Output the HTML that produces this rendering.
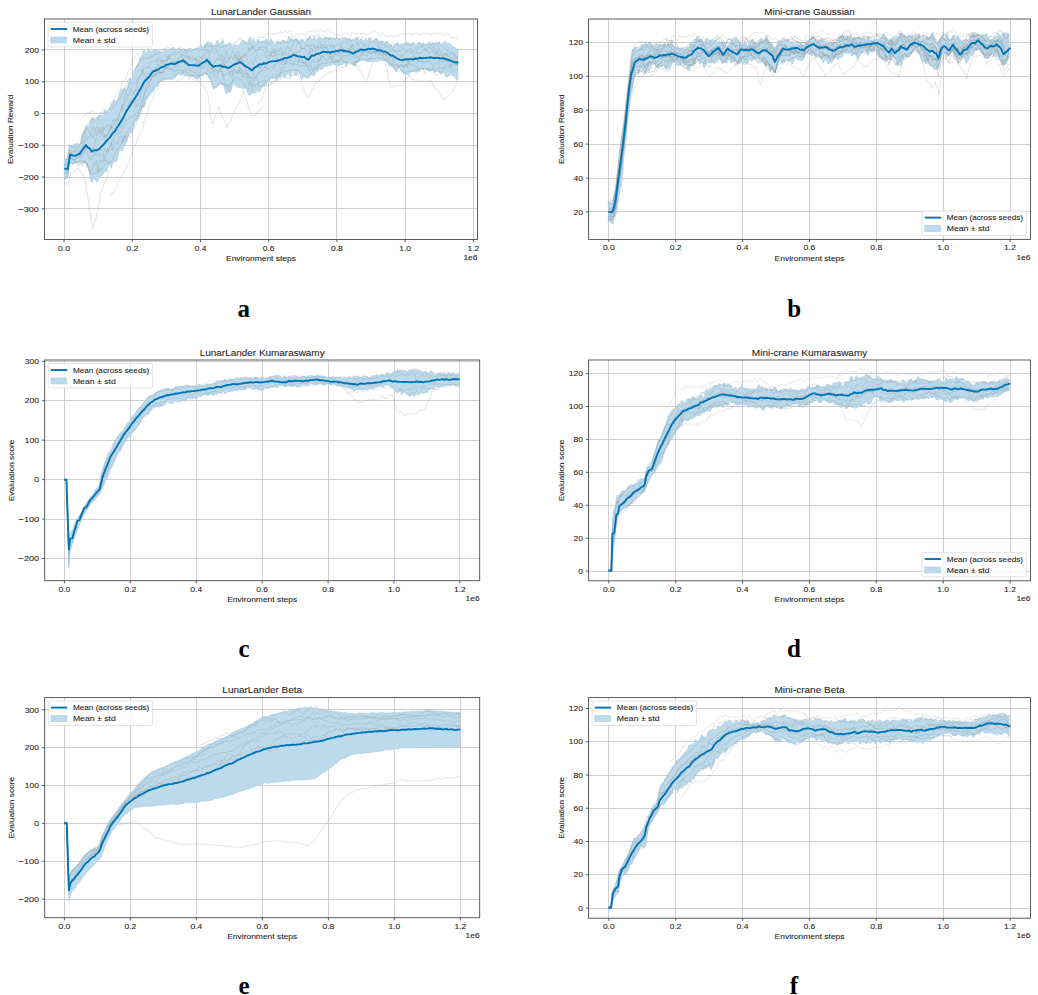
<!DOCTYPE html>
<html><head><meta charset="utf-8"><style>
html,body{margin:0;padding:0;background:#fff;width:1038px;height:995px;overflow:hidden}
svg{display:block}
</style></head><body>
<svg width="1038" height="995" viewBox="0 0 1038 995"><rect width="1038" height="995" fill="#fff"/><clipPath id="clipa"><rect x="44.5" y="19" width="433.0" height="220.5"/></clipPath><path d="M64.50 19V239.5M132.50 19V239.5M200.50 19V239.5M268.50 19V239.5M336.50 19V239.5M405.50 19V239.5M473.50 19V239.5M44.5 49.50H477.5M44.5 81.50H477.5M44.5 113.50H477.5M44.5 145.50H477.5M44.5 177.50H477.5M44.5 208.50H477.5" stroke="#c9c9c9" stroke-width="0.9" fill="none"/><g clip-path="url(#clipa)"><polyline points="64.3,183.6 65.5,183.3 66.7,184.0 67.9,185.0 69.1,179.9 70.3,173.4 70.5,172.5 71.5,171.9 72.7,172.1 73.9,171.8 75.1,170.3 76.3,169.5 77.2,167.9 77.5,167.9 78.7,170.2 79.9,171.1 81.1,172.8 82.3,175.0 83.5,175.5 83.8,175.2 84.7,179.2 85.9,185.5 87.1,193.2 88.3,200.0 89.3,206.6 90.7,216.9 91.9,224.2 92.6,228.6 93.1,227.1 94.3,223.7 95.5,219.7 96.0,218.0 96.7,215.1 97.9,209.1 99.1,202.9 100.3,196.6 101.5,189.8 102.7,187.2 103.9,184.8 105.1,181.8 106.3,179.1 107.5,175.9 108.1,174.4 108.7,172.7 109.9,169.7 111.1,167.0 112.3,164.8 113.5,163.4 114.7,160.0 115.9,157.7 117.0,156.7 118.3,152.6 119.5,150.0 120.7,149.2 121.9,149.2 123.1,147.8 124.3,144.9 125.5,142.5 125.8,143.2 126.7,139.1 127.9,133.0 129.1,129.0 130.3,124.8 131.5,118.8 132.4,115.2 133.9,113.4 135.1,111.2 136.3,109.2 137.5,105.8 138.7,103.6 139.1,103.9 139.9,101.3 141.1,96.4 142.3,92.9 143.5,90.3 144.7,86.6 145.7,84.7 147.1,85.0 148.3,82.6 149.5,80.9 150.7,79.1 151.9,77.2 153.1,77.6 154.3,74.7 154.6,73.8 155.5,74.8 156.7,74.4 157.9,73.2 159.1,73.8 160.3,75.1 161.5,76.5 162.7,75.6 163.4,74.1" fill="none" stroke="#9a9a9a" stroke-opacity="0.4" stroke-width="0.7"/><polyline points="83.8,114.0 85.0,115.0 86.2,115.1 87.4,112.6 88.6,112.8 89.8,112.3 91.0,111.8 92.2,112.0 92.6,110.9 93.4,112.6 94.6,114.1 95.8,112.8 97.0,113.0 98.2,114.2 99.4,113.7 100.6,112.9 101.5,112.1 101.8,112.9 103.0,112.2 104.2,110.6 105.4,109.8 106.6,110.4 107.8,109.8 109.0,108.7 110.2,108.1 110.3,107.2 111.4,104.8 112.6,101.8 113.8,99.9 115.0,98.2 116.2,94.8 117.4,92.5 118.6,91.1 119.8,89.3 121.0,87.7 121.4,85.7 122.2,82.3 123.4,80.4 124.6,79.9 125.8,78.9 127.0,74.9 128.2,71.5 129.4,69.5 130.2,70.1 130.6,70.1 131.8,62.7 132.4,57.7 133.0,58.8 134.2,59.2 135.4,55.6 136.6,53.9 137.8,55.0 139.0,54.0 139.1,53.1" fill="none" stroke="#9a9a9a" stroke-opacity="0.4" stroke-width="0.7"/><polyline points="110.3,196.1 111.5,193.6 112.7,192.9 113.9,192.1 115.1,188.2 116.3,186.6 117.5,185.1 118.7,181.6 119.9,179.7 121.1,178.1 121.4,177.7 122.3,175.9 123.5,172.6 124.7,170.4 125.9,168.6 127.1,165.3 128.3,162.5 129.5,159.9 130.7,156.0 131.9,152.0 132.4,151.7 133.1,149.1 134.3,146.6 135.5,144.8 136.7,141.2 137.9,138.4 139.1,134.2 140.3,131.3 141.5,130.4 142.7,128.6 143.5,125.6 143.9,121.3 145.1,118.7 146.3,116.9 147.5,112.1 148.7,108.6 149.9,104.4 151.1,100.7 152.3,99.9 153.5,96.6 154.6,92.3 155.9,90.9 157.1,89.4 158.3,87.4 159.5,86.3 160.7,85.2 161.9,84.8 163.1,84.5 164.3,82.6 165.5,81.6 165.6,81.6" fill="none" stroke="#9a9a9a" stroke-opacity="0.4" stroke-width="0.7"/><polyline points="176.7,81.3 177.9,80.6 179.1,79.5 180.3,80.0 181.5,79.3 182.7,76.8 183.9,75.6 185.1,74.1 185.5,73.7 186.3,74.7 187.5,74.4 188.7,73.7 189.9,75.1 191.1,77.3 192.3,78.0 193.5,79.4 194.7,80.4 195.9,80.9 197.1,80.4 198.3,79.3 198.8,80.7 199.5,82.7 200.7,83.7 201.9,85.8 203.1,86.3 204.3,87.0 205.5,90.6 206.7,92.3 207.6,92.8 209.1,103.9 210.3,113.4 211.5,121.0 212.0,123.5 212.7,123.8 213.9,121.9 215.1,116.5 216.3,113.2 217.5,110.9 218.7,107.3 218.7,106.8 219.9,109.5 221.1,113.0 222.3,116.2 223.5,119.4 224.7,121.1 225.9,124.3 227.1,127.5 227.5,124.8 228.3,123.5 229.5,123.5 230.7,121.1 231.9,116.6 233.1,113.9 234.3,111.7 235.5,108.8 236.4,106.9 236.7,106.5 237.9,105.4 239.1,103.4 240.3,98.7 241.5,96.8 242.7,94.1 243.0,90.0 243.9,92.5 245.1,96.7 246.3,100.7 247.5,103.3 248.7,107.3 249.9,111.6 251.1,114.9 251.8,116.4 252.3,116.0 253.5,115.6 254.7,115.5 255.9,114.7 257.1,111.9 258.3,110.7 259.5,110.6 260.7,108.7 261.9,107.0 263.1,107.0 264.0,105.9" fill="none" stroke="#9a9a9a" stroke-opacity="0.4" stroke-width="0.7"/><polyline points="258.0,36.9 259.2,37.8 260.4,37.7 261.6,37.4 262.8,37.2 264.0,37.6 265.2,36.4 266.4,33.9 267.6,35.0 268.8,34.9 269.1,34.5 270.0,34.1 271.2,33.5 272.4,34.1 273.6,33.6 274.8,34.1 276.0,34.2 277.2,33.2 278.4,33.5 279.6,32.6 280.1,31.6 280.8,32.2 282.0,33.5 283.2,32.9 284.4,31.3 285.6,31.7 286.8,32.6 288.0,32.5 289.2,31.6 290.4,31.7 291.6,34.8 292.8,37.0 294.0,36.1 295.2,35.0 296.4,34.6 297.6,35.1 298.8,34.3 300.0,33.2 301.2,34.2 302.2,34.6 303.6,34.4 304.8,34.4 306.0,33.9 307.2,33.0 308.4,32.1 309.6,31.5 310.8,31.6 312.0,31.3 313.2,30.4 314.4,30.0 315.6,31.0 316.8,31.8 317.7,31.1 318.0,30.7 319.2,31.0 320.4,30.7 321.6,29.7 322.8,30.8 324.0,31.7 325.2,31.4 326.4,30.9 327.6,28.7 328.8,29.2 330.0,31.8 331.2,31.9 332.4,32.2 333.6,33.5 334.8,34.3 336.0,34.0 337.2,35.3 337.6,35.9 338.4,34.5 339.6,35.2 340.8,35.3 342.0,35.1 343.2,35.0 344.4,33.0 345.6,32.4 346.8,33.5 348.0,34.5 349.2,35.7 350.4,35.8 351.6,33.6 352.8,32.9 354.0,33.9 355.2,33.6 356.4,33.3 357.5,33.8 358.8,33.6 360.0,33.7 361.2,33.8 362.4,33.6 363.6,34.1 364.8,34.2 366.0,34.2 367.2,34.8 368.4,34.5 369.6,33.6 370.8,32.7 372.0,31.8 373.0,31.4 374.4,31.9 375.6,31.8 376.8,31.9 378.0,33.5 379.2,34.6 380.4,35.3 381.6,33.8 382.8,32.7 384.0,34.5 385.2,34.6 386.4,35.8 387.6,37.4 388.8,35.9 390.0,35.2 390.7,35.9 391.2,35.5 392.4,35.4 393.6,37.1 394.8,36.8 396.0,35.5 397.2,35.9 398.4,36.3 399.6,34.2 400.8,33.1 402.0,34.7 403.2,33.5 404.4,33.3 405.6,33.7 406.8,34.2 408.0,34.4 408.4,34.0 409.2,33.3 410.4,33.5 411.6,35.7 412.8,34.1 414.0,32.9 415.2,33.5 416.4,32.8 417.6,32.7 418.8,34.6 420.0,34.8 421.2,33.8 422.4,33.4 423.6,33.3 424.8,34.2 426.0,33.4 426.0,33.5 427.2,33.6 428.4,33.0 429.6,35.3 430.8,35.2 432.0,33.4 433.2,33.6 434.4,32.4 435.6,32.4 436.8,33.7 438.0,33.4 439.2,33.8 440.4,33.0 441.6,33.8 442.8,34.7 443.7,34.5 445.2,35.4 446.4,34.1 447.6,33.2 448.8,34.8 450.0,35.7 451.2,36.8 452.4,37.3 453.6,37.7 454.8,37.9 456.0,37.7 457.2,38.7 458.1,38.2" fill="none" stroke="#9a9a9a" stroke-opacity="0.4" stroke-width="0.7"/><polyline points="258.0,104.7 259.2,101.3 260.4,101.0 261.6,99.7 262.8,95.3 264.0,92.1 265.2,88.7 266.4,86.0 266.8,86.3 267.6,86.1 268.8,85.3 270.0,84.5 271.2,83.4 272.4,81.9 273.6,81.1 274.8,79.9 276.0,80.3 277.2,79.9 278.4,79.8 279.6,80.2 280.1,78.9 280.8,79.3 282.0,78.9 283.2,77.3 284.4,77.0 285.6,77.2 286.8,77.9 288.0,78.6 289.2,78.7 290.4,77.8 291.6,76.3 292.8,75.5 294.0,75.1 295.2,74.2 296.4,74.3 297.6,73.6 297.8,73.6 298.8,77.6 300.0,79.3 301.2,81.5 302.4,85.1 303.6,88.3 304.8,91.6 306.0,94.8 307.2,96.6 307.7,97.7 308.4,97.7 309.6,95.7 310.8,92.4 312.0,89.3 313.2,87.9 314.4,85.1 315.5,83.0 316.8,82.9 318.0,81.5 319.2,81.1 320.4,78.2 321.6,77.1 322.8,77.5 324.0,76.3 325.2,75.6 326.4,73.6 327.6,71.9 328.8,72.2 330.0,72.6 331.2,71.7 332.4,71.2 333.6,70.2 334.8,69.2 336.0,69.9 337.2,70.8 338.4,69.7 339.6,67.7 340.8,67.4 342.0,67.6 342.0,67.1 343.2,68.3 344.4,67.7 345.6,65.3 346.8,65.6 348.0,65.4 349.2,64.4 350.4,63.5 351.6,63.2 352.8,63.5 354.0,64.3 355.2,65.1 355.3,63.4 356.4,64.3 357.6,66.7 358.8,69.4 360.0,71.4 361.2,72.1 362.4,74.7 363.6,78.1 364.8,79.8 366.0,81.9 366.3,83.6 367.2,80.1 368.4,76.0 369.6,71.9 370.8,67.0 372.0,64.5 373.0,60.3 374.4,59.0 375.6,61.9 376.8,61.5 378.0,58.9 379.2,58.9 380.4,58.5 381.6,58.9 382.8,60.3 384.0,59.5 384.0,59.2 385.2,63.8 386.4,67.1 387.6,71.6 388.8,78.1 390.0,83.6 391.2,87.0 391.8,87.6 392.4,87.1 393.6,87.0 394.8,86.8 396.0,85.9 397.2,85.7 398.4,85.4 399.6,84.9 400.8,84.7 401.7,85.6 403.2,85.1 404.4,82.1 405.6,79.2 406.8,77.5 408.0,77.8 408.4,76.9 409.2,74.3 410.4,76.5 411.6,79.6 412.8,79.7 414.0,79.4 415.2,80.2 416.4,81.2 417.2,80.6 417.6,80.0 418.8,80.5 420.0,80.3 421.2,80.8 422.4,81.0 423.6,81.6 424.8,81.5 426.0,80.6 427.2,81.6 428.4,82.3 429.6,80.0 430.5,80.2 430.8,81.3 432.0,81.5 433.2,85.5 434.4,88.0 435.6,88.9 436.8,89.3 438.0,90.1 439.2,92.3 440.4,94.2 441.6,96.6 442.8,99.2 443.7,99.4 445.2,97.5 446.4,97.3 447.6,96.4 448.8,95.7 450.0,94.5 451.2,92.7 452.4,91.4 452.6,92.3 453.6,89.4 454.8,86.7 456.0,84.6 457.2,81.6 458.1,81.7" fill="none" stroke="#9a9a9a" stroke-opacity="0.4" stroke-width="0.7"/><polygon points="64.3,159.3 65.5,159.3 66.7,158.9 67.9,156.3 69.1,144.6 70.3,146.3 71.5,145.3 72.7,145.3 73.9,143.8 75.1,144.1 76.3,144.0 77.5,142.7 78.7,144.4 79.9,145.1 81.1,140.4 82.3,133.6 83.5,131.4 84.7,129.1 85.9,126.2 87.1,125.5 88.3,126.6 89.5,124.9 90.7,119.9 91.9,117.6 93.1,118.5 94.3,119.0 95.5,120.2 96.7,117.5 97.9,116.0 99.1,115.2 100.3,114.4 101.5,115.7 102.7,116.9 103.9,113.0 105.1,109.6 106.3,112.0 107.5,111.8 108.7,111.3 109.9,107.4 111.1,104.0 112.3,102.8 113.5,99.6 114.7,99.7 115.9,101.9 117.1,100.4 118.3,97.5 119.5,93.0 120.7,89.4 121.9,89.4 123.1,89.0 124.3,87.7 125.5,89.3 126.7,89.9 127.9,85.0 129.1,80.3 130.3,78.0 131.5,79.0 132.7,77.8 133.9,72.7 135.1,69.0 136.3,66.8 137.5,65.4 138.7,62.4 139.9,58.0 141.1,55.9 142.3,55.6 143.5,50.5 144.7,50.4 145.9,54.8 147.1,50.2 148.3,48.2 149.5,50.6 150.7,50.9 151.9,51.9 153.1,50.3 154.3,50.4 155.5,49.3 156.7,49.4 157.9,50.9 159.1,50.5 160.3,51.5 161.5,52.5 162.7,52.0 163.9,50.3 165.1,50.5 166.3,49.4 167.5,49.6 168.7,50.8 169.9,50.1 171.1,49.2 172.3,47.5 173.5,47.2 174.7,48.8 175.9,51.1 177.1,50.0 178.3,48.4 179.5,48.6 180.7,49.8 181.9,50.5 183.1,49.3 184.3,49.1 185.5,49.1 186.7,49.9 187.9,48.7 189.1,47.9 190.3,48.4 191.5,48.5 192.7,50.5 193.9,49.4 195.1,48.8 196.3,48.5 197.5,47.9 198.7,48.0 199.9,45.0 201.1,45.1 202.3,47.4 203.5,47.2 204.7,44.6 205.9,43.1 207.1,42.2 208.3,41.0 209.5,42.9 210.7,42.5 211.9,43.2 213.1,45.5 214.3,45.4 215.5,45.5 216.7,40.8 217.9,40.0 219.1,43.5 220.3,44.0 221.5,41.5 222.7,39.3 223.9,42.4 225.1,45.3 226.3,44.1 227.5,45.0 228.7,44.0 229.9,41.9 231.1,45.4 232.3,46.2 233.5,44.8 234.7,44.7 235.9,44.5 237.1,45.1 238.3,45.9 239.5,44.1 240.7,42.5 241.9,41.5 243.1,40.0 244.3,41.3 245.5,42.5 246.7,42.2 247.9,41.8 249.1,37.8 250.3,36.9 251.5,40.2 252.7,39.2 253.9,38.9 255.1,41.9 256.3,42.2 257.5,39.4 258.7,39.3 259.9,42.1 261.1,42.4 262.3,40.3 263.5,41.4 264.7,41.0 265.9,38.7 267.1,39.7 268.3,42.4 269.5,41.6 270.7,38.5 271.9,40.3 273.1,42.2 274.3,43.8 275.5,44.9 276.7,42.0 277.9,40.4 279.1,41.7 280.3,42.0 281.5,41.0 282.7,40.1 283.9,40.6 285.1,40.8 286.3,41.8 287.5,40.6 288.7,36.0 289.9,37.0 291.1,38.3 292.3,38.8 293.5,39.6 294.7,39.4 295.9,39.4 297.1,38.6 298.3,39.6 299.5,41.7 300.7,40.8 301.9,38.4 303.1,39.8 304.3,42.4 305.5,42.2 306.7,38.9 307.9,38.2 309.1,37.9 310.3,36.3 311.5,39.0 312.7,39.6 313.9,36.2 315.1,37.5 316.3,40.2 317.5,39.8 318.7,36.5 319.9,37.2 321.1,38.0 322.3,38.1 323.5,39.8 324.7,37.2 325.9,36.6 327.1,38.6 328.3,38.3 329.5,36.5 330.7,38.2 331.9,38.9 333.1,37.7 334.3,38.4 335.5,39.4 336.7,37.6 337.9,38.4 339.1,39.6 340.3,38.6 341.5,39.2 342.7,38.6 343.9,38.1 345.1,38.5 346.3,38.0 347.5,38.5 348.7,38.6 349.9,38.1 351.1,39.7 352.3,39.5 353.5,39.9 354.7,39.2 355.9,37.5 357.1,38.1 358.3,39.1 359.5,40.3 360.7,39.4 361.9,39.2 363.1,40.8 364.3,40.8 365.5,39.2 366.7,40.2 367.9,40.9 369.1,38.1 370.3,38.0 371.5,40.4 372.7,41.4 373.9,40.6 375.1,39.2 376.3,38.0 377.5,39.2 378.7,41.4 379.9,41.3 381.1,40.7 382.3,41.2 383.5,42.1 384.7,43.8 385.9,41.5 387.1,40.9 388.3,44.7 389.5,44.9 390.7,44.5 391.9,45.9 393.1,46.3 394.3,44.9 395.5,44.6 396.7,43.0 397.9,42.3 399.1,45.3 400.3,45.4 401.5,43.5 402.7,44.2 403.9,44.7 405.1,43.0 406.3,42.3 407.5,41.9 408.7,43.2 409.9,44.1 411.1,44.3 412.3,43.8 413.5,42.4 414.7,44.9 415.9,45.8 417.1,43.9 418.3,43.1 419.5,42.1 420.7,43.0 421.9,44.7 423.1,42.5 424.3,43.8 425.5,46.0 426.7,43.8 427.9,42.9 429.1,42.2 430.3,42.1 431.5,42.9 432.7,42.6 433.9,42.9 435.1,43.1 436.3,42.3 437.5,43.1 438.7,42.0 439.9,42.6 441.1,44.7 442.3,43.2 443.5,42.2 444.7,42.3 445.9,41.7 447.1,43.6 448.3,43.7 449.5,42.6 450.7,44.4 451.9,45.4 453.1,46.7 454.3,47.4 455.5,48.1 456.7,48.9 457.9,49.6 457.9,79.4 456.7,80.3 455.5,77.8 454.3,75.7 453.1,76.2 451.9,74.7 450.7,74.6 449.5,75.9 448.3,76.2 447.1,76.9 445.9,76.9 444.7,75.0 443.5,72.2 442.3,73.3 441.1,74.3 439.9,72.3 438.7,71.9 437.5,71.0 436.3,71.7 435.1,72.8 433.9,71.5 432.7,69.9 431.5,70.1 430.3,70.9 429.1,72.0 427.9,70.6 426.7,69.6 425.5,69.3 424.3,68.8 423.1,69.9 421.9,68.4 420.7,68.9 419.5,70.9 418.3,71.6 417.1,72.1 415.9,72.2 414.7,71.7 413.5,71.6 412.3,71.5 411.1,71.9 409.9,73.1 408.7,74.2 407.5,75.0 406.3,74.0 405.1,74.1 403.9,73.5 402.7,71.4 401.5,71.1 400.3,70.2 399.1,67.8 397.9,68.7 396.7,71.9 395.5,70.9 394.3,69.6 393.1,67.7 391.9,66.7 390.7,66.6 389.5,65.8 388.3,65.0 387.1,62.9 385.9,61.6 384.7,60.7 383.5,60.7 382.3,60.9 381.1,59.7 379.9,59.9 378.7,61.1 377.5,61.2 376.3,59.7 375.1,60.2 373.9,61.9 372.7,61.8 371.5,61.7 370.3,62.0 369.1,60.9 367.9,62.0 366.7,62.0 365.5,59.9 364.3,60.5 363.1,60.3 361.9,59.7 360.7,61.0 359.5,61.7 358.3,61.3 357.1,62.8 355.9,65.1 354.7,67.0 353.5,65.4 352.3,62.9 351.1,61.8 349.9,61.4 348.7,61.0 347.5,63.6 346.3,66.8 345.1,63.3 343.9,62.2 342.7,64.7 341.5,64.7 340.3,65.1 339.1,65.9 337.9,65.7 336.7,66.0 335.5,65.2 334.3,65.1 333.1,63.8 331.9,64.3 330.7,66.4 329.5,65.1 328.3,65.4 327.1,66.8 325.9,66.3 324.7,66.2 323.5,66.9 322.3,69.3 321.1,70.0 319.9,67.5 318.7,69.7 317.5,71.4 316.3,71.0 315.1,73.9 313.9,76.4 312.7,75.1 311.5,75.2 310.3,75.1 309.1,76.2 307.9,78.1 306.7,77.1 305.5,77.6 304.3,75.6 303.1,78.1 301.9,79.8 300.7,77.3 299.5,73.6 298.3,71.2 297.1,74.4 295.9,76.1 294.7,74.7 293.5,70.1 292.3,70.6 291.1,76.7 289.9,76.7 288.7,73.1 287.5,73.5 286.3,75.5 285.1,77.4 283.9,77.1 282.7,75.1 281.5,75.8 280.3,78.2 279.1,77.3 277.9,76.2 276.7,78.8 275.5,79.3 274.3,78.1 273.1,79.0 271.9,77.9 270.7,77.3 269.5,82.2 268.3,82.3 267.1,81.6 265.9,84.1 264.7,86.5 263.5,86.8 262.3,87.2 261.1,89.0 259.9,91.6 258.7,92.1 257.5,89.7 256.3,91.4 255.1,93.5 253.9,93.4 252.7,93.0 251.5,94.0 250.3,95.1 249.1,95.4 247.9,93.6 246.7,89.8 245.5,87.7 244.3,88.6 243.1,88.9 241.9,88.0 240.7,87.4 239.5,87.4 238.3,87.2 237.1,87.7 235.9,85.4 234.7,84.9 233.5,83.9 232.3,85.9 231.1,91.3 229.9,92.4 228.7,92.3 227.5,93.3 226.3,93.8 225.1,90.6 223.9,85.6 222.7,85.5 221.5,84.4 220.3,83.9 219.1,84.9 217.9,85.7 216.7,87.7 215.5,87.1 214.3,89.3 213.1,88.4 211.9,82.9 210.7,79.5 209.5,78.6 208.3,77.3 207.1,75.1 205.9,74.3 204.7,73.3 203.5,74.4 202.3,75.1 201.1,74.9 199.9,78.2 198.7,78.8 197.5,77.3 196.3,78.9 195.1,77.9 193.9,76.8 192.7,76.7 191.5,75.5 190.3,76.2 189.1,76.4 187.9,76.3 186.7,75.1 185.5,76.1 184.3,76.1 183.1,73.3 181.9,75.2 180.7,75.7 179.5,74.1 178.3,73.4 177.1,74.9 175.9,77.0 174.7,77.8 173.5,79.1 172.3,79.4 171.1,79.8 169.9,79.6 168.7,78.6 167.5,79.7 166.3,79.5 165.1,79.2 163.9,79.7 162.7,81.3 161.5,81.8 160.3,80.6 159.1,83.5 157.9,86.4 156.7,86.2 155.5,87.5 154.3,89.4 153.1,92.1 151.9,91.9 150.7,93.5 149.5,96.1 148.3,97.2 147.1,99.3 145.9,100.5 144.7,105.6 143.5,107.9 142.3,105.7 141.1,109.7 139.9,115.0 138.7,117.4 137.5,120.4 136.3,120.2 135.1,121.9 133.9,127.1 132.7,130.1 131.5,132.4 130.3,132.7 129.1,133.1 127.9,137.6 126.7,141.5 125.5,143.8 124.3,145.1 123.1,148.6 121.9,151.3 120.7,149.4 119.5,149.1 118.3,154.7 117.1,160.4 115.9,161.1 114.7,162.2 113.5,160.8 112.3,163.3 111.1,167.8 109.9,164.6 108.7,164.2 107.5,169.8 106.3,172.2 105.1,171.1 103.9,171.9 102.7,174.9 101.5,175.8 100.3,176.4 99.1,177.9 97.9,181.2 96.7,181.8 95.5,179.4 94.3,178.8 93.1,180.1 91.9,182.6 90.7,180.9 89.5,172.9 88.3,168.1 87.1,167.1 85.9,162.6 84.7,163.2 83.5,162.4 82.3,162.1 81.1,162.5 79.9,162.7 78.7,163.7 77.5,162.7 76.3,162.2 75.1,162.9 73.9,163.8 72.7,163.9 71.5,162.5 70.3,163.5 69.1,164.0 67.9,177.7 66.7,179.2 65.5,178.9 64.3,178.4" fill="#bcdaeb" stroke="#9fc6de" stroke-width="0.5"/><polyline points="64.3,158.6 65.5,158.3 66.7,159.0 67.9,157.6 69.1,151.4 70.3,144.9 71.5,146.4 72.7,147.3 73.9,148.2 75.1,145.8 76.3,145.7 77.5,147.1 78.7,145.3 79.9,143.9 81.1,142.1 82.3,136.9 83.5,134.2 84.7,130.0 85.9,126.7 87.1,125.5 88.3,124.3 89.5,122.9 90.7,122.0 91.9,119.2 93.1,117.6 94.3,120.3 95.5,119.5 96.7,118.6 97.9,119.8 99.1,117.0 100.3,115.4 101.5,115.3 102.7,113.3 103.9,114.1 105.1,113.1 106.3,112.4 107.5,111.4 108.7,109.8 109.9,109.7 111.1,107.7 112.3,108.3 113.5,106.4 114.7,105.2 115.9,103.9 117.1,102.8 118.3,99.2 119.5,97.9 120.7,97.9 121.9,94.6 123.1,91.6 124.3,91.8 125.5,87.8 126.7,83.5 127.9,80.4 129.1,79.0 130.3,76.9 131.5,73.6 132.7,71.6 133.9,70.0 135.1,69.0 136.3,66.1 137.5,66.3 138.7,62.5 139.9,61.8 141.1,59.8 142.3,58.9 143.5,58.8 144.7,58.5 145.9,57.7 147.1,58.0 148.3,57.6 149.5,58.4 150.7,56.0 151.9,56.2 153.1,56.6 154.3,54.1 155.5,54.8 156.7,53.9 157.9,52.3 159.1,52.6 160.3,53.1 161.5,51.1 162.7,49.4 163.9,49.1 165.1,48.9 166.3,48.8 167.5,47.1 168.7,47.5 169.9,48.6 171.1,49.0 172.3,48.1 173.5,49.3 174.7,49.0 175.9,49.0 177.1,49.6 178.3,47.8 179.5,47.3 180.7,51.2 181.9,47.8 183.1,48.6 184.3,50.0 185.5,51.0 186.7,49.9 187.9,52.2 189.1,50.4 190.3,50.4 191.5,50.9 192.7,49.9 193.9,49.9 195.1,49.4 196.3,47.8 197.5,47.8 198.7,49.0 199.9,49.1 201.1,50.0 202.3,49.9 203.5,49.8 204.7,46.0 205.9,46.8 207.1,45.5 208.3,46.3 209.5,46.2 210.7,47.1 211.9,45.9 213.1,46.8 214.3,44.6 215.5,45.4 216.7,45.7 217.9,45.3 219.1,45.7 220.3,47.7 221.5,47.4 222.7,46.8 223.9,46.7 225.1,45.2 226.3,46.2 227.5,44.2 228.7,43.7 229.9,43.1 231.1,44.6 232.3,44.9 233.5,43.0 234.7,42.7 235.9,42.8 237.1,41.3 238.3,39.3 239.5,38.6 240.7,38.3 241.9,40.2 243.1,40.2 244.3,41.9 245.5,42.4 246.7,44.5 247.9,43.3 249.1,42.7 250.3,42.6 251.5,43.6 252.7,47.8 253.9,46.0 255.1,46.1 256.3,45.4 257.5,44.2 258.7,42.6 259.9,41.9 261.1,43.1 262.3,42.1 263.5,42.0 264.7,42.7 265.9,42.1 267.1,43.9 268.3,44.0 269.5,44.4 270.7,42.3 271.9,41.5 273.1,41.4 274.3,41.0 275.5,41.4 276.7,43.9 277.9,42.1 279.1,43.4 280.3,43.0 281.5,43.6 282.7,44.0 283.9,41.8 285.1,41.3 286.3,42.5 287.5,42.3 288.7,42.7 289.9,41.9 291.1,40.1 292.3,40.1 293.5,41.0 294.7,40.1 295.9,40.0 297.1,41.0 298.3,42.3 299.5,42.2 300.7,41.5 301.9,41.4 303.1,40.0 304.3,39.9 305.5,38.2 306.7,39.4 307.9,40.2 309.1,38.9 310.3,36.4 311.5,35.2 312.7,35.6 313.9,35.2 315.1,36.1 316.3,35.5 317.5,36.1 318.7,34.0 319.9,35.2 321.1,34.5 322.3,35.4 323.5,36.4 324.7,37.1 325.9,38.9 327.1,37.3 328.3,39.5 329.5,39.1 330.7,39.1 331.9,38.4 333.1,38.0 334.3,38.2 335.5,38.7 336.7,38.1 337.9,38.3 339.1,39.6 340.3,36.9 341.5,37.8 342.7,37.4 343.9,38.0 345.1,36.4 346.3,38.3 347.5,40.2 348.7,39.6 349.9,41.4 351.1,41.2 352.3,39.8 353.5,38.9 354.7,39.2 355.9,38.4 357.1,39.4 358.3,37.1 359.5,37.5 360.7,39.2 361.9,38.8 363.1,36.7 364.3,37.6 365.5,38.2 366.7,38.7 367.9,38.0 369.1,38.8 370.3,39.0 371.5,38.5 372.7,39.4 373.9,40.3 375.1,39.5 376.3,39.3 377.5,40.6 378.7,41.8 379.9,41.6 381.1,42.5 382.3,41.1 383.5,41.8 384.7,42.1 385.9,41.7 387.1,42.8 388.3,43.3 389.5,43.2 390.7,44.5 391.9,44.7 393.1,42.7 394.3,43.6 395.5,44.3 396.7,43.9 397.9,44.9 399.1,45.4 400.3,45.2 401.5,44.7 402.7,44.0 403.9,42.4 405.1,44.3 406.3,43.9 407.5,44.7 408.7,45.1 409.9,44.2 411.1,44.0 412.3,43.7 413.5,43.1 414.7,44.0 415.9,44.1 417.1,43.9 418.3,43.3 419.5,43.4 420.7,44.0 421.9,46.6 423.1,43.8 424.3,45.0 425.5,45.1 426.7,44.6 427.9,44.6 429.1,45.8 430.3,45.0 431.5,45.1 432.7,43.4 433.9,44.0 435.1,43.2 436.3,44.1 437.5,44.2 438.7,42.5 439.9,44.6 441.1,45.7 442.3,45.9 443.5,47.7 444.7,48.5 445.9,49.5 447.1,50.0 448.3,50.8 449.5,51.6 450.7,53.0 451.9,52.8 453.1,53.8 454.3,55.9 455.5,56.7 456.7,57.6 457.9,59.3" fill="none" stroke="#7a7a7a" stroke-opacity="0.3" stroke-width="0.7"/><polyline points="64.3,165.3 65.5,165.2 66.7,165.0 67.9,163.3 69.1,156.6 70.3,150.8 71.5,152.1 72.7,151.7 73.9,151.5 75.1,150.4 76.3,148.4 77.5,148.3 78.7,147.4 79.9,146.3 81.1,143.2 82.3,142.9 83.5,141.1 84.7,136.6 85.9,128.7 87.1,127.9 88.3,130.0 89.5,133.0 90.7,134.1 91.9,135.7 93.1,138.5 94.3,133.8 95.5,128.0 96.7,126.9 97.9,130.2 99.1,130.6 100.3,130.6 101.5,134.8 102.7,136.5 103.9,137.3 105.1,134.5 106.3,136.9 107.5,135.9 108.7,131.7 109.9,127.8 111.1,128.2 112.3,127.5 113.5,124.0 114.7,124.4 115.9,118.4 117.1,120.1 118.3,120.5 119.5,112.8 120.7,111.1 121.9,107.8 123.1,103.6 124.3,99.2 125.5,94.1 126.7,90.9 127.9,87.3 129.1,85.1 130.3,81.9 131.5,83.8 132.7,83.8 133.9,82.1 135.1,82.9 136.3,82.2 137.5,78.0 138.7,78.2 139.9,77.0 141.1,73.9 142.3,74.0 143.5,68.8 144.7,68.4 145.9,67.5 147.1,66.5 148.3,68.5 149.5,63.7 150.7,62.5 151.9,61.4 153.1,60.7 154.3,61.0 155.5,61.3 156.7,62.3 157.9,57.7 159.1,58.7 160.3,60.6 161.5,61.8 162.7,62.2 163.9,60.2 165.1,60.7 166.3,59.9 167.5,59.9 168.7,55.2 169.9,58.8 171.1,60.4 172.3,61.6 173.5,61.7 174.7,62.2 175.9,61.6 177.1,60.7 178.3,58.5 179.5,57.6 180.7,56.5 181.9,57.2 183.1,53.8 184.3,52.4 185.5,50.3 186.7,54.4 187.9,55.9 189.1,60.0 190.3,57.8 191.5,58.1 192.7,57.1 193.9,60.0 195.1,58.0 196.3,60.4 197.5,61.5 198.7,61.5 199.9,59.1 201.1,57.1 202.3,57.3 203.5,53.0 204.7,51.3 205.9,49.0 207.1,50.7 208.3,49.8 209.5,51.9 210.7,53.5 211.9,48.8 213.1,48.1 214.3,48.9 215.5,48.8 216.7,49.6 217.9,52.7 219.1,56.3 220.3,55.9 221.5,54.6 222.7,56.8 223.9,56.7 225.1,58.8 226.3,50.9 227.5,54.8 228.7,59.3 229.9,56.9 231.1,56.4 232.3,50.8 233.5,52.3 234.7,56.2 235.9,59.2 237.1,58.5 238.3,59.2 239.5,60.9 240.7,57.3 241.9,58.8 243.1,54.9 244.3,54.4 245.5,54.9 246.7,53.3 247.9,51.5 249.1,47.9 250.3,51.2 251.5,46.4 252.7,49.1 253.9,46.3 255.1,51.8 256.3,49.5 257.5,49.4 258.7,49.7 259.9,49.0 261.1,49.8 262.3,49.4 263.5,50.3 264.7,52.2 265.9,57.6 267.1,56.2 268.3,54.3 269.5,55.7 270.7,54.0 271.9,55.9 273.1,57.1 274.3,54.7 275.5,55.9 276.7,54.1 277.9,55.3 279.1,54.4 280.3,54.5 281.5,54.7 282.7,53.5 283.9,51.7 285.1,50.2 286.3,48.9 287.5,46.0 288.7,48.8 289.9,48.4 291.1,48.3 292.3,45.6 293.5,42.7 294.7,39.9 295.9,39.1 297.1,41.2 298.3,44.4 299.5,42.6 300.7,45.4 301.9,48.5 303.1,49.3 304.3,47.2 305.5,44.9 306.7,46.4 307.9,45.4 309.1,46.6 310.3,46.2 311.5,44.7 312.7,44.4 313.9,45.2 315.1,46.3 316.3,46.1 317.5,47.8 318.7,43.3 319.9,42.2 321.1,44.5 322.3,47.2 323.5,46.9 324.7,48.2 325.9,46.9 327.1,50.0 328.3,50.4 329.5,48.9 330.7,45.4 331.9,45.6 333.1,45.2 334.3,46.7 335.5,45.9 336.7,44.6 337.9,44.2 339.1,44.7 340.3,46.3 341.5,44.1 342.7,42.2 343.9,41.4 345.1,42.2 346.3,42.9 347.5,42.9 348.7,44.8 349.9,46.4 351.1,47.7 352.3,48.7 353.5,48.9 354.7,50.1 355.9,50.8 357.1,48.3 358.3,48.6 359.5,48.3 360.7,49.2 361.9,47.3 363.1,46.7 364.3,45.8 365.5,44.3 366.7,46.6 367.9,47.2 369.1,44.2 370.3,41.7 371.5,42.0 372.7,40.8 373.9,42.3 375.1,41.9 376.3,43.0 377.5,42.7 378.7,46.5 379.9,43.3 381.1,43.6 382.3,43.8 383.5,44.7 384.7,44.2 385.9,45.4 387.1,48.3 388.3,47.7 389.5,48.1 390.7,50.8 391.9,50.0 393.1,49.4 394.3,51.6 395.5,50.1 396.7,51.2 397.9,50.9 399.1,50.4 400.3,50.9 401.5,49.8 402.7,47.6 403.9,49.2 405.1,50.2 406.3,50.1 407.5,50.7 408.7,50.8 409.9,49.3 411.1,49.0 412.3,51.9 413.5,53.4 414.7,53.8 415.9,53.0 417.1,52.2 418.3,54.6 419.5,53.9 420.7,52.1 421.9,53.0 423.1,49.5 424.3,49.6 425.5,49.8 426.7,48.7 427.9,47.6 429.1,48.0 430.3,47.1 431.5,48.6 432.7,50.3 433.9,46.3 435.1,50.0 436.3,50.4 437.5,53.0 438.7,54.0 439.9,55.4 441.1,55.1 442.3,54.0 443.5,59.6 444.7,57.0 445.9,58.6 447.1,62.8 448.3,59.4 449.5,61.7 450.7,65.4 451.9,64.3 453.1,61.6 454.3,59.5 455.5,60.7 456.7,65.0 457.9,64.4" fill="none" stroke="#7a7a7a" stroke-opacity="0.3" stroke-width="0.7"/><polyline points="64.3,166.5 65.5,163.5 66.7,163.9 67.9,166.2 69.1,158.3 70.3,152.8 71.5,153.4 72.7,152.5 73.9,151.7 75.1,151.8 76.3,152.0 77.5,150.8 78.7,150.9 79.9,150.3 81.1,151.6 82.3,147.3 83.5,145.2 84.7,141.3 85.9,140.3 87.1,139.9 88.3,137.2 89.5,138.3 90.7,133.0 91.9,130.7 93.1,127.2 94.3,129.8 95.5,131.5 96.7,132.2 97.9,130.7 99.1,127.8 100.3,127.7 101.5,128.9 102.7,126.4 103.9,129.8 105.1,127.2 106.3,127.0 107.5,124.2 108.7,125.4 109.9,124.9 111.1,128.1 112.3,121.8 113.5,119.8 114.7,120.2 115.9,121.6 117.1,119.6 118.3,116.4 119.5,113.7 120.7,112.0 121.9,105.5 123.1,109.7 124.3,104.3 125.5,100.0 126.7,99.6 127.9,94.6 129.1,95.1 130.3,87.9 131.5,89.7 132.7,90.6 133.9,94.8 135.1,90.8 136.3,90.3 137.5,81.7 138.7,80.6 139.9,76.6 141.1,74.3 142.3,69.3 143.5,72.1 144.7,75.4 145.9,76.4 147.1,80.6 148.3,76.2 149.5,73.6 150.7,70.0 151.9,68.9 153.1,72.0 154.3,71.9 155.5,68.1 156.7,68.4 157.9,64.3 159.1,65.1 160.3,62.6 161.5,59.9 162.7,61.2 163.9,64.4 165.1,65.9 166.3,61.8 167.5,56.6 168.7,58.9 169.9,54.1 171.1,55.0 172.3,54.7 173.5,55.0 174.7,51.6 175.9,54.8 177.1,52.8 178.3,52.3 179.5,51.8 180.7,53.3 181.9,55.5 183.1,54.8 184.3,54.8 185.5,57.8 186.7,56.9 187.9,57.4 189.1,56.1 190.3,60.7 191.5,60.9 192.7,60.1 193.9,60.3 195.1,59.8 196.3,58.5 197.5,64.3 198.7,64.3 199.9,61.2 201.1,60.1 202.3,57.2 203.5,56.3 204.7,54.8 205.9,54.6 207.1,52.9 208.3,51.1 209.5,56.3 210.7,61.8 211.9,63.8 213.1,65.2 214.3,63.2 215.5,61.2 216.7,59.4 217.9,58.3 219.1,58.6 220.3,60.5 221.5,57.8 222.7,66.1 223.9,58.9 225.1,63.4 226.3,62.7 227.5,59.6 228.7,59.7 229.9,58.6 231.1,57.2 232.3,57.9 233.5,60.2 234.7,55.0 235.9,55.8 237.1,54.7 238.3,51.5 239.5,55.0 240.7,60.3 241.9,61.0 243.1,57.9 244.3,52.8 245.5,56.1 246.7,55.3 247.9,62.8 249.1,63.3 250.3,62.1 251.5,59.6 252.7,64.6 253.9,64.1 255.1,59.1 256.3,57.1 257.5,50.9 258.7,48.8 259.9,46.5 261.1,48.0 262.3,46.7 263.5,47.4 264.7,48.5 265.9,46.3 267.1,52.3 268.3,51.8 269.5,53.1 270.7,53.2 271.9,53.4 273.1,52.6 274.3,50.0 275.5,53.0 276.7,49.7 277.9,51.0 279.1,51.4 280.3,47.4 281.5,49.7 282.7,55.8 283.9,53.4 285.1,52.2 286.3,55.5 287.5,54.6 288.7,53.6 289.9,50.0 291.1,50.6 292.3,50.7 293.5,54.7 294.7,52.9 295.9,55.6 297.1,51.8 298.3,52.1 299.5,51.9 300.7,46.7 301.9,49.7 303.1,48.6 304.3,48.2 305.5,50.8 306.7,52.1 307.9,54.6 309.1,54.9 310.3,48.4 311.5,48.2 312.7,52.1 313.9,50.5 315.1,51.5 316.3,49.0 317.5,49.1 318.7,48.3 319.9,47.7 321.1,45.7 322.3,44.6 323.5,45.9 324.7,44.0 325.9,45.7 327.1,45.5 328.3,44.4 329.5,45.2 330.7,46.2 331.9,46.3 333.1,47.2 334.3,46.5 335.5,50.9 336.7,50.2 337.9,49.6 339.1,47.7 340.3,48.7 341.5,46.1 342.7,47.3 343.9,50.0 345.1,50.5 346.3,50.2 347.5,51.2 348.7,53.0 349.9,48.8 351.1,47.0 352.3,43.7 353.5,46.3 354.7,45.1 355.9,44.8 357.1,42.2 358.3,46.3 359.5,42.3 360.7,43.1 361.9,42.7 363.1,44.1 364.3,45.5 365.5,50.2 366.7,49.4 367.9,48.7 369.1,47.9 370.3,49.5 371.5,50.7 372.7,51.2 373.9,50.9 375.1,53.6 376.3,53.5 377.5,51.1 378.7,47.5 379.9,47.8 381.1,47.8 382.3,47.8 383.5,48.9 384.7,46.5 385.9,46.7 387.1,45.6 388.3,46.4 389.5,45.3 390.7,46.1 391.9,46.6 393.1,48.9 394.3,51.5 395.5,52.0 396.7,53.2 397.9,54.1 399.1,55.2 400.3,57.3 401.5,54.3 402.7,56.3 403.9,53.3 405.1,52.2 406.3,52.8 407.5,51.2 408.7,51.7 409.9,53.1 411.1,53.2 412.3,50.9 413.5,51.8 414.7,50.5 415.9,49.4 417.1,50.8 418.3,46.7 419.5,47.4 420.7,46.9 421.9,45.9 423.1,46.8 424.3,47.6 425.5,51.4 426.7,49.5 427.9,52.0 429.1,53.7 430.3,51.9 431.5,51.3 432.7,49.8 433.9,53.1 435.1,51.8 436.3,54.8 437.5,51.8 438.7,47.7 439.9,51.4 441.1,52.5 442.3,54.7 443.5,54.9 444.7,54.5 445.9,53.4 447.1,55.9 448.3,56.5 449.5,53.9 450.7,53.8 451.9,53.1 453.1,53.4 454.3,53.9 455.5,56.7 456.7,56.9 457.9,55.1" fill="none" stroke="#7a7a7a" stroke-opacity="0.3" stroke-width="0.7"/><polyline points="64.3,170.3 65.5,169.5 66.7,171.5 67.9,171.7 69.1,162.6 70.3,156.3 71.5,158.4 72.7,159.4 73.9,160.3 75.1,160.1 76.3,157.7 77.5,156.1 78.7,155.1 79.9,157.2 81.1,156.8 82.3,153.6 83.5,150.8 84.7,150.2 85.9,146.6 87.1,150.5 88.3,150.0 89.5,149.6 90.7,149.7 91.9,151.4 93.1,147.6 94.3,146.0 95.5,140.2 96.7,137.0 97.9,132.4 99.1,133.7 100.3,129.8 101.5,132.4 102.7,128.5 103.9,134.8 105.1,137.9 106.3,135.9 107.5,133.7 108.7,133.9 109.9,130.7 111.1,125.3 112.3,128.7 113.5,130.2 114.7,129.7 115.9,131.1 117.1,130.0 118.3,131.2 119.5,129.4 120.7,125.8 121.9,121.6 123.1,122.4 124.3,114.3 125.5,110.6 126.7,111.9 127.9,106.2 129.1,101.4 130.3,101.8 131.5,99.1 132.7,101.8 133.9,102.2 135.1,101.8 136.3,107.2 137.5,103.0 138.7,98.8 139.9,99.3 141.1,89.5 142.3,90.8 143.5,85.7 144.7,80.6 145.9,78.7 147.1,80.1 148.3,78.0 149.5,79.0 150.7,76.5 151.9,76.7 153.1,76.6 154.3,74.9 155.5,70.0 156.7,69.0 157.9,71.3 159.1,70.5 160.3,73.9 161.5,73.2 162.7,71.3 163.9,69.9 165.1,68.4 166.3,67.5 167.5,66.6 168.7,64.8 169.9,64.1 171.1,62.9 172.3,62.3 173.5,61.8 174.7,61.0 175.9,62.5 177.1,61.3 178.3,63.4 179.5,63.0 180.7,60.6 181.9,61.1 183.1,58.3 184.3,62.4 185.5,63.9 186.7,64.1 187.9,63.7 189.1,66.9 190.3,67.4 191.5,67.2 192.7,68.1 193.9,66.5 195.1,63.0 196.3,62.9 197.5,66.8 198.7,67.9 199.9,67.1 201.1,66.5 202.3,67.3 203.5,63.7 204.7,63.8 205.9,63.3 207.1,61.8 208.3,62.3 209.5,61.6 210.7,63.0 211.9,68.0 213.1,68.4 214.3,69.3 215.5,69.4 216.7,70.5 217.9,69.8 219.1,68.7 220.3,67.2 221.5,65.1 222.7,66.2 223.9,65.6 225.1,64.0 226.3,67.7 227.5,70.1 228.7,72.7 229.9,71.3 231.1,76.3 232.3,75.3 233.5,69.7 234.7,67.9 235.9,60.9 237.1,55.2 238.3,61.4 239.5,58.1 240.7,56.7 241.9,63.3 243.1,60.1 244.3,63.6 245.5,69.0 246.7,73.1 247.9,76.5 249.1,76.5 250.3,77.2 251.5,78.6 252.7,77.7 253.9,70.3 255.1,67.5 256.3,65.7 257.5,66.9 258.7,66.4 259.9,69.4 261.1,66.3 262.3,65.8 263.5,61.5 264.7,67.8 265.9,66.8 267.1,64.3 268.3,60.8 269.5,57.0 270.7,55.2 271.9,50.8 273.1,48.7 274.3,51.9 275.5,54.3 276.7,58.0 277.9,60.7 279.1,60.4 280.3,60.1 281.5,59.1 282.7,62.1 283.9,58.3 285.1,60.4 286.3,61.9 287.5,60.8 288.7,62.2 289.9,60.2 291.1,59.4 292.3,62.9 293.5,64.3 294.7,58.7 295.9,59.9 297.1,60.8 298.3,62.3 299.5,58.9 300.7,56.4 301.9,59.9 303.1,63.2 304.3,63.1 305.5,63.5 306.7,60.0 307.9,58.9 309.1,58.0 310.3,51.3 311.5,50.6 312.7,48.3 313.9,45.5 315.1,48.8 316.3,47.6 317.5,46.6 318.7,47.2 319.9,46.7 321.1,47.6 322.3,49.0 323.5,49.3 324.7,47.0 325.9,46.8 327.1,47.2 328.3,51.1 329.5,54.8 330.7,57.6 331.9,59.7 333.1,55.9 334.3,53.3 335.5,53.9 336.7,53.4 337.9,51.7 339.1,52.8 340.3,54.3 341.5,50.8 342.7,52.8 343.9,52.8 345.1,52.7 346.3,51.9 347.5,48.8 348.7,48.2 349.9,49.2 351.1,47.7 352.3,44.5 353.5,49.2 354.7,50.5 355.9,51.7 357.1,49.9 358.3,50.9 359.5,51.4 360.7,52.8 361.9,50.0 363.1,49.3 364.3,50.6 365.5,49.5 366.7,49.0 367.9,51.9 369.1,52.1 370.3,49.9 371.5,47.7 372.7,51.2 373.9,49.4 375.1,51.7 376.3,50.2 377.5,48.3 378.7,49.5 379.9,52.0 381.1,53.7 382.3,54.9 383.5,54.5 384.7,55.5 385.9,53.7 387.1,56.3 388.3,54.0 389.5,55.3 390.7,55.3 391.9,57.3 393.1,57.1 394.3,55.7 395.5,56.2 396.7,59.6 397.9,60.0 399.1,59.1 400.3,59.0 401.5,60.5 402.7,62.0 403.9,60.5 405.1,60.4 406.3,61.6 407.5,62.8 408.7,60.3 409.9,61.7 411.1,59.9 412.3,59.3 413.5,55.6 414.7,57.0 415.9,57.5 417.1,58.2 418.3,61.7 419.5,59.9 420.7,59.9 421.9,60.5 423.1,61.8 424.3,61.5 425.5,61.9 426.7,60.5 427.9,61.9 429.1,60.8 430.3,58.6 431.5,58.4 432.7,56.5 433.9,55.8 435.1,56.4 436.3,52.7 437.5,54.2 438.7,55.0 439.9,58.6 441.1,58.2 442.3,59.7 443.5,57.4 444.7,55.7 445.9,52.9 447.1,54.3 448.3,57.6 449.5,58.4 450.7,58.8 451.9,57.9 453.1,59.8 454.3,61.3 455.5,63.5 456.7,62.4 457.9,64.9" fill="none" stroke="#7a7a7a" stroke-opacity="0.3" stroke-width="0.7"/><polyline points="64.3,174.0 65.5,173.1 66.7,172.4 67.9,173.1 69.1,162.0 70.3,156.7 71.5,157.7 72.7,159.5 73.9,160.0 75.1,159.3 76.3,158.8 77.5,156.3 78.7,158.1 79.9,155.7 81.1,154.1 82.3,153.7 83.5,153.1 84.7,150.0 85.9,152.1 87.1,153.8 88.3,154.5 89.5,158.6 90.7,158.9 91.9,159.8 93.1,156.5 94.3,152.2 95.5,154.5 96.7,154.8 97.9,154.8 99.1,154.5 100.3,156.7 101.5,155.3 102.7,155.1 103.9,151.1 105.1,148.1 106.3,150.3 107.5,149.4 108.7,149.2 109.9,146.5 111.1,142.9 112.3,141.1 113.5,138.7 114.7,135.0 115.9,134.5 117.1,134.3 118.3,133.0 119.5,133.0 120.7,133.0 121.9,129.0 123.1,126.5 124.3,125.5 125.5,122.3 126.7,119.3 127.9,120.0 129.1,118.9 130.3,116.4 131.5,117.3 132.7,115.5 133.9,116.4 135.1,113.0 136.3,114.4 137.5,112.5 138.7,110.2 139.9,107.0 141.1,103.4 142.3,99.9 143.5,96.6 144.7,93.8 145.9,89.5 147.1,89.0 148.3,87.0 149.5,82.4 150.7,79.6 151.9,79.3 153.1,77.6 154.3,74.5 155.5,75.7 156.7,73.9 157.9,73.7 159.1,72.1 160.3,73.6 161.5,71.4 162.7,72.6 163.9,70.1 165.1,68.1 166.3,68.2 167.5,68.5 168.7,67.7 169.9,69.1 171.1,69.6 172.3,69.1 173.5,68.4 174.7,66.6 175.9,66.9 177.1,65.2 178.3,65.2 179.5,61.9 180.7,62.9 181.9,63.7 183.1,61.9 184.3,62.8 185.5,65.1 186.7,65.6 187.9,66.2 189.1,70.7 190.3,70.4 191.5,71.2 192.7,70.8 193.9,72.7 195.1,72.5 196.3,73.3 197.5,75.2 198.7,74.6 199.9,72.2 201.1,67.9 202.3,68.1 203.5,69.2 204.7,66.9 205.9,64.7 207.1,65.8 208.3,66.4 209.5,68.0 210.7,69.4 211.9,67.8 213.1,72.0 214.3,70.3 215.5,71.3 216.7,72.1 217.9,72.7 219.1,71.1 220.3,70.8 221.5,70.9 222.7,76.0 223.9,74.0 225.1,75.8 226.3,73.5 227.5,74.3 228.7,75.1 229.9,73.7 231.1,70.9 232.3,70.9 233.5,69.5 234.7,69.5 235.9,71.9 237.1,71.7 238.3,73.4 239.5,69.9 240.7,73.3 241.9,73.5 243.1,70.8 244.3,71.1 245.5,71.7 246.7,74.1 247.9,73.6 249.1,78.6 250.3,77.5 251.5,77.9 252.7,79.0 253.9,77.9 255.1,78.2 256.3,75.7 257.5,72.6 258.7,74.3 259.9,70.9 261.1,71.5 262.3,70.5 263.5,67.9 264.7,66.8 265.9,67.0 267.1,69.3 268.3,69.1 269.5,68.6 270.7,67.6 271.9,67.7 273.1,68.9 274.3,65.7 275.5,63.7 276.7,63.0 277.9,63.2 279.1,62.6 280.3,62.4 281.5,63.4 282.7,64.9 283.9,64.0 285.1,63.5 286.3,61.7 287.5,63.6 288.7,64.0 289.9,63.3 291.1,63.5 292.3,65.0 293.5,65.2 294.7,64.3 295.9,63.6 297.1,65.4 298.3,63.4 299.5,65.2 300.7,65.9 301.9,65.7 303.1,65.3 304.3,66.0 305.5,65.5 306.7,64.3 307.9,66.9 309.1,66.3 310.3,66.3 311.5,62.4 312.7,60.3 313.9,61.5 315.1,61.9 316.3,61.7 317.5,60.4 318.7,60.5 319.9,59.1 321.1,56.8 322.3,55.3 323.5,56.8 324.7,55.8 325.9,54.6 327.1,53.6 328.3,54.0 329.5,54.6 330.7,53.5 331.9,55.1 333.1,57.0 334.3,55.3 335.5,53.8 336.7,54.9 337.9,54.9 339.1,55.1 340.3,56.6 341.5,55.8 342.7,57.0 343.9,55.3 345.1,56.0 346.3,55.3 347.5,56.2 348.7,55.5 349.9,53.9 351.1,55.4 352.3,56.5 353.5,57.3 354.7,58.0 355.9,54.7 357.1,57.3 358.3,57.0 359.5,56.9 360.7,55.0 361.9,53.2 363.1,52.4 364.3,52.0 365.5,52.5 366.7,50.7 367.9,50.2 369.1,51.3 370.3,52.0 371.5,53.4 372.7,52.4 373.9,52.5 375.1,52.7 376.3,51.8 377.5,51.1 378.7,51.6 379.9,53.5 381.1,51.8 382.3,53.5 383.5,53.8 384.7,54.6 385.9,54.4 387.1,56.4 388.3,58.2 389.5,57.6 390.7,56.6 391.9,57.6 393.1,61.4 394.3,62.2 395.5,63.1 396.7,63.7 397.9,67.0 399.1,67.0 400.3,66.0 401.5,66.9 402.7,65.2 403.9,68.2 405.1,65.3 406.3,64.8 407.5,65.2 408.7,61.9 409.9,61.5 411.1,62.0 412.3,60.6 413.5,61.3 414.7,62.0 415.9,63.3 417.1,62.3 418.3,60.5 419.5,61.0 420.7,61.5 421.9,62.1 423.1,62.2 424.3,63.4 425.5,62.3 426.7,62.3 427.9,62.0 429.1,61.3 430.3,62.9 431.5,63.8 432.7,64.2 433.9,64.0 435.1,63.1 436.3,63.3 437.5,62.8 438.7,63.8 439.9,61.1 441.1,62.1 442.3,61.9 443.5,62.9 444.7,60.7 445.9,60.0 447.1,59.2 448.3,59.8 449.5,58.3 450.7,57.6 451.9,57.5 453.1,56.9 454.3,58.5 455.5,58.5 456.7,56.9 457.9,58.2" fill="none" stroke="#7a7a7a" stroke-opacity="0.3" stroke-width="0.7"/><polyline points="64.3,173.5 65.5,172.9 66.7,170.4 67.9,170.0 69.1,161.4 70.3,156.6 71.5,157.5 72.7,159.7 73.9,159.5 75.1,161.3 76.3,164.4 77.5,163.8 78.7,166.4 79.9,164.2 81.1,162.2 82.3,166.4 83.5,161.4 84.7,160.8 85.9,162.9 87.1,163.6 88.3,168.9 89.5,171.5 90.7,173.3 91.9,170.5 93.1,166.0 94.3,163.2 95.5,163.8 96.7,160.4 97.9,171.8 99.1,166.5 100.3,160.7 101.5,159.8 102.7,163.1 103.9,154.9 105.1,161.4 106.3,155.1 107.5,148.2 108.7,152.9 109.9,146.8 111.1,142.5 112.3,151.0 113.5,144.1 114.7,140.7 115.9,141.6 117.1,145.1 118.3,141.2 119.5,136.1 120.7,136.3 121.9,136.6 123.1,142.9 124.3,135.3 125.5,139.1 126.7,140.7 127.9,136.2 129.1,133.8 130.3,137.8 131.5,134.2 132.7,130.6 133.9,128.0 135.1,126.6 136.3,124.3 137.5,115.9 138.7,115.9 139.9,115.0 141.1,113.8 142.3,102.6 143.5,99.0 144.7,92.1 145.9,86.9 147.1,81.3 148.3,82.4 149.5,80.5 150.7,81.2 151.9,75.5 153.1,75.8 154.3,75.4 155.5,73.6 156.7,74.3 157.9,71.2 159.1,73.1 160.3,72.8 161.5,72.5 162.7,72.4 163.9,73.7 165.1,70.4 166.3,67.5 167.5,67.1 168.7,67.9 169.9,68.5 171.1,68.7 172.3,69.2 173.5,71.2 174.7,71.9 175.9,70.6 177.1,70.6 178.3,70.1 179.5,70.6 180.7,69.9 181.9,71.4 183.1,73.0 184.3,68.6 185.5,68.8 186.7,72.1 187.9,76.4 189.1,79.5 190.3,78.0 191.5,74.5 192.7,76.2 193.9,77.6 195.1,78.0 196.3,79.2 197.5,77.2 198.7,76.9 199.9,75.0 201.1,73.9 202.3,76.5 203.5,76.1 204.7,72.3 205.9,74.0 207.1,69.1 208.3,70.9 209.5,72.0 210.7,72.5 211.9,72.0 213.1,70.2 214.3,72.8 215.5,76.4 216.7,77.4 217.9,73.8 219.1,71.3 220.3,68.1 221.5,71.4 222.7,73.5 223.9,79.0 225.1,85.1 226.3,85.8 227.5,86.3 228.7,91.2 229.9,86.2 231.1,83.8 232.3,82.2 233.5,73.2 234.7,71.9 235.9,72.4 237.1,72.4 238.3,73.8 239.5,66.7 240.7,68.6 241.9,74.7 243.1,77.3 244.3,72.8 245.5,77.6 246.7,77.1 247.9,81.4 249.1,86.0 250.3,80.0 251.5,87.3 252.7,83.2 253.9,79.5 255.1,78.7 256.3,76.0 257.5,79.7 258.7,86.7 259.9,86.1 261.1,85.6 262.3,85.7 263.5,83.4 264.7,83.3 265.9,81.7 267.1,86.5 268.3,86.3 269.5,84.7 270.7,85.0 271.9,81.7 273.1,83.2 274.3,83.8 275.5,81.5 276.7,76.3 277.9,79.3 279.1,74.9 280.3,74.2 281.5,69.4 282.7,67.4 283.9,68.1 285.1,66.3 286.3,58.3 287.5,59.0 288.7,54.7 289.9,56.9 291.1,55.2 292.3,54.8 293.5,55.0 294.7,54.9 295.9,57.5 297.1,55.9 298.3,58.3 299.5,61.7 300.7,62.7 301.9,61.8 303.1,63.9 304.3,62.2 305.5,65.3 306.7,63.3 307.9,65.2 309.1,70.9 310.3,69.9 311.5,66.6 312.7,71.2 313.9,69.9 315.1,68.0 316.3,68.7 317.5,65.4 318.7,59.3 319.9,60.8 321.1,56.0 322.3,56.0 323.5,57.5 324.7,58.4 325.9,60.8 327.1,60.9 328.3,57.8 329.5,57.0 330.7,56.7 331.9,59.8 333.1,62.0 334.3,60.8 335.5,62.4 336.7,60.2 337.9,63.0 339.1,59.9 340.3,59.4 341.5,57.3 342.7,59.5 343.9,61.1 345.1,63.7 346.3,62.5 347.5,62.6 348.7,62.7 349.9,63.4 351.1,62.4 352.3,64.7 353.5,62.9 354.7,61.5 355.9,61.3 357.1,62.7 358.3,59.8 359.5,58.8 360.7,57.4 361.9,55.2 363.1,51.9 364.3,53.3 365.5,55.5 366.7,56.0 367.9,53.7 369.1,52.6 370.3,54.0 371.5,53.7 372.7,53.4 373.9,52.3 375.1,52.9 376.3,51.2 377.5,52.6 378.7,55.6 379.9,54.4 381.1,55.3 382.3,54.6 383.5,56.7 384.7,57.3 385.9,57.9 387.1,60.9 388.3,61.7 389.5,60.1 390.7,64.2 391.9,65.1 393.1,63.0 394.3,65.5 395.5,65.2 396.7,64.0 397.9,66.1 399.1,67.0 400.3,64.8 401.5,64.2 402.7,64.2 403.9,66.3 405.1,65.6 406.3,64.7 407.5,67.8 408.7,63.7 409.9,63.1 411.1,66.0 412.3,64.1 413.5,64.9 414.7,65.4 415.9,66.5 417.1,65.7 418.3,68.2 419.5,71.6 420.7,69.9 421.9,68.5 423.1,68.2 424.3,73.0 425.5,68.8 426.7,68.9 427.9,69.2 429.1,68.6 430.3,71.0 431.5,70.3 432.7,67.8 433.9,74.4 435.1,74.3 436.3,74.4 437.5,75.4 438.7,74.4 439.9,71.0 441.1,73.6 442.3,71.9 443.5,68.5 444.7,66.3 445.9,65.3 447.1,65.4 448.3,64.2 449.5,64.1 450.7,68.7 451.9,70.5 453.1,71.0 454.3,71.2 455.5,70.0 456.7,70.3 457.9,70.9" fill="none" stroke="#7a7a7a" stroke-opacity="0.3" stroke-width="0.7"/><polyline points="64.3,177.2 65.5,178.0 66.7,177.2 67.9,176.5 69.1,168.7 70.3,162.4 71.5,162.5 72.7,164.7 73.9,162.6 75.1,163.0 76.3,161.8 77.5,161.1 78.7,162.6 79.9,159.7 81.1,161.1 82.3,161.4 83.5,163.2 84.7,162.5 85.9,161.6 87.1,163.2 88.3,167.1 89.5,171.6 90.7,173.9 91.9,174.8 93.1,173.7 94.3,174.5 95.5,172.8 96.7,172.5 97.9,172.5 99.1,168.3 100.3,170.3 101.5,168.3 102.7,167.4 103.9,165.7 105.1,165.0 106.3,162.8 107.5,160.7 108.7,162.3 109.9,162.7 111.1,162.1 112.3,160.0 113.5,157.1 114.7,155.5 115.9,151.2 117.1,149.5 118.3,149.2 119.5,146.9 120.7,146.0 121.9,142.4 123.1,139.6 124.3,135.9 125.5,137.3 126.7,133.2 127.9,130.0 129.1,129.2 130.3,128.6 131.5,126.6 132.7,123.9 133.9,120.9 135.1,118.9 136.3,118.0 137.5,116.9 138.7,114.4 139.9,111.9 141.1,109.8 142.3,107.4 143.5,105.0 144.7,102.0 145.9,97.9 147.1,96.2 148.3,94.4 149.5,92.3 150.7,92.3 151.9,89.9 153.1,86.3 154.3,84.4 155.5,84.0 156.7,83.2 157.9,82.2 159.1,81.5 160.3,82.0 161.5,78.4 162.7,78.4 163.9,78.3 165.1,79.0 166.3,78.4 167.5,78.4 168.7,79.5 169.9,77.2 171.1,77.0 172.3,77.2 173.5,76.3 174.7,75.2 175.9,75.1 177.1,74.9 178.3,72.9 179.5,73.5 180.7,73.5 181.9,71.0 183.1,70.5 184.3,71.4 185.5,72.0 186.7,73.1 187.9,74.0 189.1,73.6 190.3,75.2 191.5,75.4 192.7,76.0 193.9,75.4 195.1,75.4 196.3,75.6 197.5,76.0 198.7,76.1 199.9,75.4 201.1,75.8 202.3,75.5 203.5,73.8 204.7,74.0 205.9,73.6 207.1,73.7 208.3,75.1 209.5,76.5 210.7,80.7 211.9,84.3 213.1,86.5 214.3,86.9 215.5,86.7 216.7,85.7 217.9,83.9 219.1,83.0 220.3,82.8 221.5,82.5 222.7,83.7 223.9,85.4 225.1,84.3 226.3,84.3 227.5,85.3 228.7,85.1 229.9,84.1 231.1,82.5 232.3,82.3 233.5,81.2 234.7,78.9 235.9,77.3 237.1,78.8 238.3,78.9 239.5,80.4 240.7,79.3 241.9,80.2 243.1,83.2 244.3,84.1 245.5,86.1 246.7,87.7 247.9,89.0 249.1,87.5 250.3,89.4 251.5,91.3 252.7,89.8 253.9,85.7 255.1,85.9 256.3,84.4 257.5,84.2 258.7,83.7 259.9,81.6 261.1,82.0 262.3,81.6 263.5,81.2 264.7,81.2 265.9,79.9 267.1,80.6 268.3,79.6 269.5,77.7 270.7,78.1 271.9,76.9 273.1,76.8 274.3,75.8 275.5,75.9 276.7,74.8 277.9,75.3 279.1,73.9 280.3,72.8 281.5,72.9 282.7,70.8 283.9,70.3 285.1,71.0 286.3,71.2 287.5,71.1 288.7,70.3 289.9,70.1 291.1,70.3 292.3,69.2 293.5,69.9 294.7,70.4 295.9,69.1 297.1,71.3 298.3,69.8 299.5,72.0 300.7,72.0 301.9,73.3 303.1,74.6 304.3,75.4 305.5,77.5 306.7,77.7 307.9,77.9 309.1,77.8 310.3,73.8 311.5,73.5 312.7,70.7 313.9,69.4 315.1,69.2 316.3,68.3 317.5,68.8 318.7,64.4 319.9,65.7 321.1,63.5 322.3,63.2 323.5,63.4 324.7,63.4 325.9,63.6 327.1,63.4 328.3,62.0 329.5,62.8 330.7,62.5 331.9,62.0 333.1,61.3 334.3,62.7 335.5,61.5 336.7,60.1 337.9,62.1 339.1,59.8 340.3,60.7 341.5,60.5 342.7,61.0 343.9,61.2 345.1,61.0 346.3,61.4 347.5,62.1 348.7,62.8 349.9,62.4 351.1,64.5 352.3,64.8 353.5,64.1 354.7,63.9 355.9,61.6 357.1,61.6 358.3,61.1 359.5,60.7 360.7,60.6 361.9,59.4 363.1,59.2 364.3,59.9 365.5,61.0 366.7,59.1 367.9,60.4 369.1,57.8 370.3,59.8 371.5,57.3 372.7,59.1 373.9,59.0 375.1,59.3 376.3,57.6 377.5,57.1 378.7,58.3 379.9,58.5 381.1,57.9 382.3,58.6 383.5,58.0 384.7,59.5 385.9,59.8 387.1,59.6 388.3,61.6 389.5,63.0 390.7,64.5 391.9,64.8 393.1,65.9 394.3,67.2 395.5,68.2 396.7,70.8 397.9,71.1 399.1,71.4 400.3,71.9 401.5,71.9 402.7,72.1 403.9,72.6 405.1,73.5 406.3,72.5 407.5,71.5 408.7,70.8 409.9,71.0 411.1,71.0 412.3,72.0 413.5,70.1 414.7,69.9 415.9,70.4 417.1,69.8 418.3,69.8 419.5,68.9 420.7,68.4 421.9,68.7 423.1,68.9 424.3,68.6 425.5,69.0 426.7,69.4 427.9,69.1 429.1,68.5 430.3,69.9 431.5,70.6 432.7,69.4 433.9,69.2 435.1,69.6 436.3,68.9 437.5,69.0 438.7,67.8 439.9,67.5 441.1,68.9 442.3,67.2 443.5,68.8 444.7,68.0 445.9,68.1 447.1,67.6 448.3,66.8 449.5,66.5 450.7,65.6 451.9,67.2 453.1,64.6 454.3,63.6 455.5,65.2 456.7,64.5 457.9,63.8" fill="none" stroke="#7a7a7a" stroke-opacity="0.3" stroke-width="0.7"/><polyline points="64.3,168.6 65.8,168.7 67.3,168.8 67.9,168.5 68.8,162.6 70.1,154.6 71.8,155.2 73.3,155.4 73.8,155.6 74.8,155.8 76.3,155.3 77.8,154.4 79.3,153.7 79.4,154.1 80.8,152.1 82.3,150.0 83.8,148.1 85.3,145.9 86.0,145.0 86.8,146.4 88.3,147.6 89.8,148.5 91.3,150.9 91.5,151.7 92.8,151.0 94.3,150.3 95.8,150.2 97.3,150.2 98.2,149.7 98.8,149.2 100.3,147.8 101.8,146.1 103.3,144.9 104.8,143.1 105.9,141.7 106.3,141.2 107.8,139.4 109.3,138.1 110.8,136.3 112.3,133.7 113.8,132.1 114.8,131.6 115.3,130.4 116.8,127.8 118.3,125.7 119.8,123.2 121.3,120.6 121.4,121.0 122.8,118.3 124.3,115.6 125.8,112.5 127.3,109.5 128.0,109.0 128.8,107.8 130.3,105.2 131.8,102.8 133.3,100.5 134.8,98.4 136.3,95.9 136.9,95.2 137.8,93.4 139.3,90.6 140.8,88.3 142.3,85.3 143.8,82.5 145.3,80.6 145.7,80.2 146.8,79.1 148.3,77.5 149.8,75.8 151.3,73.7 152.8,71.9 154.3,70.9 154.6,71.0 155.8,70.5 157.3,69.9 158.8,69.1 160.3,68.0 161.8,67.1 163.3,66.8 164.8,66.1 165.6,65.4 166.3,64.8 167.8,64.8 169.3,64.1 170.8,63.4 172.3,63.7 173.8,64.1 175.3,63.8 176.7,63.1 178.3,62.0 179.8,61.6 181.3,61.3 182.8,60.7 183.3,60.3 184.3,61.2 185.8,62.4 187.3,63.7 188.8,64.9 189.9,65.1 190.3,65.1 191.8,65.1 193.3,65.2 194.8,65.4 196.3,65.7 197.8,65.6 198.8,65.5 199.3,65.3 200.8,64.0 202.3,62.9 203.8,62.2 205.3,61.5 206.5,60.3 206.8,59.7 208.3,61.4 209.8,63.5 211.3,65.0 212.8,66.2 213.1,66.7 214.3,66.5 215.8,65.9 217.3,65.9 218.8,65.7 220.3,65.3 220.9,65.7 221.8,66.7 223.3,66.7 224.8,66.6 226.3,67.3 227.8,67.8 228.6,67.7 229.3,67.6 230.8,66.8 232.3,65.7 233.8,64.7 235.3,64.0 236.8,63.7 238.3,62.9 239.7,61.9 241.3,63.1 242.8,64.0 244.3,65.2 245.8,66.4 247.3,67.2 248.8,68.0 250.3,69.2 251.8,70.4 253.3,69.1 254.8,67.3 256.3,66.6 257.8,66.2 258.0,65.3 259.3,64.3 260.8,64.5 262.3,64.1 263.8,63.3 265.3,63.5 266.8,63.1 268.3,62.3 269.1,62.1 269.8,61.8 271.3,61.4 272.8,61.2 274.3,61.4 275.8,61.0 277.3,60.7 278.8,60.5 280.3,59.8 281.8,59.4 283.3,58.9 284.5,58.1 284.8,58.0 286.3,58.1 287.8,57.6 289.3,57.3 290.8,56.8 292.3,55.6 293.8,54.7 294.5,55.1 295.3,55.5 296.8,55.9 298.3,56.4 299.8,56.4 301.3,57.0 302.8,57.1 304.3,56.8 304.4,57.2 305.8,58.3 307.3,59.2 308.4,59.7 308.8,59.4 310.3,57.6 311.1,55.9 311.8,55.4 313.3,55.8 314.8,55.2 316.3,54.1 317.8,53.8 319.3,53.6 320.8,53.1 322.1,52.0 323.8,51.8 325.3,51.9 326.8,52.3 328.3,52.1 329.8,52.4 331.0,52.8 331.3,52.0 332.8,51.7 334.3,51.7 335.8,51.1 337.3,51.0 338.8,50.7 340.3,50.3 341.8,50.3 342.0,50.2 343.3,50.8 344.8,51.0 346.3,51.2 347.8,51.4 349.3,51.7 350.8,52.5 352.3,53.1 353.1,53.8 353.8,53.3 355.3,52.2 356.8,51.6 358.3,50.9 359.8,50.1 361.3,49.4 361.9,49.5 362.8,50.2 364.3,50.0 365.8,49.6 367.3,49.1 368.8,48.7 370.3,49.0 371.8,48.7 373.0,48.4 373.3,48.6 374.8,49.0 376.3,49.7 377.8,50.3 379.3,50.3 380.8,50.4 382.3,51.2 383.8,51.8 384.0,51.5 385.3,51.6 386.8,52.5 388.3,53.4 389.8,54.9 391.3,55.6 392.8,55.5 394.3,56.8 395.8,57.8 397.3,58.7 398.8,59.3 399.5,59.6 400.3,59.9 401.8,60.1 403.3,59.8 404.8,59.3 406.3,59.2 407.8,59.5 409.3,59.1 410.8,59.1 412.3,59.2 412.8,59.4 413.8,59.1 415.3,58.5 416.8,58.8 418.3,58.4 419.8,57.7 421.3,58.0 422.8,58.3 424.3,58.1 425.8,58.0 426.0,57.8 427.3,57.9 428.8,57.6 430.3,57.3 431.8,57.6 433.3,58.1 434.8,58.0 436.3,58.0 437.1,57.9 437.8,57.7 439.3,58.3 440.8,58.4 442.3,58.1 443.8,58.6 445.3,58.8 446.8,59.3 448.2,60.0 449.8,60.3 451.3,60.9 452.8,61.8 454.3,62.2 455.8,62.1 457.3,62.4 458.1,63.4" fill="none" stroke="#0074b6" stroke-width="1.9" stroke-linejoin="round"/></g><rect x="44.5" y="19" width="433.0" height="220.5" fill="none" stroke="#4a4a4a" stroke-width="0.9"/><text x="64.00" y="250.50" font-size="7.89" text-anchor="middle" fill="#262626" font-family="Liberation Sans" font-weight="normal" textLength="11.85" lengthAdjust="spacingAndGlyphs" stroke="#262626" stroke-width="0.1">0.0</text><text x="132.23" y="250.50" font-size="7.89" text-anchor="middle" fill="#262626" font-family="Liberation Sans" font-weight="normal" textLength="11.85" lengthAdjust="spacingAndGlyphs" stroke="#262626" stroke-width="0.1">0.2</text><text x="200.46" y="250.50" font-size="7.89" text-anchor="middle" fill="#262626" font-family="Liberation Sans" font-weight="normal" textLength="11.85" lengthAdjust="spacingAndGlyphs" stroke="#262626" stroke-width="0.1">0.4</text><text x="268.69" y="250.50" font-size="7.89" text-anchor="middle" fill="#262626" font-family="Liberation Sans" font-weight="normal" textLength="11.85" lengthAdjust="spacingAndGlyphs" stroke="#262626" stroke-width="0.1">0.6</text><text x="336.92" y="250.50" font-size="7.89" text-anchor="middle" fill="#262626" font-family="Liberation Sans" font-weight="normal" textLength="11.85" lengthAdjust="spacingAndGlyphs" stroke="#262626" stroke-width="0.1">0.8</text><text x="405.15" y="250.50" font-size="7.89" text-anchor="middle" fill="#262626" font-family="Liberation Sans" font-weight="normal" textLength="11.85" lengthAdjust="spacingAndGlyphs" stroke="#262626" stroke-width="0.1">1.0</text><text x="473.38" y="250.50" font-size="7.89" text-anchor="middle" fill="#262626" font-family="Liberation Sans" font-weight="normal" textLength="11.85" lengthAdjust="spacingAndGlyphs" stroke="#262626" stroke-width="0.1">1.2</text><text x="38.90" y="52.66" font-size="7.89" text-anchor="end" fill="#262626" font-family="Liberation Sans" font-weight="normal" textLength="14.22" lengthAdjust="spacingAndGlyphs" stroke="#262626" stroke-width="0.1">200</text><text x="38.90" y="84.43" font-size="7.89" text-anchor="end" fill="#262626" font-family="Liberation Sans" font-weight="normal" textLength="14.22" lengthAdjust="spacingAndGlyphs" stroke="#262626" stroke-width="0.1">100</text><text x="38.90" y="116.20" font-size="7.89" text-anchor="end" fill="#262626" font-family="Liberation Sans" font-weight="normal" textLength="4.74" lengthAdjust="spacingAndGlyphs" stroke="#262626" stroke-width="0.1">0</text><text x="38.90" y="147.97" font-size="7.89" text-anchor="end" fill="#262626" font-family="Liberation Sans" font-weight="normal" textLength="20.46" lengthAdjust="spacingAndGlyphs" stroke="#262626" stroke-width="0.1">−100</text><text x="38.90" y="179.74" font-size="7.89" text-anchor="end" fill="#262626" font-family="Liberation Sans" font-weight="normal" textLength="20.46" lengthAdjust="spacingAndGlyphs" stroke="#262626" stroke-width="0.1">−200</text><text x="38.90" y="211.51" font-size="7.89" text-anchor="end" fill="#262626" font-family="Liberation Sans" font-weight="normal" textLength="20.46" lengthAdjust="spacingAndGlyphs" stroke="#262626" stroke-width="0.1">−300</text><path d="M64.00 239.5v2.7M132.23 239.5v2.7M200.46 239.5v2.7M268.69 239.5v2.7M336.92 239.5v2.7M405.15 239.5v2.7M473.38 239.5v2.7M44.5 49.96h-2.7M44.5 81.73h-2.7M44.5 113.50h-2.7M44.5 145.27h-2.7M44.5 177.04h-2.7M44.5 208.81h-2.7" stroke="#4a4a4a" stroke-width="0.9"/><text x="261.00" y="14.50" font-size="9.46" text-anchor="middle" fill="#262626" font-family="Liberation Sans" font-weight="normal" textLength="100.03" lengthAdjust="spacingAndGlyphs" stroke="#262626" stroke-width="0.1">LunarLander Gaussian</text><text x="261.00" y="260.70" font-size="7.89" text-anchor="middle" fill="#262626" font-family="Liberation Sans" font-weight="normal" textLength="69.93" lengthAdjust="spacingAndGlyphs" stroke="#262626" stroke-width="0.1">Environment steps</text><text x="477.50" y="259.70" font-size="7.89" text-anchor="end" fill="#262626" font-family="Liberation Sans" font-weight="normal" textLength="14.06" lengthAdjust="spacingAndGlyphs" stroke="#262626" stroke-width="0.1">1e6</text><text x="0.00" y="0.00" font-size="7.89" text-anchor="middle" fill="#262626" font-family="Liberation Sans" font-weight="normal" textLength="69.42" lengthAdjust="spacingAndGlyphs" stroke="#262626" stroke-width="0.1" transform="translate(13.44,129.25) rotate(-90)">Evaluation Reward</text><rect x="48.00" y="22.40" width="104.4" height="24.5" rx="1.5" fill="#fff" fill-opacity="0.8" stroke="#dcdcdc" stroke-width="0.8"/><path d="M50.70 29.00h16.4" stroke="#0074b6" stroke-width="1.9"/><rect x="50.70" y="37.00" width="15.8" height="5.9" fill="#bcdaeb" stroke="#a8cde3" stroke-width="0.6"/><text x="72.70" y="31.60" font-size="7.89" text-anchor="start" fill="#262626" font-family="Liberation Sans" font-weight="normal" textLength="76.39" lengthAdjust="spacingAndGlyphs" stroke="#262626" stroke-width="0.1">Mean (across seeds)</text><text x="72.70" y="42.50" font-size="7.89" text-anchor="start" fill="#262626" font-family="Liberation Sans" font-weight="normal" textLength="42.81" lengthAdjust="spacingAndGlyphs" stroke="#262626" stroke-width="0.1">Mean ± std</text><text x="243.70" y="316.50" font-size="25.00" text-anchor="middle" fill="#000" font-family="Liberation Serif" font-weight="bold">a</text><clipPath id="clipb"><rect x="588.6" y="19" width="441.9" height="220.4"/></clipPath><path d="M608.50 19V239.4M675.50 19V239.4M742.50 19V239.4M809.50 19V239.4M876.50 19V239.4M943.50 19V239.4M1010.50 19V239.4M588.6 211.50H1030.5M588.6 178.50H1030.5M588.6 144.50H1030.5M588.6 110.50H1030.5M588.6 76.50H1030.5M588.6 42.50H1030.5" stroke="#c9c9c9" stroke-width="0.9" fill="none"/><g clip-path="url(#clipb)"><polyline points="627.8,92.3 629.0,94.7 630.2,96.2 631.4,95.8 632.2,95.1 632.6,94.8 633.8,91.6 635.0,87.7 636.2,85.6 637.4,83.7 638.6,80.5 638.9,78.8 639.8,76.0 640.0,76.7 641.0,77.9 642.2,77.0 643.4,75.6 644.6,76.4 645.8,75.5 647.0,75.7 648.2,76.7 649.4,75.6 649.6,75.4 650.6,75.6 651.8,74.6 653.0,73.9 654.2,74.6 655.4,73.2 656.6,70.4 657.8,68.3 659.0,68.5 659.3,69.2 660.2,68.1 661.4,68.4 662.6,68.5 663.8,68.8 665.0,70.4 666.2,71.8 667.4,70.5 668.6,70.1 668.9,71.1 669.8,70.0 671.0,69.3 672.2,68.2 673.4,66.9 674.6,65.6 675.8,63.3 677.0,62.9 678.2,63.1 678.5,64.3 679.4,64.3 680.6,63.5 681.8,65.0 683.0,65.4 684.2,66.2 685.4,67.6 686.6,69.9 687.8,70.8 688.2,70.4 689.0,71.3 690.2,70.9 691.4,70.4 692.6,71.0 693.8,70.8 695.0,68.0 696.2,67.6 697.4,68.1 698.6,66.6 699.8,65.9 701.0,65.1 702.2,65.8 702.6,66.5 703.4,67.0 704.6,68.5 705.8,69.3 707.0,71.9 708.2,73.7 709.4,74.7 709.8,75.7 710.6,74.8 711.8,73.1 713.0,72.7 714.2,72.9 715.4,71.8 716.6,70.5 717.8,67.5 719.0,67.3 719.5,68.2 720.2,69.3 721.4,69.0 722.6,70.3 723.8,72.5 725.0,71.4 726.2,72.7 726.7,73.7 727.4,72.5 728.6,71.2 729.8,70.1 731.0,68.0 732.2,67.3 733.4,66.5 734.6,65.9 735.8,66.1 736.3,63.6 737.0,63.1 738.2,64.8 739.4,63.3 740.6,61.2 741.8,62.5 743.0,64.2 744.2,64.7 745.4,64.0 746.0,64.3 746.6,63.7 747.8,62.3 749.0,63.8 750.2,65.0 751.4,64.4 752.6,65.8 753.8,68.5 755.0,66.9 755.6,66.5 756.2,69.7 757.4,73.5 758.6,79.3 759.8,84.4 760.4,85.1 761.0,82.6 762.2,78.0 763.4,73.1 764.6,70.0 765.2,67.2 765.8,67.2 767.0,68.5 768.2,69.5 769.4,70.2 770.6,71.2 771.8,72.5 773.0,74.3 774.2,76.2 774.9,75.1 775.4,73.7 776.6,73.0 777.8,71.4 779.0,72.0 780.2,69.9 781.4,66.8 782.6,65.4 783.8,63.2 784.5,62.3 785.0,63.7 786.2,65.0 787.4,64.4 788.6,63.2 789.8,64.0 791.0,65.5 792.2,66.1 793.4,66.3 794.1,66.1 794.6,66.6 795.8,67.6 797.0,68.0 798.2,68.9 799.4,70.2 800.6,73.0 801.8,75.2 803.0,74.5 803.8,76.2 804.2,75.9 805.4,71.1 806.6,67.8 807.8,66.8 809.0,65.2 810.2,62.3 811.4,61.6 812.6,59.7 813.4,57.3 813.8,57.6 815.0,58.7 816.2,61.4 817.4,63.4 818.6,64.1 819.8,66.2 821.0,69.6 822.2,71.1 823.4,71.6 824.6,74.6 825.5,76.3 825.8,74.2 827.0,73.0 828.2,72.2 829.4,71.3 830.6,71.0 831.8,69.0 833.0,67.6 834.2,65.9 835.4,64.1 836.6,64.1 837.5,63.3 837.8,62.9 839.0,66.3 840.2,69.1 841.4,70.6 842.6,72.5 843.8,73.8 844.7,74.8 846.2,72.1 847.4,71.4 848.6,70.8 849.8,69.7 851.0,67.7 852.2,66.4 853.4,67.3 854.6,66.6 855.8,63.2 856.8,60.4 858.2,61.8 859.4,63.0 860.6,62.5 861.8,62.6 863.0,65.7 864.2,67.3 865.4,66.1 866.4,66.1 867.8,65.6 869.0,64.7 870.2,62.7 871.4,60.7 872.6,60.9 873.8,59.7 875.0,59.3 876.2,59.8 877.4,58.8 878.6,58.9 879.8,57.5 880.8,56.2 882.2,58.3 883.4,59.7 884.6,61.6 885.8,63.2 887.0,65.7 888.2,68.2 889.4,70.0 890.1,71.8 890.6,71.8 891.8,72.5 893.0,73.5 894.2,73.4 895.4,73.7 896.6,73.8 897.8,76.0 898.8,77.7 900.2,72.3 901.4,67.2 902.6,62.0 903.1,59.2 903.8,59.0 905.0,59.0 906.2,58.0 907.4,56.4 908.6,56.4 908.9,57.1 909.8,55.0 911.0,53.9 912.2,53.5 913.4,51.6 914.6,50.2 914.7,49.4 915.8,51.2 917.0,53.4 918.2,53.4 919.4,53.9 920.5,53.3 921.8,59.9 923.0,65.9 923.4,65.9 924.2,69.0 925.4,73.8 926.6,77.1 927.7,81.5 929.0,82.3 930.2,82.4 931.4,86.6 932.0,88.6 932.6,86.5 933.8,86.0 935.0,84.2 935.6,82.0 936.2,84.2 937.4,87.3 938.6,90.6 939.2,94.5 939.8,88.4 941.0,77.7 942.2,67.7 943.4,57.2 943.6,56.5 944.6,55.9 945.8,57.9 947.0,60.3 948.2,61.8 949.4,64.2 950.6,62.1 951.8,61.7 953.0,61.7 954.2,58.5 955.1,57.1 956.6,59.2 957.8,61.6 959.0,64.4 960.2,65.3 960.9,66.9 961.4,67.7 962.6,69.3 963.8,71.5 965.0,74.0 966.2,77.8 966.7,79.1 967.4,75.1 968.6,69.8 969.8,66.6 971.0,62.8 972.2,57.1 972.5,55.4 973.4,56.0 974.6,56.9 975.8,57.2 977.0,56.4 978.2,55.4 979.4,55.2 980.6,55.5 981.2,56.0 981.8,56.0 983.0,55.8 984.2,56.4 985.4,58.7 986.6,63.1 986.9,64.7 987.8,62.5 989.0,61.3 990.2,61.2 991.4,58.7 992.6,56.4 993.8,55.9 994.2,56.0 995.0,58.4 996.2,59.9 997.4,61.8 998.6,64.6 999.8,65.7 999.9,65.7 1001.0,69.3 1002.2,72.2 1003.4,74.7 1004.3,75.6 1004.6,74.2 1005.8,73.0 1007.0,72.6 1008.2,70.9 1009.4,68.5 1010.1,67.7 1010.3,69.7" fill="none" stroke="#9a9a9a" stroke-opacity="0.35" stroke-width="0.7"/><polyline points="632.2,46.6 633.4,45.5 634.6,43.7 635.8,44.5 637.0,43.2 638.2,41.3 639.4,40.9 640.0,41.4 640.6,42.7 641.8,41.9 643.0,41.3 644.2,43.2 645.4,44.1 646.6,42.1 647.8,41.0 649.0,42.8 650.2,43.8 651.4,42.5 652.6,42.8 653.8,45.0 654.5,43.6 655.0,44.0 656.2,44.2 657.4,40.9 658.6,41.7 659.8,42.3 661.0,42.1 662.2,42.7 663.4,40.0 664.1,38.7 664.6,39.8 665.8,38.9 667.0,38.3 668.2,39.7 669.4,40.9 670.6,40.5 671.8,37.3 673.0,35.7 674.2,36.9 675.4,37.9 676.6,39.2 677.8,40.7 678.5,38.7 679.0,35.9 680.2,36.3 681.4,35.9 682.6,36.7 683.8,37.2 685.0,37.0 686.2,37.5 687.4,36.3 688.6,35.3 689.8,35.7 691.0,35.3 692.2,35.9 693.0,35.5 693.4,33.1 694.6,34.1 695.8,36.7 697.0,36.2 698.2,37.5 699.4,38.0 700.6,35.4 701.8,36.3 702.6,37.5 703.0,36.9 704.2,37.3 705.4,38.6 706.6,38.4 707.8,39.8 709.0,40.8 710.2,40.0 711.4,40.0 712.3,41.3 712.6,40.9 713.8,41.2 715.0,39.7 716.2,37.5 717.4,39.2 718.6,38.6 719.8,37.2 721.0,37.1 721.9,36.5 722.2,35.7 723.4,35.7 724.6,36.8 725.8,38.5 727.0,37.7 728.2,37.4 729.4,38.4 730.6,38.9 731.5,40.4 733.0,41.3 734.2,40.7 735.4,40.8 736.6,40.9 737.8,40.4 739.0,41.4 740.2,41.9 741.2,43.3 742.6,41.4 743.8,37.9 745.0,36.6 746.2,37.8 747.4,39.1 748.6,38.5 749.8,36.5 751.0,34.7 752.2,33.6 753.4,32.9 754.6,32.9 755.6,32.4 757.0,32.3 758.2,32.6 759.4,33.9 760.6,33.1 761.8,32.5 763.0,32.9 764.2,33.5 765.4,34.2 766.6,35.2 767.6,35.7 769.0,35.8 770.2,37.4 771.4,38.8 772.6,39.1 773.8,39.2 775.0,38.4 776.2,39.0 777.3,39.9 778.6,40.3 779.8,40.9 781.0,39.7 782.2,38.6 783.4,38.3 784.6,40.0 785.8,41.8 787.0,40.8 788.2,39.7 789.3,37.8 790.6,36.4 791.8,38.4 793.0,39.5 794.2,39.5 795.4,41.4 796.6,41.4 797.8,40.9 799.0,42.5 800.2,42.8 801.4,41.8 802.6,40.1 803.8,40.1 805.0,38.7 806.2,36.8 807.4,37.0 808.6,36.0 809.8,36.1 811.0,36.5 812.2,36.8 813.4,34.8 814.6,31.3 815.8,32.4 817.0,33.3 818.2,32.1 819.4,31.3 820.6,30.3 821.8,30.5 823.0,30.9 823.0,30.5 824.2,31.8 825.4,32.9 826.6,33.9 827.8,34.6 829.0,34.4 830.2,36.0 831.4,38.0 832.6,38.5 832.7,39.7 833.8,40.3 835.0,39.4 836.2,38.7 837.4,37.1 838.6,34.8 839.8,34.9 841.0,35.2 842.2,34.0 843.4,33.8 844.6,32.4 845.8,31.3 847.0,30.5 847.1,29.8 848.2,30.1 849.4,32.2 850.6,33.9 851.8,33.1 853.0,34.1 854.2,34.2 855.4,33.1 856.6,33.9 856.8,33.9 857.8,35.6 859.0,35.1 860.2,33.7 861.4,34.0 862.6,32.8 863.8,33.8 865.0,33.9 866.2,32.3 867.4,31.8 868.6,32.7 869.8,32.6 871.0,32.4 871.2,34.0 872.2,34.7 873.4,34.2 874.6,33.9 875.8,33.4 877.0,34.7 878.2,35.4 879.4,36.0 880.6,36.5 880.8,36.9 881.8,37.2 883.0,35.5 884.2,34.4 885.4,33.0 885.8,32.0 886.6,32.4 887.8,33.6 889.0,34.3 890.2,34.6 891.4,35.7 892.6,37.5 893.8,36.2 894.5,35.5 895.0,36.5 896.2,35.3 897.4,33.6 898.6,33.4 899.8,33.7 901.0,33.9 901.7,33.2 902.2,33.1 903.4,34.3 904.6,34.4 905.8,34.3 907.0,33.8 908.2,33.4 908.9,33.3 909.4,34.5 910.6,35.5 911.8,33.5 913.0,31.7 913.2,31.5 914.2,32.0 915.4,33.4 916.6,35.2 917.8,35.7 919.0,34.7 920.2,35.0 921.4,35.0 922.6,35.4 923.4,36.7 923.8,36.2 925.0,35.9 926.2,35.0 927.4,33.2 928.6,33.8 929.8,34.8 931.0,33.9 932.0,33.0 933.4,32.5 934.6,32.8 935.8,34.4 937.0,33.4 938.2,33.0 939.4,34.1 940.6,33.6 941.8,32.7 943.0,32.3 943.6,33.5 944.2,35.0 945.4,35.3 946.6,34.2 947.8,32.4 949.0,31.7 950.2,32.1 951.4,31.6 952.6,29.7 953.8,30.4 955.0,32.2 955.1,31.6 956.2,32.1 957.4,33.2 958.6,35.0 959.8,36.3 960.9,35.9 962.2,35.8 963.4,36.5 964.6,35.0 965.8,33.8 967.0,33.5 968.2,34.1 969.4,35.1 969.6,35.1 970.6,35.9 971.8,34.4 973.0,32.9 974.2,34.3 975.4,33.8 976.6,33.2 977.8,34.2 979.0,34.9 980.2,36.3 981.2,35.7 982.6,34.1 983.8,35.2 985.0,34.7 986.2,36.1 987.4,37.7 988.6,37.3 989.8,36.5 989.8,36.4 991.0,36.1 992.2,33.4 993.4,32.7 994.6,32.5 995.6,32.2 997.0,33.5 998.2,33.2 999.4,34.8 1000.6,36.2 1001.8,34.8 1002.8,33.1 1004.2,33.9 1005.4,35.5 1006.6,35.3 1007.8,35.2 1009.0,35.1 1010.1,35.6 1010.3,37.3" fill="none" stroke="#9a9a9a" stroke-opacity="0.35" stroke-width="0.7"/><polygon points="608.3,200.8 609.5,201.5 610.7,202.6 611.9,203.8 613.1,200.4 614.3,193.6 615.5,190.2 616.7,184.1 617.9,175.1 619.1,166.4 620.3,158.4 621.5,150.8 622.7,140.0 623.9,129.7 625.1,117.3 626.3,105.0 627.5,95.1 628.7,85.4 629.9,77.9 631.1,62.4 632.3,49.6 633.5,50.2 634.7,46.4 635.9,47.6 637.1,48.7 638.3,49.2 639.5,48.4 640.7,45.5 641.9,44.2 643.1,45.1 644.3,45.9 645.5,40.9 646.7,42.7 647.9,46.4 649.1,42.9 650.3,43.6 651.5,46.0 652.7,44.3 653.9,45.8 655.1,46.0 656.3,43.4 657.5,44.7 658.7,44.0 659.9,43.9 661.1,45.9 662.3,45.6 663.5,43.6 664.7,44.0 665.9,47.0 667.1,45.1 668.3,42.1 669.5,44.0 670.7,44.0 671.9,40.0 673.1,44.8 674.3,47.6 675.5,45.4 676.7,47.1 677.9,47.2 679.1,48.4 680.3,48.8 681.5,48.3 682.7,48.2 683.9,48.0 685.1,49.8 686.3,47.9 687.5,47.1 688.7,48.2 689.9,44.8 691.1,42.0 692.3,44.6 693.5,43.3 694.7,39.8 695.9,38.8 697.1,37.5 698.3,39.5 699.5,39.4 700.7,39.3 701.9,40.0 703.1,41.2 704.3,42.8 705.5,40.7 706.7,37.5 707.9,39.0 709.1,39.9 710.3,40.4 711.5,40.8 712.7,40.0 713.9,42.1 715.1,40.1 716.3,40.0 717.5,43.4 718.7,42.6 719.9,42.0 721.1,42.5 722.3,43.2 723.5,40.4 724.7,42.9 725.9,47.1 727.1,46.5 728.3,44.4 729.5,43.5 730.7,44.3 731.9,39.8 733.1,37.9 734.3,39.6 735.5,36.9 736.7,37.1 737.9,40.1 739.1,41.4 740.3,42.3 741.5,44.1 742.7,45.8 743.9,43.4 745.1,41.3 746.3,42.7 747.5,46.3 748.7,44.0 749.9,42.0 751.1,41.2 752.3,38.9 753.5,42.0 754.7,42.8 755.9,42.5 757.1,41.9 758.3,40.7 759.5,40.4 760.7,38.1 761.9,38.3 763.1,40.7 764.3,40.5 765.5,36.6 766.7,35.7 767.9,38.4 769.1,44.5 770.3,43.2 771.5,43.2 772.7,46.7 773.9,47.7 775.1,48.1 776.3,45.4 777.5,42.9 778.7,41.6 779.9,42.5 781.1,40.3 782.3,41.2 783.5,41.3 784.7,39.2 785.9,40.8 787.1,40.0 788.3,39.7 789.5,41.3 790.7,43.5 791.9,41.7 793.1,42.5 794.3,44.0 795.5,44.5 796.7,43.1 797.9,41.2 799.1,43.7 800.3,44.1 801.5,43.1 802.7,45.4 803.9,47.2 805.1,44.9 806.3,42.8 807.5,42.4 808.7,41.9 809.9,41.7 811.1,38.5 812.3,36.6 813.5,37.3 814.7,37.7 815.9,40.1 817.1,41.1 818.3,41.1 819.5,40.0 820.7,38.8 821.9,38.3 823.1,39.4 824.3,41.1 825.5,41.2 826.7,41.2 827.9,41.9 829.1,44.8 830.3,42.7 831.5,41.6 832.7,44.4 833.9,42.7 835.1,42.6 836.3,43.7 837.5,43.8 838.7,37.7 839.9,35.9 841.1,36.8 842.3,34.4 843.5,35.3 844.7,38.3 845.9,37.7 847.1,35.4 848.3,37.0 849.5,37.5 850.7,38.5 851.9,39.8 853.1,38.2 854.3,37.1 855.5,37.9 856.7,38.1 857.9,37.4 859.1,36.6 860.3,37.6 861.5,38.4 862.7,37.8 863.9,38.5 865.1,38.7 866.3,39.1 867.5,36.6 868.7,36.7 869.9,40.1 871.1,40.2 872.3,40.3 873.5,38.7 874.7,38.3 875.9,39.8 877.1,39.4 878.3,38.4 879.5,38.5 880.7,38.3 881.9,37.2 883.1,34.0 884.3,34.3 885.5,37.5 886.7,37.4 887.9,38.7 889.1,40.4 890.3,38.9 891.5,39.7 892.7,38.5 893.9,37.4 895.1,37.7 896.3,35.9 897.5,38.4 898.7,37.8 899.9,34.0 901.1,33.8 902.3,35.6 903.5,35.8 904.7,35.5 905.9,35.7 907.1,36.5 908.3,35.7 909.5,35.2 910.7,37.0 911.9,36.1 913.1,36.4 914.3,37.7 915.5,35.5 916.7,36.9 917.9,36.3 919.1,33.5 920.3,38.7 921.5,40.5 922.7,37.3 923.9,37.8 925.1,39.0 926.3,37.0 927.5,36.2 928.7,37.2 929.9,37.0 931.1,34.6 932.3,32.5 933.5,34.2 934.7,38.3 935.9,41.9 937.1,43.7 938.3,41.9 939.5,38.5 940.7,38.2 941.9,35.0 943.1,34.1 944.3,39.2 945.5,37.9 946.7,32.4 947.9,35.2 949.1,39.6 950.3,39.2 951.5,39.0 952.7,36.9 953.9,34.6 955.1,37.8 956.3,38.7 957.5,35.7 958.7,37.5 959.9,39.4 961.1,40.2 962.3,41.3 963.5,40.8 964.7,39.9 965.9,39.5 967.1,39.2 968.3,41.2 969.5,41.0 970.7,35.5 971.9,33.1 973.1,33.6 974.3,31.8 975.5,33.1 976.7,33.8 977.9,34.1 979.1,34.7 980.3,36.2 981.5,36.0 982.7,34.4 983.9,35.8 985.1,34.5 986.3,33.4 987.5,36.6 988.7,38.7 989.9,40.7 991.1,39.9 992.3,39.7 993.5,38.7 994.7,36.5 995.9,36.9 997.1,35.6 998.3,33.4 999.5,34.4 1000.7,36.7 1001.9,35.7 1003.1,34.0 1004.3,32.6 1005.5,34.9 1006.7,35.1 1007.9,33.6 1009.1,35.3 1009.1,57.9 1007.9,59.0 1006.7,63.0 1005.5,64.7 1004.3,63.0 1003.1,64.5 1001.9,64.5 1000.7,60.1 999.5,57.8 998.3,57.8 997.1,56.7 995.9,55.1 994.7,55.9 993.5,55.3 992.3,54.2 991.1,54.1 989.9,56.4 988.7,59.0 987.5,58.5 986.3,58.1 985.1,57.0 983.9,54.1 982.7,54.0 981.5,53.0 980.3,51.3 979.1,49.4 977.9,48.9 976.7,50.9 975.5,49.7 974.3,50.7 973.1,55.3 971.9,56.0 970.7,54.7 969.5,58.0 968.3,60.6 967.1,62.4 965.9,63.0 964.7,59.2 963.5,57.0 962.3,57.8 961.1,57.4 959.9,60.0 958.7,60.1 957.5,57.4 956.3,58.2 955.1,57.7 953.9,55.9 952.7,51.7 951.5,50.1 950.3,53.5 949.1,54.9 947.9,56.3 946.7,57.5 945.5,54.6 944.3,53.2 943.1,52.4 941.9,54.3 940.7,60.3 939.5,64.0 938.3,68.7 937.1,69.5 935.9,68.9 934.7,69.9 933.5,68.4 932.3,65.1 931.1,65.9 929.9,65.9 928.7,64.6 927.5,63.0 926.3,63.8 925.1,62.4 923.9,61.8 922.7,62.2 921.5,60.2 920.3,57.2 919.1,53.4 917.9,51.8 916.7,49.0 915.5,48.3 914.3,50.7 913.1,51.7 911.9,52.7 910.7,54.9 909.5,55.5 908.3,56.7 907.1,57.6 905.9,56.3 904.7,55.7 903.5,58.1 902.3,61.9 901.1,65.9 899.9,65.4 898.7,64.0 897.5,66.5 896.3,61.4 895.1,58.7 893.9,57.7 892.7,56.0 891.5,60.1 890.3,60.7 889.1,59.1 887.9,58.8 886.7,60.1 885.5,62.3 884.3,59.1 883.1,59.7 881.9,59.6 880.7,56.4 879.5,56.9 878.3,56.7 877.1,53.2 875.9,49.5 874.7,48.7 873.5,51.3 872.3,52.8 871.1,51.4 869.9,51.9 868.7,53.6 867.5,55.7 866.3,52.8 865.1,49.1 863.9,50.5 862.7,52.4 861.5,53.1 860.3,54.8 859.1,57.8 857.9,60.2 856.7,57.6 855.5,54.4 854.3,54.1 853.1,55.1 851.9,56.0 850.7,54.0 849.5,53.2 848.3,53.4 847.1,53.0 845.9,53.8 844.7,52.2 843.5,53.4 842.3,57.3 841.1,57.1 839.9,58.1 838.7,59.1 837.5,59.9 836.3,58.7 835.1,56.6 833.9,58.9 832.7,61.6 831.5,62.5 830.3,61.9 829.1,63.1 827.9,63.8 826.7,60.9 825.5,57.8 824.3,60.9 823.1,63.1 821.9,60.1 820.7,58.5 819.5,57.2 818.3,54.0 817.1,56.3 815.9,58.4 814.7,53.9 813.5,54.0 812.3,56.5 811.1,55.0 809.9,53.3 808.7,53.5 807.5,53.5 806.3,52.4 805.1,54.9 803.9,58.9 802.7,59.8 801.5,60.7 800.3,61.1 799.1,60.3 797.9,59.7 796.7,59.3 795.5,57.6 794.3,57.4 793.1,63.5 791.9,64.3 790.7,61.5 789.5,62.1 788.3,60.9 787.1,59.9 785.9,60.0 784.7,61.5 783.5,62.0 782.3,63.4 781.1,61.8 779.9,59.0 778.7,63.4 777.5,66.6 776.3,69.6 775.1,73.0 773.9,71.6 772.7,69.8 771.5,70.1 770.3,71.8 769.1,68.3 767.9,64.0 766.7,65.9 765.5,66.8 764.3,64.4 763.1,63.1 761.9,61.8 760.7,59.6 759.5,61.2 758.3,60.0 757.1,57.0 755.9,58.4 754.7,59.3 753.5,59.4 752.3,60.8 751.1,61.1 749.9,59.2 748.7,60.7 747.5,64.0 746.3,64.4 745.1,62.5 743.9,63.5 742.7,63.9 741.5,62.5 740.3,63.2 739.1,62.3 737.9,62.8 736.7,61.2 735.5,60.5 734.3,62.1 733.1,60.8 731.9,62.5 730.7,63.1 729.5,59.6 728.3,59.2 727.1,62.7 725.9,63.7 724.7,61.6 723.5,63.1 722.3,63.6 721.1,61.0 719.9,58.6 718.7,58.9 717.5,61.5 716.3,61.9 715.1,63.4 713.9,63.1 712.7,62.6 711.5,61.3 710.3,62.5 709.1,63.2 707.9,60.5 706.7,60.8 705.5,65.5 704.3,67.8 703.1,65.1 701.9,61.4 700.7,63.4 699.5,64.5 698.3,61.4 697.1,59.2 695.9,60.1 694.7,64.7 693.5,66.2 692.3,65.3 691.1,65.4 689.9,68.4 688.7,70.6 687.5,68.9 686.3,65.5 685.1,65.6 683.9,63.8 682.7,62.6 681.5,64.4 680.3,65.2 679.1,65.8 677.9,64.9 676.7,65.3 675.5,64.4 674.3,62.6 673.1,61.7 671.9,64.0 670.7,67.2 669.5,68.9 668.3,69.4 667.1,67.6 665.9,69.6 664.7,67.2 663.5,64.3 662.3,66.2 661.1,66.4 659.9,66.3 658.7,68.4 657.5,68.2 656.3,66.4 655.1,64.5 653.9,62.6 652.7,64.1 651.5,64.8 650.3,69.2 649.1,70.7 647.9,70.0 646.7,71.9 645.5,73.0 644.3,73.1 643.1,71.0 641.9,68.7 640.7,67.7 639.5,72.2 638.3,74.5 637.1,69.6 635.9,71.1 634.7,75.5 633.5,80.9 632.3,90.3 631.1,94.2 629.9,103.8 628.7,113.6 627.5,123.1 626.3,139.0 625.1,148.6 623.9,157.5 622.7,174.3 621.5,185.7 620.3,189.3 619.1,195.8 617.9,204.5 616.7,212.7 615.5,215.4 614.3,218.7 613.1,223.7 611.9,224.0 610.7,222.3 609.5,221.1 608.3,221.1" fill="#bcdaeb" stroke="#9fc6de" stroke-width="0.5"/><polyline points="608.3,201.2 609.5,201.5 610.7,200.3 611.9,201.4 613.1,199.3 614.3,193.6 615.5,188.9 616.7,177.2 617.9,166.1 619.1,154.4 620.3,145.8 621.5,136.1 622.7,129.0 623.9,121.2 625.1,111.1 626.3,99.7 627.5,89.3 628.7,79.1 629.9,67.4 631.1,58.6 632.3,50.4 633.5,49.6 634.7,48.9 635.9,47.8 637.1,47.3 638.3,47.7 639.5,48.0 640.7,48.5 641.9,49.5 643.1,45.9 644.3,45.8 645.5,45.4 646.7,45.0 647.9,44.9 649.1,41.7 650.3,42.2 651.5,45.4 652.7,47.7 653.9,49.0 655.1,49.0 656.3,49.3 657.5,49.6 658.7,45.9 659.9,44.6 661.1,45.7 662.3,45.7 663.5,45.4 664.7,44.6 665.9,42.2 667.1,39.3 668.3,40.8 669.5,40.9 670.7,43.5 671.9,40.2 673.1,42.2 674.3,43.0 675.5,42.9 676.7,43.1 677.9,46.1 679.1,48.5 680.3,47.6 681.5,48.2 682.7,47.9 683.9,47.7 685.1,47.6 686.3,47.6 687.5,45.2 688.7,44.2 689.9,43.9 691.1,44.3 692.3,40.9 693.5,40.8 694.7,38.9 695.9,40.1 697.1,36.7 698.3,36.0 699.5,41.2 700.7,38.7 701.9,40.0 703.1,38.4 704.3,39.3 705.5,40.8 706.7,43.6 707.9,44.1 709.1,44.3 710.3,42.7 711.5,39.3 712.7,39.4 713.9,39.8 715.1,37.9 716.3,36.3 717.5,35.2 718.7,37.8 719.9,37.4 721.1,40.2 722.3,42.8 723.5,45.0 724.7,43.0 725.9,42.1 727.1,41.4 728.3,39.1 729.5,39.3 730.7,40.7 731.9,42.4 733.1,43.8 734.3,42.5 735.5,42.8 736.7,41.4 737.9,42.9 739.1,39.5 740.3,38.2 741.5,37.0 742.7,36.0 743.9,37.3 745.1,38.5 746.3,39.2 747.5,40.8 748.7,41.9 749.9,40.9 751.1,41.5 752.3,40.4 753.5,39.8 754.7,43.4 755.9,43.9 757.1,44.7 758.3,43.2 759.5,43.4 760.7,41.3 761.9,42.9 763.1,42.4 764.3,43.0 765.5,42.0 766.7,38.8 767.9,40.8 769.1,43.8 770.3,41.6 771.5,43.5 772.7,45.2 773.9,46.7 775.1,50.5 776.3,48.3 777.5,47.0 778.7,40.6 779.9,42.2 781.1,40.6 782.3,38.0 783.5,38.1 784.7,37.5 785.9,38.0 787.1,39.3 788.3,39.6 789.5,40.2 790.7,38.7 791.9,39.2 793.1,38.3 794.3,36.1 795.5,36.2 796.7,38.4 797.9,37.9 799.1,39.6 800.3,39.8 801.5,40.1 802.7,43.0 803.9,41.8 805.1,43.0 806.3,41.7 807.5,41.3 808.7,39.8 809.9,39.6 811.1,40.0 812.3,38.0 813.5,35.4 814.7,36.8 815.9,36.7 817.1,37.5 818.3,35.4 819.5,36.8 820.7,37.3 821.9,38.7 823.1,39.0 824.3,39.2 825.5,38.3 826.7,37.9 827.9,37.0 829.1,38.9 830.3,40.8 831.5,39.6 832.7,40.7 833.9,40.1 835.1,39.5 836.3,41.0 837.5,38.6 838.7,37.8 839.9,38.2 841.1,36.8 842.3,36.0 843.5,37.2 844.7,34.5 845.9,37.2 847.1,38.0 848.3,36.1 849.5,35.3 850.7,35.3 851.9,36.0 853.1,39.2 854.3,37.7 855.5,38.0 856.7,38.0 857.9,38.1 859.1,37.1 860.3,37.6 861.5,36.3 862.7,35.2 863.9,37.1 865.1,36.1 866.3,35.2 867.5,36.8 868.7,36.4 869.9,36.1 871.1,37.5 872.3,35.9 873.5,36.5 874.7,35.2 875.9,35.1 877.1,35.3 878.3,33.8 879.5,34.3 880.7,34.9 881.9,34.8 883.1,34.7 884.3,35.0 885.5,38.0 886.7,40.0 887.9,40.1 889.1,43.9 890.3,40.4 891.5,40.7 892.7,42.9 893.9,41.0 895.1,42.9 896.3,40.4 897.5,38.4 898.7,34.7 899.9,31.4 901.1,32.4 902.3,35.0 903.5,34.6 904.7,36.9 905.9,37.4 907.1,38.7 908.3,36.0 909.5,36.9 910.7,35.9 911.9,34.8 913.1,35.1 914.3,34.2 915.5,34.2 916.7,35.6 917.9,34.2 919.1,37.0 920.3,37.7 921.5,36.1 922.7,35.2 923.9,36.3 925.1,36.3 926.3,37.6 927.5,39.9 928.7,39.7 929.9,36.9 931.1,36.5 932.3,35.6 933.5,36.5 934.7,39.0 935.9,39.3 937.1,40.7 938.3,42.0 939.5,42.9 940.7,38.2 941.9,36.7 943.1,34.3 944.3,33.7 945.5,35.0 946.7,37.9 947.9,38.6 949.1,40.7 950.3,39.9 951.5,39.4 952.7,36.3 953.9,36.8 955.1,35.4 956.3,35.6 957.5,36.7 958.7,39.7 959.9,42.7 961.1,43.2 962.3,42.2 963.5,39.6 964.7,41.0 965.9,39.3 967.1,35.2 968.3,35.1 969.5,33.1 970.7,33.0 971.9,32.5 973.1,34.8 974.3,35.4 975.5,37.1 976.7,36.2 977.9,34.9 979.1,36.2 980.3,34.3 981.5,35.7 982.7,38.4 983.9,39.8 985.1,40.3 986.3,41.5 987.5,39.3 988.7,38.1 989.9,37.8 991.1,36.4 992.3,37.6 993.5,37.7 994.7,36.5 995.9,33.7 997.1,33.4 998.3,32.2 999.5,30.4 1000.7,31.1 1001.9,32.6 1003.1,35.9 1004.3,36.0 1005.5,32.1 1006.7,32.1 1007.9,35.5 1009.1,33.9" fill="none" stroke="#7a7a7a" stroke-opacity="0.4" stroke-width="0.7"/><polyline points="608.3,203.7 609.5,203.1 610.7,203.6 611.9,203.9 613.1,202.7 614.3,196.6 615.5,189.9 616.7,178.4 617.9,169.1 619.1,157.5 620.3,149.0 621.5,139.1 622.7,131.9 623.9,123.1 625.1,114.7 626.3,103.9 627.5,93.6 628.7,81.8 629.9,74.1 631.1,61.8 632.3,56.7 633.5,53.6 634.7,50.9 635.9,50.9 637.1,51.7 638.3,49.4 639.5,50.2 640.7,49.8 641.9,48.7 643.1,50.3 644.3,50.5 645.5,47.5 646.7,47.2 647.9,47.0 649.1,48.6 650.3,45.9 651.5,46.4 652.7,47.9 653.9,49.6 655.1,49.9 656.3,50.8 657.5,50.3 658.7,50.5 659.9,48.6 661.1,48.7 662.3,48.8 663.5,47.8 664.7,44.5 665.9,44.2 667.1,45.7 668.3,43.9 669.5,46.1 670.7,44.9 671.9,44.5 673.1,46.6 674.3,47.1 675.5,49.6 676.7,48.4 677.9,49.4 679.1,49.2 680.3,50.1 681.5,48.9 682.7,50.4 683.9,51.1 685.1,51.3 686.3,49.1 687.5,49.4 688.7,47.4 689.9,47.1 691.1,46.7 692.3,45.8 693.5,43.9 694.7,42.0 695.9,41.6 697.1,39.5 698.3,41.8 699.5,40.4 700.7,41.4 701.9,40.7 703.1,43.3 704.3,43.7 705.5,45.2 706.7,47.4 707.9,48.1 709.1,47.8 710.3,46.6 711.5,44.5 712.7,43.7 713.9,43.6 715.1,41.2 716.3,40.4 717.5,38.7 718.7,39.2 719.9,42.6 721.1,42.8 722.3,46.3 723.5,46.8 724.7,45.0 725.9,45.2 727.1,43.2 728.3,42.8 729.5,43.8 730.7,43.8 731.9,44.9 733.1,43.9 734.3,45.0 735.5,46.3 736.7,45.4 737.9,45.6 739.1,45.3 740.3,42.5 741.5,39.8 742.7,40.1 743.9,41.6 745.1,40.8 746.3,37.9 747.5,40.3 748.7,41.5 749.9,39.2 751.1,40.8 752.3,41.8 753.5,44.8 754.7,42.4 755.9,46.6 757.1,46.0 758.3,46.6 759.5,45.9 760.7,43.7 761.9,42.4 763.1,39.8 764.3,40.8 765.5,39.9 766.7,42.7 767.9,41.0 769.1,41.9 770.3,45.4 771.5,46.0 772.7,46.5 773.9,50.2 775.1,53.5 776.3,51.2 777.5,48.0 778.7,46.0 779.9,44.3 781.1,44.2 782.3,41.6 783.5,39.6 784.7,40.5 785.9,39.7 787.1,40.0 788.3,40.7 789.5,41.8 790.7,42.9 791.9,41.4 793.1,39.7 794.3,41.3 795.5,39.8 796.7,42.0 797.9,41.5 799.1,41.3 800.3,43.1 801.5,44.8 802.7,46.8 803.9,46.0 805.1,44.5 806.3,42.6 807.5,45.1 808.7,41.8 809.9,39.6 811.1,39.5 812.3,37.8 813.5,37.5 814.7,37.6 815.9,39.4 817.1,40.3 818.3,39.6 819.5,41.0 820.7,40.5 821.9,41.8 823.1,39.7 824.3,39.0 825.5,39.5 826.7,40.0 827.9,40.4 829.1,41.8 830.3,41.8 831.5,42.6 832.7,44.4 833.9,41.5 835.1,42.8 836.3,41.4 837.5,39.6 838.7,42.6 839.9,39.6 841.1,41.6 842.3,41.4 843.5,40.8 844.7,39.6 845.9,38.9 847.1,40.4 848.3,40.4 849.5,40.0 850.7,36.7 851.9,38.9 853.1,40.2 854.3,39.8 855.5,38.9 856.7,38.1 857.9,37.8 859.1,39.6 860.3,38.6 861.5,39.0 862.7,39.4 863.9,35.7 865.1,37.9 866.3,37.4 867.5,37.9 868.7,38.9 869.9,37.4 871.1,38.4 872.3,37.7 873.5,36.6 874.7,37.0 875.9,36.9 877.1,34.7 878.3,37.1 879.5,36.5 880.7,38.5 881.9,37.3 883.1,37.5 884.3,39.4 885.5,40.8 886.7,41.9 887.9,43.2 889.1,44.9 890.3,42.3 891.5,41.1 892.7,45.5 893.9,43.0 895.1,46.0 896.3,44.2 897.5,42.6 898.7,40.7 899.9,39.7 901.1,38.1 902.3,38.9 903.5,43.0 904.7,42.3 905.9,42.6 907.1,43.3 908.3,41.6 909.5,39.9 910.7,38.4 911.9,36.1 913.1,36.3 914.3,35.1 915.5,37.5 916.7,36.7 917.9,37.9 919.1,38.0 920.3,36.3 921.5,36.9 922.7,35.7 923.9,35.4 925.1,36.3 926.3,37.6 927.5,38.1 928.7,39.9 929.9,38.6 931.1,37.7 932.3,38.2 933.5,39.6 934.7,41.4 935.9,42.5 937.1,42.6 938.3,44.8 939.5,41.8 940.7,40.0 941.9,39.0 943.1,37.1 944.3,38.8 945.5,40.7 946.7,39.8 947.9,41.9 949.1,45.4 950.3,44.2 951.5,40.3 952.7,39.0 953.9,38.5 955.1,41.4 956.3,42.4 957.5,44.5 958.7,45.6 959.9,47.7 961.1,47.4 962.3,46.3 963.5,43.1 964.7,44.8 965.9,42.9 967.1,40.8 968.3,40.2 969.5,35.6 970.7,36.0 971.9,36.5 973.1,36.9 974.3,36.5 975.5,36.7 976.7,35.0 977.9,35.3 979.1,34.5 980.3,35.7 981.5,37.3 982.7,37.0 983.9,38.6 985.1,41.1 986.3,40.5 987.5,41.3 988.7,40.5 989.9,40.2 991.1,39.7 992.3,38.9 993.5,40.7 994.7,42.4 995.9,40.9 997.1,39.9 998.3,41.5 999.5,42.5 1000.7,43.5 1001.9,46.6 1003.1,48.8 1004.3,49.8 1005.5,50.1 1006.7,50.0 1007.9,49.0 1009.1,48.4" fill="none" stroke="#7a7a7a" stroke-opacity="0.4" stroke-width="0.7"/><polyline points="608.3,207.6 609.5,209.6 610.7,212.2 611.9,210.4 613.1,208.4 614.3,202.3 615.5,194.6 616.7,187.3 617.9,176.8 619.1,162.9 620.3,154.6 621.5,140.2 622.7,133.0 623.9,126.1 625.1,116.1 626.3,108.0 627.5,98.1 628.7,87.2 629.9,79.4 631.1,68.9 632.3,62.5 633.5,59.1 634.7,58.6 635.9,57.8 637.1,59.1 638.3,60.1 639.5,58.9 640.7,58.8 641.9,62.8 643.1,64.6 644.3,58.7 645.5,59.9 646.7,54.6 647.9,53.4 649.1,51.4 650.3,50.7 651.5,50.6 652.7,50.8 653.9,51.6 655.1,54.1 656.3,53.5 657.5,50.9 658.7,53.0 659.9,51.4 661.1,51.0 662.3,49.1 663.5,49.4 664.7,47.5 665.9,45.7 667.1,46.5 668.3,45.4 669.5,47.5 670.7,46.5 671.9,48.9 673.1,50.2 674.3,49.2 675.5,52.8 676.7,52.6 677.9,53.2 679.1,54.0 680.3,54.8 681.5,53.5 682.7,54.1 683.9,53.0 685.1,54.0 686.3,52.5 687.5,54.0 688.7,50.4 689.9,50.1 691.1,52.3 692.3,47.4 693.5,45.1 694.7,45.4 695.9,43.1 697.1,42.0 698.3,41.0 699.5,41.2 700.7,41.3 701.9,44.2 703.1,45.4 704.3,47.3 705.5,48.7 706.7,50.4 707.9,54.1 709.1,51.8 710.3,52.9 711.5,50.4 712.7,48.4 713.9,48.1 715.1,49.0 716.3,47.0 717.5,47.5 718.7,45.6 719.9,48.3 721.1,49.9 722.3,48.3 723.5,48.9 724.7,46.3 725.9,44.9 727.1,40.5 728.3,38.8 729.5,39.3 730.7,39.1 731.9,42.9 733.1,44.5 734.3,44.6 735.5,46.6 736.7,50.3 737.9,51.2 739.1,50.2 740.3,44.4 741.5,46.2 742.7,46.9 743.9,48.4 745.1,48.5 746.3,49.2 747.5,49.5 748.7,50.4 749.9,51.7 751.1,49.5 752.3,45.4 753.5,47.2 754.7,46.5 755.9,48.1 757.1,47.9 758.3,46.9 759.5,43.2 760.7,42.2 761.9,42.9 763.1,43.0 764.3,43.8 765.5,45.0 766.7,42.9 767.9,43.8 769.1,46.8 770.3,46.7 771.5,47.3 772.7,49.7 773.9,52.4 775.1,54.6 776.3,56.7 777.5,53.1 778.7,54.4 779.9,52.5 781.1,48.8 782.3,48.5 783.5,48.6 784.7,45.6 785.9,46.6 787.1,49.2 788.3,51.0 789.5,52.9 790.7,51.5 791.9,50.3 793.1,51.4 794.3,48.8 795.5,50.9 796.7,49.4 797.9,47.3 799.1,47.7 800.3,45.3 801.5,46.2 802.7,45.2 803.9,45.4 805.1,43.3 806.3,40.2 807.5,41.1 808.7,41.9 809.9,39.0 811.1,38.6 812.3,36.6 813.5,37.6 814.7,38.4 815.9,41.7 817.1,42.8 818.3,41.5 819.5,45.7 820.7,46.3 821.9,47.1 823.1,48.4 824.3,46.2 825.5,44.7 826.7,43.6 827.9,45.6 829.1,43.2 830.3,43.7 831.5,45.5 832.7,46.5 833.9,44.0 835.1,41.7 836.3,43.5 837.5,40.2 838.7,38.5 839.9,38.3 841.1,35.8 842.3,40.0 843.5,37.0 844.7,40.2 845.9,38.9 847.1,40.0 848.3,37.5 849.5,38.5 850.7,34.4 851.9,36.3 853.1,39.5 854.3,39.9 855.5,43.0 856.7,42.6 857.9,43.2 859.1,45.7 860.3,42.6 861.5,45.2 862.7,45.4 863.9,44.7 865.1,46.4 866.3,45.5 867.5,45.2 868.7,43.5 869.9,43.8 871.1,45.8 872.3,44.5 873.5,43.9 874.7,44.2 875.9,45.6 877.1,45.2 878.3,43.5 879.5,45.5 880.7,46.4 881.9,45.3 883.1,43.1 884.3,45.0 885.5,41.6 886.7,42.4 887.9,43.1 889.1,45.1 890.3,44.0 891.5,38.3 892.7,41.9 893.9,43.8 895.1,44.7 896.3,43.1 897.5,41.3 898.7,37.7 899.9,37.6 901.1,33.3 902.3,36.6 903.5,36.5 904.7,38.6 905.9,42.2 907.1,41.2 908.3,38.9 909.5,41.7 910.7,40.8 911.9,40.4 913.1,38.9 914.3,38.8 915.5,39.7 916.7,39.7 917.9,41.1 919.1,41.7 920.3,42.7 921.5,41.3 922.7,41.2 923.9,43.2 925.1,42.2 926.3,42.6 927.5,44.8 928.7,46.2 929.9,45.9 931.1,43.3 932.3,43.1 933.5,44.7 934.7,46.2 935.9,46.8 937.1,53.0 938.3,52.6 939.5,49.4 940.7,43.3 941.9,41.4 943.1,39.5 944.3,39.1 945.5,41.0 946.7,46.8 947.9,48.6 949.1,50.5 950.3,50.6 951.5,48.9 952.7,44.8 953.9,42.3 955.1,46.5 956.3,48.1 957.5,48.6 958.7,48.9 959.9,51.2 961.1,48.8 962.3,48.7 963.5,47.8 964.7,47.1 965.9,45.6 967.1,44.9 968.3,44.6 969.5,42.2 970.7,36.6 971.9,37.4 973.1,34.8 974.3,37.9 975.5,41.2 976.7,39.2 977.9,39.1 979.1,38.2 980.3,39.8 981.5,40.0 982.7,40.2 983.9,41.7 985.1,42.7 986.3,46.2 987.5,48.2 988.7,45.6 989.9,43.3 991.1,41.8 992.3,43.1 993.5,44.3 994.7,43.2 995.9,45.1 997.1,41.8 998.3,41.7 999.5,41.4 1000.7,42.7 1001.9,40.8 1003.1,45.6 1004.3,51.1 1005.5,55.7 1006.7,52.5 1007.9,50.7 1009.1,51.5" fill="none" stroke="#7a7a7a" stroke-opacity="0.4" stroke-width="0.7"/><polyline points="608.3,211.1 609.5,211.4 610.7,208.5 611.9,209.0 613.1,207.5 614.3,202.5 615.5,197.0 616.7,187.2 617.9,177.7 619.1,166.6 620.3,159.7 621.5,150.2 622.7,141.6 623.9,129.9 625.1,121.2 626.3,110.0 627.5,96.8 628.7,84.9 629.9,77.9 631.1,68.9 632.3,63.4 633.5,60.3 634.7,59.4 635.9,58.5 637.1,58.6 638.3,57.1 639.5,57.0 640.7,55.8 641.9,55.7 643.1,58.2 644.3,57.0 645.5,55.5 646.7,55.2 647.9,55.1 649.1,54.8 650.3,54.1 651.5,55.1 652.7,55.4 653.9,54.6 655.1,54.5 656.3,53.8 657.5,54.1 658.7,54.4 659.9,52.9 661.1,51.3 662.3,51.6 663.5,51.2 664.7,50.7 665.9,51.1 667.1,51.0 668.3,51.2 669.5,51.2 670.7,51.7 671.9,51.2 673.1,52.3 674.3,51.4 675.5,51.7 676.7,54.4 677.9,53.5 679.1,52.7 680.3,54.4 681.5,55.1 682.7,55.3 683.9,55.7 685.1,57.6 686.3,55.5 687.5,55.3 688.7,53.2 689.9,51.4 691.1,49.8 692.3,50.7 693.5,47.8 694.7,46.9 695.9,46.2 697.1,47.0 698.3,45.1 699.5,44.7 700.7,44.6 701.9,46.6 703.1,44.2 704.3,45.9 705.5,48.6 706.7,49.7 707.9,51.4 709.1,53.0 710.3,50.3 711.5,50.9 712.7,51.1 713.9,48.8 715.1,49.2 716.3,46.9 717.5,46.2 718.7,47.4 719.9,48.4 721.1,49.3 722.3,51.9 723.5,52.0 724.7,50.5 725.9,50.1 727.1,47.4 728.3,46.8 729.5,46.7 730.7,45.9 731.9,47.2 733.1,51.8 734.3,49.9 735.5,50.7 736.7,50.0 737.9,51.2 739.1,48.2 740.3,46.4 741.5,47.7 742.7,46.3 743.9,44.9 745.1,45.7 746.3,46.2 747.5,48.0 748.7,48.3 749.9,48.0 751.1,46.2 752.3,47.1 753.5,46.8 754.7,48.0 755.9,48.5 757.1,50.1 758.3,49.5 759.5,48.7 760.7,48.5 761.9,48.2 763.1,46.6 764.3,47.0 765.5,47.0 766.7,50.1 767.9,47.3 769.1,47.6 770.3,48.3 771.5,51.5 772.7,52.0 773.9,56.6 775.1,57.2 776.3,55.7 777.5,53.0 778.7,50.5 779.9,49.6 781.1,49.0 782.3,44.7 783.5,45.7 784.7,44.5 785.9,45.1 787.1,48.1 788.3,49.6 789.5,48.4 790.7,47.6 791.9,47.0 793.1,48.3 794.3,45.7 795.5,46.9 796.7,46.5 797.9,45.5 799.1,46.2 800.3,46.4 801.5,47.8 802.7,48.8 803.9,49.2 805.1,46.9 806.3,45.3 807.5,45.0 808.7,44.9 809.9,46.2 811.1,44.4 812.3,42.9 813.5,42.6 814.7,43.3 815.9,44.9 817.1,43.8 818.3,42.3 819.5,42.8 820.7,45.5 821.9,45.0 823.1,44.7 824.3,45.8 825.5,44.6 826.7,46.0 827.9,47.8 829.1,47.9 830.3,47.0 831.5,49.4 832.7,48.4 833.9,46.8 835.1,45.9 836.3,46.3 837.5,44.2 838.7,47.5 839.9,45.2 841.1,45.2 842.3,43.7 843.5,43.4 844.7,44.8 845.9,42.4 847.1,42.1 848.3,41.8 849.5,40.7 850.7,41.9 851.9,40.5 853.1,42.5 854.3,44.2 855.5,43.1 856.7,42.5 857.9,42.8 859.1,43.0 860.3,42.1 861.5,42.0 862.7,42.8 863.9,42.7 865.1,41.7 866.3,43.4 867.5,42.7 868.7,41.1 869.9,41.8 871.1,41.5 872.3,41.1 873.5,42.5 874.7,40.3 875.9,43.3 877.1,41.5 878.3,40.9 879.5,44.4 880.7,41.9 881.9,41.4 883.1,41.5 884.3,43.1 885.5,45.4 886.7,46.9 887.9,46.9 889.1,49.3 890.3,47.2 891.5,46.5 892.7,48.0 893.9,49.4 895.1,49.6 896.3,50.1 897.5,49.0 898.7,47.1 899.9,46.1 901.1,44.9 902.3,45.4 903.5,44.2 904.7,46.8 905.9,48.2 907.1,48.6 908.3,45.7 909.5,44.8 910.7,43.7 911.9,41.6 913.1,41.3 914.3,40.2 915.5,40.1 916.7,38.2 917.9,41.0 919.1,41.3 920.3,41.4 921.5,42.8 922.7,40.8 923.9,42.5 925.1,44.6 926.3,44.3 927.5,43.5 928.7,43.7 929.9,44.9 931.1,44.3 932.3,45.2 933.5,48.1 934.7,47.0 935.9,47.5 937.1,51.4 938.3,52.2 939.5,50.5 940.7,46.6 941.9,45.4 943.1,44.8 944.3,44.8 945.5,46.9 946.7,47.3 947.9,46.9 949.1,48.3 950.3,47.1 951.5,45.5 952.7,43.6 953.9,43.1 955.1,46.3 956.3,48.5 957.5,47.6 958.7,50.7 959.9,53.0 961.1,51.0 962.3,49.4 963.5,46.2 964.7,47.2 965.9,45.9 967.1,46.0 968.3,43.4 969.5,42.2 970.7,40.5 971.9,40.6 973.1,39.6 974.3,41.1 975.5,40.7 976.7,40.5 977.9,38.9 979.1,37.7 980.3,40.0 981.5,41.2 982.7,42.6 983.9,44.5 985.1,46.1 986.3,44.0 987.5,45.8 988.7,45.5 989.9,42.2 991.1,40.7 992.3,40.6 993.5,42.4 994.7,40.5 995.9,41.6 997.1,39.8 998.3,40.3 999.5,37.6 1000.7,39.0 1001.9,39.5 1003.1,40.5 1004.3,38.5 1005.5,36.9 1006.7,38.7 1007.9,36.7 1009.1,36.3" fill="none" stroke="#7a7a7a" stroke-opacity="0.4" stroke-width="0.7"/><polyline points="608.3,212.1 609.5,211.2 610.7,211.4 611.9,212.7 613.1,209.8 614.3,206.0 615.5,202.9 616.7,195.2 617.9,185.1 619.1,177.9 620.3,169.5 621.5,159.1 622.7,149.1 623.9,138.1 625.1,129.4 626.3,117.1 627.5,103.1 628.7,92.9 629.9,83.8 631.1,74.5 632.3,72.1 633.5,64.3 634.7,61.2 635.9,59.3 637.1,58.7 638.3,56.5 639.5,55.8 640.7,55.6 641.9,55.9 643.1,54.8 644.3,57.8 645.5,57.0 646.7,58.1 647.9,55.6 649.1,54.9 650.3,55.7 651.5,55.3 652.7,57.3 653.9,57.1 655.1,57.2 656.3,56.9 657.5,57.6 658.7,55.1 659.9,55.6 661.1,56.4 662.3,53.9 663.5,54.9 664.7,54.3 665.9,55.4 667.1,53.8 668.3,54.6 669.5,56.9 670.7,56.3 671.9,57.1 673.1,57.3 674.3,55.9 675.5,56.0 676.7,57.2 677.9,57.7 679.1,56.5 680.3,57.9 681.5,57.4 682.7,59.6 683.9,59.0 685.1,60.9 686.3,60.3 687.5,61.0 688.7,58.6 689.9,55.8 691.1,54.3 692.3,53.9 693.5,51.6 694.7,50.8 695.9,47.9 697.1,49.3 698.3,48.3 699.5,48.5 700.7,47.9 701.9,50.3 703.1,49.9 704.3,50.4 705.5,52.2 706.7,51.5 707.9,54.4 709.1,54.1 710.3,54.6 711.5,53.0 712.7,54.0 713.9,51.2 715.1,49.9 716.3,48.1 717.5,48.5 718.7,47.3 719.9,50.6 721.1,54.5 722.3,53.8 723.5,54.5 724.7,51.3 725.9,48.8 727.1,49.2 728.3,49.6 729.5,49.9 730.7,51.9 731.9,50.5 733.1,51.6 734.3,54.1 735.5,53.5 736.7,55.5 737.9,55.3 739.1,56.1 740.3,51.7 741.5,52.2 742.7,52.7 743.9,51.9 745.1,48.5 746.3,48.8 747.5,48.7 748.7,49.1 749.9,44.9 751.1,48.8 752.3,48.2 753.5,49.2 754.7,48.9 755.9,51.1 757.1,50.6 758.3,52.7 759.5,53.2 760.7,53.0 761.9,52.0 763.1,51.8 764.3,49.3 765.5,48.4 766.7,49.0 767.9,49.5 769.1,50.0 770.3,52.3 771.5,51.9 772.7,53.8 773.9,57.4 775.1,60.8 776.3,58.8 777.5,59.2 778.7,56.3 779.9,55.0 781.1,55.5 782.3,52.0 783.5,51.2 784.7,51.4 785.9,50.8 787.1,51.7 788.3,51.8 789.5,48.6 790.7,49.9 791.9,50.4 793.1,48.3 794.3,50.7 795.5,48.9 796.7,48.3 797.9,47.9 799.1,48.8 800.3,47.5 801.5,50.2 802.7,48.1 803.9,49.1 805.1,49.1 806.3,47.7 807.5,49.0 808.7,49.9 809.9,48.8 811.1,46.7 812.3,45.9 813.5,45.1 814.7,45.3 815.9,45.8 817.1,46.9 818.3,48.4 819.5,49.5 820.7,48.9 821.9,49.6 823.1,49.3 824.3,48.5 825.5,49.1 826.7,45.6 827.9,48.6 829.1,46.3 830.3,47.9 831.5,50.2 832.7,49.0 833.9,49.2 835.1,47.9 836.3,47.7 837.5,46.6 838.7,48.7 839.9,47.2 841.1,47.5 842.3,49.6 843.5,46.5 844.7,47.2 845.9,45.1 847.1,46.2 848.3,44.2 849.5,45.2 850.7,42.7 851.9,42.1 853.1,44.0 854.3,45.1 855.5,43.4 856.7,44.5 857.9,44.4 859.1,44.5 860.3,44.3 861.5,44.0 862.7,45.7 863.9,45.5 865.1,46.2 866.3,45.6 867.5,45.5 868.7,46.7 869.9,44.4 871.1,46.1 872.3,45.4 873.5,45.7 874.7,45.8 875.9,44.5 877.1,45.7 878.3,46.4 879.5,48.4 880.7,49.0 881.9,48.0 883.1,49.2 884.3,50.4 885.5,50.1 886.7,51.0 887.9,52.7 889.1,50.8 890.3,48.4 891.5,43.3 892.7,48.1 893.9,47.3 895.1,51.1 896.3,49.8 897.5,48.1 898.7,46.8 899.9,45.8 901.1,44.9 902.3,44.5 903.5,48.2 904.7,48.4 905.9,50.3 907.1,51.0 908.3,49.4 909.5,45.6 910.7,46.3 911.9,46.6 913.1,45.3 914.3,43.2 915.5,46.7 916.7,44.9 917.9,44.8 919.1,43.8 920.3,46.4 921.5,46.1 922.7,47.2 923.9,47.8 925.1,50.7 926.3,48.8 927.5,50.4 928.7,50.6 929.9,47.8 931.1,47.9 932.3,47.4 933.5,49.4 934.7,50.7 935.9,51.4 937.1,54.5 938.3,60.8 939.5,55.4 940.7,49.6 941.9,49.3 943.1,47.6 944.3,47.1 945.5,47.5 946.7,47.8 947.9,48.4 949.1,49.7 950.3,48.9 951.5,47.7 952.7,45.5 953.9,48.8 955.1,49.5 956.3,51.9 957.5,48.1 958.7,52.6 959.9,53.3 961.1,53.3 962.3,50.6 963.5,47.2 964.7,47.9 965.9,46.9 967.1,49.1 968.3,47.2 969.5,45.9 970.7,44.3 971.9,44.9 973.1,43.3 974.3,44.6 975.5,43.8 976.7,40.8 977.9,40.2 979.1,41.8 980.3,43.1 981.5,44.6 982.7,45.6 983.9,46.0 985.1,47.8 986.3,48.0 987.5,47.5 988.7,46.4 989.9,47.2 991.1,44.9 992.3,42.7 993.5,45.9 994.7,44.7 995.9,42.7 997.1,40.4 998.3,41.1 999.5,41.5 1000.7,41.0 1001.9,43.8 1003.1,45.6 1004.3,47.2 1005.5,44.9 1006.7,42.4 1007.9,40.9 1009.1,42.0" fill="none" stroke="#7a7a7a" stroke-opacity="0.4" stroke-width="0.7"/><polyline points="608.3,214.7 609.5,214.8 610.7,216.7 611.9,213.4 613.1,213.2 614.3,209.5 615.5,205.9 616.7,198.0 617.9,190.6 619.1,183.3 620.3,173.4 621.5,165.9 622.7,155.1 623.9,142.6 625.1,130.7 626.3,122.0 627.5,105.0 628.7,93.7 629.9,84.3 631.1,79.0 632.3,74.7 633.5,71.3 634.7,65.2 635.9,63.9 637.1,63.6 638.3,62.4 639.5,60.4 640.7,61.0 641.9,59.3 643.1,59.1 644.3,60.5 645.5,58.7 646.7,59.5 647.9,57.4 649.1,58.0 650.3,58.7 651.5,57.1 652.7,59.7 653.9,56.4 655.1,55.3 656.3,56.8 657.5,57.3 658.7,57.3 659.9,56.0 661.1,57.2 662.3,55.7 663.5,57.4 664.7,57.5 665.9,57.0 667.1,53.8 668.3,53.5 669.5,52.9 670.7,52.9 671.9,53.7 673.1,55.3 674.3,54.7 675.5,55.0 676.7,56.2 677.9,58.0 679.1,57.6 680.3,59.6 681.5,58.5 682.7,58.9 683.9,59.2 685.1,60.9 686.3,62.4 687.5,61.9 688.7,61.2 689.9,61.2 691.1,59.0 692.3,58.3 693.5,55.0 694.7,54.7 695.9,52.7 697.1,51.5 698.3,52.7 699.5,53.1 700.7,52.4 701.9,50.5 703.1,52.4 704.3,51.5 705.5,54.8 706.7,54.5 707.9,54.7 709.1,54.3 710.3,56.6 711.5,57.4 712.7,55.8 713.9,54.2 715.1,54.0 716.3,51.3 717.5,51.2 718.7,54.1 719.9,53.5 721.1,54.7 722.3,56.6 723.5,57.6 724.7,55.5 725.9,54.6 727.1,54.3 728.3,52.7 729.5,49.8 730.7,51.3 731.9,50.9 733.1,51.3 734.3,52.5 735.5,53.5 736.7,54.5 737.9,51.2 739.1,51.0 740.3,49.1 741.5,50.4 742.7,51.4 743.9,51.7 745.1,52.0 746.3,51.1 747.5,51.5 748.7,51.0 749.9,50.4 751.1,52.8 752.3,52.4 753.5,53.2 754.7,52.5 755.9,56.2 757.1,59.1 758.3,58.3 759.5,54.9 760.7,53.1 761.9,52.1 763.1,50.6 764.3,51.1 765.5,51.5 766.7,48.8 767.9,52.9 769.1,53.3 770.3,55.8 771.5,55.0 772.7,56.6 773.9,57.6 775.1,60.8 776.3,60.0 777.5,58.6 778.7,58.4 779.9,56.3 781.1,53.3 782.3,55.9 783.5,55.3 784.7,55.4 785.9,55.5 787.1,55.6 788.3,56.3 789.5,54.3 790.7,53.8 791.9,52.7 793.1,52.1 794.3,53.9 795.5,51.0 796.7,52.9 797.9,52.1 799.1,51.6 800.3,50.4 801.5,51.1 802.7,51.3 803.9,52.5 805.1,50.5 806.3,49.1 807.5,48.8 808.7,47.7 809.9,46.3 811.1,43.3 812.3,44.3 813.5,43.5 814.7,46.0 815.9,45.0 817.1,45.5 818.3,45.8 819.5,47.0 820.7,47.4 821.9,48.0 823.1,46.2 824.3,47.5 825.5,47.7 826.7,49.1 827.9,50.1 829.1,50.0 830.3,48.8 831.5,51.9 832.7,54.2 833.9,51.5 835.1,48.8 836.3,49.1 837.5,47.5 838.7,49.7 839.9,44.2 841.1,46.9 842.3,46.3 843.5,44.9 844.7,43.4 845.9,44.7 847.1,44.4 848.3,44.4 849.5,43.2 850.7,43.7 851.9,43.5 853.1,46.2 854.3,48.5 855.5,49.2 856.7,49.0 857.9,49.7 859.1,49.2 860.3,47.5 861.5,47.2 862.7,48.0 863.9,46.3 865.1,47.7 866.3,46.2 867.5,47.5 868.7,48.3 869.9,46.1 871.1,46.1 872.3,44.4 873.5,44.7 874.7,43.9 875.9,45.4 877.1,44.0 878.3,47.7 879.5,47.2 880.7,46.8 881.9,48.5 883.1,49.8 884.3,52.6 885.5,54.7 886.7,57.6 887.9,55.7 889.1,56.5 890.3,54.8 891.5,52.5 892.7,51.2 893.9,51.6 895.1,53.8 896.3,52.3 897.5,50.5 898.7,49.6 899.9,48.3 901.1,45.4 902.3,45.8 903.5,44.9 904.7,43.9 905.9,47.8 907.1,48.2 908.3,46.6 909.5,44.7 910.7,43.2 911.9,43.4 913.1,45.0 914.3,46.8 915.5,46.2 916.7,47.5 917.9,47.5 919.1,45.3 920.3,46.0 921.5,48.9 922.7,48.7 923.9,51.8 925.1,53.3 926.3,54.6 927.5,53.2 928.7,55.3 929.9,56.3 931.1,55.6 932.3,57.8 933.5,58.9 934.7,59.5 935.9,58.0 937.1,59.9 938.3,60.8 939.5,55.6 940.7,49.4 941.9,49.2 943.1,48.9 944.3,49.4 945.5,48.7 946.7,49.5 947.9,53.0 949.1,54.2 950.3,52.8 951.5,50.9 952.7,48.6 953.9,51.1 955.1,54.0 956.3,53.3 957.5,56.5 958.7,53.6 959.9,55.7 961.1,52.2 962.3,50.4 963.5,50.1 964.7,49.8 965.9,47.4 967.1,46.9 968.3,45.0 969.5,46.3 970.7,45.6 971.9,42.9 973.1,40.7 974.3,41.9 975.5,44.3 976.7,40.9 977.9,39.5 979.1,41.0 980.3,41.1 981.5,45.2 982.7,47.3 983.9,49.1 985.1,49.5 986.3,52.1 987.5,49.8 988.7,49.4 989.9,47.8 991.1,45.8 992.3,49.6 993.5,48.2 994.7,50.0 995.9,50.9 997.1,50.4 998.3,52.9 999.5,60.0 1000.7,60.5 1001.9,60.8 1003.1,63.2 1004.3,60.8 1005.5,59.6 1006.7,58.3 1007.9,55.1 1009.1,53.7" fill="none" stroke="#7a7a7a" stroke-opacity="0.4" stroke-width="0.7"/><polyline points="608.3,217.1 609.5,218.9 610.7,219.0 611.9,219.1 613.1,216.8 614.3,210.1 615.5,202.9 616.7,191.3 617.9,183.5 619.1,172.8 620.3,163.5 621.5,159.6 622.7,149.9 623.9,139.9 625.1,134.1 626.3,122.6 627.5,110.5 628.7,100.3 629.9,87.2 631.1,80.6 632.3,75.6 633.5,73.1 634.7,66.1 635.9,66.0 637.1,66.2 638.3,68.0 639.5,65.2 640.7,65.6 641.9,67.3 643.1,63.6 644.3,65.7 645.5,68.7 646.7,68.7 647.9,65.0 649.1,60.9 650.3,62.8 651.5,64.9 652.7,63.6 653.9,64.7 655.1,62.6 656.3,67.5 657.5,66.1 658.7,64.3 659.9,63.5 661.1,64.0 662.3,58.9 663.5,60.2 664.7,61.8 665.9,59.2 667.1,61.3 668.3,61.9 669.5,59.3 670.7,57.9 671.9,56.0 673.1,60.4 674.3,55.5 675.5,58.7 676.7,58.1 677.9,57.2 679.1,56.1 680.3,58.1 681.5,58.7 682.7,59.9 683.9,62.9 685.1,61.2 686.3,63.7 687.5,62.3 688.7,62.3 689.9,61.7 691.1,60.7 692.3,61.7 693.5,58.9 694.7,63.5 695.9,58.3 697.1,53.9 698.3,52.8 699.5,56.1 700.7,56.3 701.9,52.6 703.1,52.8 704.3,51.4 705.5,52.2 706.7,54.3 707.9,54.3 709.1,56.3 710.3,55.6 711.5,50.6 712.7,52.5 713.9,52.6 715.1,49.6 716.3,48.7 717.5,48.8 718.7,51.4 719.9,55.3 721.1,58.8 722.3,59.9 723.5,61.0 724.7,60.5 725.9,58.6 727.1,58.0 728.3,53.9 729.5,55.3 730.7,54.2 731.9,53.5 733.1,55.3 734.3,58.5 735.5,60.9 736.7,62.0 737.9,63.1 739.1,57.9 740.3,57.0 741.5,57.7 742.7,56.2 743.9,57.0 745.1,54.9 746.3,52.5 747.5,53.5 748.7,51.1 749.9,51.2 751.1,49.8 752.3,51.1 753.5,49.9 754.7,51.3 755.9,52.8 757.1,52.1 758.3,54.3 759.5,58.8 760.7,59.3 761.9,59.1 763.1,58.1 764.3,59.1 765.5,62.3 766.7,66.6 767.9,66.0 769.1,64.1 770.3,70.0 771.5,67.6 772.7,68.8 773.9,72.5 775.1,72.6 776.3,68.1 777.5,61.0 778.7,59.6 779.9,57.3 781.1,51.8 782.3,50.9 783.5,52.3 784.7,53.2 785.9,52.7 787.1,55.7 788.3,54.8 789.5,56.2 790.7,52.2 791.9,51.1 793.1,52.4 794.3,53.0 795.5,52.1 796.7,50.1 797.9,53.8 799.1,51.0 800.3,55.1 801.5,53.5 802.7,52.9 803.9,53.4 805.1,53.1 806.3,51.5 807.5,51.8 808.7,50.5 809.9,50.0 811.1,48.7 812.3,50.4 813.5,49.7 814.7,50.6 815.9,49.3 817.1,49.4 818.3,49.0 819.5,52.0 820.7,52.4 821.9,51.7 823.1,54.8 824.3,54.8 825.5,55.6 826.7,54.6 827.9,57.4 829.1,56.4 830.3,55.8 831.5,53.7 832.7,57.7 833.9,57.8 835.1,54.0 836.3,51.7 837.5,51.8 838.7,51.1 839.9,51.5 841.1,51.5 842.3,52.9 843.5,50.7 844.7,46.5 845.9,47.1 847.1,47.6 848.3,44.3 849.5,47.8 850.7,49.6 851.9,49.7 853.1,47.8 854.3,49.6 855.5,45.2 856.7,44.2 857.9,46.3 859.1,44.6 860.3,46.2 861.5,46.0 862.7,48.6 863.9,46.8 865.1,46.5 866.3,46.0 867.5,46.3 868.7,47.4 869.9,46.8 871.1,50.0 872.3,50.0 873.5,48.7 874.7,51.9 875.9,50.4 877.1,51.3 878.3,52.9 879.5,56.5 880.7,57.8 881.9,57.1 883.1,57.4 884.3,59.1 885.5,60.7 886.7,59.6 887.9,61.5 889.1,62.8 890.3,59.2 891.5,53.8 892.7,53.3 893.9,56.4 895.1,57.3 896.3,59.0 897.5,57.5 898.7,55.7 899.9,51.8 901.1,48.6 902.3,48.5 903.5,47.9 904.7,46.9 905.9,48.3 907.1,49.9 908.3,49.3 909.5,49.4 910.7,48.4 911.9,46.8 913.1,45.0 914.3,45.2 915.5,47.0 916.7,47.6 917.9,46.7 919.1,44.9 920.3,46.4 921.5,48.3 922.7,47.9 923.9,47.4 925.1,53.0 926.3,57.3 927.5,52.9 928.7,55.2 929.9,55.7 931.1,58.5 932.3,60.8 933.5,58.2 934.7,59.5 935.9,59.6 937.1,58.4 938.3,59.6 939.5,58.9 940.7,52.9 941.9,52.0 943.1,50.6 944.3,52.5 945.5,51.9 946.7,52.7 947.9,54.5 949.1,54.8 950.3,53.5 951.5,53.0 952.7,49.2 953.9,48.1 955.1,53.1 956.3,54.9 957.5,59.8 958.7,63.6 959.9,61.0 961.1,60.2 962.3,53.8 963.5,54.0 964.7,54.7 965.9,52.6 967.1,53.6 968.3,50.6 969.5,48.2 970.7,48.1 971.9,46.6 973.1,47.6 974.3,47.4 975.5,49.0 976.7,49.5 977.9,47.6 979.1,48.8 980.3,48.2 981.5,50.4 982.7,50.7 983.9,55.0 985.1,53.4 986.3,53.8 987.5,54.7 988.7,52.8 989.9,51.2 991.1,49.0 992.3,47.7 993.5,46.6 994.7,50.9 995.9,50.0 997.1,47.7 998.3,51.0 999.5,56.7 1000.7,59.9 1001.9,61.1 1003.1,62.4 1004.3,71.0 1005.5,69.7 1006.7,67.1 1007.9,65.0 1009.1,63.7" fill="none" stroke="#7a7a7a" stroke-opacity="0.4" stroke-width="0.7"/><polyline points="608.3,220.1 609.5,215.9 610.7,216.9 611.9,216.2 613.1,217.3 614.3,214.3 615.5,207.2 616.7,198.2 617.9,189.2 619.1,181.7 620.3,171.3 621.5,165.5 622.7,154.1 623.9,145.9 625.1,135.0 626.3,122.2 627.5,110.3 628.7,100.8 629.9,92.1 631.1,84.8 632.3,79.2 633.5,77.1 634.7,76.9 635.9,72.1 637.1,73.1 638.3,70.6 639.5,69.9 640.7,70.2 641.9,72.2 643.1,69.7 644.3,68.3 645.5,66.3 646.7,63.0 647.9,66.5 649.1,62.7 650.3,61.2 651.5,62.6 652.7,60.8 653.9,61.6 655.1,61.1 656.3,62.6 657.5,61.4 658.7,60.5 659.9,59.4 661.1,57.5 662.3,58.0 663.5,55.7 664.7,55.8 665.9,57.2 667.1,56.7 668.3,56.8 669.5,53.9 670.7,60.2 671.9,60.3 673.1,60.4 674.3,61.8 675.5,59.5 676.7,59.0 677.9,60.9 679.1,62.2 680.3,63.2 681.5,66.8 682.7,65.2 683.9,68.2 685.1,66.7 686.3,68.1 687.5,68.7 688.7,66.0 689.9,64.1 691.1,65.6 692.3,63.1 693.5,61.8 694.7,57.5 695.9,59.4 697.1,56.2 698.3,56.7 699.5,55.8 700.7,56.2 701.9,58.8 703.1,57.7 704.3,57.3 705.5,62.1 706.7,64.1 707.9,61.0 709.1,61.8 710.3,62.5 711.5,59.3 712.7,55.7 713.9,54.2 715.1,54.5 716.3,53.7 717.5,53.4 718.7,51.0 719.9,54.7 721.1,54.9 722.3,54.9 723.5,55.2 724.7,57.0 725.9,53.4 727.1,54.0 728.3,49.8 729.5,55.0 730.7,55.0 731.9,59.1 733.1,61.8 734.3,62.6 735.5,64.9 736.7,62.3 737.9,63.3 739.1,58.6 740.3,56.7 741.5,60.4 742.7,57.3 743.9,56.4 745.1,57.1 746.3,56.5 747.5,54.8 748.7,54.2 749.9,53.7 751.1,54.2 752.3,54.5 753.5,56.5 754.7,58.0 755.9,60.7 757.1,61.3 758.3,64.2 759.5,62.9 760.7,62.0 761.9,61.9 763.1,59.0 764.3,56.6 765.5,59.4 766.7,61.5 767.9,63.3 769.1,63.5 770.3,66.4 771.5,68.2 772.7,67.4 773.9,68.8 775.1,72.3 776.3,69.0 777.5,63.7 778.7,56.9 779.9,56.7 781.1,54.5 782.3,52.7 783.5,50.1 784.7,48.5 785.9,46.5 787.1,48.6 788.3,49.3 789.5,48.3 790.7,50.2 791.9,52.1 793.1,52.4 794.3,53.3 795.5,53.9 796.7,52.4 797.9,52.5 799.1,52.5 800.3,53.9 801.5,53.1 802.7,53.5 803.9,53.4 805.1,54.2 806.3,51.7 807.5,51.5 808.7,50.1 809.9,50.0 811.1,51.0 812.3,52.3 813.5,52.2 814.7,55.6 815.9,55.5 817.1,56.8 818.3,57.9 819.5,55.6 820.7,56.2 821.9,57.7 823.1,51.8 824.3,55.6 825.5,54.6 826.7,54.1 827.9,54.7 829.1,58.0 830.3,59.7 831.5,60.3 832.7,59.1 833.9,58.3 835.1,54.3 836.3,54.2 837.5,55.1 838.7,53.2 839.9,54.5 841.1,51.2 842.3,50.9 843.5,50.9 844.7,50.6 845.9,49.5 847.1,49.8 848.3,47.9 849.5,46.3 850.7,47.2 851.9,45.4 853.1,45.8 854.3,46.4 855.5,48.3 856.7,46.9 857.9,44.8 859.1,46.2 860.3,48.6 861.5,51.2 862.7,52.6 863.9,50.4 865.1,49.7 866.3,47.8 867.5,49.7 868.7,48.9 869.9,47.1 871.1,45.8 872.3,46.9 873.5,47.6 874.7,47.3 875.9,46.1 877.1,47.0 878.3,48.0 879.5,51.3 880.7,48.0 881.9,50.4 883.1,50.4 884.3,55.6 885.5,55.1 886.7,59.0 887.9,58.8 889.1,59.6 890.3,56.4 891.5,52.6 892.7,55.0 893.9,58.5 895.1,63.1 896.3,64.6 897.5,63.3 898.7,62.8 899.9,61.1 901.1,58.4 902.3,54.9 903.5,58.8 904.7,58.9 905.9,56.0 907.1,55.5 908.3,53.6 909.5,53.5 910.7,52.5 911.9,53.0 913.1,50.3 914.3,48.5 915.5,47.4 916.7,48.2 917.9,51.8 919.1,51.2 920.3,50.9 921.5,49.2 922.7,51.0 923.9,54.2 925.1,56.2 926.3,55.3 927.5,61.2 928.7,57.4 929.9,55.2 931.1,55.6 932.3,56.7 933.5,57.2 934.7,58.2 935.9,59.5 937.1,63.0 938.3,67.0 939.5,62.1 940.7,57.4 941.9,53.3 943.1,55.1 944.3,56.1 945.5,54.5 946.7,52.6 947.9,55.6 949.1,53.7 950.3,54.6 951.5,51.1 952.7,49.3 953.9,53.3 955.1,55.4 956.3,56.2 957.5,61.2 958.7,58.6 959.9,56.7 961.1,56.6 962.3,55.6 963.5,51.8 964.7,53.9 965.9,54.4 967.1,55.6 968.3,52.0 969.5,49.5 970.7,46.4 971.9,47.2 973.1,45.1 974.3,45.8 975.5,44.0 976.7,46.0 977.9,44.1 979.1,44.9 980.3,45.7 981.5,47.9 982.7,52.0 983.9,53.6 985.1,55.5 986.3,55.7 987.5,55.2 988.7,53.4 989.9,55.2 991.1,53.7 992.3,56.9 993.5,55.2 994.7,55.8 995.9,57.7 997.1,58.8 998.3,59.2 999.5,60.4 1000.7,61.3 1001.9,65.9 1003.1,63.6 1004.3,65.4 1005.5,62.8 1006.7,59.1 1007.9,57.5 1009.1,57.6" fill="none" stroke="#7a7a7a" stroke-opacity="0.4" stroke-width="0.7"/><polyline points="608.3,221.5 609.5,220.8 610.7,218.7 611.9,220.4 613.1,218.5 614.3,214.4 615.5,209.0 616.7,201.6 617.9,190.4 619.1,179.5 620.3,175.4 621.5,166.4 622.7,156.4 623.9,147.3 625.1,136.0 626.3,124.8 627.5,108.6 628.7,98.1 629.9,88.3 631.1,86.1 632.3,86.9 633.5,81.6 634.7,75.0 635.9,75.9 637.1,73.5 638.3,72.8 639.5,69.6 640.7,71.2 641.9,72.3 643.1,73.2 644.3,74.7 645.5,70.3 646.7,73.7 647.9,73.8 649.1,71.4 650.3,72.3 651.5,72.3 652.7,71.4 653.9,71.7 655.1,69.7 656.3,66.2 657.5,67.0 658.7,63.6 659.9,65.2 661.1,67.0 662.3,65.9 663.5,65.5 664.7,66.1 665.9,67.7 667.1,64.5 668.3,62.8 669.5,61.8 670.7,62.0 671.9,59.9 673.1,60.2 674.3,60.3 675.5,59.6 676.7,58.1 677.9,59.9 679.1,61.5 680.3,61.3 681.5,61.0 682.7,60.3 683.9,65.2 685.1,63.8 686.3,65.0 687.5,65.6 688.7,64.9 689.9,64.3 691.1,65.3 692.3,65.7 693.5,62.7 694.7,63.7 695.9,63.3 697.1,60.7 698.3,59.7 699.5,60.2 700.7,61.3 701.9,62.7 703.1,63.0 704.3,63.3 705.5,63.5 706.7,65.7 707.9,66.0 709.1,66.5 710.3,66.8 711.5,62.6 712.7,61.1 713.9,60.0 715.1,58.8 716.3,56.3 717.5,53.4 718.7,56.0 719.9,59.8 721.1,60.3 722.3,62.9 723.5,62.8 724.7,62.5 725.9,61.1 727.1,58.5 728.3,55.7 729.5,55.6 730.7,56.6 731.9,56.0 733.1,57.2 734.3,57.5 735.5,61.9 736.7,61.2 737.9,64.0 739.1,63.5 740.3,60.6 741.5,57.4 742.7,56.5 743.9,58.5 745.1,60.1 746.3,59.9 747.5,56.2 748.7,55.6 749.9,54.9 751.1,53.7 752.3,57.6 753.5,56.9 754.7,58.6 755.9,60.1 757.1,61.4 758.3,61.6 759.5,62.1 760.7,61.0 761.9,59.9 763.1,60.5 764.3,61.3 765.5,65.8 766.7,61.8 767.9,61.1 769.1,64.2 770.3,64.9 771.5,65.8 772.7,68.1 773.9,71.4 775.1,72.1 776.3,66.0 777.5,64.0 778.7,64.5 779.9,63.9 781.1,62.8 782.3,62.2 783.5,60.3 784.7,60.6 785.9,62.1 787.1,61.7 788.3,60.0 789.5,60.0 790.7,59.0 791.9,57.6 793.1,58.5 794.3,57.4 795.5,58.0 796.7,55.7 797.9,55.1 799.1,56.5 800.3,57.0 801.5,56.7 802.7,54.8 803.9,57.2 805.1,54.1 806.3,54.9 807.5,53.5 808.7,53.8 809.9,54.0 811.1,51.6 812.3,52.2 813.5,50.9 814.7,54.1 815.9,53.9 817.1,55.1 818.3,55.3 819.5,53.8 820.7,58.5 821.9,57.4 823.1,57.0 824.3,55.3 825.5,55.0 826.7,55.4 827.9,56.8 829.1,57.1 830.3,58.0 831.5,56.3 832.7,56.1 833.9,55.9 835.1,57.4 836.3,53.6 837.5,55.0 838.7,52.8 839.9,53.3 841.1,52.4 842.3,50.1 843.5,51.2 844.7,51.0 845.9,50.1 847.1,50.2 848.3,51.6 849.5,51.0 850.7,51.0 851.9,50.3 853.1,53.5 854.3,52.8 855.5,52.5 856.7,55.3 857.9,50.7 859.1,51.5 860.3,52.4 861.5,52.5 862.7,52.9 863.9,53.7 865.1,53.0 866.3,50.6 867.5,51.9 868.7,49.1 869.9,50.4 871.1,48.6 872.3,50.6 873.5,48.8 874.7,48.4 875.9,50.2 877.1,50.0 878.3,51.9 879.5,53.7 880.7,57.1 881.9,57.2 883.1,59.3 884.3,58.6 885.5,56.3 886.7,60.9 887.9,61.4 889.1,65.1 890.3,60.8 891.5,59.7 892.7,59.6 893.9,61.9 895.1,64.2 896.3,64.7 897.5,61.6 898.7,60.6 899.9,57.7 901.1,56.2 902.3,55.3 903.5,56.3 904.7,53.1 905.9,56.7 907.1,55.0 908.3,57.8 909.5,56.3 910.7,55.9 911.9,51.5 913.1,50.5 914.3,48.9 915.5,49.5 916.7,51.4 917.9,52.0 919.1,52.2 920.3,54.2 921.5,55.5 922.7,55.7 923.9,57.5 925.1,61.6 926.3,60.5 927.5,56.7 928.7,62.1 929.9,62.7 931.1,64.8 932.3,66.8 933.5,65.9 934.7,63.4 935.9,64.8 937.1,67.7 938.3,76.5 939.5,69.2 940.7,63.9 941.9,59.9 943.1,57.4 944.3,59.2 945.5,58.5 946.7,58.7 947.9,60.3 949.1,62.1 950.3,59.4 951.5,55.5 952.7,56.3 953.9,58.4 955.1,59.7 956.3,59.6 957.5,63.7 958.7,61.2 959.9,62.2 961.1,59.5 962.3,57.3 963.5,56.7 964.7,56.3 965.9,54.0 967.1,53.0 968.3,53.1 969.5,51.9 970.7,48.8 971.9,45.9 973.1,50.3 974.3,51.2 975.5,49.4 976.7,49.6 977.9,45.3 979.1,47.6 980.3,51.0 981.5,51.6 982.7,54.2 983.9,55.4 985.1,58.7 986.3,56.7 987.5,57.9 988.7,55.6 989.9,54.9 991.1,52.2 992.3,51.8 993.5,52.3 994.7,53.1 995.9,51.0 997.1,49.2 998.3,54.0 999.5,53.1 1000.7,56.0 1001.9,56.0 1003.1,61.1 1004.3,60.4 1005.5,59.1 1006.7,60.3 1007.9,55.0 1009.1,50.9" fill="none" stroke="#7a7a7a" stroke-opacity="0.4" stroke-width="0.7"/><polyline points="608.3,211.8 609.8,212.2 611.3,212.0 612.8,211.4 614.3,205.5 615.6,199.9 617.3,186.1 618.8,174.9 619.0,174.4 620.3,163.5 621.8,152.0 622.3,148.9 623.3,140.2 624.8,128.6 625.6,122.8 626.3,114.9 627.8,100.0 628.5,94.1 629.3,87.3 630.8,76.1 631.1,74.5 632.3,70.6 633.8,65.8 634.4,63.6 635.3,61.9 636.8,60.9 637.7,60.5 638.3,59.7 639.8,58.5 640.0,59.1 641.3,59.4 642.8,59.5 644.3,59.7 644.8,58.9 645.8,58.5 647.3,58.2 648.8,57.3 649.6,56.4 650.3,56.3 651.8,56.7 653.3,57.1 654.5,58.2 654.8,57.8 656.3,57.4 657.8,57.0 659.3,55.3 660.8,55.5 662.3,55.6 663.8,54.8 664.1,55.3 665.3,55.3 666.8,54.5 668.3,54.5 669.8,54.6 671.3,53.6 672.8,53.8 674.3,54.4 675.8,55.2 677.3,55.8 678.5,56.1 678.8,56.4 680.3,56.6 681.8,57.0 683.3,57.5 684.8,57.7 685.8,57.9 686.3,57.6 687.8,56.1 689.3,55.3 690.8,54.7 691.8,54.3 692.3,53.4 693.8,51.1 695.3,49.9 696.8,48.9 697.8,47.8 698.3,47.8 699.8,48.3 701.3,48.4 702.8,49.7 703.8,50.0 704.3,50.6 705.8,53.0 707.3,54.7 708.6,56.3 710.3,54.9 711.8,53.5 713.3,51.4 713.5,51.7 714.8,50.6 716.3,49.5 717.8,48.9 718.3,47.8 719.3,49.1 720.8,51.4 722.3,53.4 723.1,54.7 723.8,54.1 725.3,52.0 726.8,49.6 727.9,48.6 728.3,49.2 729.8,50.1 731.3,51.4 732.7,52.3 734.3,52.7 735.8,53.7 737.3,54.3 737.5,53.9 738.8,52.4 740.3,50.3 741.2,49.1 741.8,49.3 743.3,49.8 744.8,50.1 746.3,49.6 747.2,50.0 747.8,50.3 749.3,49.9 750.8,49.4 752.3,49.4 753.2,49.8 753.8,50.3 755.3,51.5 756.8,52.6 758.0,53.2 758.3,53.5 759.8,52.7 761.3,51.3 762.8,50.1 764.3,50.3 765.8,50.6 767.3,51.2 767.6,51.6 768.8,52.7 770.3,54.1 771.8,55.2 772.5,55.7 773.3,58.5 774.8,62.0 774.9,61.9 776.3,59.1 777.8,56.1 778.5,55.2 779.3,54.6 780.8,52.1 782.3,49.7 783.3,48.4 783.8,48.9 785.3,49.5 786.8,49.6 788.3,49.6 789.3,49.5 789.8,49.6 791.3,48.7 792.8,48.1 794.3,48.3 795.8,48.0 796.6,47.9 797.3,48.0 798.8,48.9 800.3,49.6 801.8,49.7 803.3,50.1 803.8,50.4 804.8,49.3 806.3,47.5 807.8,46.7 808.6,46.4 809.3,45.6 810.8,45.2 812.3,44.7 813.4,44.0 813.8,44.1 815.3,45.4 816.8,46.6 818.3,47.2 819.4,48.1 819.8,47.8 821.3,47.5 822.8,47.6 824.3,47.2 825.5,46.9 825.8,47.1 827.3,47.7 828.8,49.1 830.3,49.9 831.8,50.0 832.7,50.7 833.3,50.8 834.8,50.4 836.3,49.2 837.5,48.3 837.8,48.2 839.3,47.3 840.8,47.2 842.3,47.3 843.8,46.7 844.7,46.3 845.3,45.8 846.8,45.5 848.3,45.8 849.8,45.3 851.3,44.5 851.9,44.6 852.8,45.6 854.3,46.8 854.4,46.7 855.8,46.8 857.3,46.0 858.8,45.7 860.3,45.7 861.6,45.2 863.3,44.9 864.8,44.5 866.3,44.5 867.8,44.1 868.8,44.0 869.3,44.3 870.8,43.9 872.3,43.5 873.8,43.3 875.3,43.3 876.8,42.9 877.2,43.1 878.3,43.6 879.8,44.1 881.3,45.1 882.8,46.0 883.3,45.7 884.3,47.3 885.8,49.2 886.5,50.3 887.3,51.1 888.8,52.2 889.4,52.7 890.3,50.8 891.6,48.7 893.3,51.0 894.8,53.1 895.2,53.2 896.3,51.8 897.8,50.4 898.1,50.6 899.3,49.3 900.8,46.5 901.0,46.5 902.3,47.6 903.8,48.1 903.8,48.2 905.3,48.9 906.7,49.7 908.3,47.9 909.8,45.3 910.3,44.9 911.3,44.4 912.8,43.4 914.3,42.6 914.7,42.5 915.8,43.1 917.3,43.4 918.8,44.4 919.0,44.6 920.3,44.4 921.8,45.4 922.6,45.6 923.3,45.8 924.8,47.3 926.2,49.0 927.8,50.4 929.3,51.4 929.9,51.7 930.8,51.0 932.3,50.7 933.5,51.8 933.8,52.5 935.3,53.1 936.4,53.7 936.8,55.2 938.3,58.2 938.5,57.9 939.8,53.4 940.7,50.6 941.3,48.8 942.8,46.9 943.6,46.4 944.3,46.3 945.8,47.2 947.2,48.9 948.8,50.3 949.4,50.5 950.3,49.1 951.8,46.3 953.0,44.7 953.3,45.5 954.8,47.7 956.3,49.7 956.6,49.7 957.8,51.7 959.3,53.8 960.2,54.6 960.8,54.0 962.3,52.3 963.8,50.0 965.3,49.7 966.7,49.6 968.3,47.4 969.8,45.5 971.0,43.7 971.3,43.4 972.8,43.0 974.3,43.0 975.4,43.3 975.8,42.6 977.3,41.1 978.3,40.4 978.8,41.2 980.3,42.9 981.2,43.7 981.8,43.8 983.3,45.2 984.0,46.5 984.8,47.4 986.3,48.3 986.9,48.3 987.8,48.2 989.3,47.0 990.8,45.6 991.3,46.0 992.3,46.4 993.8,46.1 994.2,46.5 995.3,46.0 996.8,44.4 997.1,44.5 998.3,46.0 999.8,47.3 1000.7,48.1 1001.3,49.4 1002.8,52.5 1003.6,54.3 1004.3,53.8 1005.8,52.0 1007.2,51.2 1008.8,49.4 1010.1,47.9 1010.3,47.7" fill="none" stroke="#0074b6" stroke-width="1.9" stroke-linejoin="round"/></g><rect x="588.6" y="19" width="441.9" height="220.4" fill="none" stroke="#4a4a4a" stroke-width="0.9"/><text x="608.80" y="250.40" font-size="7.89" text-anchor="middle" fill="#262626" font-family="Liberation Sans" font-weight="normal" textLength="11.85" lengthAdjust="spacingAndGlyphs" stroke="#262626" stroke-width="0.1">0.0</text><text x="675.67" y="250.40" font-size="7.89" text-anchor="middle" fill="#262626" font-family="Liberation Sans" font-weight="normal" textLength="11.85" lengthAdjust="spacingAndGlyphs" stroke="#262626" stroke-width="0.1">0.2</text><text x="742.54" y="250.40" font-size="7.89" text-anchor="middle" fill="#262626" font-family="Liberation Sans" font-weight="normal" textLength="11.85" lengthAdjust="spacingAndGlyphs" stroke="#262626" stroke-width="0.1">0.4</text><text x="809.41" y="250.40" font-size="7.89" text-anchor="middle" fill="#262626" font-family="Liberation Sans" font-weight="normal" textLength="11.85" lengthAdjust="spacingAndGlyphs" stroke="#262626" stroke-width="0.1">0.6</text><text x="876.28" y="250.40" font-size="7.89" text-anchor="middle" fill="#262626" font-family="Liberation Sans" font-weight="normal" textLength="11.85" lengthAdjust="spacingAndGlyphs" stroke="#262626" stroke-width="0.1">0.8</text><text x="943.15" y="250.40" font-size="7.89" text-anchor="middle" fill="#262626" font-family="Liberation Sans" font-weight="normal" textLength="11.85" lengthAdjust="spacingAndGlyphs" stroke="#262626" stroke-width="0.1">1.0</text><text x="1010.02" y="250.40" font-size="7.89" text-anchor="middle" fill="#262626" font-family="Liberation Sans" font-weight="normal" textLength="11.85" lengthAdjust="spacingAndGlyphs" stroke="#262626" stroke-width="0.1">1.2</text><text x="583.00" y="214.60" font-size="7.89" text-anchor="end" fill="#262626" font-family="Liberation Sans" font-weight="normal" textLength="9.48" lengthAdjust="spacingAndGlyphs" stroke="#262626" stroke-width="0.1">20</text><text x="583.00" y="180.70" font-size="7.89" text-anchor="end" fill="#262626" font-family="Liberation Sans" font-weight="normal" textLength="9.48" lengthAdjust="spacingAndGlyphs" stroke="#262626" stroke-width="0.1">40</text><text x="583.00" y="146.80" font-size="7.89" text-anchor="end" fill="#262626" font-family="Liberation Sans" font-weight="normal" textLength="9.48" lengthAdjust="spacingAndGlyphs" stroke="#262626" stroke-width="0.1">60</text><text x="583.00" y="112.90" font-size="7.89" text-anchor="end" fill="#262626" font-family="Liberation Sans" font-weight="normal" textLength="9.48" lengthAdjust="spacingAndGlyphs" stroke="#262626" stroke-width="0.1">80</text><text x="583.00" y="79.00" font-size="7.89" text-anchor="end" fill="#262626" font-family="Liberation Sans" font-weight="normal" textLength="14.22" lengthAdjust="spacingAndGlyphs" stroke="#262626" stroke-width="0.1">100</text><text x="583.00" y="45.10" font-size="7.89" text-anchor="end" fill="#262626" font-family="Liberation Sans" font-weight="normal" textLength="14.22" lengthAdjust="spacingAndGlyphs" stroke="#262626" stroke-width="0.1">120</text><path d="M608.80 239.4v2.7M675.67 239.4v2.7M742.54 239.4v2.7M809.41 239.4v2.7M876.28 239.4v2.7M943.15 239.4v2.7M1010.02 239.4v2.7M588.6 211.90h-2.7M588.6 178.00h-2.7M588.6 144.10h-2.7M588.6 110.20h-2.7M588.6 76.30h-2.7M588.6 42.40h-2.7" stroke="#4a4a4a" stroke-width="0.9"/><text x="809.55" y="14.50" font-size="9.46" text-anchor="middle" fill="#262626" font-family="Liberation Sans" font-weight="normal" textLength="90.56" lengthAdjust="spacingAndGlyphs" stroke="#262626" stroke-width="0.1">Mini-crane Gaussian</text><text x="809.55" y="260.60" font-size="7.89" text-anchor="middle" fill="#262626" font-family="Liberation Sans" font-weight="normal" textLength="69.93" lengthAdjust="spacingAndGlyphs" stroke="#262626" stroke-width="0.1">Environment steps</text><text x="1030.50" y="259.60" font-size="7.89" text-anchor="end" fill="#262626" font-family="Liberation Sans" font-weight="normal" textLength="14.06" lengthAdjust="spacingAndGlyphs" stroke="#262626" stroke-width="0.1">1e6</text><text x="0.00" y="0.00" font-size="7.89" text-anchor="middle" fill="#262626" font-family="Liberation Sans" font-weight="normal" textLength="69.42" lengthAdjust="spacingAndGlyphs" stroke="#262626" stroke-width="0.1" transform="translate(563.78,129.20) rotate(-90)">Evaluation Reward</text><rect x="922.00" y="211.00" width="104.4" height="24.5" rx="1.5" fill="#fff" fill-opacity="0.8" stroke="#dcdcdc" stroke-width="0.8"/><path d="M924.70 217.60h16.4" stroke="#0074b6" stroke-width="1.9"/><rect x="924.70" y="225.60" width="15.8" height="5.9" fill="#bcdaeb" stroke="#a8cde3" stroke-width="0.6"/><text x="946.70" y="220.20" font-size="7.89" text-anchor="start" fill="#262626" font-family="Liberation Sans" font-weight="normal" textLength="76.39" lengthAdjust="spacingAndGlyphs" stroke="#262626" stroke-width="0.1">Mean (across seeds)</text><text x="946.70" y="231.10" font-size="7.89" text-anchor="start" fill="#262626" font-family="Liberation Sans" font-weight="normal" textLength="42.81" lengthAdjust="spacingAndGlyphs" stroke="#262626" stroke-width="0.1">Mean ± std</text><text x="794.30" y="316.80" font-size="25.00" text-anchor="middle" fill="#000" font-family="Liberation Serif" font-weight="bold">b</text><clipPath id="clipc"><rect x="44.7" y="360" width="435.0" height="220.70000000000005"/></clipPath><path d="M64.50 360V580.7M130.50 360V580.7M196.50 360V580.7M262.50 360V580.7M328.50 360V580.7M394.50 360V580.7M459.50 360V580.7M44.7 361.50H479.7M44.7 400.50H479.7M44.7 440.50H479.7M44.7 479.50H479.7M44.7 519.50H479.7M44.7 558.50H479.7" stroke="#c9c9c9" stroke-width="0.9" fill="none"/><g clip-path="url(#clipc)"><polyline points="339.2,382.0 340.4,385.0 341.6,386.8 342.8,387.8 344.0,388.9 345.2,389.5 346.4,391.6 347.6,393.7 348.0,393.7 348.8,392.1 350.0,393.1 351.2,396.4 352.4,397.6 353.6,398.5 354.8,399.8 356.0,399.5 357.2,401.0 358.4,402.7 359.1,402.4 359.6,403.0 360.8,402.5 362.0,401.9 363.2,401.5 364.4,400.8 365.6,400.8 366.8,400.2 368.0,399.5 369.2,399.5 370.1,399.9 371.6,400.3 372.8,399.6 374.0,398.8 375.2,400.6 376.4,400.6 377.6,399.2 378.8,399.0 380.0,397.3 381.2,396.6 382.4,396.1 383.4,396.7 384.8,399.1 386.0,397.8 387.2,397.5 388.4,396.8 389.6,394.4 390.8,395.3 392.0,395.3 392.2,394.4 393.2,399.1 394.4,402.9 395.6,406.2 396.7,410.6 398.0,411.4 399.2,412.4 400.4,412.4 401.6,411.4 402.8,412.6 404.0,415.8 405.2,416.0 406.4,414.7 407.6,414.3 407.7,413.7 408.8,412.9 410.0,413.4 411.2,414.2 412.4,414.5 413.6,413.8 414.8,413.7 416.0,414.1 417.2,412.6 418.4,412.3 418.8,412.3 419.6,410.4 420.8,410.0 422.0,410.9 423.2,410.1 424.4,408.9 425.6,407.2 426.8,404.3 427.6,403.2 428.0,402.5 429.2,398.5 430.4,396.7 431.6,393.4 432.0,389.1 432.8,388.0 434.0,388.9 435.2,388.8 436.4,389.3 437.6,389.4 438.8,388.8 440.0,387.7 440.9,386.5 442.4,385.9 443.6,386.3 444.8,387.0 446.0,387.7 447.2,387.0 448.4,385.9 449.6,386.8 450.8,385.7 452.0,385.0 453.2,385.1 454.4,385.5 455.6,386.9 456.8,386.8 458.0,386.8 459.2,386.1 459.7,384.2" fill="none" stroke="#9a9a9a" stroke-opacity="0.4" stroke-width="0.7"/><polygon points="64.0,479.4 65.2,479.7 66.4,479.7 67.6,513.3 68.8,537.2 70.0,536.2 71.2,533.3 72.4,530.2 73.6,527.8 74.8,524.6 76.0,522.2 77.2,520.5 78.4,517.2 79.6,515.1 80.8,513.8 82.0,511.4 83.2,509.3 84.4,507.0 85.6,504.6 86.8,502.3 88.0,500.8 89.2,499.5 90.4,497.3 91.6,496.4 92.8,495.5 94.0,493.1 95.2,490.5 96.4,488.7 97.6,488.1 98.8,486.8 100.0,482.0 101.2,473.8 102.4,470.3 103.6,466.7 104.8,462.7 106.0,460.0 107.2,456.9 108.4,453.6 109.6,452.8 110.8,451.5 112.0,448.4 113.2,443.4 114.4,441.8 115.6,440.9 116.8,437.3 118.0,436.6 119.2,434.7 120.4,433.0 121.6,433.0 122.8,431.2 124.0,429.2 125.2,427.2 126.4,425.1 127.6,422.8 128.8,422.8 130.0,421.5 131.2,417.9 132.4,416.4 133.6,415.6 134.8,414.6 136.0,412.5 137.2,410.2 138.4,408.5 139.6,407.1 140.8,406.7 142.0,405.5 143.2,403.4 144.4,402.2 145.6,400.6 146.8,398.3 148.0,397.4 149.2,395.9 150.4,394.9 151.6,395.8 152.8,395.4 154.0,394.5 155.2,393.3 156.4,392.0 157.6,390.9 158.8,391.0 160.0,390.7 161.2,389.9 162.4,390.0 163.6,389.7 164.8,388.2 166.0,388.2 167.2,388.3 168.4,388.4 169.6,389.5 170.8,389.4 172.0,388.7 173.2,388.8 174.4,387.9 175.6,386.6 176.8,387.0 178.0,386.9 179.2,386.7 180.4,386.5 181.6,386.1 182.8,386.0 184.0,386.5 185.2,386.5 186.4,385.3 187.6,385.2 188.8,385.5 190.0,386.2 191.2,386.6 192.4,386.4 193.6,386.2 194.8,385.9 196.0,386.1 197.2,385.9 198.4,384.5 199.6,384.2 200.8,385.7 202.0,385.5 203.2,385.3 204.4,384.9 205.6,384.1 206.8,384.6 208.0,383.9 209.2,384.0 210.4,384.3 211.6,383.8 212.8,383.4 214.0,382.8 215.2,382.6 216.4,381.1 217.6,380.8 218.8,381.2 220.0,381.4 221.2,380.8 222.4,380.6 223.6,380.7 224.8,379.2 226.0,379.6 227.2,381.0 228.4,380.1 229.6,379.3 230.8,379.0 232.0,379.1 233.2,378.8 234.4,378.9 235.6,379.0 236.8,377.8 238.0,378.2 239.2,379.0 240.4,377.6 241.6,377.3 242.8,378.4 244.0,378.2 245.2,377.6 246.4,378.1 247.6,378.0 248.8,378.2 250.0,378.1 251.2,377.7 252.4,378.9 253.6,377.8 254.8,377.1 256.0,377.3 257.2,377.5 258.4,378.5 259.6,379.0 260.8,378.7 262.0,377.6 263.2,377.5 264.4,378.9 265.6,379.0 266.8,378.7 268.0,378.5 269.2,376.7 270.4,375.9 271.6,376.7 272.8,376.3 274.0,376.1 275.2,375.6 276.4,375.1 277.6,376.2 278.8,375.5 280.0,375.6 281.2,377.0 282.4,377.3 283.6,376.3 284.8,375.3 286.0,376.7 287.2,378.0 288.4,377.1 289.6,376.1 290.8,377.1 292.0,376.8 293.2,376.6 294.4,376.7 295.6,375.6 296.8,376.4 298.0,377.3 299.2,377.5 300.4,377.2 301.6,376.4 302.8,375.9 304.0,376.3 305.2,376.9 306.4,376.3 307.6,375.6 308.8,375.6 310.0,375.8 311.2,375.6 312.4,375.5 313.6,375.9 314.8,376.0 316.0,376.0 317.2,375.2 318.4,375.2 319.6,376.0 320.8,375.9 322.0,375.7 323.2,376.7 324.4,376.2 325.6,376.7 326.8,378.2 328.0,377.3 329.2,377.6 330.4,377.5 331.6,377.1 332.8,376.9 334.0,377.3 335.2,377.6 336.4,377.3 337.6,377.7 338.8,377.2 340.0,376.9 341.2,378.1 342.4,378.1 343.6,377.2 344.8,377.8 346.0,378.0 347.2,378.2 348.4,377.0 349.6,376.4 350.8,377.2 352.0,377.4 353.2,376.6 354.4,376.1 355.6,376.4 356.8,376.0 358.0,376.0 359.2,376.9 360.4,377.2 361.6,377.2 362.8,376.4 364.0,375.2 365.2,375.9 366.4,376.4 367.6,376.4 368.8,377.6 370.0,377.5 371.2,376.4 372.4,375.7 373.6,375.1 374.8,376.0 376.0,375.0 377.2,374.1 378.4,375.7 379.6,375.1 380.8,374.3 382.0,374.4 383.2,374.6 384.4,375.1 385.6,374.3 386.8,372.7 388.0,372.2 389.2,373.4 390.4,374.6 391.6,373.5 392.8,372.4 394.0,371.4 395.2,371.3 396.4,371.2 397.6,369.8 398.8,370.1 400.0,370.4 401.2,370.3 402.4,370.5 403.6,370.5 404.8,370.6 406.0,371.7 407.2,372.1 408.4,370.3 409.6,370.1 410.8,370.0 412.0,369.7 413.2,369.5 414.4,368.8 415.6,369.8 416.8,369.6 418.0,369.7 419.2,370.6 420.4,370.6 421.6,371.5 422.8,372.3 424.0,372.2 425.2,371.2 426.4,371.6 427.6,373.3 428.8,373.3 430.0,371.5 431.2,370.8 432.4,372.4 433.6,373.2 434.8,374.5 436.0,374.6 437.2,373.3 438.4,373.8 439.6,372.6 440.8,372.8 442.0,373.9 443.2,372.6 444.4,372.5 445.6,373.8 446.8,374.1 448.0,372.1 449.2,372.1 450.4,373.3 451.6,373.2 452.8,372.7 454.0,373.1 455.2,374.3 456.4,373.8 457.6,373.3 458.8,373.8 458.8,385.2 457.6,385.3 456.4,385.3 455.2,384.9 454.0,384.7 452.8,384.1 451.6,383.9 450.4,385.3 449.2,385.1 448.0,385.1 446.8,385.2 445.6,385.2 444.4,386.0 443.2,385.9 442.0,386.0 440.8,386.7 439.6,387.1 438.4,387.1 437.2,387.4 436.0,386.2 434.8,387.2 433.6,389.4 432.4,388.2 431.2,388.5 430.0,389.9 428.8,390.3 427.6,392.3 426.4,392.6 425.2,392.5 424.0,393.2 422.8,393.3 421.6,393.2 420.4,393.1 419.2,395.1 418.0,395.1 416.8,393.9 415.6,395.3 414.4,396.8 413.2,395.9 412.0,395.0 410.8,395.9 409.6,396.6 408.4,395.6 407.2,394.7 406.0,393.3 404.8,391.8 403.6,392.3 402.4,394.7 401.2,394.1 400.0,391.0 398.8,391.6 397.6,393.1 396.4,392.0 395.2,390.1 394.0,388.5 392.8,388.2 391.6,387.8 390.4,387.1 389.2,385.8 388.0,384.9 386.8,385.3 385.6,384.9 384.4,385.9 383.2,387.3 382.0,386.3 380.8,386.5 379.6,386.9 378.4,386.1 377.2,387.2 376.0,387.5 374.8,388.1 373.6,388.9 372.4,388.3 371.2,388.6 370.0,388.5 368.8,388.8 367.6,390.1 366.4,390.1 365.2,389.3 364.0,389.6 362.8,390.3 361.6,389.3 360.4,389.9 359.2,389.6 358.0,389.5 356.8,389.4 355.6,390.2 354.4,391.4 353.2,389.7 352.0,389.2 350.8,389.0 349.6,388.4 348.4,388.6 347.2,388.0 346.0,387.6 344.8,387.2 343.6,386.6 342.4,386.8 341.2,386.5 340.0,386.1 338.8,385.4 337.6,385.8 336.4,385.7 335.2,384.3 334.0,383.4 332.8,383.9 331.6,385.0 330.4,384.4 329.2,383.8 328.0,383.7 326.8,383.7 325.6,384.7 324.4,385.0 323.2,385.0 322.0,384.5 320.8,383.6 319.6,383.7 318.4,384.0 317.2,385.0 316.0,385.2 314.8,384.3 313.6,384.3 312.4,384.3 311.2,383.6 310.0,383.7 308.8,385.3 307.6,385.4 306.4,385.4 305.2,385.5 304.0,384.6 302.8,385.0 301.6,385.7 300.4,386.0 299.2,386.6 298.0,387.2 296.8,386.9 295.6,386.1 294.4,385.8 293.2,386.4 292.0,387.0 290.8,386.2 289.6,386.0 288.4,385.9 287.2,385.7 286.0,386.9 284.8,386.9 283.6,385.6 282.4,385.0 281.2,385.2 280.0,384.9 278.8,385.5 277.6,387.8 276.4,388.1 275.2,386.7 274.0,386.7 272.8,387.5 271.6,387.1 270.4,387.3 269.2,388.3 268.0,388.0 266.8,388.3 265.6,388.5 264.4,388.1 263.2,389.9 262.0,391.1 260.8,389.8 259.6,389.5 258.4,390.1 257.2,388.9 256.0,388.1 254.8,389.2 253.6,389.3 252.4,388.8 251.2,388.2 250.0,387.6 248.8,387.7 247.6,387.1 246.4,388.5 245.2,390.0 244.0,389.7 242.8,390.0 241.6,390.1 240.4,389.6 239.2,389.5 238.0,390.5 236.8,390.6 235.6,390.2 234.4,390.5 233.2,390.7 232.0,390.9 230.8,390.9 229.6,391.6 228.4,391.7 227.2,390.8 226.0,392.7 224.8,393.8 223.6,392.1 222.4,391.8 221.2,393.0 220.0,393.1 218.8,392.5 217.6,393.7 216.4,394.9 215.2,394.3 214.0,395.3 212.8,396.0 211.6,394.2 210.4,393.9 209.2,395.3 208.0,395.6 206.8,395.4 205.6,394.5 204.4,394.1 203.2,395.1 202.0,395.9 200.8,396.4 199.6,396.8 198.4,397.0 197.2,397.9 196.0,398.6 194.8,398.0 193.6,398.1 192.4,398.4 191.2,398.9 190.0,399.0 188.8,398.5 187.6,399.0 186.4,400.1 185.2,401.4 184.0,401.2 182.8,399.9 181.6,399.5 180.4,401.1 179.2,401.9 178.0,401.4 176.8,401.1 175.6,400.6 174.4,401.3 173.2,402.8 172.0,403.1 170.8,403.1 169.6,402.7 168.4,401.9 167.2,401.7 166.0,402.9 164.8,403.9 163.6,405.2 162.4,405.7 161.2,405.9 160.0,406.8 158.8,407.4 157.6,406.9 156.4,406.9 155.2,407.2 154.0,406.8 152.8,408.1 151.6,409.7 150.4,411.3 149.2,413.3 148.0,414.4 146.8,414.5 145.6,415.1 144.4,415.9 143.2,418.2 142.0,419.2 140.8,421.4 139.6,424.5 138.4,424.8 137.2,426.9 136.0,429.2 134.8,430.6 133.6,431.5 132.4,432.8 131.2,435.7 130.0,437.0 128.8,437.0 127.6,438.1 126.4,440.5 125.2,441.6 124.0,443.5 122.8,445.8 121.6,448.3 120.4,451.3 119.2,451.2 118.0,452.9 116.8,455.6 115.6,457.9 114.4,461.4 113.2,464.8 112.0,467.2 110.8,468.4 109.6,471.1 108.4,475.3 107.2,478.1 106.0,480.1 104.8,483.3 103.6,485.7 102.4,487.4 101.2,490.2 100.0,493.6 98.8,495.2 97.6,496.0 96.4,498.1 95.2,499.6 94.0,500.8 92.8,501.9 91.6,502.7 90.4,504.4 89.2,506.3 88.0,508.1 86.8,509.7 85.6,511.3 84.4,513.5 83.2,516.2 82.0,518.4 80.8,520.9 79.6,523.8 78.4,527.4 77.2,530.4 76.0,532.2 74.8,535.4 73.6,539.6 72.4,543.3 71.2,546.2 70.0,555.3 68.8,567.7 67.6,531.7 66.4,479.9 65.2,480.1 64.0,480.1" fill="#bcdaeb" stroke="#9fc6de" stroke-width="0.5"/><polyline points="64.0,478.5 65.2,478.6 66.4,478.5 67.6,505.2 68.8,536.0 70.0,530.3 71.2,532.2 72.4,532.0 73.6,528.4 74.8,524.4 76.0,520.6 77.2,516.9 78.4,515.3 79.6,516.2 80.8,513.0 82.0,510.8 83.2,507.4 84.4,505.6 85.6,505.0 86.8,503.4 88.0,501.0 89.2,498.4 90.4,497.3 91.6,494.9 92.8,493.7 94.0,492.5 95.2,492.0 96.4,490.1 97.6,488.3 98.8,486.2 100.0,482.7 101.2,475.9 102.4,469.4 103.6,466.4 104.8,463.3 106.0,458.7 107.2,455.3 108.4,452.1 109.6,450.8 110.8,447.5 112.0,445.4 113.2,444.7 114.4,442.2 115.6,441.1 116.8,438.6 118.0,436.7 119.2,434.0 120.4,432.4 121.6,431.3 122.8,430.4 124.0,429.4 125.2,427.6 126.4,425.8 127.6,424.4 128.8,422.8 130.0,420.1 131.2,418.8 132.4,417.9 133.6,415.6 134.8,414.3 136.0,412.4 137.2,410.1 138.4,409.3 139.6,408.2 140.8,407.0 142.0,404.7 143.2,402.8 144.4,401.4 145.6,399.5 146.8,397.9 148.0,397.5 149.2,397.4 150.4,396.1 151.6,395.9 152.8,395.3 154.0,393.8 155.2,393.1 156.4,393.3 157.6,391.9 158.8,391.9 160.0,391.0 161.2,390.8 162.4,389.8 163.6,390.2 164.8,389.0 166.0,389.7 167.2,389.5 168.4,389.2 169.6,388.9 170.8,389.5 172.0,388.8 173.2,389.3 174.4,389.5 175.6,388.3 176.8,388.1 178.0,387.9 179.2,387.0 180.4,387.0 181.6,387.1 182.8,387.2 184.0,387.1 185.2,387.6 186.4,386.6 187.6,387.1 188.8,386.3 190.0,386.8 191.2,385.4 192.4,385.6 193.6,385.8 194.8,386.4 196.0,386.1 197.2,386.9 198.4,385.6 199.6,385.2 200.8,384.9 202.0,384.2 203.2,383.2 204.4,383.4 205.6,382.6 206.8,383.0 208.0,382.2 209.2,381.7 210.4,380.8 211.6,380.5 212.8,381.6 214.0,380.1 215.2,380.9 216.4,380.9 217.6,380.6 218.8,380.6 220.0,380.9 221.2,381.1 222.4,382.2 223.6,381.6 224.8,381.2 226.0,380.6 227.2,380.6 228.4,380.7 229.6,380.8 230.8,380.1 232.0,379.9 233.2,379.3 234.4,379.2 235.6,379.4 236.8,378.5 238.0,378.0 239.2,378.0 240.4,377.4 241.6,377.9 242.8,377.5 244.0,376.5 245.2,376.8 246.4,376.3 247.6,376.6 248.8,377.6 250.0,377.3 251.2,377.0 252.4,376.2 253.6,377.2 254.8,377.9 256.0,377.7 257.2,377.3 258.4,378.0 259.6,377.2 260.8,376.6 262.0,376.7 263.2,377.1 264.4,378.2 265.6,378.4 266.8,377.5 268.0,378.8 269.2,378.2 270.4,378.2 271.6,377.9 272.8,376.5 274.0,377.0 275.2,375.8 276.4,376.7 277.6,377.0 278.8,378.8 280.0,378.1 281.2,378.7 282.4,378.5 283.6,378.4 284.8,377.4 286.0,377.6 287.2,376.2 288.4,376.7 289.6,377.3 290.8,375.7 292.0,375.6 293.2,375.4 294.4,375.3 295.6,375.8 296.8,376.3 298.0,375.8 299.2,376.6 300.4,375.7 301.6,376.0 302.8,376.3 304.0,377.0 305.2,376.7 306.4,378.0 307.6,378.1 308.8,377.1 310.0,377.0 311.2,376.3 312.4,376.4 313.6,376.7 314.8,376.6 316.0,376.8 317.2,375.8 318.4,376.5 319.6,376.6 320.8,377.1 322.0,377.0 323.2,377.6 324.4,377.3 325.6,377.3 326.8,377.5 328.0,377.3 329.2,376.7 330.4,377.3 331.6,377.1 332.8,377.1 334.0,376.8 335.2,377.1 336.4,377.1 337.6,377.2 338.8,377.3 340.0,377.2 341.2,377.2 342.4,376.7 343.6,376.7 344.8,377.0 346.0,377.3 347.2,377.5 348.4,379.0 349.6,378.7 350.8,378.3 352.0,378.5 353.2,378.4 354.4,380.5 355.6,379.6 356.8,378.9 358.0,378.5 359.2,377.7 360.4,378.3 361.6,378.0 362.8,378.7 364.0,379.1 365.2,378.5 366.4,377.9 367.6,378.1 368.8,378.9 370.0,378.5 371.2,378.7 372.4,378.3 373.6,377.5 374.8,377.5 376.0,377.2 377.2,376.8 378.4,376.6 379.6,376.4 380.8,375.3 382.0,374.8 383.2,376.0 384.4,375.3 385.6,374.3 386.8,375.1 388.0,375.9 389.2,374.4 390.4,373.6 391.6,374.4 392.8,373.4 394.0,373.0 395.2,372.7 396.4,373.8 397.6,372.1 398.8,371.6 400.0,371.0 401.2,370.8 402.4,370.0 403.6,369.1 404.8,369.7 406.0,371.1 407.2,373.1 408.4,372.8 409.6,374.1 410.8,373.0 412.0,373.4 413.2,374.0 414.4,375.6 415.6,374.4 416.8,374.1 418.0,372.8 419.2,373.1 420.4,373.4 421.6,374.4 422.8,374.2 424.0,373.1 425.2,372.5 426.4,374.4 427.6,374.1 428.8,374.6 430.0,374.6 431.2,371.9 432.4,371.8 433.6,372.7 434.8,372.8 436.0,371.9 437.2,373.8 438.4,373.8 439.6,374.4 440.8,373.9 442.0,375.3 443.2,375.3 444.4,375.4 445.6,376.1 446.8,375.6 448.0,375.1 449.2,374.9 450.4,375.2 451.6,374.9 452.8,374.9 454.0,375.5 455.2,375.4 456.4,375.9 457.6,376.8 458.8,377.2" fill="none" stroke="#7a7a7a" stroke-opacity="0.22" stroke-width="0.7"/><polyline points="64.0,479.1 65.2,478.8 66.4,478.2 67.6,506.3 68.8,536.6 70.0,533.1 71.2,532.9 72.4,532.5 73.6,531.1 74.8,526.9 76.0,523.8 77.2,519.2 78.4,517.2 79.6,515.9 80.8,514.1 82.0,511.2 83.2,508.5 84.4,506.5 85.6,505.8 86.8,504.2 88.0,501.0 89.2,499.4 90.4,496.2 91.6,495.7 92.8,494.0 94.0,493.1 95.2,491.3 96.4,490.4 97.6,488.4 98.8,486.7 100.0,485.2 101.2,478.8 102.4,472.6 103.6,470.0 104.8,465.2 106.0,461.7 107.2,457.4 108.4,457.4 109.6,453.1 110.8,450.6 112.0,449.0 113.2,447.5 114.4,445.3 115.6,443.9 116.8,443.2 118.0,442.8 119.2,439.7 120.4,436.3 121.6,436.6 122.8,433.7 124.0,431.5 125.2,430.7 126.4,428.7 127.6,427.9 128.8,424.2 130.0,423.6 131.2,423.4 132.4,421.6 133.6,420.3 134.8,419.0 136.0,416.2 137.2,415.6 138.4,414.2 139.6,411.3 140.8,409.8 142.0,408.5 143.2,408.1 144.4,406.2 145.6,406.7 146.8,405.1 148.0,401.2 149.2,399.0 150.4,397.5 151.6,398.1 152.8,397.4 154.0,395.0 155.2,394.5 156.4,393.6 157.6,392.4 158.8,391.4 160.0,390.6 161.2,390.5 162.4,390.6 163.6,391.2 164.8,390.8 166.0,390.9 167.2,390.4 168.4,390.4 169.6,390.0 170.8,390.5 172.0,390.7 173.2,390.8 174.4,388.7 175.6,388.6 176.8,389.0 178.0,388.6 179.2,390.7 180.4,390.2 181.6,388.2 182.8,387.4 184.0,385.7 185.2,384.9 186.4,385.6 187.6,385.1 188.8,386.3 190.0,386.3 191.2,386.7 192.4,387.1 193.6,386.8 194.8,387.1 196.0,388.6 197.2,388.2 198.4,387.9 199.6,387.0 200.8,387.8 202.0,385.9 203.2,386.2 204.4,386.4 205.6,385.5 206.8,384.9 208.0,385.4 209.2,385.3 210.4,385.5 211.6,384.3 212.8,383.7 214.0,384.2 215.2,384.5 216.4,384.1 217.6,383.0 218.8,383.6 220.0,382.1 221.2,382.3 222.4,381.1 223.6,381.7 224.8,381.1 226.0,381.0 227.2,381.1 228.4,381.2 229.6,379.6 230.8,380.0 232.0,381.6 233.2,381.0 234.4,381.9 235.6,382.1 236.8,381.9 238.0,381.3 239.2,379.9 240.4,379.4 241.6,380.3 242.8,380.2 244.0,379.5 245.2,377.9 246.4,378.3 247.6,378.1 248.8,378.1 250.0,379.0 251.2,378.3 252.4,379.9 253.6,379.4 254.8,378.9 256.0,378.2 257.2,379.1 258.4,378.7 259.6,378.4 260.8,379.0 262.0,379.5 263.2,378.6 264.4,378.2 265.6,377.4 266.8,378.7 268.0,378.6 269.2,378.4 270.4,378.9 271.6,379.3 272.8,379.0 274.0,379.1 275.2,379.2 276.4,378.1 277.6,379.2 278.8,380.0 280.0,380.8 281.2,381.6 282.4,381.1 283.6,380.0 284.8,379.9 286.0,379.9 287.2,379.1 288.4,379.8 289.6,379.4 290.8,379.8 292.0,378.5 293.2,378.6 294.4,378.5 295.6,378.9 296.8,378.7 298.0,379.0 299.2,378.2 300.4,377.9 301.6,378.4 302.8,377.9 304.0,378.0 305.2,377.7 306.4,378.1 307.6,377.4 308.8,377.8 310.0,378.2 311.2,377.6 312.4,377.6 313.6,376.9 314.8,377.4 316.0,377.3 317.2,377.5 318.4,377.6 319.6,376.9 320.8,377.0 322.0,376.5 323.2,376.7 324.4,377.4 325.6,377.9 326.8,377.6 328.0,378.5 329.2,378.3 330.4,378.4 331.6,377.8 332.8,378.3 334.0,378.9 335.2,379.4 336.4,379.7 337.6,381.3 338.8,381.1 340.0,379.7 341.2,380.3 342.4,381.5 343.6,382.3 344.8,381.5 346.0,380.7 347.2,381.4 348.4,381.5 349.6,382.3 350.8,383.9 352.0,383.7 353.2,383.4 354.4,382.7 355.6,382.5 356.8,381.6 358.0,379.5 359.2,380.8 360.4,379.7 361.6,380.2 362.8,379.9 364.0,379.4 365.2,379.6 366.4,378.3 367.6,379.1 368.8,377.6 370.0,378.3 371.2,379.3 372.4,379.2 373.6,378.6 374.8,377.8 376.0,378.0 377.2,378.7 378.4,378.0 379.6,377.8 380.8,376.3 382.0,376.9 383.2,376.2 384.4,376.3 385.6,375.9 386.8,376.7 388.0,377.6 389.2,376.8 390.4,376.8 391.6,376.1 392.8,374.9 394.0,375.7 395.2,376.5 396.4,375.8 397.6,375.3 398.8,374.6 400.0,375.5 401.2,373.9 402.4,373.8 403.6,374.2 404.8,374.5 406.0,376.2 407.2,373.6 408.4,375.6 409.6,375.1 410.8,373.1 412.0,373.1 413.2,371.6 414.4,373.4 415.6,377.8 416.8,380.8 418.0,380.3 419.2,377.5 420.4,375.7 421.6,375.2 422.8,375.7 424.0,376.8 425.2,376.8 426.4,375.4 427.6,377.0 428.8,378.1 430.0,377.2 431.2,375.9 432.4,374.9 433.6,375.8 434.8,377.1 436.0,376.0 437.2,375.9 438.4,376.4 439.6,374.9 440.8,376.0 442.0,375.1 443.2,374.9 444.4,376.0 445.6,375.9 446.8,376.0 448.0,375.6 449.2,374.5 450.4,375.0 451.6,375.0 452.8,375.1 454.0,375.9 455.2,376.1 456.4,376.1 457.6,376.2 458.8,375.8" fill="none" stroke="#7a7a7a" stroke-opacity="0.22" stroke-width="0.7"/><polyline points="64.0,479.5 65.2,479.6 66.4,479.9 67.6,513.6 68.8,548.2 70.0,540.0 71.2,539.0 72.4,537.8 73.6,533.9 74.8,529.1 76.0,525.1 77.2,521.3 78.4,520.3 79.6,520.4 80.8,517.5 82.0,514.0 83.2,511.2 84.4,509.1 85.6,508.0 86.8,506.4 88.0,504.0 89.2,502.2 90.4,499.7 91.6,498.4 92.8,497.0 94.0,495.8 95.2,494.6 96.4,492.8 97.6,492.0 98.8,490.4 100.0,487.7 101.2,482.9 102.4,478.2 103.6,474.7 104.8,471.5 106.0,468.8 107.2,465.5 108.4,462.5 109.6,460.0 110.8,457.9 112.0,455.4 113.2,453.3 114.4,451.2 115.6,448.9 116.8,446.8 118.0,445.0 119.2,443.1 120.4,441.0 121.6,438.8 122.8,436.4 124.0,434.5 125.2,432.8 126.4,431.1 127.6,429.8 128.8,428.3 130.0,426.2 131.2,424.7 132.4,423.6 133.6,422.5 134.8,420.9 136.0,418.5 137.2,417.1 138.4,416.1 139.6,415.3 140.8,413.6 142.0,411.2 143.2,410.2 144.4,409.5 145.6,408.4 146.8,406.9 148.0,406.0 149.2,404.6 150.4,403.6 151.6,402.3 152.8,401.5 154.0,399.4 155.2,400.5 156.4,398.9 157.6,398.8 158.8,398.0 160.0,397.8 161.2,397.5 162.4,397.6 163.6,396.9 164.8,396.9 166.0,396.8 167.2,396.0 168.4,395.9 169.6,395.5 170.8,395.1 172.0,394.4 173.2,394.5 174.4,394.7 175.6,394.6 176.8,394.4 178.0,393.9 179.2,393.9 180.4,393.7 181.6,393.5 182.8,393.3 184.0,391.8 185.2,392.9 186.4,392.7 187.6,392.0 188.8,391.8 190.0,391.0 191.2,391.1 192.4,391.3 193.6,391.6 194.8,390.6 196.0,390.6 197.2,390.3 198.4,390.3 199.6,389.7 200.8,389.7 202.0,389.6 203.2,389.2 204.4,389.4 205.6,389.2 206.8,389.0 208.0,389.3 209.2,389.3 210.4,388.1 211.6,388.7 212.8,388.4 214.0,387.6 215.2,387.6 216.4,387.6 217.6,387.1 218.8,386.9 220.0,387.3 221.2,386.6 222.4,386.5 223.6,385.8 224.8,386.8 226.0,386.2 227.2,386.4 228.4,385.4 229.6,385.7 230.8,385.6 232.0,385.2 233.2,384.1 234.4,384.8 235.6,385.2 236.8,384.5 238.0,385.0 239.2,383.7 240.4,384.1 241.6,383.5 242.8,383.5 244.0,383.7 245.2,383.0 246.4,383.1 247.6,383.3 248.8,382.8 250.0,382.7 251.2,382.8 252.4,382.6 253.6,382.7 254.8,382.1 256.0,382.8 257.2,383.4 258.4,383.0 259.6,383.0 260.8,383.6 262.0,383.1 263.2,382.9 264.4,382.5 265.6,381.8 266.8,382.4 268.0,382.8 269.2,382.2 270.4,381.8 271.6,381.3 272.8,381.7 274.0,381.3 275.2,381.0 276.4,381.7 277.6,382.4 278.8,382.3 280.0,382.0 281.2,383.0 282.4,383.1 283.6,383.0 284.8,382.1 286.0,382.5 287.2,382.0 288.4,382.0 289.6,381.7 290.8,381.0 292.0,381.4 293.2,381.4 294.4,381.8 295.6,381.4 296.8,381.8 298.0,381.5 299.2,381.0 300.4,380.3 301.6,381.0 302.8,381.1 304.0,380.8 305.2,380.7 306.4,381.2 307.6,380.7 308.8,380.1 310.0,380.2 311.2,380.2 312.4,379.5 313.6,380.5 314.8,379.4 316.0,379.7 317.2,379.7 318.4,379.9 319.6,379.8 320.8,380.5 322.0,380.1 323.2,380.6 324.4,380.9 325.6,380.8 326.8,381.1 328.0,381.3 329.2,381.2 330.4,381.9 331.6,381.7 332.8,381.5 334.0,382.3 335.2,382.0 336.4,382.1 337.6,381.4 338.8,381.6 340.0,382.2 341.2,382.2 342.4,382.4 343.6,382.6 344.8,382.7 346.0,383.3 347.2,383.1 348.4,383.0 349.6,383.3 350.8,383.6 352.0,384.8 353.2,384.7 354.4,384.9 355.6,385.0 356.8,384.8 358.0,385.1 359.2,384.7 360.4,384.5 361.6,383.9 362.8,384.5 364.0,384.3 365.2,384.4 366.4,385.1 367.6,384.9 368.8,385.4 370.0,384.2 371.2,384.1 372.4,383.2 373.6,383.0 374.8,382.6 376.0,382.6 377.2,382.4 378.4,382.2 379.6,382.1 380.8,381.4 382.0,380.8 383.2,381.2 384.4,381.6 385.6,380.6 386.8,380.5 388.0,380.2 389.2,380.7 390.4,381.0 391.6,380.9 392.8,381.1 394.0,381.5 395.2,382.1 396.4,382.3 397.6,382.2 398.8,381.7 400.0,382.2 401.2,382.6 402.4,382.0 403.6,382.6 404.8,382.9 406.0,382.8 407.2,382.8 408.4,383.8 409.6,383.8 410.8,383.4 412.0,383.3 413.2,383.9 414.4,383.1 415.6,383.0 416.8,384.0 418.0,382.9 419.2,382.8 420.4,382.6 421.6,382.8 422.8,382.4 424.0,382.3 425.2,381.7 426.4,381.2 427.6,381.6 428.8,381.1 430.0,381.2 431.2,381.2 432.4,381.3 433.6,380.1 434.8,380.8 436.0,379.6 437.2,379.3 438.4,379.1 439.6,379.4 440.8,379.3 442.0,378.2 443.2,378.5 444.4,378.0 445.6,378.0 446.8,378.1 448.0,377.6 449.2,377.1 450.4,377.6 451.6,377.5 452.8,377.3 454.0,377.1 455.2,376.8 456.4,376.1 457.6,376.0 458.8,376.1" fill="none" stroke="#7a7a7a" stroke-opacity="0.22" stroke-width="0.7"/><polyline points="64.0,480.0 65.2,479.8 66.4,480.5 67.6,518.5 68.8,554.8 70.0,544.4 71.2,542.0 72.4,541.4 73.6,537.3 74.8,532.8 76.0,528.1 77.2,523.8 78.4,522.6 79.6,521.7 80.8,518.3 82.0,515.7 83.2,513.1 84.4,510.3 85.6,509.6 86.8,509.5 88.0,506.6 89.2,504.0 90.4,501.8 91.6,501.2 92.8,499.6 94.0,498.8 95.2,496.7 96.4,495.8 97.6,494.7 98.8,491.9 100.0,489.9 101.2,486.3 102.4,481.8 103.6,479.0 104.8,476.1 106.0,472.9 107.2,471.1 108.4,468.3 109.6,464.1 110.8,461.1 112.0,460.2 113.2,457.1 114.4,455.1 115.6,453.5 116.8,450.6 118.0,448.4 119.2,447.1 120.4,445.7 121.6,443.2 122.8,440.4 124.0,438.1 125.2,436.9 126.4,435.0 127.6,433.6 128.8,432.1 130.0,429.6 131.2,428.1 132.4,426.2 133.6,424.4 134.8,423.1 136.0,421.8 137.2,420.1 138.4,419.2 139.6,417.1 140.8,416.1 142.0,414.9 143.2,412.4 144.4,411.7 145.6,410.3 146.8,409.0 148.0,408.6 149.2,408.4 150.4,407.3 151.6,406.4 152.8,406.2 154.0,405.5 155.2,405.4 156.4,404.2 157.6,402.9 158.8,404.0 160.0,402.7 161.2,402.9 162.4,402.8 163.6,401.8 164.8,400.9 166.0,400.9 167.2,399.3 168.4,399.4 169.6,399.5 170.8,397.8 172.0,398.1 173.2,398.1 174.4,398.1 175.6,398.3 176.8,397.5 178.0,397.2 179.2,395.9 180.4,395.5 181.6,396.2 182.8,395.3 184.0,395.8 185.2,394.0 186.4,394.2 187.6,394.8 188.8,394.5 190.0,394.9 191.2,395.2 192.4,394.3 193.6,394.3 194.8,393.9 196.0,392.7 197.2,393.5 198.4,393.3 199.6,392.9 200.8,393.4 202.0,393.5 203.2,393.4 204.4,393.2 205.6,392.9 206.8,393.0 208.0,393.2 209.2,392.9 210.4,392.1 211.6,392.2 212.8,392.1 214.0,391.4 215.2,391.0 216.4,390.1 217.6,389.5 218.8,389.2 220.0,389.5 221.2,388.8 222.4,388.7 223.6,388.3 224.8,387.7 226.0,388.3 227.2,388.0 228.4,389.0 229.6,389.0 230.8,387.9 232.0,387.8 233.2,387.6 234.4,386.9 235.6,386.8 236.8,386.5 238.0,386.8 239.2,386.4 240.4,386.8 241.6,386.9 242.8,387.2 244.0,386.9 245.2,386.7 246.4,386.2 247.6,385.6 248.8,386.2 250.0,385.7 251.2,385.8 252.4,385.8 253.6,385.7 254.8,385.7 256.0,386.5 257.2,386.6 258.4,386.6 259.6,386.5 260.8,385.9 262.0,386.1 263.2,385.7 264.4,385.2 265.6,385.0 266.8,384.3 268.0,383.9 269.2,383.9 270.4,383.7 271.6,382.9 272.8,383.4 274.0,383.4 275.2,384.5 276.4,384.7 277.6,384.6 278.8,385.3 280.0,385.0 281.2,385.6 282.4,385.5 283.6,384.7 284.8,384.4 286.0,383.6 287.2,384.3 288.4,384.5 289.6,383.9 290.8,384.1 292.0,384.2 293.2,384.3 294.4,383.6 295.6,383.8 296.8,383.6 298.0,383.7 299.2,383.4 300.4,383.7 301.6,383.7 302.8,383.8 304.0,384.0 305.2,383.5 306.4,383.6 307.6,383.3 308.8,382.2 310.0,382.4 311.2,382.1 312.4,383.2 313.6,382.1 314.8,382.3 316.0,382.1 317.2,382.0 318.4,381.4 319.6,381.8 320.8,382.0 322.0,381.5 323.2,382.4 324.4,382.5 325.6,382.2 326.8,382.5 328.0,383.1 329.2,383.6 330.4,383.6 331.6,383.5 332.8,383.4 334.0,383.8 335.2,383.9 336.4,384.9 337.6,383.9 338.8,384.6 340.0,384.7 341.2,384.5 342.4,385.3 343.6,385.1 344.8,384.7 346.0,385.1 347.2,385.9 348.4,386.4 349.6,386.2 350.8,387.1 352.0,386.9 353.2,386.4 354.4,386.2 355.6,387.0 356.8,387.6 358.0,387.1 359.2,388.3 360.4,388.9 361.6,388.6 362.8,388.8 364.0,388.5 365.2,388.4 366.4,387.1 367.6,386.7 368.8,387.6 370.0,387.1 371.2,387.1 372.4,386.7 373.6,385.8 374.8,386.0 376.0,385.8 377.2,385.5 378.4,385.3 379.6,385.3 380.8,384.1 382.0,383.9 383.2,382.7 384.4,383.1 385.6,384.1 386.8,384.6 388.0,384.6 389.2,385.5 390.4,385.6 391.6,385.2 392.8,386.0 394.0,386.6 395.2,387.0 396.4,388.0 397.6,389.2 398.8,388.9 400.0,389.3 401.2,389.4 402.4,389.5 403.6,389.7 404.8,390.7 406.0,389.8 407.2,389.8 408.4,389.7 409.6,389.3 410.8,388.5 412.0,389.4 413.2,387.3 414.4,386.2 415.6,387.3 416.8,387.8 418.0,387.9 419.2,387.1 420.4,386.5 421.6,387.2 422.8,386.9 424.0,385.6 425.2,385.6 426.4,385.3 427.6,385.4 428.8,384.6 430.0,385.0 431.2,384.0 432.4,383.5 433.6,384.8 434.8,383.7 436.0,383.5 437.2,384.1 438.4,383.7 439.6,383.9 440.8,385.0 442.0,385.3 443.2,384.8 444.4,385.3 445.6,384.7 446.8,384.4 448.0,384.9 449.2,385.4 450.4,385.0 451.6,384.7 452.8,384.3 454.0,384.6 455.2,386.0 456.4,385.7 457.6,385.4 458.8,386.2" fill="none" stroke="#7a7a7a" stroke-opacity="0.22" stroke-width="0.7"/><polyline points="64.0,480.5 65.2,481.1 66.4,480.8 67.6,523.0 68.8,563.5 70.0,550.1 71.2,544.9 72.4,546.7 73.6,541.5 74.8,536.6 76.0,532.6 77.2,528.0 78.4,527.0 79.6,525.9 80.8,522.5 82.0,518.7 83.2,515.9 84.4,513.7 85.6,512.5 86.8,511.1 88.0,507.2 89.2,504.8 90.4,502.5 91.6,501.4 92.8,499.9 94.0,499.2 95.2,498.1 96.4,496.9 97.6,495.5 98.8,493.9 100.0,493.0 101.2,489.4 102.4,485.3 103.6,480.9 104.8,478.7 106.0,476.1 107.2,474.7 108.4,469.5 109.6,467.0 110.8,464.7 112.0,463.9 113.2,463.5 114.4,460.7 115.6,458.9 116.8,454.8 118.0,453.0 119.2,451.3 120.4,449.1 121.6,446.2 122.8,442.2 124.0,442.3 125.2,439.9 126.4,438.5 127.6,436.3 128.8,432.9 130.0,432.4 131.2,432.5 132.4,431.1 133.6,430.0 134.8,429.0 136.0,427.9 137.2,425.7 138.4,425.2 139.6,423.2 140.8,420.0 142.0,419.1 143.2,416.8 144.4,415.9 145.6,416.2 146.8,414.6 148.0,412.0 149.2,411.9 150.4,409.1 151.6,409.2 152.8,408.0 154.0,404.9 155.2,403.4 156.4,403.4 157.6,403.9 158.8,403.2 160.0,404.9 161.2,405.5 162.4,406.2 163.6,405.0 164.8,405.3 166.0,405.0 167.2,404.3 168.4,403.4 169.6,403.4 170.8,404.2 172.0,403.4 173.2,403.6 174.4,403.3 175.6,402.2 176.8,402.5 178.0,402.4 179.2,401.9 180.4,402.0 181.6,399.7 182.8,399.3 184.0,400.0 185.2,399.5 186.4,398.3 187.6,397.0 188.8,396.6 190.0,396.2 191.2,395.9 192.4,396.2 193.6,397.9 194.8,398.1 196.0,397.2 197.2,395.7 198.4,394.6 199.6,395.0 200.8,395.8 202.0,395.5 203.2,394.4 204.4,395.0 205.6,395.2 206.8,393.8 208.0,393.9 209.2,392.7 210.4,392.4 211.6,392.9 212.8,393.4 214.0,390.9 215.2,391.1 216.4,391.7 217.6,391.9 218.8,393.3 220.0,392.7 221.2,393.8 222.4,393.8 223.6,393.6 224.8,393.3 226.0,392.3 227.2,393.2 228.4,392.2 229.6,391.6 230.8,391.9 232.0,391.2 233.2,391.6 234.4,391.3 235.6,390.1 236.8,390.0 238.0,388.4 239.2,387.8 240.4,389.2 241.6,388.2 242.8,388.1 244.0,388.7 245.2,387.4 246.4,388.5 247.6,387.4 248.8,387.6 250.0,388.2 251.2,388.4 252.4,389.6 253.6,389.9 254.8,387.8 256.0,387.8 257.2,388.2 258.4,388.3 259.6,389.6 260.8,389.0 262.0,388.9 263.2,389.6 264.4,387.7 265.6,387.3 266.8,388.3 268.0,388.5 269.2,387.5 270.4,386.8 271.6,386.6 272.8,386.4 274.0,386.7 275.2,386.7 276.4,386.8 277.6,388.2 278.8,386.4 280.0,386.2 281.2,385.9 282.4,385.8 283.6,386.2 284.8,385.6 286.0,385.6 287.2,385.8 288.4,385.2 289.6,385.6 290.8,385.5 292.0,385.9 293.2,385.6 294.4,384.8 295.6,385.8 296.8,386.4 298.0,386.8 299.2,387.1 300.4,387.9 301.6,387.2 302.8,387.3 304.0,386.4 305.2,386.6 306.4,386.5 307.6,386.6 308.8,386.5 310.0,386.2 311.2,385.2 312.4,385.7 313.6,385.7 314.8,384.4 316.0,384.1 317.2,384.8 318.4,383.4 319.6,382.8 320.8,382.7 322.0,382.5 323.2,383.3 324.4,383.9 325.6,383.3 326.8,384.4 328.0,383.9 329.2,384.4 330.4,383.8 331.6,385.0 332.8,384.9 334.0,384.9 335.2,385.4 336.4,385.5 337.6,386.3 338.8,386.6 340.0,386.6 341.2,387.7 342.4,388.5 343.6,388.5 344.8,388.7 346.0,389.5 347.2,390.0 348.4,391.0 349.6,391.3 350.8,391.8 352.0,392.0 353.2,391.9 354.4,391.1 355.6,392.5 356.8,393.3 358.0,391.5 359.2,392.5 360.4,391.1 361.6,390.8 362.8,390.8 364.0,390.9 365.2,391.7 366.4,391.4 367.6,390.3 368.8,390.6 370.0,388.2 371.2,389.5 372.4,389.4 373.6,389.8 374.8,389.7 376.0,389.1 377.2,389.6 378.4,389.3 379.6,388.6 380.8,387.7 382.0,387.6 383.2,387.6 384.4,386.7 385.6,387.9 386.8,388.8 388.0,389.0 389.2,387.8 390.4,386.9 391.6,388.6 392.8,389.9 394.0,390.0 395.2,390.2 396.4,391.6 397.6,392.1 398.8,391.0 400.0,388.6 401.2,390.3 402.4,391.3 403.6,391.7 404.8,392.5 406.0,393.7 407.2,393.0 408.4,394.3 409.6,394.5 410.8,394.1 412.0,392.3 413.2,394.1 414.4,392.1 415.6,393.8 416.8,390.6 418.0,391.8 419.2,393.2 420.4,392.0 421.6,390.6 422.8,386.7 424.0,388.1 425.2,388.2 426.4,388.4 427.6,388.0 428.8,388.4 430.0,388.9 431.2,388.3 432.4,388.8 433.6,389.2 434.8,389.7 436.0,389.2 437.2,388.3 438.4,387.5 439.6,386.7 440.8,388.0 442.0,387.7 443.2,386.8 444.4,386.2 445.6,385.5 446.8,385.2 448.0,384.7 449.2,384.3 450.4,384.2 451.6,386.0 452.8,384.7 454.0,383.9 455.2,384.7 456.4,384.7 457.6,384.1 458.8,382.8" fill="none" stroke="#7a7a7a" stroke-opacity="0.22" stroke-width="0.7"/><polyline points="64.0,479.6 65.5,479.7 66.5,479.9 67.0,496.7 68.5,539.6 68.9,549.3 70.0,539.7 70.1,538.9 71.5,538.4 72.5,538.2 73.0,535.8 74.5,530.4 74.9,529.4 76.0,525.4 77.3,520.9 79.0,520.3 79.7,519.8 80.5,517.1 82.0,513.6 83.5,509.8 83.9,508.6 85.0,507.8 86.4,507.1 88.0,504.1 89.5,501.1 90.0,500.4 91.0,499.5 92.5,497.6 93.6,496.4 94.0,496.0 95.5,494.0 96.0,493.3 97.0,492.2 98.5,490.6 99.6,489.4 100.0,487.8 101.5,481.7 102.6,477.1 103.0,475.9 104.5,471.9 105.9,468.1 107.5,464.4 109.0,460.7 110.3,457.0 112.0,454.2 113.5,451.9 115.0,449.4 116.5,447.1 117.0,446.4 118.0,444.4 119.5,441.9 121.0,439.4 122.5,436.9 123.6,435.1 124.0,434.4 125.5,432.5 127.0,430.7 128.5,428.6 130.0,426.6 130.2,426.3 131.5,424.2 133.0,422.4 134.5,420.5 136.0,418.4 136.9,417.4 137.5,416.8 139.0,415.2 140.5,413.3 142.0,411.4 143.5,410.2 145.0,408.5 146.5,406.5 148.0,405.1 149.5,403.9 150.1,403.1 151.0,402.3 152.5,401.6 154.0,400.3 155.5,399.3 156.8,399.1 158.5,398.0 160.0,397.1 161.5,397.4 163.0,396.7 164.5,395.9 166.0,395.6 167.5,394.9 167.8,395.2 169.0,395.2 170.5,394.5 172.0,394.4 173.5,394.4 175.0,393.7 176.5,393.4 178.0,393.5 179.5,393.1 181.0,392.9 181.1,392.9 182.5,392.3 184.0,392.4 185.5,392.3 187.0,391.5 188.5,391.5 190.0,391.6 191.5,391.1 193.0,391.1 194.4,391.0 196.0,390.6 197.5,390.5 199.0,390.4 200.5,390.2 202.0,389.7 203.5,389.4 205.0,389.5 206.5,389.1 207.6,388.7 208.0,388.5 209.5,388.2 211.0,388.3 212.5,388.4 214.0,388.1 215.5,387.3 217.0,387.0 218.5,386.9 220.0,386.9 220.9,387.2 221.5,386.8 223.0,386.2 224.5,385.8 226.0,385.3 227.5,385.0 229.0,385.0 230.5,384.6 232.0,384.2 233.5,384.0 234.2,384.1 235.0,384.3 236.5,384.3 238.0,384.2 239.5,383.9 241.0,383.7 242.5,383.4 244.0,383.2 245.5,382.7 247.0,382.6 247.4,382.8 248.5,382.5 250.0,382.3 251.5,382.3 253.0,382.7 254.5,382.3 256.0,381.9 257.5,382.2 259.0,382.3 260.5,382.4 262.0,382.2 263.5,382.1 264.0,382.1 265.0,381.9 266.5,381.7 268.0,381.5 269.5,381.4 271.0,380.9 272.5,380.8 272.8,381.1 274.0,381.3 275.5,381.5 277.0,381.6 278.5,381.7 280.0,382.3 281.5,382.4 281.7,382.4 283.0,382.3 284.5,382.2 286.0,382.3 287.5,381.5 289.0,381.0 290.5,381.2 292.0,381.5 293.5,381.0 295.0,380.8 296.5,380.8 298.0,380.9 299.5,380.8 301.0,381.0 302.5,381.4 303.8,381.3 305.5,380.5 307.0,380.7 308.5,380.8 310.0,380.0 311.5,380.1 313.0,380.0 314.5,379.6 316.0,379.5 317.5,379.5 319.0,380.0 320.5,380.2 322.0,380.1 323.5,380.4 325.0,380.7 326.5,380.9 328.0,381.0 328.1,381.1 329.5,381.4 331.0,381.9 332.5,381.7 334.0,381.5 335.5,381.6 337.0,381.7 338.5,382.4 339.2,382.6 340.0,382.2 341.5,382.4 343.0,382.8 344.5,383.3 346.0,383.3 347.5,383.4 349.0,383.7 350.5,383.7 352.0,384.0 352.4,384.3 353.5,384.0 355.0,384.1 356.5,384.5 358.0,384.7 359.5,383.8 361.0,383.5 362.5,383.8 363.5,383.7 364.0,384.0 365.5,383.6 367.0,383.1 368.5,383.2 370.0,383.3 371.5,383.3 373.0,382.9 374.5,382.5 374.6,382.7 376.0,382.7 377.5,382.4 379.0,382.4 380.5,382.4 382.0,381.5 383.5,381.2 385.0,381.0 385.6,380.9 386.5,380.9 388.0,380.6 389.5,380.3 391.0,380.8 392.5,381.6 394.0,381.3 395.5,381.3 396.7,381.7 397.0,381.6 398.5,381.8 400.0,381.9 401.5,381.9 403.0,381.9 404.5,382.0 406.0,381.9 407.5,381.9 409.0,382.1 409.9,382.2 410.5,382.4 412.0,382.0 413.5,382.1 415.0,382.0 416.5,381.5 418.0,381.8 419.5,382.0 421.0,381.8 422.5,382.1 423.2,382.5 424.0,382.1 425.5,381.6 427.0,381.6 428.5,381.4 430.0,381.2 431.5,380.7 433.0,380.5 434.5,380.4 436.0,379.6 436.5,379.5 437.5,379.5 439.0,379.9 440.5,379.6 442.0,379.2 443.5,379.7 445.0,379.5 446.5,379.2 447.5,379.4 448.0,379.6 449.5,379.9 451.0,379.7 452.5,379.2 454.0,379.2 455.5,379.0 457.0,379.2 458.5,379.4 459.7,379.0" fill="none" stroke="#0074b6" stroke-width="1.9" stroke-linejoin="round"/></g><rect x="44.7" y="360" width="435.0" height="220.70000000000005" fill="none" stroke="#4a4a4a" stroke-width="0.9"/><text x="64.40" y="591.70" font-size="7.89" text-anchor="middle" fill="#262626" font-family="Liberation Sans" font-weight="normal" textLength="11.85" lengthAdjust="spacingAndGlyphs" stroke="#262626" stroke-width="0.1">0.0</text><text x="130.32" y="591.70" font-size="7.89" text-anchor="middle" fill="#262626" font-family="Liberation Sans" font-weight="normal" textLength="11.85" lengthAdjust="spacingAndGlyphs" stroke="#262626" stroke-width="0.1">0.2</text><text x="196.24" y="591.70" font-size="7.89" text-anchor="middle" fill="#262626" font-family="Liberation Sans" font-weight="normal" textLength="11.85" lengthAdjust="spacingAndGlyphs" stroke="#262626" stroke-width="0.1">0.4</text><text x="262.16" y="591.70" font-size="7.89" text-anchor="middle" fill="#262626" font-family="Liberation Sans" font-weight="normal" textLength="11.85" lengthAdjust="spacingAndGlyphs" stroke="#262626" stroke-width="0.1">0.6</text><text x="328.08" y="591.70" font-size="7.89" text-anchor="middle" fill="#262626" font-family="Liberation Sans" font-weight="normal" textLength="11.85" lengthAdjust="spacingAndGlyphs" stroke="#262626" stroke-width="0.1">0.8</text><text x="394.00" y="591.70" font-size="7.89" text-anchor="middle" fill="#262626" font-family="Liberation Sans" font-weight="normal" textLength="11.85" lengthAdjust="spacingAndGlyphs" stroke="#262626" stroke-width="0.1">1.0</text><text x="459.92" y="591.70" font-size="7.89" text-anchor="middle" fill="#262626" font-family="Liberation Sans" font-weight="normal" textLength="11.85" lengthAdjust="spacingAndGlyphs" stroke="#262626" stroke-width="0.1">1.2</text><text x="39.10" y="363.98" font-size="7.89" text-anchor="end" fill="#262626" font-family="Liberation Sans" font-weight="normal" textLength="14.22" lengthAdjust="spacingAndGlyphs" stroke="#262626" stroke-width="0.1">300</text><text x="39.10" y="403.42" font-size="7.89" text-anchor="end" fill="#262626" font-family="Liberation Sans" font-weight="normal" textLength="14.22" lengthAdjust="spacingAndGlyphs" stroke="#262626" stroke-width="0.1">200</text><text x="39.10" y="442.86" font-size="7.89" text-anchor="end" fill="#262626" font-family="Liberation Sans" font-weight="normal" textLength="14.22" lengthAdjust="spacingAndGlyphs" stroke="#262626" stroke-width="0.1">100</text><text x="39.10" y="482.30" font-size="7.89" text-anchor="end" fill="#262626" font-family="Liberation Sans" font-weight="normal" textLength="4.74" lengthAdjust="spacingAndGlyphs" stroke="#262626" stroke-width="0.1">0</text><text x="39.10" y="521.74" font-size="7.89" text-anchor="end" fill="#262626" font-family="Liberation Sans" font-weight="normal" textLength="20.46" lengthAdjust="spacingAndGlyphs" stroke="#262626" stroke-width="0.1">−100</text><text x="39.10" y="561.18" font-size="7.89" text-anchor="end" fill="#262626" font-family="Liberation Sans" font-weight="normal" textLength="20.46" lengthAdjust="spacingAndGlyphs" stroke="#262626" stroke-width="0.1">−200</text><path d="M64.40 580.7v2.7M130.32 580.7v2.7M196.24 580.7v2.7M262.16 580.7v2.7M328.08 580.7v2.7M394.00 580.7v2.7M459.92 580.7v2.7M44.7 361.28h-2.7M44.7 400.72h-2.7M44.7 440.16h-2.7M44.7 479.60h-2.7M44.7 519.04h-2.7M44.7 558.48h-2.7" stroke="#4a4a4a" stroke-width="0.9"/><text x="262.20" y="355.50" font-size="9.46" text-anchor="middle" fill="#262626" font-family="Liberation Sans" font-weight="normal" textLength="124.86" lengthAdjust="spacingAndGlyphs" stroke="#262626" stroke-width="0.1">LunarLander Kumaraswamy</text><text x="262.20" y="601.90" font-size="7.89" text-anchor="middle" fill="#262626" font-family="Liberation Sans" font-weight="normal" textLength="69.93" lengthAdjust="spacingAndGlyphs" stroke="#262626" stroke-width="0.1">Environment steps</text><text x="479.70" y="600.90" font-size="7.89" text-anchor="end" fill="#262626" font-family="Liberation Sans" font-weight="normal" textLength="14.06" lengthAdjust="spacingAndGlyphs" stroke="#262626" stroke-width="0.1">1e6</text><text x="0.00" y="0.00" font-size="7.89" text-anchor="middle" fill="#262626" font-family="Liberation Sans" font-weight="normal" textLength="61.70" lengthAdjust="spacingAndGlyphs" stroke="#262626" stroke-width="0.1" transform="translate(13.64,470.35) rotate(-90)">Evaluation score</text><rect x="48.20" y="363.40" width="104.4" height="24.5" rx="1.5" fill="#fff" fill-opacity="0.8" stroke="#dcdcdc" stroke-width="0.8"/><path d="M50.90 370.00h16.4" stroke="#0074b6" stroke-width="1.9"/><rect x="50.90" y="378.00" width="15.8" height="5.9" fill="#bcdaeb" stroke="#a8cde3" stroke-width="0.6"/><text x="72.90" y="372.60" font-size="7.89" text-anchor="start" fill="#262626" font-family="Liberation Sans" font-weight="normal" textLength="76.39" lengthAdjust="spacingAndGlyphs" stroke="#262626" stroke-width="0.1">Mean (across seeds)</text><text x="72.90" y="383.50" font-size="7.89" text-anchor="start" fill="#262626" font-family="Liberation Sans" font-weight="normal" textLength="42.81" lengthAdjust="spacingAndGlyphs" stroke="#262626" stroke-width="0.1">Mean ± std</text><text x="244.00" y="657.10" font-size="25.00" text-anchor="middle" fill="#000" font-family="Liberation Serif" font-weight="bold">c</text><clipPath id="clipd"><rect x="588.6" y="360" width="441.9" height="220.79999999999995"/></clipPath><path d="M608.50 360V580.8M675.50 360V580.8M742.50 360V580.8M809.50 360V580.8M876.50 360V580.8M943.50 360V580.8M1010.50 360V580.8M588.6 571.50H1030.5M588.6 538.50H1030.5M588.6 505.50H1030.5M588.6 472.50H1030.5M588.6 439.50H1030.5M588.6 406.50H1030.5M588.6 373.50H1030.5" stroke="#c9c9c9" stroke-width="0.9" fill="none"/><g clip-path="url(#clipd)"><polyline points="676.4,425.1 677.6,425.0 678.8,426.8 680.0,426.1 681.2,425.6 682.4,425.9 683.6,425.1 684.8,423.6 685.3,423.2 686.0,424.2 687.2,424.0 688.4,424.1 689.6,424.0 690.8,424.3 692.0,425.2 693.2,424.5 694.4,423.7 695.6,424.5 696.8,424.5 698.0,423.0 698.6,424.5 699.2,425.9 700.4,423.8 701.6,421.3 702.8,420.8 704.0,421.3 705.2,420.8 706.4,420.3 707.6,418.8 708.8,417.1 710.0,416.7 711.2,414.8 711.8,413.7 712.4,415.1 713.6,415.8 714.8,414.5 716.0,414.4 717.2,413.1 718.4,410.9 719.6,410.8 720.8,411.0 722.0,411.0 723.2,411.0 724.4,410.6 725.1,411.3 725.6,410.3 726.8,408.3 728.0,409.3 729.2,408.4 730.4,408.7 731.6,408.6 732.8,406.7 733.9,406.5" fill="none" stroke="#9a9a9a" stroke-opacity="0.3" stroke-width="0.7"/><polyline points="667.6,408.1 668.8,405.7 670.0,404.3 671.2,401.2 672.4,399.3 673.6,397.5 674.8,393.6 676.0,390.6 676.4,390.3 677.2,390.9 678.4,390.4 679.6,388.6 680.8,387.4 682.0,388.6 683.2,389.4 684.4,389.2 685.3,387.4 685.6,385.3 686.8,386.5 688.0,387.5 689.2,386.7 690.4,388.3 691.6,388.3 692.8,387.3 694.0,386.7 695.2,386.5 696.4,386.6 697.6,386.6 698.8,387.8 700.0,386.1 701.2,386.2 702.4,387.8 703.0,387.4 703.6,386.6 704.8,385.7 706.0,384.6 707.2,383.2 708.4,381.8 709.6,382.3 710.8,384.2 712.0,383.1 713.2,382.4 714.0,382.3 714.4,381.1 715.6,381.4 716.8,381.7 718.0,380.3 719.2,379.6 720.4,380.9 721.6,380.4 722.8,381.6 724.0,383.8 725.1,383.8 726.4,383.9 727.6,384.1 728.8,384.1 730.0,383.4 731.2,382.1 732.4,382.6 733.6,383.0 734.8,382.0 736.0,381.9 737.2,381.7 738.4,382.9 739.6,384.1 740.8,381.5 742.0,380.7 742.8,380.9 743.2,382.4 744.4,382.4 745.6,380.0 746.8,380.7 748.0,380.3 749.2,381.0 750.4,381.8 751.6,381.6 752.8,382.0 754.0,380.2 755.2,378.7 756.4,380.5 757.6,381.8 758.8,379.9 760.0,379.0 760.5,378.7 761.2,379.4 762.4,381.7 763.6,382.6 764.8,381.8 766.0,381.8 767.2,384.0 768.4,384.9 769.6,386.5 770.8,387.3 771.5,385.9 772.0,386.6 773.2,387.0 774.4,386.0 775.6,387.3 776.8,387.3 778.0,385.8 779.2,386.0 780.4,385.2 781.6,384.1 782.8,385.3 784.0,385.4 785.2,384.8 786.4,385.0 787.0,384.2 787.6,383.7 788.8,383.9 790.0,382.7 791.2,383.2 792.4,382.9 793.6,381.2 794.8,382.5 796.0,380.6 797.2,379.4 798.4,380.7 799.6,379.1 800.3,378.9 800.8,379.6 802.0,379.3 803.2,381.2 804.4,381.7 805.6,380.3 806.8,379.6 808.0,378.6 808.0,378.6 809.2,379.1 810.4,379.4 811.6,378.5 812.8,378.8 814.0,379.1 815.2,377.4 816.4,376.9 817.6,377.6 818.8,378.0 820.0,378.5 821.2,378.2 822.4,377.5 823.6,378.3 824.8,376.8 825.7,375.6 826.0,375.9 827.2,376.4 828.4,376.3 829.6,376.9 830.8,378.0 832.0,376.5 833.2,376.8 834.4,377.3 835.6,377.2 836.7,378.7 838.0,378.3 839.2,375.0 840.4,373.0 841.6,372.8 842.8,371.8 843.4,371.2 844.0,371.1 845.2,370.3 846.4,370.1 847.6,370.5 848.8,370.4 850.0,370.8 851.2,371.3 852.4,372.5 853.6,371.1 854.8,372.3 856.0,373.0 857.2,370.7 858.4,370.1 859.6,368.8 860.8,368.5 861.1,369.4 862.0,370.8 863.2,370.5 864.4,369.3 865.6,370.1 866.8,370.8 868.0,370.6 869.2,371.4 870.4,371.9 871.6,373.0 872.8,374.3 874.0,372.2 874.3,371.4 875.2,372.9 876.4,373.9 877.6,373.5 878.8,372.3 880.0,373.5 881.2,374.5 882.4,374.1 883.6,372.3 884.8,372.8 886.0,373.5 887.2,372.1 888.4,372.4 889.6,373.7 890.8,373.4 892.0,372.3 892.0,372.7 893.2,374.6 894.4,373.5 895.6,372.2 896.8,374.8 898.0,375.2 899.2,372.3 900.4,373.1 901.6,374.3 902.8,372.7 904.0,373.7 905.2,374.6 905.3,373.9 906.4,373.6 907.6,374.4 908.8,374.8 910.0,375.2 911.2,375.3 912.4,373.8 913.6,374.2 914.8,375.3 916.0,373.0 917.2,372.7 918.4,373.9 919.6,373.6 920.8,374.1 922.0,375.6 923.0,376.6 924.4,375.1 925.6,373.1 926.8,371.9 928.0,372.1 929.2,372.9 930.4,372.7 931.6,371.6 932.8,372.8 934.0,372.5 935.2,371.8 936.4,371.6 937.6,371.1 938.8,371.2 940.0,371.0 941.2,370.8 942.4,369.3 943.6,370.0 944.8,370.8 945.1,370.6 946.0,373.4 947.2,375.9 948.4,374.9 949.6,373.4 950.8,373.6 952.0,372.8 953.2,372.0 954.4,371.6 955.6,371.8 956.8,372.7 958.0,372.7 959.2,373.7 960.4,374.7 961.6,373.7 962.8,372.7 964.0,374.1 965.2,374.1 966.4,373.8 967.2,374.6 967.6,374.0 968.8,372.5 970.0,372.6 971.2,374.5 972.4,374.0 973.6,372.5 974.8,373.0 976.0,374.1 977.2,373.9 978.4,373.4 979.6,373.1 980.8,372.9 982.0,373.6 983.2,373.4 984.4,372.0 985.6,373.1 986.8,375.9 988.0,377.7 989.2,374.9 989.3,373.4 990.4,375.0 991.6,375.2 992.8,375.6 994.0,374.7 995.2,373.5 996.4,373.6 997.6,374.0 998.8,372.5 1000.0,371.7 1001.2,372.2 1002.4,372.4 1002.6,373.5 1003.6,373.5 1004.8,374.3 1006.0,374.7 1007.2,375.5 1008.4,375.7 1009.6,375.2 1010.3,375.2" fill="none" stroke="#9a9a9a" stroke-opacity="0.3" stroke-width="0.7"/><polyline points="841.2,406.4 842.4,410.7 843.6,414.2 844.8,417.0 845.6,420.1 846.0,421.1 847.2,420.5 848.4,420.3 849.6,419.4 850.8,419.4 852.0,420.3 853.2,421.0 854.4,420.7 855.6,420.3 856.6,421.1 858.0,421.6 859.2,422.5 860.4,424.7 861.6,425.6 862.8,423.3 863.3,423.8 864.0,422.2 865.2,418.0 866.4,416.3 867.6,413.3 868.8,410.5 870.0,409.1 871.2,407.1 872.1,404.7 873.6,403.7 874.8,403.3 876.0,402.1 877.2,401.4 878.4,400.8 879.6,400.5 880.8,400.1 881.0,398.5" fill="none" stroke="#9a9a9a" stroke-opacity="0.3" stroke-width="0.7"/><polyline points="962.8,400.4 964.0,401.2 965.2,400.8 966.4,401.8 967.6,403.1 968.8,404.2 970.0,405.7 971.2,405.9 972.4,407.2 973.6,408.3 974.8,409.5 976.0,409.5 976.0,409.3 977.2,410.1 978.4,409.3 979.6,410.3 980.8,409.9 982.0,408.6 983.2,409.2 984.4,409.5 984.9,407.9 985.6,407.1 986.8,406.2 988.0,403.6 989.2,404.2 990.4,403.6 991.6,401.9 992.8,402.1 994.0,402.1 995.2,400.4 995.9,398.5" fill="none" stroke="#9a9a9a" stroke-opacity="0.3" stroke-width="0.7"/><polygon points="608.4,570.2 609.6,570.2 610.8,570.7 612.0,537.5 613.2,511.0 614.4,509.0 615.6,504.0 616.8,495.4 618.0,494.7 619.2,495.4 620.4,492.9 621.6,491.2 622.8,490.7 624.0,490.6 625.2,491.1 626.4,489.7 627.6,486.8 628.8,485.9 630.0,485.9 631.2,484.2 632.4,484.7 633.6,485.7 634.8,484.4 636.0,484.0 637.2,482.8 638.4,481.5 639.6,479.7 640.8,478.9 642.0,479.2 643.2,479.2 644.4,479.3 645.6,472.8 646.8,468.8 648.0,466.6 649.2,466.4 650.4,465.3 651.6,462.6 652.8,458.5 654.0,454.7 655.2,451.4 656.4,446.5 657.6,442.2 658.8,440.2 660.0,439.9 661.2,436.8 662.4,432.3 663.6,429.5 664.8,426.2 666.0,423.9 667.2,419.8 668.4,415.9 669.6,414.2 670.8,412.1 672.0,410.6 673.2,408.9 674.4,409.0 675.6,407.9 676.8,406.4 678.0,405.0 679.2,404.4 680.4,404.5 681.6,401.5 682.8,401.1 684.0,402.8 685.2,402.4 686.4,401.5 687.6,399.1 688.8,399.2 690.0,399.8 691.2,398.9 692.4,396.7 693.6,396.5 694.8,398.7 696.0,399.4 697.2,399.1 698.4,396.5 699.6,396.2 700.8,394.5 702.0,395.9 703.2,399.4 704.4,395.7 705.6,391.1 706.8,389.6 708.0,390.2 709.2,389.5 710.4,388.6 711.6,388.4 712.8,386.9 714.0,385.7 715.2,385.9 716.4,385.7 717.6,386.2 718.8,384.0 720.0,383.2 721.2,386.4 722.4,385.7 723.6,383.3 724.8,383.5 726.0,385.3 727.2,384.7 728.4,384.7 729.6,383.9 730.8,385.4 732.0,388.2 733.2,388.5 734.4,388.3 735.6,387.6 736.8,390.0 738.0,389.1 739.2,388.0 740.4,387.2 741.6,384.5 742.8,386.9 744.0,389.1 745.2,388.2 746.4,388.3 747.6,388.3 748.8,388.4 750.0,389.4 751.2,389.9 752.4,389.2 753.6,388.9 754.8,389.4 756.0,389.0 757.2,387.8 758.4,384.9 759.6,385.1 760.8,387.3 762.0,386.3 763.2,387.4 764.4,389.0 765.6,387.4 766.8,388.3 768.0,390.3 769.2,390.7 770.4,389.3 771.6,389.0 772.8,389.5 774.0,386.8 775.2,386.9 776.4,388.9 777.6,391.1 778.8,391.5 780.0,390.8 781.2,390.1 782.4,389.5 783.6,388.8 784.8,388.9 786.0,388.7 787.2,388.9 788.4,390.0 789.6,388.5 790.8,388.0 792.0,389.5 793.2,389.7 794.4,389.5 795.6,390.0 796.8,390.1 798.0,390.7 799.2,390.3 800.4,389.7 801.6,388.6 802.8,389.2 804.0,389.8 805.2,390.4 806.4,389.9 807.6,386.5 808.8,387.3 810.0,387.7 811.2,387.1 812.4,387.5 813.6,387.4 814.8,387.5 816.0,386.1 817.2,385.4 818.4,385.3 819.6,385.4 820.8,387.6 822.0,388.1 823.2,386.5 824.4,387.1 825.6,386.0 826.8,384.2 828.0,384.3 829.2,384.0 830.4,385.8 831.6,385.9 832.8,383.2 834.0,383.1 835.2,383.3 836.4,382.2 837.6,383.1 838.8,381.9 840.0,381.3 841.2,384.5 842.4,386.4 843.6,386.2 844.8,383.1 846.0,381.0 847.2,382.1 848.4,383.0 849.6,380.3 850.8,376.3 852.0,376.5 853.2,380.5 854.4,380.6 855.6,376.9 856.8,375.8 858.0,378.0 859.2,379.1 860.4,377.8 861.6,377.3 862.8,376.9 864.0,376.3 865.2,374.9 866.4,373.8 867.6,374.8 868.8,375.8 870.0,375.6 871.2,377.0 872.4,378.8 873.6,379.6 874.8,379.2 876.0,377.6 877.2,377.0 878.4,375.8 879.6,377.1 880.8,378.2 882.0,379.1 883.2,380.9 884.4,380.8 885.6,381.5 886.8,381.1 888.0,380.2 889.2,379.7 890.4,379.3 891.6,379.8 892.8,381.1 894.0,381.4 895.2,381.4 896.4,381.9 897.6,381.3 898.8,383.5 900.0,384.0 901.2,382.6 902.4,380.8 903.6,380.0 904.8,382.0 906.0,382.9 907.2,381.6 908.4,381.1 909.6,380.3 910.8,378.9 912.0,379.8 913.2,381.5 914.4,381.4 915.6,380.9 916.8,378.7 918.0,376.2 919.2,378.3 920.4,378.5 921.6,379.4 922.8,379.6 924.0,379.8 925.2,380.1 926.4,379.2 927.6,381.1 928.8,381.1 930.0,380.7 931.2,381.2 932.4,380.7 933.6,382.2 934.8,382.6 936.0,380.8 937.2,380.2 938.4,379.2 939.6,379.3 940.8,380.7 942.0,381.2 943.2,382.4 944.4,382.0 945.6,379.2 946.8,379.0 948.0,379.6 949.2,378.7 950.4,378.6 951.6,379.3 952.8,379.3 954.0,379.7 955.2,378.9 956.4,376.3 957.6,377.9 958.8,379.2 960.0,379.0 961.2,378.8 962.4,377.8 963.6,379.7 964.8,381.1 966.0,381.1 967.2,381.7 968.4,381.3 969.6,382.8 970.8,384.0 972.0,385.1 973.2,386.4 974.4,384.9 975.6,383.7 976.8,382.6 978.0,381.9 979.2,382.5 980.4,383.8 981.6,382.7 982.8,381.8 984.0,381.5 985.2,381.5 986.4,382.9 987.6,383.5 988.8,383.2 990.0,381.8 991.2,381.2 992.4,381.6 993.6,381.6 994.8,381.7 996.0,382.0 997.2,382.4 998.4,381.1 999.6,380.5 1000.8,380.7 1002.0,380.2 1003.2,379.6 1004.4,379.3 1005.6,378.7 1006.8,377.6 1008.0,379.7 1009.2,380.1 1009.2,390.4 1008.0,390.9 1006.8,391.1 1005.6,391.5 1004.4,391.4 1003.2,392.3 1002.0,394.1 1000.8,394.6 999.6,394.6 998.4,396.3 997.2,397.1 996.0,395.5 994.8,396.5 993.6,397.0 992.4,396.8 991.2,396.9 990.0,396.6 988.8,397.4 987.6,398.5 986.4,397.7 985.2,395.7 984.0,397.5 982.8,399.8 981.6,399.0 980.4,399.2 979.2,399.7 978.0,400.5 976.8,401.6 975.6,402.0 974.4,401.3 973.2,400.9 972.0,401.0 970.8,400.2 969.6,399.9 968.4,401.3 967.2,399.9 966.0,398.3 964.8,398.1 963.6,396.5 962.4,397.8 961.2,398.4 960.0,396.8 958.8,397.5 957.6,399.9 956.4,399.7 955.2,398.7 954.0,399.6 952.8,401.1 951.6,402.3 950.4,402.4 949.2,402.2 948.0,400.8 946.8,400.9 945.6,402.2 944.4,401.2 943.2,399.0 942.0,399.6 940.8,399.6 939.6,398.8 938.4,399.9 937.2,399.8 936.0,399.5 934.8,397.1 933.6,395.9 932.4,398.1 931.2,396.9 930.0,396.6 928.8,397.9 927.6,397.6 926.4,397.6 925.2,398.9 924.0,398.3 922.8,399.0 921.6,399.1 920.4,397.4 919.2,398.3 918.0,399.1 916.8,398.6 915.6,397.7 914.4,398.5 913.2,398.3 912.0,400.4 910.8,400.2 909.6,397.1 908.4,399.8 907.2,400.3 906.0,398.8 904.8,401.0 903.6,402.4 902.4,400.4 901.2,400.0 900.0,400.2 898.8,400.4 897.6,400.9 896.4,400.1 895.2,399.8 894.0,399.6 892.8,401.5 891.6,401.9 890.4,401.7 889.2,402.8 888.0,401.4 886.8,400.7 885.6,401.4 884.4,400.2 883.2,399.8 882.0,401.5 880.8,401.6 879.6,398.9 878.4,397.0 877.2,397.2 876.0,397.6 874.8,396.3 873.6,397.1 872.4,399.6 871.2,402.4 870.0,403.4 868.8,403.5 867.6,403.5 866.4,401.2 865.2,402.8 864.0,403.3 862.8,404.3 861.6,406.0 860.4,406.2 859.2,406.9 858.0,406.4 856.8,408.1 855.6,408.5 854.4,406.9 853.2,407.4 852.0,407.4 850.8,406.0 849.6,406.0 848.4,406.1 847.2,408.4 846.0,408.6 844.8,406.2 843.6,404.7 842.4,405.0 841.2,407.8 840.0,406.8 838.8,405.3 837.6,404.1 836.4,403.7 835.2,404.5 834.0,403.2 832.8,401.5 831.6,402.6 830.4,403.9 829.2,402.9 828.0,402.2 826.8,401.1 825.6,401.0 824.4,399.7 823.2,398.6 822.0,401.0 820.8,403.0 819.6,402.9 818.4,401.3 817.2,399.9 816.0,400.3 814.8,400.8 813.6,401.0 812.4,402.0 811.2,402.6 810.0,403.0 808.8,402.9 807.6,405.0 806.4,405.6 805.2,404.1 804.0,404.9 802.8,405.1 801.6,403.6 800.4,405.6 799.2,406.4 798.0,403.3 796.8,403.0 795.6,403.5 794.4,404.2 793.2,405.1 792.0,404.1 790.8,405.5 789.6,407.2 788.4,405.8 787.2,406.6 786.0,407.1 784.8,407.3 783.6,407.5 782.4,408.0 781.2,409.6 780.0,408.1 778.8,406.5 777.6,407.8 776.4,407.7 775.2,406.1 774.0,406.1 772.8,406.9 771.6,408.6 770.4,407.9 769.2,407.1 768.0,407.6 766.8,404.7 765.6,405.8 764.4,409.3 763.2,411.0 762.0,410.1 760.8,407.6 759.6,407.1 758.4,407.4 757.2,406.7 756.0,408.0 754.8,407.1 753.6,406.4 752.4,406.6 751.2,404.2 750.0,405.4 748.8,407.9 747.6,406.9 746.4,404.2 745.2,404.1 744.0,404.8 742.8,403.5 741.6,403.7 740.4,404.5 739.2,404.4 738.0,404.6 736.8,404.3 735.6,404.4 734.4,402.8 733.2,402.5 732.0,402.9 730.8,401.0 729.6,401.7 728.4,403.9 727.2,404.5 726.0,404.6 724.8,404.1 723.6,406.7 722.4,408.2 721.2,405.4 720.0,405.5 718.8,406.2 717.6,407.4 716.4,406.9 715.2,406.5 714.0,408.0 712.8,407.3 711.6,408.8 710.4,411.7 709.2,410.9 708.0,410.8 706.8,410.8 705.6,410.9 704.4,412.5 703.2,412.9 702.0,413.1 700.8,415.2 699.6,416.1 698.4,416.0 697.2,415.3 696.0,415.9 694.8,417.1 693.6,417.1 692.4,419.0 691.2,418.2 690.0,418.6 688.8,420.5 687.6,420.5 686.4,420.1 685.2,420.3 684.0,419.5 682.8,422.5 681.6,426.3 680.4,425.3 679.2,427.8 678.0,429.2 676.8,429.4 675.6,430.5 674.4,433.8 673.2,437.5 672.0,438.4 670.8,440.4 669.6,442.3 668.4,445.1 667.2,445.4 666.0,447.3 664.8,451.0 663.6,454.7 662.4,460.1 661.2,462.3 660.0,464.4 658.8,465.4 657.6,466.9 656.4,469.4 655.2,471.3 654.0,473.2 652.8,473.3 651.6,475.2 650.4,477.1 649.2,479.0 648.0,482.9 646.8,485.2 645.6,489.2 644.4,492.2 643.2,492.2 642.0,493.4 640.8,494.6 639.6,494.5 638.4,494.7 637.2,496.9 636.0,498.7 634.8,499.0 633.6,500.3 632.4,502.4 631.2,503.5 630.0,504.4 628.8,505.1 627.6,507.0 626.4,508.0 625.2,508.0 624.0,508.6 622.8,509.6 621.6,510.4 620.4,511.3 619.2,512.1 618.0,515.7 616.8,523.2 615.6,528.6 614.4,538.7 613.2,548.4 612.0,564.9 610.8,571.2 609.6,571.1 608.4,571.4" fill="#bcdaeb" stroke="#9fc6de" stroke-width="0.5"/><polyline points="608.4,568.9 609.6,568.9 610.8,569.5 612.0,535.8 613.2,516.6 614.4,516.4 615.6,509.0 616.8,501.3 618.0,504.0 619.2,497.7 620.4,495.1 621.6,495.4 622.8,493.4 624.0,491.9 625.2,492.0 626.4,491.4 627.6,489.2 628.8,487.5 630.0,487.9 631.2,486.4 632.4,486.3 633.6,485.0 634.8,484.2 636.0,482.5 637.2,480.1 638.4,480.3 639.6,479.4 640.8,479.5 642.0,480.0 643.2,478.6 644.4,478.2 645.6,472.3 646.8,467.9 648.0,464.6 649.2,462.8 650.4,462.1 651.6,462.4 652.8,458.4 654.0,453.8 655.2,450.9 656.4,446.8 657.6,444.4 658.8,441.7 660.0,439.6 661.2,436.6 662.4,434.4 663.6,433.3 664.8,429.1 666.0,425.4 667.2,422.0 668.4,419.4 669.6,416.4 670.8,415.1 672.0,412.7 673.2,411.7 674.4,408.8 675.6,406.8 676.8,406.0 678.0,405.1 679.2,403.9 680.4,402.3 681.6,400.4 682.8,401.6 684.0,401.1 685.2,400.0 686.4,400.1 687.6,399.5 688.8,399.2 690.0,399.5 691.2,399.1 692.4,397.9 693.6,399.6 694.8,398.2 696.0,396.6 697.2,396.1 698.4,395.0 699.6,394.0 700.8,393.5 702.0,392.6 703.2,392.6 704.4,390.7 705.6,389.6 706.8,387.5 708.0,388.1 709.2,387.8 710.4,386.7 711.6,386.3 712.8,386.1 714.0,385.5 715.2,385.2 716.4,385.9 717.6,384.5 718.8,385.4 720.0,385.5 721.2,384.0 722.4,385.5 723.6,384.5 724.8,386.4 726.0,385.6 727.2,386.1 728.4,385.3 729.6,386.5 730.8,386.7 732.0,385.5 733.2,386.4 734.4,386.9 735.6,386.8 736.8,387.8 738.0,387.9 739.2,388.2 740.4,387.9 741.6,388.4 742.8,388.2 744.0,389.7 745.2,389.3 746.4,390.6 747.6,390.8 748.8,390.9 750.0,391.7 751.2,391.0 752.4,392.6 753.6,390.3 754.8,390.2 756.0,391.9 757.2,392.2 758.4,392.6 759.6,391.2 760.8,391.3 762.0,391.4 763.2,391.6 764.4,390.3 765.6,390.2 766.8,389.5 768.0,389.3 769.2,390.1 770.4,389.4 771.6,390.3 772.8,390.2 774.0,389.7 775.2,389.3 776.4,390.1 777.6,390.0 778.8,392.5 780.0,391.5 781.2,392.5 782.4,392.4 783.6,392.1 784.8,390.3 786.0,390.9 787.2,391.1 788.4,390.8 789.6,391.6 790.8,391.5 792.0,390.5 793.2,392.5 794.4,390.7 795.6,392.3 796.8,392.3 798.0,392.3 799.2,391.7 800.4,392.1 801.6,390.2 802.8,391.3 804.0,390.4 805.2,389.0 806.4,388.6 807.6,389.7 808.8,387.2 810.0,385.8 811.2,386.2 812.4,384.2 813.6,383.6 814.8,384.4 816.0,384.8 817.2,384.7 818.4,386.3 819.6,387.5 820.8,386.7 822.0,387.1 823.2,387.5 824.4,387.9 825.6,387.8 826.8,387.2 828.0,387.6 829.2,386.3 830.4,386.6 831.6,388.1 832.8,386.3 834.0,387.4 835.2,386.1 836.4,386.6 837.6,386.1 838.8,386.1 840.0,383.2 841.2,383.6 842.4,382.0 843.6,382.9 844.8,382.2 846.0,383.3 847.2,382.0 848.4,382.4 849.6,382.4 850.8,379.9 852.0,380.8 853.2,379.7 854.4,380.6 855.6,380.4 856.8,379.1 858.0,378.5 859.2,378.2 860.4,379.1 861.6,380.0 862.8,378.9 864.0,379.7 865.2,379.5 866.4,378.9 867.6,377.0 868.8,377.4 870.0,377.5 871.2,378.2 872.4,378.9 873.6,379.4 874.8,379.9 876.0,379.0 877.2,379.5 878.4,379.6 879.6,379.6 880.8,380.1 882.0,379.3 883.2,379.8 884.4,379.9 885.6,381.5 886.8,382.1 888.0,382.6 889.2,382.1 890.4,381.6 891.6,382.3 892.8,381.4 894.0,381.7 895.2,381.0 896.4,380.4 897.6,382.1 898.8,381.8 900.0,381.6 901.2,380.3 902.4,379.7 903.6,381.0 904.8,381.2 906.0,381.2 907.2,380.4 908.4,379.7 909.6,381.2 910.8,380.1 912.0,381.8 913.2,381.6 914.4,379.9 915.6,382.1 916.8,380.6 918.0,380.1 919.2,380.1 920.4,380.6 921.6,380.1 922.8,379.2 924.0,380.4 925.2,380.1 926.4,380.9 927.6,380.4 928.8,383.3 930.0,381.7 931.2,381.3 932.4,381.6 933.6,380.6 934.8,380.6 936.0,379.7 937.2,379.6 938.4,379.7 939.6,378.0 940.8,377.1 942.0,377.7 943.2,378.3 944.4,376.7 945.6,378.1 946.8,377.8 948.0,376.3 949.2,376.8 950.4,376.4 951.6,376.9 952.8,377.5 954.0,378.0 955.2,378.8 956.4,379.6 957.6,379.9 958.8,382.0 960.0,380.1 961.2,379.5 962.4,379.2 963.6,379.2 964.8,379.0 966.0,380.5 967.2,381.7 968.4,381.5 969.6,381.8 970.8,382.2 972.0,382.2 973.2,383.0 974.4,381.3 975.6,383.4 976.8,382.7 978.0,382.4 979.2,382.6 980.4,382.1 981.6,382.3 982.8,381.6 984.0,382.6 985.2,382.4 986.4,381.9 987.6,382.4 988.8,383.6 990.0,383.9 991.2,382.5 992.4,384.0 993.6,384.3 994.8,386.0 996.0,385.6 997.2,384.4 998.4,383.8 999.6,384.3 1000.8,383.5 1002.0,383.9 1003.2,383.4 1004.4,382.4 1005.6,383.1 1006.8,383.0 1008.0,382.7 1009.2,382.4" fill="none" stroke="#7a7a7a" stroke-opacity="0.3" stroke-width="0.7"/><polyline points="608.4,570.1 609.6,571.3 610.8,570.8 612.0,540.7 613.2,521.7 614.4,519.9 615.6,511.8 616.8,501.3 618.0,503.2 619.2,497.0 620.4,495.6 621.6,496.6 622.8,493.7 624.0,495.4 625.2,494.6 626.4,495.2 627.6,496.3 628.8,492.1 630.0,492.1 631.2,490.2 632.4,489.3 633.6,487.1 634.8,485.2 636.0,483.2 637.2,483.2 638.4,483.0 639.6,482.1 640.8,482.9 642.0,482.4 643.2,480.8 644.4,481.8 645.6,475.1 646.8,469.3 648.0,467.8 649.2,465.5 650.4,463.9 651.6,462.7 652.8,461.3 654.0,458.1 655.2,452.1 656.4,449.5 657.6,444.2 658.8,439.9 660.0,440.9 661.2,436.3 662.4,434.4 663.6,430.8 664.8,427.5 666.0,426.4 667.2,424.3 668.4,424.3 669.6,424.3 670.8,425.3 672.0,423.3 673.2,419.2 674.4,418.7 675.6,415.5 676.8,413.0 678.0,410.2 679.2,408.1 680.4,407.6 681.6,406.7 682.8,405.0 684.0,404.6 685.2,404.9 686.4,402.5 687.6,404.2 688.8,401.4 690.0,401.1 691.2,404.1 692.4,400.0 693.6,399.2 694.8,400.2 696.0,397.2 697.2,399.8 698.4,400.7 699.6,398.3 700.8,395.8 702.0,394.8 703.2,391.9 704.4,393.3 705.6,393.6 706.8,395.6 708.0,394.4 709.2,393.7 710.4,395.3 711.6,393.1 712.8,391.6 714.0,388.2 715.2,388.3 716.4,386.1 717.6,387.1 718.8,387.6 720.0,389.1 721.2,389.3 722.4,390.9 723.6,388.6 724.8,392.4 726.0,391.6 727.2,390.4 728.4,391.0 729.6,389.8 730.8,389.3 732.0,389.5 733.2,390.4 734.4,390.7 735.6,392.5 736.8,391.7 738.0,390.7 739.2,393.1 740.4,393.6 741.6,392.8 742.8,392.8 744.0,395.3 745.2,395.2 746.4,393.1 747.6,393.3 748.8,394.5 750.0,393.3 751.2,394.3 752.4,392.2 753.6,392.4 754.8,391.3 756.0,389.9 757.2,390.1 758.4,390.6 759.6,390.1 760.8,388.9 762.0,388.8 763.2,388.6 764.4,388.5 765.6,389.8 766.8,391.4 768.0,388.4 769.2,387.7 770.4,387.9 771.6,392.2 772.8,392.0 774.0,392.9 775.2,392.1 776.4,392.4 777.6,392.0 778.8,391.8 780.0,389.7 781.2,392.2 782.4,394.2 783.6,394.7 784.8,393.7 786.0,394.0 787.2,395.2 788.4,395.4 789.6,394.0 790.8,394.2 792.0,395.9 793.2,393.8 794.4,394.0 795.6,394.5 796.8,394.0 798.0,394.0 799.2,396.3 800.4,396.7 801.6,396.4 802.8,396.0 804.0,394.9 805.2,392.4 806.4,390.1 807.6,391.0 808.8,389.7 810.0,388.6 811.2,388.9 812.4,388.9 813.6,388.8 814.8,387.5 816.0,388.9 817.2,385.9 818.4,388.9 819.6,389.1 820.8,390.7 822.0,390.9 823.2,390.0 824.4,389.8 825.6,390.1 826.8,389.3 828.0,389.4 829.2,389.0 830.4,389.4 831.6,390.1 832.8,388.9 834.0,387.0 835.2,387.9 836.4,390.3 837.6,388.0 838.8,387.2 840.0,387.3 841.2,388.7 842.4,386.0 843.6,385.5 844.8,384.3 846.0,385.0 847.2,387.3 848.4,386.5 849.6,387.3 850.8,387.4 852.0,389.3 853.2,388.6 854.4,387.9 855.6,387.1 856.8,383.7 858.0,385.4 859.2,386.0 860.4,385.8 861.6,385.6 862.8,386.2 864.0,384.3 865.2,384.0 866.4,381.7 867.6,381.3 868.8,382.1 870.0,382.1 871.2,381.4 872.4,383.0 873.6,382.0 874.8,382.8 876.0,383.9 877.2,385.4 878.4,383.6 879.6,383.9 880.8,383.1 882.0,383.4 883.2,380.8 884.4,381.4 885.6,379.7 886.8,381.2 888.0,382.2 889.2,382.3 890.4,380.4 891.6,380.6 892.8,381.2 894.0,383.0 895.2,381.8 896.4,383.0 897.6,384.9 898.8,384.2 900.0,383.5 901.2,383.9 902.4,384.2 903.6,385.5 904.8,384.6 906.0,387.7 907.2,387.0 908.4,384.4 909.6,383.9 910.8,383.8 912.0,384.0 913.2,383.1 914.4,383.0 915.6,380.1 916.8,383.7 918.0,383.6 919.2,382.5 920.4,382.3 921.6,382.4 922.8,381.9 924.0,383.1 925.2,384.0 926.4,383.1 927.6,383.6 928.8,383.8 930.0,382.3 931.2,382.6 932.4,382.9 933.6,381.0 934.8,381.1 936.0,382.0 937.2,383.5 938.4,385.4 939.6,384.3 940.8,383.7 942.0,382.7 943.2,382.8 944.4,385.0 945.6,383.4 946.8,382.8 948.0,382.3 949.2,380.8 950.4,382.6 951.6,381.9 952.8,381.9 954.0,382.7 955.2,381.5 956.4,383.7 957.6,381.0 958.8,382.3 960.0,382.1 961.2,382.8 962.4,383.4 963.6,383.7 964.8,384.0 966.0,384.9 967.2,387.1 968.4,388.5 969.6,386.1 970.8,385.8 972.0,385.3 973.2,385.2 974.4,384.9 975.6,383.7 976.8,383.9 978.0,384.1 979.2,384.4 980.4,383.2 981.6,380.5 982.8,381.3 984.0,383.2 985.2,383.0 986.4,382.9 987.6,382.3 988.8,381.9 990.0,383.1 991.2,382.2 992.4,382.6 993.6,383.0 994.8,382.5 996.0,383.1 997.2,381.7 998.4,382.9 999.6,380.8 1000.8,379.7 1002.0,379.4 1003.2,378.8 1004.4,377.0 1005.6,377.2 1006.8,376.8 1008.0,376.9 1009.2,375.8" fill="none" stroke="#7a7a7a" stroke-opacity="0.3" stroke-width="0.7"/><polyline points="608.4,570.3 609.6,571.3 610.8,569.5 612.0,545.4 613.2,531.2 614.4,529.1 615.6,518.8 616.8,514.2 618.0,512.3 619.2,504.5 620.4,503.9 621.6,503.2 622.8,502.4 624.0,501.4 625.2,499.1 626.4,497.7 627.6,497.9 628.8,496.6 630.0,494.0 631.2,492.0 632.4,492.7 633.6,490.6 634.8,490.8 636.0,490.0 637.2,488.7 638.4,486.4 639.6,485.0 640.8,483.9 642.0,485.6 643.2,484.3 644.4,483.6 645.6,476.9 646.8,472.3 648.0,470.0 649.2,468.5 650.4,469.3 651.6,468.1 652.8,466.2 654.0,462.9 655.2,457.5 656.4,454.4 657.6,452.2 658.8,450.0 660.0,448.7 661.2,444.5 662.4,442.7 663.6,439.3 664.8,436.8 666.0,435.3 667.2,433.1 668.4,430.5 669.6,427.2 670.8,425.2 672.0,421.8 673.2,421.0 674.4,418.3 675.6,416.7 676.8,415.9 678.0,414.6 679.2,413.3 680.4,410.8 681.6,410.1 682.8,409.6 684.0,408.9 685.2,407.9 686.4,407.5 687.6,408.0 688.8,407.0 690.0,406.8 691.2,405.5 692.4,405.6 693.6,405.5 694.8,404.6 696.0,403.7 697.2,404.5 698.4,402.5 699.6,401.9 700.8,400.6 702.0,400.2 703.2,399.8 704.4,398.1 705.6,398.9 706.8,398.5 708.0,398.1 709.2,397.0 710.4,399.2 711.6,396.9 712.8,397.6 714.0,394.9 715.2,395.4 716.4,394.0 717.6,392.9 718.8,392.9 720.0,392.2 721.2,391.1 722.4,392.6 723.6,393.4 724.8,392.9 726.0,394.2 727.2,393.3 728.4,393.4 729.6,392.0 730.8,393.6 732.0,393.4 733.2,392.8 734.4,394.3 735.6,393.7 736.8,395.4 738.0,395.5 739.2,396.0 740.4,396.1 741.6,396.1 742.8,396.3 744.0,396.0 745.2,397.1 746.4,395.0 747.6,395.9 748.8,396.7 750.0,396.2 751.2,396.4 752.4,398.1 753.6,397.0 754.8,398.5 756.0,398.2 757.2,398.8 758.4,397.6 759.6,398.4 760.8,396.9 762.0,397.5 763.2,396.2 764.4,396.3 765.6,396.4 766.8,396.5 768.0,397.0 769.2,397.9 770.4,397.0 771.6,397.6 772.8,398.2 774.0,397.4 775.2,398.0 776.4,397.3 777.6,396.8 778.8,396.3 780.0,397.3 781.2,398.1 782.4,398.6 783.6,398.0 784.8,398.3 786.0,398.1 787.2,398.7 788.4,398.3 789.6,397.6 790.8,398.2 792.0,397.0 793.2,397.3 794.4,396.8 795.6,398.1 796.8,396.6 798.0,396.8 799.2,398.2 800.4,397.6 801.6,397.5 802.8,397.9 804.0,397.2 805.2,397.3 806.4,396.2 807.6,396.2 808.8,393.6 810.0,393.7 811.2,392.9 812.4,392.9 813.6,392.8 814.8,392.5 816.0,392.5 817.2,393.6 818.4,393.2 819.6,394.9 820.8,393.7 822.0,392.7 823.2,392.3 824.4,392.2 825.6,393.2 826.8,392.6 828.0,392.9 829.2,391.7 830.4,392.2 831.6,392.4 832.8,393.5 834.0,393.0 835.2,393.4 836.4,395.8 837.6,394.1 838.8,393.6 840.0,394.7 841.2,394.1 842.4,393.5 843.6,393.7 844.8,395.6 846.0,395.6 847.2,395.0 848.4,393.7 849.6,393.6 850.8,392.6 852.0,391.4 853.2,391.5 854.4,391.8 855.6,391.8 856.8,389.9 858.0,392.2 859.2,392.6 860.4,392.2 861.6,390.8 862.8,389.7 864.0,389.1 865.2,388.5 866.4,387.5 867.6,386.6 868.8,386.9 870.0,385.6 871.2,386.6 872.4,386.1 873.6,386.6 874.8,388.9 876.0,387.6 877.2,386.5 878.4,385.2 879.6,385.1 880.8,385.9 882.0,386.8 883.2,387.2 884.4,389.5 885.6,388.8 886.8,391.1 888.0,389.7 889.2,391.2 890.4,388.2 891.6,390.1 892.8,390.8 894.0,390.5 895.2,390.3 896.4,389.7 897.6,390.3 898.8,391.3 900.0,389.9 901.2,388.5 902.4,388.9 903.6,388.6 904.8,388.0 906.0,387.8 907.2,387.2 908.4,389.0 909.6,387.9 910.8,388.3 912.0,388.3 913.2,387.9 914.4,388.5 915.6,386.9 916.8,387.9 918.0,387.6 919.2,388.3 920.4,388.3 921.6,386.8 922.8,386.6 924.0,387.9 925.2,385.9 926.4,386.6 927.6,386.6 928.8,387.8 930.0,386.2 931.2,386.5 932.4,386.7 933.6,386.5 934.8,385.9 936.0,386.7 937.2,387.0 938.4,387.0 939.6,386.5 940.8,387.0 942.0,387.2 943.2,388.4 944.4,387.3 945.6,387.1 946.8,388.0 948.0,387.7 949.2,386.5 950.4,385.9 951.6,386.9 952.8,386.9 954.0,387.4 955.2,385.9 956.4,386.2 957.6,386.0 958.8,386.2 960.0,386.5 961.2,386.0 962.4,386.3 963.6,385.8 964.8,386.4 966.0,387.9 967.2,388.5 968.4,389.3 969.6,388.6 970.8,388.3 972.0,388.5 973.2,390.1 974.4,388.1 975.6,390.3 976.8,389.8 978.0,388.9 979.2,389.5 980.4,388.9 981.6,389.0 982.8,389.3 984.0,387.2 985.2,387.8 986.4,388.5 987.6,387.6 988.8,389.6 990.0,388.9 991.2,388.0 992.4,391.2 993.6,391.4 994.8,391.8 996.0,390.4 997.2,390.4 998.4,390.2 999.6,391.2 1000.8,390.2 1002.0,389.2 1003.2,389.2 1004.4,390.1 1005.6,389.8 1006.8,387.3 1008.0,388.6 1009.2,387.5" fill="none" stroke="#7a7a7a" stroke-opacity="0.3" stroke-width="0.7"/><polyline points="608.4,569.9 609.6,571.6 610.8,571.2 612.0,551.2 613.2,536.5 614.4,533.9 615.6,522.4 616.8,516.7 618.0,515.0 619.2,507.6 620.4,505.9 621.6,503.9 622.8,505.2 624.0,503.4 625.2,503.0 626.4,502.5 627.6,498.7 628.8,497.9 630.0,497.2 631.2,497.6 632.4,496.9 633.6,495.1 634.8,493.6 636.0,493.5 637.2,491.5 638.4,491.6 639.6,490.1 640.8,490.6 642.0,489.3 643.2,489.3 644.4,486.8 645.6,482.6 646.8,476.7 648.0,475.2 649.2,473.0 650.4,472.7 651.6,471.8 652.8,468.9 654.0,466.2 655.2,463.2 656.4,459.2 657.6,454.8 658.8,452.4 660.0,451.2 661.2,449.5 662.4,447.3 663.6,443.3 664.8,440.5 666.0,440.1 667.2,437.1 668.4,435.8 669.6,432.1 670.8,428.8 672.0,429.2 673.2,428.2 674.4,424.8 675.6,423.3 676.8,423.3 678.0,421.7 679.2,421.0 680.4,419.2 681.6,416.3 682.8,415.2 684.0,412.0 685.2,412.0 686.4,411.5 687.6,412.0 688.8,411.3 690.0,409.4 691.2,409.3 692.4,408.5 693.6,408.5 694.8,408.3 696.0,408.1 697.2,408.8 698.4,407.6 699.6,407.9 700.8,405.8 702.0,405.3 703.2,404.4 704.4,404.0 705.6,402.2 706.8,400.4 708.0,400.9 709.2,399.3 710.4,400.0 711.6,398.3 712.8,399.0 714.0,398.0 715.2,398.3 716.4,396.8 717.6,395.5 718.8,396.1 720.0,396.3 721.2,396.1 722.4,397.4 723.6,397.8 724.8,397.2 726.0,397.5 727.2,394.8 728.4,396.4 729.6,397.9 730.8,398.4 732.0,398.4 733.2,397.7 734.4,398.1 735.6,398.5 736.8,398.5 738.0,398.6 739.2,398.5 740.4,398.9 741.6,398.7 742.8,399.7 744.0,400.4 745.2,400.2 746.4,400.7 747.6,399.7 748.8,398.7 750.0,400.3 751.2,401.2 752.4,402.0 753.6,401.6 754.8,402.5 756.0,403.1 757.2,401.9 758.4,401.0 759.6,400.1 760.8,400.7 762.0,400.4 763.2,400.8 764.4,398.9 765.6,399.5 766.8,401.4 768.0,401.9 769.2,401.5 770.4,401.4 771.6,401.2 772.8,401.9 774.0,402.0 775.2,402.4 776.4,402.8 777.6,402.3 778.8,402.5 780.0,401.5 781.2,400.7 782.4,401.3 783.6,400.4 784.8,400.5 786.0,400.2 787.2,400.3 788.4,400.9 789.6,402.2 790.8,400.8 792.0,400.6 793.2,400.6 794.4,401.2 795.6,400.7 796.8,400.2 798.0,401.4 799.2,402.0 800.4,401.8 801.6,402.4 802.8,401.9 804.0,401.3 805.2,399.8 806.4,399.7 807.6,399.4 808.8,398.8 810.0,397.8 811.2,396.5 812.4,397.4 813.6,395.7 814.8,396.2 816.0,395.1 817.2,394.7 818.4,394.9 819.6,395.2 820.8,395.1 822.0,395.0 823.2,395.6 824.4,395.9 825.6,396.1 826.8,394.1 828.0,394.4 829.2,392.3 830.4,395.8 831.6,395.3 832.8,396.9 834.0,397.1 835.2,397.3 836.4,398.1 837.6,398.9 838.8,399.7 840.0,397.7 841.2,400.3 842.4,399.3 843.6,398.6 844.8,400.3 846.0,401.0 847.2,399.2 848.4,401.9 849.6,402.1 850.8,399.7 852.0,399.6 853.2,397.7 854.4,395.9 855.6,397.5 856.8,395.7 858.0,395.4 859.2,393.1 860.4,394.4 861.6,395.5 862.8,393.1 864.0,392.8 865.2,391.9 866.4,392.1 867.6,390.5 868.8,392.0 870.0,391.7 871.2,390.5 872.4,392.1 873.6,390.7 874.8,391.3 876.0,391.4 877.2,389.7 878.4,391.1 879.6,390.7 880.8,392.4 882.0,392.2 883.2,390.8 884.4,392.7 885.6,393.9 886.8,393.9 888.0,394.0 889.2,393.3 890.4,393.7 891.6,393.5 892.8,392.5 894.0,394.0 895.2,393.7 896.4,393.5 897.6,393.8 898.8,392.8 900.0,391.8 901.2,392.0 902.4,392.1 903.6,390.9 904.8,391.3 906.0,392.6 907.2,392.0 908.4,391.5 909.6,392.8 910.8,392.5 912.0,392.4 913.2,392.0 914.4,393.5 915.6,390.9 916.8,391.5 918.0,390.7 919.2,391.1 920.4,390.2 921.6,389.4 922.8,389.9 924.0,389.9 925.2,391.7 926.4,393.8 927.6,393.6 928.8,391.8 930.0,392.9 931.2,393.7 932.4,393.3 933.6,393.4 934.8,394.5 936.0,391.6 937.2,392.8 938.4,390.4 939.6,390.0 940.8,391.0 942.0,390.2 943.2,388.8 944.4,391.5 945.6,390.2 946.8,390.9 948.0,392.5 949.2,393.3 950.4,393.4 951.6,392.1 952.8,391.4 954.0,391.4 955.2,392.0 956.4,391.6 957.6,391.1 958.8,389.9 960.0,388.8 961.2,389.6 962.4,388.1 963.6,389.3 964.8,389.9 966.0,392.3 967.2,391.6 968.4,391.7 969.6,392.4 970.8,391.3 972.0,393.4 973.2,394.1 974.4,393.0 975.6,391.7 976.8,393.3 978.0,393.1 979.2,392.9 980.4,394.0 981.6,394.1 982.8,394.1 984.0,391.4 985.2,390.4 986.4,391.6 987.6,391.3 988.8,390.1 990.0,390.7 991.2,389.6 992.4,388.6 993.6,388.6 994.8,388.2 996.0,386.9 997.2,387.3 998.4,385.8 999.6,385.0 1000.8,385.0 1002.0,385.0 1003.2,384.7 1004.4,382.2 1005.6,383.0 1006.8,380.7 1008.0,380.7 1009.2,380.2" fill="none" stroke="#7a7a7a" stroke-opacity="0.3" stroke-width="0.7"/><polyline points="608.4,570.8 609.6,570.9 610.8,571.2 612.0,553.7 613.2,541.6 614.4,537.3 615.6,525.3 616.8,517.9 618.0,516.4 619.2,510.3 620.4,510.0 621.6,510.3 622.8,507.9 624.0,505.5 625.2,505.1 626.4,506.2 627.6,505.0 628.8,506.1 630.0,504.8 631.2,503.0 632.4,503.7 633.6,499.8 634.8,501.9 636.0,499.6 637.2,497.5 638.4,496.1 639.6,496.5 640.8,493.3 642.0,492.5 643.2,489.6 644.4,488.6 645.6,482.4 646.8,477.4 648.0,473.5 649.2,473.0 650.4,471.8 651.6,471.6 652.8,469.4 654.0,466.2 655.2,464.8 656.4,460.2 657.6,458.9 658.8,456.4 660.0,454.9 661.2,452.1 662.4,452.7 663.6,452.7 664.8,449.4 666.0,447.2 667.2,444.6 668.4,439.7 669.6,437.1 670.8,432.8 672.0,430.8 673.2,429.2 674.4,430.9 675.6,428.5 676.8,427.2 678.0,425.3 679.2,423.8 680.4,419.6 681.6,421.5 682.8,418.8 684.0,415.1 685.2,415.2 686.4,415.2 687.6,413.9 688.8,412.5 690.0,414.0 691.2,413.0 692.4,413.0 693.6,412.7 694.8,414.1 696.0,411.7 697.2,410.3 698.4,409.0 699.6,409.0 700.8,407.3 702.0,407.6 703.2,408.5 704.4,408.3 705.6,406.9 706.8,408.5 708.0,406.4 709.2,406.4 710.4,406.6 711.6,407.6 712.8,405.5 714.0,403.0 715.2,403.1 716.4,402.4 717.6,401.6 718.8,401.7 720.0,402.4 721.2,401.3 722.4,401.8 723.6,401.8 724.8,401.6 726.0,403.0 727.2,404.6 728.4,404.1 729.6,403.9 730.8,402.4 732.0,402.2 733.2,401.2 734.4,402.5 735.6,402.4 736.8,404.2 738.0,402.6 739.2,403.4 740.4,402.4 741.6,401.9 742.8,401.7 744.0,400.2 745.2,401.3 746.4,402.7 747.6,400.9 748.8,401.5 750.0,401.4 751.2,401.4 752.4,402.5 753.6,403.1 754.8,404.0 756.0,404.2 757.2,405.9 758.4,406.4 759.6,405.0 760.8,405.6 762.0,405.6 763.2,406.5 764.4,407.2 765.6,405.9 766.8,404.5 768.0,404.7 769.2,404.6 770.4,405.5 771.6,407.0 772.8,404.8 774.0,406.9 775.2,403.8 776.4,405.0 777.6,406.0 778.8,405.6 780.0,407.2 781.2,406.1 782.4,406.0 783.6,404.1 784.8,405.4 786.0,404.8 787.2,401.9 788.4,404.6 789.6,405.8 790.8,405.5 792.0,404.4 793.2,402.1 794.4,403.3 795.6,403.4 796.8,403.6 798.0,404.4 799.2,403.1 800.4,403.9 801.6,405.2 802.8,406.8 804.0,407.5 805.2,405.8 806.4,403.6 807.6,403.6 808.8,401.7 810.0,401.1 811.2,400.1 812.4,398.9 813.6,397.6 814.8,397.1 816.0,397.4 817.2,398.0 818.4,398.1 819.6,398.5 820.8,397.2 822.0,397.0 823.2,399.8 824.4,398.5 825.6,399.0 826.8,400.0 828.0,398.4 829.2,397.9 830.4,399.5 831.6,400.6 832.8,400.5 834.0,400.9 835.2,401.0 836.4,404.7 837.6,403.9 838.8,402.6 840.0,402.8 841.2,402.4 842.4,405.7 843.6,407.4 844.8,408.6 846.0,407.8 847.2,407.1 848.4,406.5 849.6,403.5 850.8,402.6 852.0,400.1 853.2,399.1 854.4,400.6 855.6,398.6 856.8,396.3 858.0,396.8 859.2,396.8 860.4,397.4 861.6,394.9 862.8,395.9 864.0,394.5 865.2,393.4 866.4,393.9 867.6,390.7 868.8,391.4 870.0,391.9 871.2,391.0 872.4,391.7 873.6,395.7 874.8,395.9 876.0,396.1 877.2,395.8 878.4,396.6 879.6,396.5 880.8,396.7 882.0,398.2 883.2,401.3 884.4,401.4 885.6,401.9 886.8,402.5 888.0,402.2 889.2,402.2 890.4,400.0 891.6,398.5 892.8,398.5 894.0,398.2 895.2,396.7 896.4,396.5 897.6,395.6 898.8,396.2 900.0,395.4 901.2,394.7 902.4,395.7 903.6,397.0 904.8,393.3 906.0,395.5 907.2,394.9 908.4,395.3 909.6,396.2 910.8,398.0 912.0,397.7 913.2,399.6 914.4,399.9 915.6,398.8 916.8,398.0 918.0,396.9 919.2,395.6 920.4,394.9 921.6,395.2 922.8,396.0 924.0,393.3 925.2,392.7 926.4,393.8 927.6,392.7 928.8,391.6 930.0,392.2 931.2,392.4 932.4,393.4 933.6,393.7 934.8,393.0 936.0,394.0 937.2,395.8 938.4,393.0 939.6,393.7 940.8,394.3 942.0,391.9 943.2,391.2 944.4,391.5 945.6,395.1 946.8,393.5 948.0,393.4 949.2,395.5 950.4,395.4 951.6,395.7 952.8,396.7 954.0,398.3 955.2,396.5 956.4,397.3 957.6,397.4 958.8,398.1 960.0,398.7 961.2,397.5 962.4,398.5 963.6,398.1 964.8,399.1 966.0,398.5 967.2,396.9 968.4,396.5 969.6,394.7 970.8,396.5 972.0,397.7 973.2,398.2 974.4,397.9 975.6,398.3 976.8,396.2 978.0,396.4 979.2,396.0 980.4,395.9 981.6,395.1 982.8,397.0 984.0,397.7 985.2,396.3 986.4,394.1 987.6,394.2 988.8,395.1 990.0,393.8 991.2,392.5 992.4,394.2 993.6,393.3 994.8,392.2 996.0,392.4 997.2,391.9 998.4,393.3 999.6,394.1 1000.8,393.2 1002.0,392.5 1003.2,392.3 1004.4,390.5 1005.6,389.8 1006.8,390.0 1008.0,390.3 1009.2,389.4" fill="none" stroke="#7a7a7a" stroke-opacity="0.3" stroke-width="0.7"/><polyline points="608.4,572.4 609.6,571.3 610.8,572.4 612.0,558.7 613.2,547.0 614.4,545.8 615.6,532.8 616.8,525.0 618.0,524.2 619.2,516.3 620.4,514.0 621.6,511.7 622.8,512.1 624.0,512.5 625.2,510.1 626.4,509.3 627.6,507.0 628.8,504.8 630.0,503.8 631.2,503.3 632.4,501.0 633.6,499.1 634.8,498.9 636.0,498.1 637.2,498.5 638.4,497.4 639.6,495.7 640.8,493.1 642.0,492.2 643.2,491.4 644.4,490.4 645.6,487.5 646.8,485.0 648.0,480.9 649.2,478.4 650.4,477.4 651.6,477.5 652.8,473.2 654.0,472.3 655.2,468.1 656.4,465.1 657.6,462.5 658.8,460.8 660.0,459.2 661.2,455.5 662.4,454.1 663.6,452.8 664.8,449.0 666.0,447.2 667.2,446.6 668.4,442.0 669.6,438.4 670.8,436.9 672.0,435.4 673.2,433.6 674.4,432.6 675.6,432.1 676.8,428.5 678.0,426.5 679.2,427.0 680.4,423.1 681.6,421.2 682.8,420.4 684.0,420.1 685.2,418.6 686.4,419.4 687.6,419.8 688.8,419.6 690.0,416.7 691.2,417.2 692.4,417.7 693.6,415.6 694.8,415.3 696.0,413.5 697.2,412.3 698.4,413.9 699.6,410.2 700.8,410.9 702.0,412.0 703.2,409.2 704.4,410.8 705.6,410.7 706.8,410.1 708.0,407.6 709.2,407.0 710.4,404.3 711.6,406.4 712.8,406.8 714.0,405.8 715.2,405.1 716.4,406.6 717.6,404.7 718.8,404.1 720.0,404.3 721.2,405.0 722.4,405.2 723.6,403.8 724.8,402.9 726.0,404.2 727.2,406.0 728.4,404.1 729.6,405.0 730.8,405.3 732.0,407.5 733.2,405.6 734.4,405.7 735.6,405.0 736.8,405.5 738.0,405.7 739.2,407.0 740.4,405.9 741.6,407.0 742.8,404.6 744.0,405.1 745.2,405.8 746.4,404.0 747.6,405.1 748.8,404.0 750.0,406.0 751.2,406.3 752.4,405.7 753.6,406.4 754.8,408.4 756.0,407.5 757.2,408.2 758.4,407.1 759.6,405.4 760.8,406.8 762.0,408.7 763.2,407.3 764.4,407.0 765.6,406.7 766.8,406.0 768.0,405.0 769.2,406.1 770.4,406.8 771.6,405.2 772.8,406.5 774.0,407.5 775.2,407.0 776.4,407.2 777.6,407.9 778.8,408.5 780.0,408.4 781.2,407.7 782.4,408.3 783.6,408.3 784.8,408.4 786.0,408.9 787.2,409.2 788.4,408.8 789.6,408.4 790.8,408.2 792.0,406.3 793.2,407.2 794.4,405.9 795.6,405.5 796.8,405.0 798.0,405.4 799.2,406.9 800.4,405.2 801.6,406.6 802.8,406.9 804.0,404.4 805.2,403.5 806.4,404.4 807.6,405.2 808.8,405.1 810.0,402.7 811.2,402.8 812.4,401.2 813.6,401.3 814.8,400.0 816.0,400.4 817.2,401.6 818.4,401.5 819.6,401.9 820.8,401.0 822.0,401.0 823.2,401.3 824.4,400.8 825.6,400.8 826.8,400.3 828.0,401.7 829.2,400.3 830.4,401.8 831.6,402.0 832.8,403.5 834.0,405.9 835.2,404.3 836.4,404.7 837.6,405.5 838.8,403.7 840.0,404.5 841.2,403.9 842.4,404.8 843.6,405.6 844.8,406.7 846.0,406.1 847.2,404.2 848.4,406.2 849.6,406.4 850.8,406.7 852.0,406.4 853.2,404.3 854.4,403.4 855.6,404.9 856.8,405.9 858.0,405.1 859.2,403.6 860.4,405.0 861.6,405.1 862.8,406.1 864.0,406.8 865.2,404.0 866.4,403.7 867.6,404.2 868.8,404.1 870.0,403.7 871.2,403.6 872.4,403.8 873.6,403.6 874.8,401.9 876.0,401.5 877.2,399.6 878.4,399.7 879.6,399.0 880.8,397.3 882.0,397.3 883.2,398.5 884.4,398.4 885.6,398.7 886.8,397.5 888.0,397.7 889.2,398.5 890.4,399.2 891.6,399.0 892.8,398.0 894.0,398.6 895.2,399.9 896.4,398.6 897.6,398.3 898.8,396.4 900.0,396.5 901.2,396.6 902.4,398.5 903.6,399.1 904.8,397.7 906.0,399.5 907.2,399.7 908.4,400.0 909.6,399.2 910.8,399.9 912.0,399.6 913.2,399.1 914.4,398.4 915.6,399.0 916.8,399.6 918.0,399.0 919.2,400.0 920.4,397.4 921.6,398.0 922.8,396.6 924.0,398.2 925.2,396.4 926.4,397.0 927.6,397.2 928.8,398.8 930.0,397.9 931.2,398.2 932.4,396.5 933.6,395.9 934.8,395.1 936.0,397.0 937.2,396.7 938.4,396.4 939.6,396.7 940.8,396.4 942.0,398.1 943.2,398.8 944.4,398.8 945.6,398.7 946.8,397.3 948.0,397.5 949.2,399.3 950.4,399.5 951.6,397.1 952.8,398.7 954.0,397.9 955.2,395.6 956.4,396.2 957.6,397.5 958.8,397.4 960.0,395.4 961.2,396.2 962.4,396.9 963.6,397.3 964.8,397.6 966.0,399.3 967.2,398.9 968.4,397.7 969.6,398.4 970.8,398.0 972.0,400.2 973.2,401.1 974.4,399.9 975.6,399.1 976.8,398.9 978.0,398.0 979.2,398.0 980.4,396.9 981.6,397.4 982.8,395.6 984.0,396.5 985.2,396.0 986.4,395.0 987.6,394.4 988.8,394.7 990.0,394.1 991.2,393.0 992.4,393.8 993.6,394.1 994.8,393.3 996.0,393.5 997.2,392.3 998.4,390.9 999.6,390.2 1000.8,390.5 1002.0,391.1 1003.2,390.5 1004.4,389.8 1005.6,389.0 1006.8,388.3 1008.0,385.9 1009.2,384.3" fill="none" stroke="#7a7a7a" stroke-opacity="0.3" stroke-width="0.7"/><polyline points="608.4,570.7 609.9,570.4 611.4,570.3 611.5,571.1 612.4,533.8 612.9,533.3 614.2,533.2 615.9,518.4 616.3,514.9 617.4,513.9 618.1,513.8 618.9,508.1 619.3,506.0 620.4,505.3 621.9,504.2 623.4,502.8 624.1,502.3 624.9,501.4 626.4,499.2 627.9,497.9 628.9,497.4 629.4,497.1 630.9,495.8 632.4,493.9 633.8,492.2 635.4,491.2 636.9,490.3 638.4,489.7 639.8,488.6 641.4,487.1 642.9,486.6 644.4,485.5 644.6,484.7 645.9,477.9 646.4,475.6 647.4,473.6 648.8,470.8 650.4,469.7 651.9,469.2 653.4,465.0 654.9,460.8 656.4,456.5 657.9,452.8 658.8,451.1 659.4,449.3 660.9,446.2 662.4,443.7 663.9,440.4 665.4,437.1 666.9,434.2 668.4,431.3 669.9,428.1 671.4,425.2 672.0,424.1 672.9,423.1 674.4,420.9 675.9,418.9 676.4,418.6 677.4,417.3 678.9,415.6 680.4,414.2 681.9,412.4 683.1,410.9 683.4,410.9 684.9,410.5 686.4,410.1 687.9,409.1 689.4,408.4 690.9,408.1 691.9,407.5 692.4,407.2 693.9,406.7 695.4,405.9 696.9,405.5 698.4,405.1 699.9,403.6 700.8,402.5 701.4,402.4 702.9,402.1 704.4,401.1 705.9,400.6 707.4,399.8 708.9,398.8 709.6,399.0 710.4,398.5 711.9,397.7 713.4,397.2 714.9,396.8 716.4,396.3 717.9,395.7 719.4,395.2 720.7,394.5 722.4,394.5 723.9,394.3 725.4,395.0 726.9,395.1 728.4,395.3 729.5,395.7 729.9,395.3 731.4,395.5 732.9,395.9 734.4,396.0 735.9,396.4 737.4,397.2 738.9,397.0 740.4,397.1 741.9,397.4 742.8,397.6 743.4,397.6 744.9,397.4 746.4,397.5 747.9,397.7 749.4,398.0 750.9,398.2 752.4,398.4 753.9,398.6 755.4,398.4 756.0,398.3 756.9,398.8 758.4,398.9 759.9,397.8 761.4,397.7 762.9,398.2 764.4,398.1 764.9,398.0 765.9,398.0 767.4,398.0 768.9,398.1 770.4,398.5 771.9,398.5 773.4,398.4 774.9,399.0 776.4,399.4 777.9,399.1 778.2,399.3 779.4,399.6 780.9,399.2 782.4,399.2 783.9,398.9 785.4,399.1 786.9,399.5 788.4,399.4 789.9,399.2 791.4,399.4 792.9,399.9 794.4,399.5 795.9,398.6 797.4,398.8 798.9,399.1 800.4,399.0 801.9,399.0 802.5,398.9 803.4,398.5 804.9,397.6 806.4,396.7 807.9,396.2 808.0,396.0 809.4,395.2 810.9,394.5 812.4,393.6 813.9,393.4 814.6,393.4 815.4,393.7 816.9,394.4 818.4,394.5 819.9,394.7 821.3,395.3 822.9,394.9 824.4,394.7 825.9,394.3 827.4,394.1 828.9,393.8 830.1,393.6 830.4,394.2 831.9,394.1 833.4,394.4 834.9,395.2 836.4,395.7 836.7,395.5 837.9,395.0 839.4,394.9 840.9,394.6 841.2,394.5 842.4,395.0 843.9,395.4 845.4,395.4 846.9,395.6 847.8,395.7 848.4,395.7 849.9,394.7 851.4,394.1 852.9,393.5 854.4,392.3 855.9,393.2 857.4,393.2 858.9,392.7 860.4,392.6 861.1,392.6 861.9,392.6 863.4,391.7 864.9,390.8 866.4,390.3 867.7,390.0 869.4,389.8 870.9,389.7 872.4,389.7 873.9,389.7 874.3,389.6 875.4,389.4 876.9,389.2 878.4,388.8 879.9,388.6 881.0,388.2 881.4,388.6 882.9,389.7 884.4,389.9 885.9,390.1 887.4,390.9 887.6,391.1 888.9,390.8 890.4,390.8 891.9,390.9 893.4,390.8 894.9,390.9 896.4,391.1 897.9,390.7 899.4,390.5 900.9,390.3 902.4,390.1 903.9,390.0 905.3,389.8 906.9,390.0 908.4,390.3 909.9,390.4 911.4,390.4 912.9,390.6 914.1,390.6 914.4,390.4 915.9,390.0 917.4,389.7 918.9,389.3 920.4,388.6 920.8,388.6 921.9,388.9 923.4,388.7 924.9,388.8 926.4,388.9 927.9,389.0 929.4,389.1 929.6,389.1 930.9,389.1 932.4,388.6 933.9,388.4 935.4,388.3 936.9,387.7 938.4,388.1 939.9,388.3 940.7,387.6 941.4,387.6 942.9,388.0 944.4,388.0 945.9,387.9 947.4,388.1 948.9,388.9 950.4,389.3 951.7,389.5 953.4,389.0 954.9,388.3 956.4,388.6 957.9,389.3 959.4,388.8 960.9,388.3 962.4,389.1 962.8,388.9 963.9,389.1 965.4,389.6 966.9,389.9 968.4,390.3 969.9,390.5 971.4,390.7 972.9,391.0 973.8,391.6 974.4,391.5 975.9,391.4 977.4,391.5 978.9,391.2 980.4,390.4 981.9,389.6 983.4,389.6 984.9,389.6 986.4,389.5 987.9,389.2 989.4,388.8 990.9,388.5 992.4,389.1 993.9,389.3 995.4,388.8 995.9,388.9 996.9,389.0 998.4,388.3 999.9,387.5 1001.4,387.1 1002.6,386.9 1002.9,386.5 1004.4,385.2 1005.9,384.7 1007.4,384.4 1008.9,383.9 1010.3,383.6" fill="none" stroke="#0074b6" stroke-width="1.9" stroke-linejoin="round"/></g><rect x="588.6" y="360" width="441.9" height="220.79999999999995" fill="none" stroke="#4a4a4a" stroke-width="0.9"/><text x="608.80" y="591.80" font-size="7.89" text-anchor="middle" fill="#262626" font-family="Liberation Sans" font-weight="normal" textLength="11.85" lengthAdjust="spacingAndGlyphs" stroke="#262626" stroke-width="0.1">0.0</text><text x="675.67" y="591.80" font-size="7.89" text-anchor="middle" fill="#262626" font-family="Liberation Sans" font-weight="normal" textLength="11.85" lengthAdjust="spacingAndGlyphs" stroke="#262626" stroke-width="0.1">0.2</text><text x="742.54" y="591.80" font-size="7.89" text-anchor="middle" fill="#262626" font-family="Liberation Sans" font-weight="normal" textLength="11.85" lengthAdjust="spacingAndGlyphs" stroke="#262626" stroke-width="0.1">0.4</text><text x="809.41" y="591.80" font-size="7.89" text-anchor="middle" fill="#262626" font-family="Liberation Sans" font-weight="normal" textLength="11.85" lengthAdjust="spacingAndGlyphs" stroke="#262626" stroke-width="0.1">0.6</text><text x="876.28" y="591.80" font-size="7.89" text-anchor="middle" fill="#262626" font-family="Liberation Sans" font-weight="normal" textLength="11.85" lengthAdjust="spacingAndGlyphs" stroke="#262626" stroke-width="0.1">0.8</text><text x="943.15" y="591.80" font-size="7.89" text-anchor="middle" fill="#262626" font-family="Liberation Sans" font-weight="normal" textLength="11.85" lengthAdjust="spacingAndGlyphs" stroke="#262626" stroke-width="0.1">1.0</text><text x="1010.02" y="591.80" font-size="7.89" text-anchor="middle" fill="#262626" font-family="Liberation Sans" font-weight="normal" textLength="11.85" lengthAdjust="spacingAndGlyphs" stroke="#262626" stroke-width="0.1">1.2</text><text x="583.00" y="573.70" font-size="7.89" text-anchor="end" fill="#262626" font-family="Liberation Sans" font-weight="normal" textLength="4.74" lengthAdjust="spacingAndGlyphs" stroke="#262626" stroke-width="0.1">0</text><text x="583.00" y="540.80" font-size="7.89" text-anchor="end" fill="#262626" font-family="Liberation Sans" font-weight="normal" textLength="9.48" lengthAdjust="spacingAndGlyphs" stroke="#262626" stroke-width="0.1">20</text><text x="583.00" y="507.90" font-size="7.89" text-anchor="end" fill="#262626" font-family="Liberation Sans" font-weight="normal" textLength="9.48" lengthAdjust="spacingAndGlyphs" stroke="#262626" stroke-width="0.1">40</text><text x="583.00" y="475.00" font-size="7.89" text-anchor="end" fill="#262626" font-family="Liberation Sans" font-weight="normal" textLength="9.48" lengthAdjust="spacingAndGlyphs" stroke="#262626" stroke-width="0.1">60</text><text x="583.00" y="442.10" font-size="7.89" text-anchor="end" fill="#262626" font-family="Liberation Sans" font-weight="normal" textLength="9.48" lengthAdjust="spacingAndGlyphs" stroke="#262626" stroke-width="0.1">80</text><text x="583.00" y="409.20" font-size="7.89" text-anchor="end" fill="#262626" font-family="Liberation Sans" font-weight="normal" textLength="14.22" lengthAdjust="spacingAndGlyphs" stroke="#262626" stroke-width="0.1">100</text><text x="583.00" y="376.30" font-size="7.89" text-anchor="end" fill="#262626" font-family="Liberation Sans" font-weight="normal" textLength="14.22" lengthAdjust="spacingAndGlyphs" stroke="#262626" stroke-width="0.1">120</text><path d="M608.80 580.8v2.7M675.67 580.8v2.7M742.54 580.8v2.7M809.41 580.8v2.7M876.28 580.8v2.7M943.15 580.8v2.7M1010.02 580.8v2.7M588.6 571.00h-2.7M588.6 538.10h-2.7M588.6 505.20h-2.7M588.6 472.30h-2.7M588.6 439.40h-2.7M588.6 406.50h-2.7M588.6 373.60h-2.7" stroke="#4a4a4a" stroke-width="0.9"/><text x="809.55" y="355.50" font-size="9.46" text-anchor="middle" fill="#262626" font-family="Liberation Sans" font-weight="normal" textLength="115.39" lengthAdjust="spacingAndGlyphs" stroke="#262626" stroke-width="0.1">Mini-crane Kumaraswamy</text><text x="809.55" y="602.00" font-size="7.89" text-anchor="middle" fill="#262626" font-family="Liberation Sans" font-weight="normal" textLength="69.93" lengthAdjust="spacingAndGlyphs" stroke="#262626" stroke-width="0.1">Environment steps</text><text x="1030.50" y="601.00" font-size="7.89" text-anchor="end" fill="#262626" font-family="Liberation Sans" font-weight="normal" textLength="14.06" lengthAdjust="spacingAndGlyphs" stroke="#262626" stroke-width="0.1">1e6</text><text x="0.00" y="0.00" font-size="7.89" text-anchor="middle" fill="#262626" font-family="Liberation Sans" font-weight="normal" textLength="61.70" lengthAdjust="spacingAndGlyphs" stroke="#262626" stroke-width="0.1" transform="translate(563.78,470.40) rotate(-90)">Evaluation score</text><rect x="922.00" y="552.40" width="104.4" height="24.5" rx="1.5" fill="#fff" fill-opacity="0.8" stroke="#dcdcdc" stroke-width="0.8"/><path d="M924.70 559.00h16.4" stroke="#0074b6" stroke-width="1.9"/><rect x="924.70" y="567.00" width="15.8" height="5.9" fill="#bcdaeb" stroke="#a8cde3" stroke-width="0.6"/><text x="946.70" y="561.60" font-size="7.89" text-anchor="start" fill="#262626" font-family="Liberation Sans" font-weight="normal" textLength="76.39" lengthAdjust="spacingAndGlyphs" stroke="#262626" stroke-width="0.1">Mean (across seeds)</text><text x="946.70" y="572.50" font-size="7.89" text-anchor="start" fill="#262626" font-family="Liberation Sans" font-weight="normal" textLength="42.81" lengthAdjust="spacingAndGlyphs" stroke="#262626" stroke-width="0.1">Mean ± std</text><text x="793.90" y="657.10" font-size="25.00" text-anchor="middle" fill="#000" font-family="Liberation Serif" font-weight="bold">d</text><clipPath id="clipe"><rect x="44.7" y="697.6" width="435.0" height="220.10000000000002"/></clipPath><path d="M64.50 697.6V917.7M130.50 697.6V917.7M196.50 697.6V917.7M262.50 697.6V917.7M328.50 697.6V917.7M394.50 697.6V917.7M460.50 697.6V917.7M44.7 709.50H479.7M44.7 747.50H479.7M44.7 785.50H479.7M44.7 823.50H479.7M44.7 861.50H479.7M44.7 899.50H479.7" stroke="#c9c9c9" stroke-width="0.9" fill="none"/><g clip-path="url(#clipe)"><polyline points="110.3,828.0 111.5,827.8 112.7,827.1 113.9,826.7 115.1,826.3 116.3,825.8 117.5,825.1 118.7,825.0 119.9,824.4 121.1,824.1 122.3,824.3 123.5,823.7 124.7,823.3 125.8,822.9 127.1,822.3 128.3,822.4 129.5,822.3 130.7,822.3 131.9,822.5 133.1,821.9 134.3,821.1 134.7,821.2 135.5,821.5 136.7,821.9 137.9,823.3 139.1,824.6 140.3,825.7 141.3,826.4 142.7,827.5 143.9,828.2 145.1,828.9 146.3,829.7 147.5,830.2 148.7,830.7 149.9,831.4 150.1,831.8 151.1,833.2 152.3,835.0 153.5,836.6 154.6,837.9 155.9,838.0 157.1,837.9 158.3,838.1 159.5,838.4 160.7,839.2 161.9,839.4 163.1,839.5 164.3,840.0 165.5,840.7 166.7,840.8 167.8,840.4 169.1,840.8 170.3,841.3 171.5,841.6 172.7,842.0 173.9,842.6 175.1,842.6 176.3,843.0 177.5,843.3 178.7,843.3 179.9,844.0 181.1,844.6 182.3,844.4 183.5,844.0 184.7,844.2 185.9,844.4 187.1,844.2 188.3,844.4 189.5,844.2 190.7,843.7 191.9,843.9 193.1,843.9 194.3,843.6 195.5,844.1 196.7,844.6 197.9,843.8 198.8,843.8 199.1,844.5 200.3,844.2 201.5,844.3 202.7,844.2 203.9,843.9 205.1,844.3 206.3,844.6 207.5,844.8 208.7,844.8 209.9,844.6 211.1,845.0 212.3,845.4 213.5,845.0 214.7,844.8 215.9,845.3 216.5,845.6 217.1,845.2 218.3,845.1 219.5,845.7 220.7,845.5 221.9,845.2 223.1,845.9 224.3,846.0 225.5,846.4 226.7,846.5 227.9,846.0 229.1,846.1 230.3,846.6 231.5,846.9 232.7,846.9 233.9,847.2 234.2,847.2 235.1,847.2 236.3,847.4 237.5,847.3 238.7,846.8 239.9,846.8 241.1,847.0 242.3,846.9 243.5,847.0 244.7,846.6 245.9,846.5 247.1,846.3 247.4,846.2 248.3,845.8 249.5,845.5 250.7,845.5 251.9,844.7 253.1,844.4 254.3,844.4 255.5,844.4 256.7,844.3 257.9,844.0 259.1,843.8 260.3,842.8 261.5,842.4 262.7,842.3 263.9,842.1 264.0,841.7 265.1,841.3 266.3,841.5 267.5,841.5 268.7,841.5 269.9,841.4 271.1,841.4 272.3,841.2 273.5,841.2 274.7,841.0 275.9,840.7 277.1,840.7 277.3,840.8 278.3,840.7 279.5,841.3 280.7,841.5 281.9,840.9 283.1,841.5 284.3,842.1 285.5,842.1 286.7,842.0 287.9,841.8 289.1,842.1 290.3,842.5 291.5,842.7 292.7,843.0 292.7,843.2 293.9,843.1 295.1,842.6 296.3,843.0 297.5,843.2 298.7,842.9 299.9,843.7 301.1,844.5 302.3,844.2 303.5,844.3 304.7,844.9 305.9,845.4 307.1,845.4 308.2,845.4 309.5,844.1 310.7,843.2 311.9,842.4 313.1,842.1 314.3,841.3 314.9,840.2 315.5,839.0 316.7,837.4 317.9,835.4 319.1,833.4 320.3,831.8 321.5,829.7 322.7,828.6 323.9,827.0 325.1,825.1 326.3,823.5 327.5,821.7 328.7,820.6 329.9,819.1 330.3,818.4 331.1,817.3 332.3,815.3 333.5,812.9 334.7,810.8 335.9,808.4 337.1,806.2 338.3,804.8 339.2,803.7 339.5,803.3 340.7,801.8 341.9,800.4 343.1,799.0 344.3,798.0 345.5,797.2 346.7,795.7 347.9,793.9 348.0,794.1 349.1,794.1 350.3,793.3 351.5,792.5 352.7,792.1 353.9,791.6 355.1,791.0 356.3,790.0 356.9,789.8 357.5,789.9 358.7,789.5 359.9,789.5 361.1,789.0 362.3,788.7 363.5,788.7 364.7,788.2 365.9,788.5 367.1,788.7 368.3,788.0 369.5,787.4 370.1,787.1 370.7,787.0 371.9,787.4 373.1,787.3 374.3,786.4 375.5,786.1 376.7,785.7 377.9,785.4 379.1,785.5 380.3,785.0 381.5,784.7 382.7,785.0 383.4,784.9 383.9,784.4 385.1,784.2 386.3,784.0 387.5,783.5 388.7,784.0 389.9,783.9 391.1,783.1 392.3,783.2 393.5,783.3 394.5,783.5 395.9,782.6 397.1,781.7 398.3,780.8 398.9,780.1 399.5,779.7 400.7,779.8 401.9,780.0 403.1,779.9 404.3,780.1 405.5,780.8 406.7,781.1 407.9,781.0 409.1,780.6 410.3,780.5 411.5,780.8 412.7,780.9 413.9,781.2 414.4,781.2 415.1,781.0 416.3,781.2 417.5,781.2 418.7,781.3 419.9,780.6 421.1,780.2 422.3,780.8 423.5,780.8 424.7,780.6 425.9,780.2 427.1,780.6 427.6,781.1 428.3,780.6 429.5,780.8 430.7,780.7 431.9,780.2 433.1,780.1 434.3,779.9 435.5,779.1 436.7,778.7 437.9,778.8 439.1,778.8 440.3,779.2 440.9,779.3 441.5,778.9 442.7,778.2 443.9,777.9 445.1,778.1 446.3,777.7 447.5,777.8 448.7,778.3 449.9,778.2 451.1,778.1 452.3,778.3 453.5,777.9 454.2,778.0 454.7,777.8 455.9,777.2 457.1,777.1 458.3,776.9 459.5,776.3 460.3,776.5" fill="none" stroke="#9a9a9a" stroke-opacity="0.4" stroke-width="0.7"/><polyline points="198.8,746.0 200.0,745.6 201.2,744.8 202.4,744.1 203.6,743.7 204.8,743.4 206.0,742.7 207.2,742.0 208.4,741.0 209.6,740.6 210.8,740.9 212.0,740.5 212.0,739.8 213.2,739.1 214.4,738.6 215.6,737.8 216.8,738.0 218.0,737.9 219.2,737.2 220.4,736.2 221.6,735.7 222.8,735.8 224.0,735.4 225.2,734.5 226.4,733.5 227.5,733.5 228.8,733.5 230.0,732.9 231.2,732.5 232.4,732.6 233.6,732.2 234.8,731.6 236.0,731.4 237.2,731.1 238.4,730.5 239.6,730.0 240.8,729.3 242.0,728.7 243.0,729.3 244.4,729.3 245.6,728.1 246.8,728.4 248.0,728.9 249.2,728.1 250.4,727.6 251.6,727.6 252.8,727.3 254.0,727.0 255.2,726.7 256.3,726.6 257.6,727.0 258.8,727.3 260.0,727.4 261.2,727.6 262.4,727.7 263.6,727.7 264.0,727.6 264.8,727.6 266.0,727.7 267.2,727.3 268.4,727.0 269.6,727.4 270.8,727.3 272.0,727.0 273.2,726.8 274.4,726.9 275.6,727.4 276.8,727.0 278.0,726.6 279.2,726.6 280.4,726.4 281.6,726.0 282.8,726.1 284.0,726.0 285.2,725.8 286.1,726.1 287.6,725.6 288.8,725.2 290.0,725.3 291.2,724.8 292.4,724.6 293.6,724.9 294.8,724.6 296.0,724.7 297.2,725.2 298.4,725.2 299.6,725.2 300.8,724.7 302.0,724.3 303.2,724.4 304.4,723.7 305.6,723.3 306.8,723.4 308.0,723.1 308.2,723.2 309.2,723.7 310.4,724.5 311.6,724.8 312.8,724.7 314.0,724.9 315.2,724.7 316.4,724.5 317.6,724.8 318.8,725.1 320.0,725.7 321.2,726.2 322.4,726.1 323.6,726.0 324.8,726.1 326.0,726.3 327.2,726.7 328.1,726.8 329.6,726.6 330.8,726.4 332.0,726.5 333.2,726.5 334.4,725.9 335.6,726.0 336.8,725.6 338.0,725.1 339.2,725.6 340.4,725.8 341.6,725.4 342.8,725.0 344.0,724.9 345.2,724.9 346.4,724.8 347.6,724.2 348.8,724.1 350.0,723.9 351.2,723.2 352.4,723.3 352.4,723.5 353.6,723.7 354.8,723.5 356.0,723.2 357.2,722.9 358.4,722.5 359.6,722.5 360.8,722.7 362.0,723.3 363.2,722.8 364.4,722.5 365.6,722.5 366.8,722.3 368.0,722.0 369.2,721.6 370.4,721.8 371.6,721.6 372.8,721.3 374.0,721.3 374.6,721.3 375.2,720.9 376.4,720.5 377.6,720.6 378.8,720.1 380.0,719.9 381.2,720.5 382.4,720.8 383.6,720.3 384.8,720.3 386.0,720.4 387.2,719.9 388.4,719.9 389.6,720.2 390.8,719.9 392.0,719.7 393.2,719.7 394.4,719.5 395.6,719.0 396.7,718.6 398.0,718.6 399.2,718.9 400.4,719.2 401.6,719.1 402.8,719.3 404.0,719.7 405.2,719.0 406.4,718.3 407.6,718.6 408.8,719.1 410.0,719.3 411.2,719.2 412.4,718.6 413.6,719.1 414.8,719.4 416.0,719.0 417.2,719.2 418.4,719.0 418.8,719.3 419.6,719.7 420.8,719.2 422.0,718.4 423.2,718.6 424.4,719.3 425.6,719.6 426.8,719.6 428.0,719.9 429.2,720.1 430.4,719.8 431.6,719.4 432.8,719.4 434.0,720.0 435.2,720.0 436.4,720.1 437.6,720.4 438.8,720.7 440.0,720.6 440.9,719.7 442.4,720.3 443.6,721.0 444.8,720.6 446.0,721.1 447.2,721.2 448.4,720.8 449.6,720.9 450.8,721.4 452.0,721.5 453.2,721.9 454.4,721.9 455.6,721.5 456.8,721.6 458.0,722.3 459.2,723.1 460.3,722.7" fill="none" stroke="#9a9a9a" stroke-opacity="0.4" stroke-width="0.7"/><polyline points="136.9,789.7 138.1,788.5 139.3,788.3 140.5,788.1 141.7,787.1 142.9,786.2 144.1,785.5 145.3,784.9 146.5,783.6 147.7,782.7 148.9,782.2 150.1,781.4 151.3,780.7 152.5,780.0 153.7,779.1 154.6,778.6 154.9,778.5 156.1,778.4 157.3,777.8 158.5,777.2 159.7,776.8 160.9,776.5 162.1,776.2 163.3,776.0 164.5,776.0 165.7,776.0 166.9,775.4 168.1,774.9 169.3,774.6 170.5,773.8 171.7,773.7 172.9,773.7 174.1,773.4 175.3,772.9 176.5,772.4 176.7,772.6 177.7,772.1 178.9,771.2 180.1,770.8 181.3,770.4 182.5,770.0 183.7,770.3 184.9,769.7 186.1,769.4 187.3,769.0 188.5,768.5 189.7,767.9 190.9,767.7 192.1,767.8 193.3,767.1 194.5,766.9 195.7,766.4 196.9,766.4 198.1,766.3 198.8,765.8 199.3,765.4 200.5,765.0 201.7,764.2 202.9,763.6 204.1,763.3 205.3,762.4 206.5,761.3 207.7,760.9 208.9,760.4 210.1,759.8 211.3,759.3 212.5,758.9 213.7,758.5 214.9,758.1 216.1,757.6 217.3,756.7 218.5,755.7 219.7,754.8 220.9,754.4 220.9,754.9 222.1,754.6 223.3,753.9 224.5,753.3 225.7,753.2 226.9,753.0 228.1,752.0 229.3,751.9 230.5,751.5 231.7,750.6 232.9,750.6 234.1,750.6 235.3,750.2 236.5,749.6 237.7,749.3 238.9,749.3 240.1,748.9 241.3,748.8 242.5,748.5 243.0,747.8 243.7,747.4 244.9,747.0 246.1,746.9 247.3,746.6 248.5,746.0 249.7,745.6 250.9,745.6 252.1,745.0 253.3,744.1 254.5,744.2 255.7,744.0 256.9,743.6 258.1,743.3 259.3,742.9 260.5,742.3 261.7,741.7 262.9,741.4 264.0,741.1 265.3,740.3 266.5,740.5 267.7,740.6 268.9,740.1 270.1,739.9 271.3,739.7 272.5,739.4 273.7,739.2 274.9,739.1 276.1,738.8 277.3,738.7 278.5,739.0 279.7,738.8 280.9,738.2 282.1,737.7 283.3,737.5 284.5,737.4 285.7,737.2 286.1,737.2 286.9,737.2 288.1,736.8 289.3,736.3 290.5,736.4 291.7,736.7 292.9,736.3 294.1,735.9 295.3,736.0 296.5,735.7 297.7,735.6 298.9,735.8 300.1,736.0 301.3,735.5 302.5,735.1 303.7,735.1 304.9,735.2 306.1,734.8 307.3,734.5 308.2,734.6 309.7,734.1 310.9,733.9 312.1,734.1 313.3,733.8 314.5,733.9 315.7,733.7 316.9,733.5 318.1,733.5 319.3,733.2 320.5,733.0 321.7,733.6 322.9,733.6 324.1,732.7 325.3,732.2 326.5,731.9 327.7,731.9 328.1,732.1 328.9,732.1 330.1,732.2 331.3,731.9 332.5,731.6 333.7,731.4 334.9,731.3 336.1,731.2 337.3,730.8 338.5,730.5 339.7,730.7 340.9,730.5 342.1,729.6 343.3,729.3 344.5,728.9 345.7,728.7 346.9,728.5 348.1,728.7 349.3,729.2 350.5,728.8 351.7,728.0 352.4,727.6 352.9,727.5 354.1,727.2 355.3,727.3 356.5,727.7 357.7,727.6 358.9,726.9 360.1,727.3 361.3,727.1 362.5,726.7 363.7,727.4 364.9,727.4 366.1,727.0 367.3,726.2 368.5,726.1 369.7,726.3 370.9,726.0 372.1,725.7 373.3,725.3 374.5,725.3 374.6,725.9 375.7,725.8 376.9,725.0 378.1,724.6 379.3,725.1 380.5,725.7 381.7,725.1 382.9,724.3 384.1,724.0 385.3,724.3 386.5,724.8 387.7,724.7 388.9,724.3 390.1,724.0 391.3,723.6 392.5,724.1 393.7,723.9 394.9,723.3 396.1,723.5 396.7,723.8 397.3,723.7 398.5,723.7 399.7,723.5 400.9,723.3 402.1,723.1 403.3,722.9 404.5,723.1 405.7,722.6 406.9,722.4 408.1,723.0 409.3,722.7 410.5,722.4 411.7,722.7 412.9,723.4 414.1,723.5 415.3,722.7 416.5,722.1 417.7,722.1 418.8,722.4 420.1,722.6 421.3,722.4 422.5,722.3 423.7,722.6 424.9,722.3 426.1,722.2 427.3,722.1 428.5,721.9 429.7,721.6 430.9,721.5 432.1,722.0 433.3,722.0 434.5,721.7 435.7,721.7 436.9,721.6 438.1,721.3 439.3,721.1 440.5,721.2 440.9,721.4 441.7,721.4 442.9,721.7 444.1,721.9 445.3,722.1 446.5,722.5 447.7,722.6 448.9,722.8 450.1,723.0 451.3,723.3 452.5,723.4 453.7,723.7 454.9,724.1 456.1,723.9 457.3,723.9 458.5,724.1 459.7,724.0 460.3,724.2" fill="none" stroke="#9a9a9a" stroke-opacity="0.4" stroke-width="0.7"/><polygon points="64.0,823.1 65.2,823.3 66.4,823.0 67.6,849.7 68.8,877.0 70.0,874.6 71.2,872.0 72.4,870.3 73.6,869.1 74.8,867.2 76.0,865.9 77.2,865.1 78.4,863.9 79.6,862.0 80.8,860.4 82.0,858.9 83.2,856.8 84.4,855.2 85.6,854.4 86.8,853.6 88.0,852.6 89.2,851.5 90.4,850.2 91.6,849.6 92.8,849.3 94.0,848.4 95.2,848.0 96.4,847.9 97.6,847.4 98.8,846.7 100.0,844.7 101.2,841.0 102.4,837.3 103.6,833.8 104.8,831.5 106.0,828.6 107.2,826.1 108.4,824.2 109.6,821.9 110.8,820.0 112.0,818.5 113.2,816.4 114.4,815.1 115.6,813.9 116.8,812.2 118.0,810.5 119.2,807.6 120.4,806.1 121.6,804.3 122.8,802.9 124.0,801.5 125.2,799.7 126.4,798.2 127.6,797.0 128.8,795.3 130.0,793.8 131.2,792.5 132.4,791.2 133.6,789.9 134.8,788.2 136.0,786.7 137.2,785.1 138.4,783.9 139.6,782.7 140.8,781.3 142.0,780.2 143.2,779.1 144.4,778.1 145.6,777.0 146.8,775.6 148.0,774.4 149.2,773.9 150.4,773.0 151.6,771.9 152.8,771.4 154.0,771.1 155.2,770.4 156.4,769.6 157.6,769.5 158.8,769.1 160.0,768.2 161.2,767.6 162.4,767.6 163.6,767.4 164.8,766.6 166.0,765.8 167.2,765.2 168.4,764.9 169.6,764.5 170.8,763.5 172.0,763.1 173.2,762.6 174.4,762.1 175.6,761.4 176.8,760.8 178.0,760.9 179.2,760.2 180.4,759.3 181.6,759.2 182.8,758.6 184.0,758.0 185.2,757.6 186.4,756.8 187.6,756.1 188.8,755.7 190.0,755.0 191.2,754.2 192.4,754.0 193.6,753.5 194.8,752.8 196.0,752.0 197.2,751.5 198.4,751.0 199.6,750.1 200.8,749.2 202.0,748.2 203.2,747.2 204.4,746.8 205.6,746.3 206.8,745.1 208.0,744.4 209.2,744.1 210.4,743.8 211.6,743.4 212.8,742.8 214.0,741.8 215.2,741.2 216.4,741.0 217.6,740.4 218.8,739.9 220.0,738.8 221.2,738.6 222.4,738.5 223.6,737.9 224.8,737.5 226.0,736.7 227.2,736.3 228.4,735.5 229.6,735.0 230.8,734.5 232.0,733.1 233.2,732.4 234.4,732.1 235.6,731.3 236.8,730.7 238.0,730.3 239.2,729.6 240.4,729.0 241.6,728.4 242.8,727.9 244.0,727.5 245.2,726.9 246.4,726.2 247.6,725.7 248.8,725.1 250.0,724.5 251.2,724.1 252.4,723.7 253.6,722.5 254.8,721.4 256.0,720.8 257.2,720.5 258.4,719.9 259.6,719.3 260.8,718.6 262.0,717.5 263.2,716.7 264.4,716.2 265.6,716.1 266.8,716.5 268.0,716.4 269.2,715.7 270.4,715.2 271.6,714.8 272.8,714.5 274.0,714.2 275.2,714.1 276.4,713.9 277.6,713.5 278.8,713.2 280.0,713.0 281.2,712.5 282.4,712.3 283.6,712.0 284.8,711.6 286.0,711.4 287.2,711.3 288.4,711.0 289.6,710.5 290.8,710.1 292.0,709.7 293.2,709.9 294.4,710.0 295.6,709.6 296.8,709.0 298.0,708.5 299.2,708.2 300.4,708.0 301.6,708.0 302.8,707.7 304.0,707.3 305.2,707.3 306.4,707.4 307.6,707.3 308.8,707.2 310.0,707.4 311.2,707.7 312.4,708.2 313.6,708.4 314.8,708.2 316.0,708.0 317.2,708.1 318.4,708.7 319.6,709.2 320.8,708.9 322.0,709.1 323.2,709.7 324.4,709.8 325.6,709.9 326.8,709.9 328.0,710.0 329.2,710.3 330.4,710.9 331.6,711.4 332.8,711.4 334.0,711.3 335.2,711.3 336.4,711.5 337.6,711.8 338.8,712.3 340.0,712.2 341.2,712.1 342.4,712.6 343.6,713.0 344.8,712.7 346.0,712.6 347.2,713.1 348.4,713.4 349.6,713.2 350.8,713.3 352.0,713.5 353.2,713.2 354.4,713.5 355.6,713.7 356.8,713.5 358.0,713.2 359.2,713.1 360.4,713.2 361.6,713.0 362.8,713.1 364.0,713.3 365.2,713.3 366.4,713.3 367.6,713.3 368.8,713.3 370.0,713.1 371.2,713.0 372.4,712.8 373.6,712.7 374.8,713.0 376.0,713.2 377.2,713.0 378.4,712.9 379.6,712.7 380.8,712.6 382.0,712.7 383.2,712.6 384.4,712.9 385.6,713.1 386.8,712.9 388.0,713.0 389.2,712.9 390.4,712.9 391.6,712.6 392.8,712.4 394.0,712.3 395.2,712.6 396.4,713.0 397.6,712.6 398.8,712.4 400.0,712.2 401.2,712.2 402.4,712.4 403.6,712.2 404.8,712.0 406.0,711.9 407.2,711.7 408.4,711.7 409.6,711.8 410.8,711.5 412.0,711.2 413.2,711.3 414.4,711.4 415.6,711.4 416.8,711.1 418.0,711.1 419.2,710.9 420.4,710.7 421.6,711.0 422.8,711.2 424.0,710.8 425.2,710.2 426.4,709.9 427.6,710.0 428.8,709.9 430.0,709.8 431.2,709.9 432.4,710.2 433.6,710.8 434.8,710.8 436.0,710.9 437.2,711.0 438.4,710.9 439.6,710.9 440.8,710.9 442.0,711.3 443.2,711.4 444.4,711.6 445.6,711.6 446.8,711.6 448.0,711.7 449.2,712.0 450.4,712.2 451.6,712.2 452.8,712.3 454.0,712.5 455.2,712.2 456.4,712.0 457.6,712.5 458.8,712.8 460.0,712.7 460.0,747.5 458.8,747.1 457.6,747.1 456.4,747.0 455.2,747.1 454.0,747.1 452.8,747.0 451.6,746.7 450.4,746.7 449.2,747.2 448.0,747.2 446.8,746.9 445.6,747.1 444.4,747.4 443.2,747.3 442.0,747.0 440.8,746.7 439.6,746.7 438.4,746.5 437.2,746.7 436.0,747.2 434.8,747.2 433.6,747.0 432.4,747.3 431.2,747.2 430.0,747.3 428.8,747.7 427.6,747.3 426.4,747.2 425.2,747.3 424.0,747.4 422.8,747.8 421.6,747.6 420.4,747.3 419.2,747.6 418.0,747.5 416.8,747.7 415.6,748.0 414.4,747.3 413.2,747.2 412.0,747.5 410.8,747.8 409.6,748.0 408.4,748.0 407.2,747.8 406.0,747.8 404.8,747.8 403.6,748.0 402.4,747.9 401.2,748.0 400.0,748.5 398.8,748.7 397.6,748.8 396.4,748.8 395.2,748.9 394.0,749.0 392.8,749.3 391.6,749.6 390.4,749.8 389.2,749.8 388.0,750.0 386.8,750.1 385.6,749.8 384.4,750.1 383.2,750.8 382.0,751.0 380.8,750.9 379.6,751.3 378.4,751.6 377.2,751.6 376.0,751.4 374.8,751.6 373.6,752.1 372.4,752.2 371.2,752.5 370.0,752.8 368.8,752.7 367.6,752.8 366.4,752.7 365.2,753.0 364.0,753.3 362.8,753.4 361.6,753.6 360.4,753.6 359.2,753.4 358.0,753.6 356.8,754.2 355.6,754.3 354.4,754.1 353.2,754.6 352.0,755.1 350.8,755.1 349.6,755.3 348.4,756.2 347.2,757.1 346.0,757.5 344.8,758.0 343.6,758.2 342.4,758.6 341.2,759.0 340.0,759.8 338.8,761.0 337.6,762.5 336.4,763.5 335.2,764.0 334.0,764.9 332.8,766.0 331.6,766.8 330.4,768.1 329.2,769.1 328.0,770.0 326.8,770.8 325.6,771.6 324.4,772.3 323.2,772.8 322.0,773.6 320.8,774.1 319.6,775.2 318.4,776.6 317.2,777.1 316.0,777.8 314.8,778.7 313.6,778.7 312.4,778.8 311.2,779.3 310.0,779.4 308.8,779.7 307.6,779.7 306.4,779.7 305.2,779.7 304.0,779.8 302.8,779.9 301.6,779.8 300.4,780.2 299.2,780.0 298.0,779.4 296.8,780.1 295.6,780.8 294.4,780.4 293.2,780.1 292.0,780.4 290.8,780.8 289.6,781.1 288.4,781.0 287.2,780.9 286.0,781.0 284.8,781.4 283.6,781.8 282.4,781.6 281.2,781.4 280.0,781.8 278.8,782.2 277.6,782.1 276.4,782.1 275.2,782.2 274.0,782.2 272.8,782.5 271.6,782.6 270.4,782.8 269.2,782.9 268.0,783.3 266.8,783.3 265.6,782.6 264.4,782.7 263.2,783.4 262.0,783.9 260.8,784.6 259.6,785.1 258.4,785.2 257.2,785.4 256.0,786.1 254.8,786.7 253.6,787.0 252.4,787.6 251.2,787.7 250.0,788.1 248.8,789.2 247.6,789.3 246.4,789.0 245.2,789.9 244.0,790.6 242.8,790.4 241.6,790.8 240.4,791.7 239.2,791.8 238.0,791.9 236.8,792.4 235.6,793.3 234.4,793.8 233.2,794.2 232.0,794.5 230.8,794.6 229.6,795.0 228.4,795.6 227.2,796.0 226.0,796.2 224.8,796.5 223.6,797.0 222.4,797.2 221.2,797.3 220.0,797.6 218.8,798.1 217.6,798.6 216.4,798.6 215.2,798.6 214.0,799.4 212.8,799.8 211.6,799.9 210.4,800.5 209.2,800.8 208.0,800.8 206.8,801.3 205.6,801.2 204.4,800.9 203.2,801.2 202.0,801.2 200.8,801.5 199.6,802.1 198.4,802.0 197.2,802.2 196.0,802.4 194.8,802.5 193.6,802.6 192.4,802.6 191.2,802.8 190.0,802.7 188.8,802.9 187.6,802.8 186.4,802.5 185.2,802.6 184.0,803.2 182.8,803.7 181.6,803.7 180.4,803.7 179.2,804.1 178.0,804.5 176.8,804.7 175.6,804.5 174.4,804.1 173.2,804.0 172.0,804.2 170.8,804.2 169.6,804.3 168.4,804.7 167.2,804.6 166.0,804.7 164.8,805.1 163.6,805.1 162.4,804.7 161.2,804.9 160.0,805.4 158.8,805.1 157.6,805.0 156.4,805.9 155.2,805.9 154.0,805.9 152.8,805.9 151.6,806.0 150.4,806.4 149.2,806.5 148.0,806.3 146.8,806.4 145.6,806.5 144.4,806.4 143.2,806.4 142.0,806.9 140.8,806.8 139.6,806.9 138.4,807.1 137.2,807.1 136.0,807.4 134.8,807.5 133.6,808.5 132.4,809.5 131.2,810.2 130.0,811.0 128.8,812.1 127.6,813.2 126.4,813.9 125.2,814.7 124.0,815.7 122.8,816.9 121.6,818.4 120.4,820.1 119.2,821.8 118.0,823.5 116.8,825.2 115.6,826.4 114.4,828.1 113.2,829.9 112.0,831.5 110.8,833.4 109.6,835.9 108.4,838.9 107.2,841.4 106.0,843.7 104.8,847.2 103.6,850.5 102.4,854.0 101.2,857.3 100.0,858.7 98.8,860.0 97.6,861.5 96.4,862.7 95.2,863.7 94.0,865.1 92.8,866.5 91.6,867.5 90.4,868.6 89.2,869.9 88.0,870.8 86.8,872.2 85.6,873.8 84.4,875.3 83.2,876.7 82.0,878.5 80.8,880.4 79.6,881.8 78.4,883.4 77.2,885.1 76.0,886.7 74.8,888.4 73.6,889.7 72.4,890.7 71.2,893.2 70.0,897.2 68.8,901.1 67.6,862.0 66.4,823.6 65.2,823.9 64.0,823.9" fill="#bcdaeb" stroke="#9fc6de" stroke-width="0.5"/><polyline points="64.0,822.2 65.2,822.4 66.4,822.6 67.6,844.4 68.8,878.1 70.0,874.7 71.2,872.1 72.4,870.8 73.6,869.6 74.8,868.9 76.0,867.8 77.2,866.2 78.4,864.6 79.6,863.3 80.8,862.0 82.0,860.0 83.2,857.7 84.4,855.8 85.6,854.4 86.8,853.0 88.0,852.0 89.2,851.2 90.4,850.6 91.6,850.5 92.8,850.0 94.0,849.3 95.2,848.4 96.4,847.5 97.6,846.6 98.8,845.4 100.0,842.8 101.2,837.9 102.4,834.1 103.6,831.7 104.8,829.8 106.0,827.9 107.2,825.6 108.4,823.3 109.6,820.8 110.8,819.1 112.0,817.5 113.2,816.0 114.4,814.0 115.6,812.5 116.8,811.4 118.0,809.9 119.2,808.1 120.4,806.3 121.6,804.3 122.8,802.9 124.0,801.2 125.2,799.2 126.4,798.0 127.6,796.9 128.8,795.4 130.0,793.9 131.2,792.9 132.4,792.0 133.6,790.9 134.8,790.7 136.0,789.1 137.2,787.8 138.4,785.8 139.6,785.1 140.8,783.5 142.0,781.4 143.2,780.7 144.4,779.0 145.6,778.6 146.8,777.6 148.0,776.2 149.2,775.1 150.4,773.4 151.6,772.9 152.8,772.8 154.0,771.9 155.2,771.3 156.4,770.1 157.6,769.3 158.8,769.3 160.0,769.1 161.2,768.8 162.4,768.9 163.6,769.3 164.8,767.2 166.0,767.0 167.2,766.9 168.4,765.4 169.6,764.5 170.8,764.3 172.0,763.8 173.2,763.0 174.4,762.1 175.6,762.4 176.8,762.6 178.0,762.8 179.2,761.6 180.4,761.3 181.6,760.8 182.8,760.1 184.0,758.6 185.2,757.9 186.4,757.1 187.6,757.1 188.8,757.5 190.0,757.5 191.2,757.4 192.4,757.3 193.6,757.2 194.8,756.5 196.0,756.4 197.2,755.3 198.4,755.0 199.6,753.3 200.8,753.2 202.0,752.4 203.2,751.1 204.4,750.5 205.6,749.8 206.8,748.6 208.0,748.9 209.2,747.7 210.4,746.5 211.6,746.7 212.8,746.9 214.0,747.8 215.2,746.9 216.4,744.9 217.6,743.6 218.8,743.4 220.0,741.3 221.2,742.4 222.4,741.8 223.6,741.2 224.8,740.1 226.0,740.6 227.2,740.0 228.4,738.6 229.6,738.0 230.8,737.3 232.0,735.8 233.2,735.6 234.4,735.8 235.6,736.2 236.8,734.6 238.0,733.5 239.2,732.5 240.4,732.1 241.6,731.7 242.8,732.8 244.0,730.9 245.2,729.9 246.4,728.4 247.6,728.1 248.8,726.4 250.0,726.9 251.2,725.7 252.4,724.9 253.6,725.8 254.8,725.5 256.0,723.9 257.2,723.1 258.4,722.0 259.6,721.8 260.8,720.6 262.0,721.0 263.2,720.2 264.4,721.2 265.6,721.7 266.8,720.9 268.0,721.2 269.2,720.0 270.4,719.5 271.6,717.6 272.8,714.9 274.0,714.0 275.2,715.1 276.4,714.0 277.6,713.7 278.8,713.0 280.0,712.5 281.2,712.9 282.4,713.0 283.6,711.0 284.8,711.1 286.0,711.6 287.2,712.6 288.4,713.8 289.6,714.6 290.8,713.6 292.0,713.9 293.2,712.0 294.4,712.7 295.6,710.6 296.8,709.4 298.0,710.1 299.2,710.5 300.4,712.5 301.6,713.4 302.8,713.9 304.0,714.3 305.2,711.9 306.4,709.7 307.6,710.2 308.8,709.4 310.0,708.2 311.2,706.2 312.4,707.9 313.6,708.9 314.8,705.9 316.0,706.4 317.2,707.0 318.4,708.7 319.6,709.1 320.8,709.3 322.0,710.8 323.2,711.1 324.4,712.2 325.6,711.6 326.8,712.2 328.0,711.9 329.2,712.0 330.4,711.8 331.6,710.8 332.8,712.5 334.0,713.4 335.2,713.6 336.4,713.5 337.6,713.6 338.8,714.9 340.0,716.9 341.2,717.3 342.4,717.3 343.6,717.3 344.8,717.5 346.0,717.8 347.2,717.6 348.4,717.5 349.6,717.7 350.8,717.9 352.0,716.8 353.2,716.6 354.4,717.0 355.6,716.9 356.8,716.7 358.0,716.8 359.2,717.3 360.4,717.6 361.6,717.2 362.8,717.2 364.0,716.7 365.2,716.0 366.4,716.5 367.6,716.6 368.8,717.3 370.0,717.6 371.2,717.9 372.4,718.2 373.6,717.3 374.8,717.1 376.0,715.6 377.2,715.1 378.4,715.0 379.6,716.0 380.8,716.7 382.0,715.9 383.2,716.0 384.4,715.5 385.6,715.9 386.8,716.3 388.0,716.1 389.2,716.8 390.4,716.6 391.6,716.1 392.8,715.9 394.0,715.9 395.2,715.7 396.4,715.9 397.6,715.4 398.8,715.4 400.0,714.5 401.2,714.3 402.4,714.6 403.6,715.3 404.8,715.1 406.0,716.2 407.2,716.3 408.4,716.3 409.6,716.1 410.8,716.8 412.0,716.6 413.2,715.7 414.4,715.5 415.6,715.4 416.8,715.8 418.0,716.5 419.2,716.4 420.4,716.2 421.6,716.1 422.8,716.5 424.0,717.1 425.2,716.8 426.4,716.6 427.6,716.2 428.8,715.4 430.0,715.5 431.2,715.6 432.4,715.8 433.6,716.1 434.8,714.9 436.0,715.2 437.2,715.3 438.4,715.7 439.6,715.6 440.8,716.7 442.0,716.2 443.2,716.4 444.4,717.0 445.6,715.7 446.8,715.1 448.0,715.7 449.2,715.7 450.4,715.4 451.6,714.8 452.8,715.0 454.0,715.4 455.2,714.7 456.4,714.2 457.6,713.5 458.8,713.8 460.0,713.6" fill="none" stroke="#7a7a7a" stroke-opacity="0.25" stroke-width="0.7"/><polyline points="64.0,822.0 65.2,821.9 66.4,821.7 67.6,844.0 68.8,878.1 70.0,875.2 71.2,871.9 72.4,870.6 73.6,868.6 74.8,867.7 76.0,866.3 77.2,865.2 78.4,864.4 79.6,863.6 80.8,861.4 82.0,859.5 83.2,858.6 84.4,856.9 85.6,855.2 86.8,854.1 88.0,853.1 89.2,851.4 90.4,850.1 91.6,849.3 92.8,849.1 94.0,848.9 95.2,847.8 96.4,846.8 97.6,846.5 98.8,845.9 100.0,844.0 101.2,839.3 102.4,835.7 103.6,832.3 104.8,830.6 106.0,828.2 107.2,826.6 108.4,824.6 109.6,821.4 110.8,819.3 112.0,817.7 113.2,816.0 114.4,814.7 115.6,813.9 116.8,812.8 118.0,811.5 119.2,809.6 120.4,808.4 121.6,807.1 122.8,805.4 124.0,803.4 125.2,801.4 126.4,800.3 127.6,799.4 128.8,797.5 130.0,796.4 131.2,795.2 132.4,794.4 133.6,793.5 134.8,792.5 136.0,790.6 137.2,788.8 138.4,787.8 139.6,786.8 140.8,785.2 142.0,783.9 143.2,783.1 144.4,781.6 145.6,781.4 146.8,779.7 148.0,778.3 149.2,777.6 150.4,777.7 151.6,778.0 152.8,777.7 154.0,777.1 155.2,776.6 156.4,775.8 157.6,776.4 158.8,775.8 160.0,775.8 161.2,774.6 162.4,774.7 163.6,773.3 164.8,772.7 166.0,772.3 167.2,771.9 168.4,771.8 169.6,770.2 170.8,770.5 172.0,769.4 173.2,768.7 174.4,767.9 175.6,766.6 176.8,766.1 178.0,766.8 179.2,765.9 180.4,766.0 181.6,764.9 182.8,764.6 184.0,764.6 185.2,763.0 186.4,763.4 187.6,763.7 188.8,763.1 190.0,761.3 191.2,760.8 192.4,759.8 193.6,759.5 194.8,759.2 196.0,758.4 197.2,755.8 198.4,755.9 199.6,755.3 200.8,756.1 202.0,754.6 203.2,754.3 204.4,753.3 205.6,751.7 206.8,748.8 208.0,747.9 209.2,746.9 210.4,744.6 211.6,744.6 212.8,744.1 214.0,743.4 215.2,742.1 216.4,741.3 217.6,738.6 218.8,739.1 220.0,738.9 221.2,738.7 222.4,738.5 223.6,738.6 224.8,737.1 226.0,737.6 227.2,736.0 228.4,735.8 229.6,735.5 230.8,735.0 232.0,736.6 233.2,735.4 234.4,734.4 235.6,734.1 236.8,734.0 238.0,732.3 239.2,731.5 240.4,732.1 241.6,733.0 242.8,732.1 244.0,731.4 245.2,730.0 246.4,729.5 247.6,728.2 248.8,727.9 250.0,726.9 251.2,725.5 252.4,724.6 253.6,724.9 254.8,723.9 256.0,722.5 257.2,722.7 258.4,719.2 259.6,718.4 260.8,716.6 262.0,717.9 263.2,717.6 264.4,717.1 265.6,719.8 266.8,717.8 268.0,717.7 269.2,718.2 270.4,721.3 271.6,721.9 272.8,719.9 274.0,719.0 275.2,718.5 276.4,720.0 277.6,721.1 278.8,721.2 280.0,723.1 281.2,721.3 282.4,722.5 283.6,721.9 284.8,721.3 286.0,724.2 287.2,722.9 288.4,722.7 289.6,723.5 290.8,725.2 292.0,726.2 293.2,723.5 294.4,722.7 295.6,724.1 296.8,725.5 298.0,724.4 299.2,722.7 300.4,722.4 301.6,721.7 302.8,721.0 304.0,720.9 305.2,718.6 306.4,717.0 307.6,718.4 308.8,717.0 310.0,715.1 311.2,713.9 312.4,712.9 313.6,712.5 314.8,714.8 316.0,713.5 317.2,712.2 318.4,713.8 319.6,714.2 320.8,713.7 322.0,713.7 323.2,713.1 324.4,714.5 325.6,716.0 326.8,717.5 328.0,715.9 329.2,714.1 330.4,714.5 331.6,715.2 332.8,715.6 334.0,716.9 335.2,717.7 336.4,718.2 337.6,718.5 338.8,717.6 340.0,717.2 341.2,718.3 342.4,718.2 343.6,717.8 344.8,717.7 346.0,719.1 347.2,717.7 348.4,715.9 349.6,716.8 350.8,716.7 352.0,715.9 353.2,715.9 354.4,715.8 355.6,716.6 356.8,716.2 358.0,715.7 359.2,715.5 360.4,715.4 361.6,716.1 362.8,715.8 364.0,716.5 365.2,716.5 366.4,716.8 367.6,717.3 368.8,716.7 370.0,717.1 371.2,717.2 372.4,716.9 373.6,717.3 374.8,717.1 376.0,717.7 377.2,717.3 378.4,718.3 379.6,718.0 380.8,718.0 382.0,719.3 383.2,717.7 384.4,716.8 385.6,717.3 386.8,716.7 388.0,716.9 389.2,717.2 390.4,717.1 391.6,716.4 392.8,715.3 394.0,715.0 395.2,715.8 396.4,715.4 397.6,716.0 398.8,716.2 400.0,714.9 401.2,714.8 402.4,715.1 403.6,714.3 404.8,713.8 406.0,714.0 407.2,714.5 408.4,715.1 409.6,714.2 410.8,715.0 412.0,715.7 413.2,715.3 414.4,715.4 415.6,715.9 416.8,715.6 418.0,714.7 419.2,713.0 420.4,714.1 421.6,713.5 422.8,712.8 424.0,712.0 425.2,711.5 426.4,711.7 427.6,710.9 428.8,711.6 430.0,711.7 431.2,712.6 432.4,713.6 433.6,712.9 434.8,712.7 436.0,713.4 437.2,714.7 438.4,715.1 439.6,715.2 440.8,714.3 442.0,712.8 443.2,713.3 444.4,713.4 445.6,713.3 446.8,713.7 448.0,714.9 449.2,715.7 450.4,715.7 451.6,716.8 452.8,717.0 454.0,716.9 455.2,718.3 456.4,717.7 457.6,717.2 458.8,716.8 460.0,716.3" fill="none" stroke="#7a7a7a" stroke-opacity="0.25" stroke-width="0.7"/><polyline points="64.0,822.6 65.2,822.7 66.4,822.5 67.6,845.1 68.8,880.0 70.0,875.3 71.2,872.2 72.4,871.6 73.6,870.9 74.8,869.9 76.0,868.8 77.2,866.8 78.4,865.7 79.6,864.5 80.8,862.8 82.0,860.5 83.2,858.8 84.4,857.0 85.6,856.2 86.8,855.0 88.0,853.7 89.2,852.5 90.4,851.7 91.6,851.4 92.8,850.7 94.0,850.2 95.2,849.6 96.4,848.3 97.6,847.4 98.8,845.7 100.0,843.5 101.2,839.6 102.4,836.5 103.6,834.0 104.8,831.6 106.0,829.6 107.2,827.6 108.4,825.7 109.6,823.2 110.8,820.6 112.0,818.7 113.2,817.0 114.4,815.9 115.6,814.7 116.8,813.7 118.0,812.0 119.2,810.2 120.4,808.7 121.6,807.0 122.8,805.4 124.0,803.6 125.2,802.0 126.4,800.8 127.6,799.6 128.8,798.4 130.0,797.2 131.2,796.4 132.4,795.5 133.6,794.7 134.8,793.7 136.0,792.5 137.2,791.4 138.4,790.4 139.6,789.1 140.8,787.9 142.0,786.5 143.2,785.9 144.4,784.6 145.6,783.9 146.8,783.3 148.0,783.3 149.2,782.0 150.4,780.4 151.6,779.0 152.8,778.5 154.0,777.9 155.2,777.0 156.4,775.2 157.6,774.8 158.8,774.5 160.0,774.1 161.2,773.6 162.4,772.6 163.6,772.1 164.8,771.8 166.0,771.0 167.2,770.1 168.4,769.8 169.6,769.3 170.8,769.1 172.0,768.7 173.2,768.1 174.4,766.7 175.6,766.4 176.8,766.5 178.0,765.2 179.2,764.8 180.4,764.2 181.6,763.7 182.8,762.9 184.0,762.9 185.2,762.3 186.4,761.8 187.6,761.9 188.8,761.8 190.0,761.1 191.2,759.9 192.4,759.4 193.6,758.2 194.8,757.0 196.0,755.9 197.2,756.1 198.4,754.8 199.6,753.1 200.8,752.3 202.0,751.5 203.2,750.9 204.4,749.4 205.6,748.4 206.8,748.1 208.0,748.5 209.2,748.2 210.4,747.4 211.6,747.8 212.8,747.7 214.0,746.9 215.2,745.3 216.4,745.1 217.6,744.2 218.8,744.2 220.0,743.6 221.2,743.7 222.4,742.4 223.6,742.8 224.8,741.9 226.0,741.3 227.2,741.3 228.4,742.0 229.6,740.8 230.8,740.4 232.0,739.9 233.2,740.3 234.4,739.2 235.6,738.0 236.8,737.3 238.0,738.0 239.2,737.8 240.4,737.9 241.6,737.0 242.8,735.4 244.0,734.7 245.2,734.8 246.4,734.8 247.6,734.2 248.8,733.6 250.0,733.5 251.2,733.6 252.4,733.2 253.6,732.8 254.8,732.7 256.0,731.5 257.2,730.6 258.4,730.0 259.6,729.5 260.8,729.4 262.0,730.0 263.2,730.0 264.4,729.5 265.6,729.5 266.8,729.6 268.0,728.5 269.2,728.1 270.4,727.6 271.6,727.1 272.8,726.1 274.0,725.1 275.2,724.7 276.4,723.0 277.6,721.9 278.8,722.6 280.0,723.3 281.2,723.5 282.4,723.4 283.6,722.4 284.8,721.0 286.0,720.0 287.2,720.6 288.4,720.3 289.6,720.4 290.8,720.2 292.0,719.7 293.2,719.6 294.4,721.0 295.6,719.1 296.8,719.3 298.0,720.0 299.2,719.6 300.4,719.5 301.6,718.7 302.8,719.6 304.0,720.1 305.2,719.8 306.4,719.2 307.6,718.9 308.8,717.3 310.0,717.9 311.2,718.8 312.4,719.4 313.6,718.6 314.8,719.0 316.0,719.4 317.2,719.2 318.4,718.6 319.6,718.3 320.8,717.8 322.0,717.8 323.2,718.4 324.4,717.3 325.6,716.8 326.8,716.6 328.0,717.0 329.2,716.0 330.4,716.6 331.6,717.2 332.8,717.4 334.0,717.9 335.2,718.9 336.4,718.6 337.6,719.3 338.8,719.5 340.0,719.3 341.2,718.7 342.4,719.5 343.6,719.6 344.8,719.6 346.0,720.1 347.2,720.5 348.4,720.1 349.6,720.2 350.8,719.5 352.0,719.2 353.2,719.5 354.4,718.9 355.6,719.4 356.8,719.6 358.0,719.5 359.2,719.2 360.4,719.5 361.6,719.4 362.8,719.1 364.0,719.1 365.2,719.2 366.4,718.9 367.6,718.4 368.8,717.9 370.0,717.6 371.2,718.1 372.4,717.9 373.6,717.9 374.8,718.8 376.0,718.9 377.2,719.4 378.4,718.9 379.6,719.2 380.8,719.2 382.0,718.7 383.2,719.1 384.4,719.0 385.6,718.6 386.8,718.3 388.0,718.4 389.2,718.4 390.4,718.9 391.6,718.7 392.8,718.5 394.0,717.9 395.2,718.0 396.4,718.0 397.6,718.3 398.8,718.2 400.0,718.2 401.2,717.9 402.4,717.8 403.6,717.6 404.8,717.3 406.0,717.4 407.2,716.7 408.4,717.4 409.6,717.4 410.8,717.4 412.0,717.0 413.2,716.8 414.4,716.9 415.6,716.3 416.8,716.8 418.0,715.7 419.2,715.7 420.4,715.4 421.6,715.6 422.8,715.8 424.0,715.2 425.2,714.9 426.4,714.4 427.6,714.7 428.8,714.5 430.0,713.7 431.2,713.7 432.4,713.1 433.6,714.1 434.8,714.3 436.0,713.9 437.2,713.7 438.4,713.5 439.6,713.8 440.8,713.6 442.0,714.4 443.2,713.6 444.4,713.3 445.6,713.0 446.8,713.2 448.0,713.2 449.2,713.2 450.4,713.1 451.6,712.6 452.8,713.2 454.0,713.6 455.2,713.1 456.4,713.2 457.6,712.8 458.8,713.4 460.0,712.8" fill="none" stroke="#7a7a7a" stroke-opacity="0.25" stroke-width="0.7"/><polyline points="64.0,822.2 65.2,821.9 66.4,822.1 67.6,845.8 68.8,881.9 70.0,878.2 71.2,875.7 72.4,874.8 73.6,873.6 74.8,872.4 76.0,871.0 77.2,870.1 78.4,868.4 79.6,867.4 80.8,865.5 82.0,863.4 83.2,861.7 84.4,860.4 85.6,859.0 86.8,857.9 88.0,856.7 89.2,855.6 90.4,854.4 91.6,853.6 92.8,852.5 94.0,851.3 95.2,850.5 96.4,849.7 97.6,848.4 98.8,847.2 100.0,845.1 101.2,840.7 102.4,837.4 103.6,834.8 104.8,833.0 106.0,830.6 107.2,829.0 108.4,826.9 109.6,824.3 110.8,821.7 112.0,820.5 113.2,819.0 114.4,817.8 115.6,816.1 116.8,814.2 118.0,812.6 119.2,810.8 120.4,809.7 121.6,807.7 122.8,806.0 124.0,804.1 125.2,802.3 126.4,800.8 127.6,799.6 128.8,798.5 130.0,797.3 131.2,796.4 132.4,795.5 133.6,794.2 134.8,793.1 136.0,792.3 137.2,791.3 138.4,790.3 139.6,789.0 140.8,788.0 142.0,787.1 143.2,786.4 144.4,785.3 145.6,784.5 146.8,783.6 148.0,782.9 149.2,782.1 150.4,781.4 151.6,780.9 152.8,781.1 154.0,780.8 155.2,780.3 156.4,779.0 157.6,779.2 158.8,778.4 160.0,777.1 161.2,776.1 162.4,775.2 163.6,775.0 164.8,774.5 166.0,773.3 167.2,773.0 168.4,773.0 169.6,772.6 170.8,772.0 172.0,771.6 173.2,770.8 174.4,770.6 175.6,770.3 176.8,770.4 178.0,770.1 179.2,769.2 180.4,768.0 181.6,767.5 182.8,767.0 184.0,767.8 185.2,767.0 186.4,766.4 187.6,766.6 188.8,765.6 190.0,763.8 191.2,762.8 192.4,762.3 193.6,762.1 194.8,762.0 196.0,762.7 197.2,762.5 198.4,762.0 199.6,760.7 200.8,760.1 202.0,759.5 203.2,759.7 204.4,760.3 205.6,759.1 206.8,758.9 208.0,757.2 209.2,756.6 210.4,756.6 211.6,755.7 212.8,755.2 214.0,754.0 215.2,754.4 216.4,754.1 217.6,753.6 218.8,753.6 220.0,753.9 221.2,752.4 222.4,752.9 223.6,752.9 224.8,752.7 226.0,752.6 227.2,752.9 228.4,752.0 229.6,751.5 230.8,751.5 232.0,751.4 233.2,750.8 234.4,750.1 235.6,748.9 236.8,747.5 238.0,746.4 239.2,746.5 240.4,744.8 241.6,745.6 242.8,745.2 244.0,745.7 245.2,743.7 246.4,742.1 247.6,741.1 248.8,741.9 250.0,740.3 251.2,739.6 252.4,738.6 253.6,739.0 254.8,739.5 256.0,738.1 257.2,737.1 258.4,734.6 259.6,733.2 260.8,733.4 262.0,733.1 263.2,733.6 264.4,733.3 265.6,731.9 266.8,733.8 268.0,732.0 269.2,731.0 270.4,730.8 271.6,729.1 272.8,728.7 274.0,727.3 275.2,726.3 276.4,726.6 277.6,726.3 278.8,725.6 280.0,725.4 281.2,725.0 282.4,724.5 283.6,723.8 284.8,722.7 286.0,722.6 287.2,720.9 288.4,720.4 289.6,721.4 290.8,720.5 292.0,720.3 293.2,718.2 294.4,717.3 295.6,718.4 296.8,717.1 298.0,717.2 299.2,716.1 300.4,715.9 301.6,715.8 302.8,716.8 304.0,717.9 305.2,717.7 306.4,717.6 307.6,717.3 308.8,717.8 310.0,717.5 311.2,718.0 312.4,719.1 313.6,718.9 314.8,719.2 316.0,717.5 317.2,719.1 318.4,718.3 319.6,717.7 320.8,719.1 322.0,719.0 323.2,719.7 324.4,721.4 325.6,721.1 326.8,720.7 328.0,721.5 329.2,721.7 330.4,722.7 331.6,723.3 332.8,723.0 334.0,722.9 335.2,723.0 336.4,722.7 337.6,722.9 338.8,723.2 340.0,724.3 341.2,725.5 342.4,726.0 343.6,724.9 344.8,724.5 346.0,724.4 347.2,724.6 348.4,724.3 349.6,724.4 350.8,724.3 352.0,724.6 353.2,723.5 354.4,723.2 355.6,722.9 356.8,723.6 358.0,723.8 359.2,723.9 360.4,724.0 361.6,724.5 362.8,723.8 364.0,724.0 365.2,723.6 366.4,723.1 367.6,723.3 368.8,722.8 370.0,721.7 371.2,721.1 372.4,721.9 373.6,722.8 374.8,722.1 376.0,721.5 377.2,721.1 378.4,720.8 379.6,719.9 380.8,719.4 382.0,719.3 383.2,719.3 384.4,719.6 385.6,720.1 386.8,719.4 388.0,719.5 389.2,719.0 390.4,718.9 391.6,718.7 392.8,718.3 394.0,719.0 395.2,718.9 396.4,719.6 397.6,719.4 398.8,719.7 400.0,720.1 401.2,720.7 402.4,719.9 403.6,719.4 404.8,720.0 406.0,720.4 407.2,720.2 408.4,721.0 409.6,719.9 410.8,719.7 412.0,719.8 413.2,719.8 414.4,719.1 415.6,718.6 416.8,718.8 418.0,718.7 419.2,718.4 420.4,718.3 421.6,718.8 422.8,718.5 424.0,718.2 425.2,717.9 426.4,717.9 427.6,719.3 428.8,718.5 430.0,718.7 431.2,719.2 432.4,719.5 433.6,719.8 434.8,719.5 436.0,719.3 437.2,719.4 438.4,720.0 439.6,720.0 440.8,720.0 442.0,720.6 443.2,720.9 444.4,721.0 445.6,721.4 446.8,721.2 448.0,720.9 449.2,721.1 450.4,721.3 451.6,720.9 452.8,721.3 454.0,722.0 455.2,722.4 456.4,721.6 457.6,721.3 458.8,720.9 460.0,720.8" fill="none" stroke="#7a7a7a" stroke-opacity="0.25" stroke-width="0.7"/><polyline points="64.0,822.9 65.2,823.0 66.4,822.9 67.6,848.0 68.8,885.1 70.0,881.9 71.2,879.3 72.4,877.9 73.6,876.6 74.8,874.4 76.0,873.4 77.2,870.8 78.4,869.1 79.6,867.3 80.8,864.8 82.0,863.4 83.2,861.5 84.4,860.8 85.6,859.4 86.8,858.7 88.0,857.6 89.2,856.6 90.4,855.2 91.6,854.1 92.8,853.6 94.0,852.6 95.2,851.7 96.4,850.5 97.6,849.2 98.8,848.4 100.0,846.9 101.2,843.3 102.4,839.9 103.6,837.6 104.8,835.6 106.0,833.6 107.2,831.8 108.4,829.3 109.6,825.9 110.8,823.0 112.0,821.4 113.2,820.0 114.4,818.8 115.6,817.4 116.8,815.7 118.0,814.2 119.2,812.4 120.4,810.7 121.6,809.0 122.8,806.7 124.0,805.1 125.2,803.7 126.4,802.7 127.6,802.1 128.8,801.4 130.0,800.1 131.2,799.1 132.4,798.3 133.6,797.6 134.8,796.3 136.0,795.1 137.2,794.4 138.4,794.6 139.6,793.7 140.8,792.8 142.0,792.2 143.2,791.1 144.4,789.6 145.6,789.8 146.8,789.3 148.0,788.1 149.2,786.3 150.4,786.0 151.6,786.1 152.8,784.7 154.0,784.4 155.2,782.4 156.4,781.9 157.6,782.7 158.8,782.9 160.0,783.5 161.2,782.9 162.4,782.5 163.6,781.7 164.8,779.8 166.0,779.4 167.2,780.3 168.4,779.6 169.6,778.0 170.8,777.8 172.0,777.3 173.2,778.2 174.4,776.9 175.6,776.6 176.8,777.3 178.0,776.5 179.2,776.5 180.4,775.9 181.6,773.3 182.8,772.6 184.0,772.5 185.2,772.7 186.4,771.8 187.6,771.0 188.8,770.9 190.0,772.2 191.2,771.6 192.4,771.4 193.6,770.2 194.8,768.8 196.0,770.2 197.2,770.6 198.4,769.9 199.6,771.5 200.8,771.8 202.0,770.2 203.2,767.8 204.4,766.4 205.6,765.9 206.8,768.1 208.0,766.2 209.2,765.2 210.4,763.6 211.6,762.8 212.8,764.8 214.0,765.5 215.2,764.7 216.4,764.7 217.6,763.8 218.8,764.3 220.0,763.1 221.2,763.6 222.4,760.9 223.6,759.0 224.8,757.5 226.0,756.5 227.2,755.7 228.4,754.8 229.6,753.9 230.8,754.3 232.0,754.5 233.2,755.8 234.4,756.3 235.6,756.5 236.8,755.8 238.0,755.1 239.2,754.9 240.4,752.9 241.6,750.5 242.8,746.7 244.0,746.4 245.2,745.9 246.4,744.7 247.6,742.6 248.8,743.0 250.0,742.2 251.2,741.0 252.4,741.1 253.6,740.8 254.8,741.4 256.0,740.6 257.2,740.2 258.4,740.7 259.6,737.0 260.8,736.7 262.0,737.0 263.2,736.7 264.4,734.9 265.6,733.7 266.8,734.6 268.0,734.7 269.2,734.1 270.4,733.4 271.6,733.9 272.8,733.7 274.0,732.4 275.2,732.5 276.4,733.7 277.6,731.4 278.8,731.3 280.0,731.2 281.2,731.4 282.4,733.7 283.6,733.2 284.8,736.4 286.0,737.0 287.2,737.5 288.4,737.4 289.6,737.3 290.8,738.0 292.0,738.4 293.2,738.2 294.4,737.3 295.6,737.8 296.8,736.6 298.0,736.2 299.2,735.7 300.4,733.9 301.6,733.9 302.8,734.5 304.0,733.3 305.2,732.5 306.4,731.2 307.6,732.1 308.8,730.6 310.0,729.6 311.2,727.0 312.4,725.3 313.6,725.8 314.8,727.9 316.0,725.0 317.2,725.8 318.4,727.1 319.6,729.0 320.8,727.8 322.0,726.1 323.2,725.0 324.4,725.5 325.6,727.6 326.8,726.2 328.0,726.8 329.2,726.8 330.4,726.9 331.6,726.1 332.8,726.3 334.0,727.0 335.2,730.4 336.4,728.4 337.6,729.2 338.8,730.9 340.0,728.5 341.2,729.6 342.4,731.4 343.6,731.8 344.8,730.9 346.0,728.9 347.2,727.8 348.4,728.1 349.6,728.3 350.8,728.7 352.0,728.3 353.2,729.0 354.4,729.0 355.6,729.7 356.8,730.1 358.0,729.8 359.2,729.5 360.4,729.4 361.6,729.0 362.8,729.8 364.0,728.4 365.2,728.7 366.4,728.0 367.6,729.6 368.8,729.6 370.0,728.9 371.2,728.0 372.4,728.3 373.6,728.3 374.8,728.4 376.0,728.5 377.2,726.8 378.4,725.1 379.6,724.6 380.8,725.1 382.0,724.2 383.2,724.7 384.4,726.4 385.6,726.6 386.8,726.7 388.0,727.2 389.2,727.1 390.4,726.9 391.6,727.7 392.8,727.7 394.0,728.5 395.2,727.5 396.4,727.5 397.6,727.3 398.8,726.3 400.0,725.8 401.2,725.1 402.4,725.0 403.6,725.8 404.8,725.3 406.0,724.6 407.2,724.7 408.4,723.1 409.6,723.8 410.8,722.9 412.0,723.0 413.2,722.9 414.4,722.2 415.6,722.6 416.8,723.7 418.0,723.8 419.2,724.6 420.4,724.0 421.6,724.1 422.8,723.1 424.0,723.2 425.2,723.5 426.4,725.2 427.6,725.4 428.8,724.7 430.0,726.9 431.2,726.7 432.4,728.1 433.6,727.7 434.8,727.3 436.0,727.5 437.2,727.1 438.4,726.7 439.6,726.7 440.8,727.1 442.0,727.7 443.2,728.2 444.4,727.5 445.6,727.1 446.8,726.9 448.0,725.8 449.2,723.8 450.4,724.0 451.6,724.0 452.8,724.9 454.0,724.7 455.2,724.8 456.4,726.4 457.6,726.4 458.8,726.2 460.0,726.4" fill="none" stroke="#7a7a7a" stroke-opacity="0.25" stroke-width="0.7"/><polyline points="64.0,823.1 65.2,823.2 66.4,823.5 67.6,850.6 68.8,889.6 70.0,884.3 71.2,881.1 72.4,879.4 73.6,878.2 74.8,876.7 76.0,875.3 77.2,874.0 78.4,872.4 79.6,871.3 80.8,869.5 82.0,867.5 83.2,865.2 84.4,863.2 85.6,861.7 86.8,860.2 88.0,858.7 89.2,857.3 90.4,856.3 91.6,854.8 92.8,854.3 94.0,853.7 95.2,852.3 96.4,850.9 97.6,850.1 98.8,849.3 100.0,847.4 101.2,843.5 102.4,839.7 103.6,837.5 104.8,834.8 106.0,833.2 107.2,831.3 108.4,828.7 109.6,826.0 110.8,823.4 112.0,822.0 113.2,820.3 114.4,818.8 115.6,818.0 116.8,816.6 118.0,815.3 119.2,813.4 120.4,811.8 121.6,809.7 122.8,807.5 124.0,805.8 125.2,803.8 126.4,802.9 127.6,801.4 128.8,800.3 130.0,799.0 131.2,797.9 132.4,797.1 133.6,796.0 134.8,794.8 136.0,793.9 137.2,793.6 138.4,792.4 139.6,792.3 140.8,791.7 142.0,790.9 143.2,791.0 144.4,790.5 145.6,790.6 146.8,790.1 148.0,789.3 149.2,789.9 150.4,788.9 151.6,788.9 152.8,788.3 154.0,786.4 155.2,786.5 156.4,785.3 157.6,786.1 158.8,785.8 160.0,784.9 161.2,785.6 162.4,784.6 163.6,784.5 164.8,783.8 166.0,784.2 167.2,785.1 168.4,784.9 169.6,782.9 170.8,781.6 172.0,781.1 173.2,781.0 174.4,779.9 175.6,779.3 176.8,778.9 178.0,778.4 179.2,778.4 180.4,777.4 181.6,775.9 182.8,775.5 184.0,775.5 185.2,776.0 186.4,775.0 187.6,774.7 188.8,774.2 190.0,772.5 191.2,771.8 192.4,771.0 193.6,770.6 194.8,770.2 196.0,770.7 197.2,769.2 198.4,767.3 199.6,767.4 200.8,767.7 202.0,768.4 203.2,768.2 204.4,767.5 205.6,766.8 206.8,766.7 208.0,765.4 209.2,766.0 210.4,766.2 211.6,765.8 212.8,764.1 214.0,763.8 215.2,763.4 216.4,761.5 217.6,760.3 218.8,760.0 220.0,761.1 221.2,760.3 222.4,760.5 223.6,761.3 224.8,759.3 226.0,760.2 227.2,760.2 228.4,760.5 229.6,759.1 230.8,758.7 232.0,758.9 233.2,759.9 234.4,759.4 235.6,758.0 236.8,758.8 238.0,759.7 239.2,758.8 240.4,758.1 241.6,757.4 242.8,758.2 244.0,756.8 245.2,755.5 246.4,755.1 247.6,756.2 248.8,755.7 250.0,756.2 251.2,754.4 252.4,753.0 253.6,754.2 254.8,754.2 256.0,752.8 257.2,750.7 258.4,749.3 259.6,747.7 260.8,748.8 262.0,749.0 263.2,749.8 264.4,748.6 265.6,748.3 266.8,748.8 268.0,750.3 269.2,750.9 270.4,751.5 271.6,749.9 272.8,749.6 274.0,747.9 275.2,749.2 276.4,749.7 277.6,748.4 278.8,747.2 280.0,745.9 281.2,746.3 282.4,746.0 283.6,746.2 284.8,746.6 286.0,745.8 287.2,744.2 288.4,744.6 289.6,743.5 290.8,745.0 292.0,744.9 293.2,743.8 294.4,742.5 295.6,742.7 296.8,741.8 298.0,741.1 299.2,740.7 300.4,742.9 301.6,743.8 302.8,741.7 304.0,741.4 305.2,740.6 306.4,739.4 307.6,739.9 308.8,740.7 310.0,740.2 311.2,740.1 312.4,739.2 313.6,741.1 314.8,739.1 316.0,740.3 317.2,741.4 318.4,741.7 319.6,739.4 320.8,740.4 322.0,739.4 323.2,738.4 324.4,737.1 325.6,733.8 326.8,733.6 328.0,733.1 329.2,730.7 330.4,732.2 331.6,731.8 332.8,730.9 334.0,729.3 335.2,729.9 336.4,729.5 337.6,729.3 338.8,729.0 340.0,729.1 341.2,729.1 342.4,729.9 343.6,729.7 344.8,730.4 346.0,729.7 347.2,729.1 348.4,728.6 349.6,728.2 350.8,728.5 352.0,728.8 353.2,729.0 354.4,729.1 355.6,729.2 356.8,729.3 358.0,729.3 359.2,730.0 360.4,730.4 361.6,730.6 362.8,730.4 364.0,730.8 365.2,730.4 366.4,730.0 367.6,728.9 368.8,729.2 370.0,728.4 371.2,728.6 372.4,729.7 373.6,729.1 374.8,729.1 376.0,728.0 377.2,729.1 378.4,729.3 379.6,729.3 380.8,729.8 382.0,730.6 383.2,730.4 384.4,728.5 385.6,728.6 386.8,727.9 388.0,729.1 389.2,728.6 390.4,729.9 391.6,730.3 392.8,729.9 394.0,730.2 395.2,730.2 396.4,729.6 397.6,730.0 398.8,730.0 400.0,730.1 401.2,729.8 402.4,729.8 403.6,729.9 404.8,730.1 406.0,729.7 407.2,730.5 408.4,729.9 409.6,729.8 410.8,730.5 412.0,730.1 413.2,730.3 414.4,730.5 415.6,730.1 416.8,729.1 418.0,730.3 419.2,730.4 420.4,729.3 421.6,729.1 422.8,730.0 424.0,729.8 425.2,729.8 426.4,728.6 427.6,729.3 428.8,730.1 430.0,730.3 431.2,730.6 432.4,730.1 433.6,729.6 434.8,729.6 436.0,730.3 437.2,729.3 438.4,729.4 439.6,729.0 440.8,728.7 442.0,728.7 443.2,729.1 444.4,729.6 445.6,729.7 446.8,730.0 448.0,729.3 449.2,729.2 450.4,729.3 451.6,729.3 452.8,729.4 454.0,730.9 455.2,729.8 456.4,729.7 457.6,728.3 458.8,728.0 460.0,727.3" fill="none" stroke="#7a7a7a" stroke-opacity="0.25" stroke-width="0.7"/><polyline points="64.0,823.4 65.2,823.3 66.4,823.4 67.6,849.1 68.8,887.8 70.0,883.6 71.2,879.9 72.4,878.9 73.6,877.9 74.8,877.2 76.0,875.0 77.2,873.3 78.4,871.4 79.6,870.5 80.8,869.3 82.0,866.8 83.2,864.9 84.4,863.4 85.6,861.9 86.8,859.8 88.0,858.4 89.2,856.9 90.4,856.1 91.6,855.2 92.8,854.8 94.0,854.2 95.2,853.3 96.4,852.4 97.6,851.1 98.8,849.9 100.0,848.0 101.2,844.0 102.4,841.2 103.6,839.1 104.8,836.9 106.0,834.2 107.2,831.7 108.4,829.3 109.6,826.3 110.8,823.4 112.0,822.1 113.2,820.6 114.4,819.0 115.6,817.9 116.8,816.4 118.0,815.1 119.2,813.0 120.4,811.0 121.6,808.8 122.8,807.0 124.0,805.3 125.2,803.8 126.4,802.5 127.6,801.3 128.8,800.1 130.0,799.5 131.2,798.4 132.4,797.4 133.6,797.0 134.8,796.6 136.0,796.0 137.2,795.0 138.4,794.6 139.6,793.2 140.8,791.6 142.0,791.8 143.2,791.6 144.4,790.8 145.6,790.6 146.8,789.4 148.0,788.1 149.2,787.8 150.4,786.8 151.6,787.3 152.8,786.9 154.0,786.6 155.2,786.1 156.4,785.5 157.6,784.0 158.8,783.5 160.0,783.2 161.2,783.2 162.4,783.1 163.6,783.4 164.8,783.5 166.0,783.0 167.2,782.7 168.4,782.2 169.6,781.0 170.8,780.9 172.0,781.1 173.2,782.8 174.4,782.3 175.6,782.4 176.8,782.2 178.0,780.8 179.2,779.0 180.4,778.5 181.6,780.1 182.8,779.9 184.0,780.1 185.2,779.7 186.4,778.8 187.6,778.6 188.8,777.3 190.0,776.6 191.2,777.3 192.4,778.1 193.6,779.1 194.8,779.0 196.0,776.5 197.2,776.6 198.4,776.9 199.6,777.3 200.8,776.3 202.0,777.5 203.2,776.1 204.4,773.7 205.6,772.4 206.8,772.1 208.0,771.2 209.2,771.6 210.4,771.8 211.6,770.4 212.8,770.1 214.0,770.1 215.2,770.0 216.4,767.7 217.6,767.2 218.8,765.8 220.0,765.3 221.2,762.5 222.4,761.6 223.6,762.3 224.8,763.1 226.0,762.0 227.2,760.5 228.4,760.3 229.6,758.7 230.8,757.4 232.0,756.9 233.2,754.8 234.4,756.2 235.6,755.0 236.8,754.4 238.0,755.0 239.2,754.3 240.4,754.9 241.6,753.9 242.8,753.4 244.0,752.5 245.2,752.3 246.4,751.9 247.6,750.7 248.8,749.2 250.0,748.5 251.2,749.0 252.4,752.3 253.6,751.1 254.8,749.8 256.0,748.2 257.2,746.8 258.4,746.3 259.6,747.0 260.8,747.4 262.0,747.7 263.2,748.1 264.4,747.5 265.6,746.7 266.8,746.9 268.0,747.3 269.2,745.2 270.4,743.8 271.6,744.5 272.8,742.3 274.0,739.5 275.2,739.6 276.4,739.3 277.6,739.0 278.8,738.6 280.0,738.3 281.2,736.2 282.4,736.3 283.6,735.7 284.8,734.1 286.0,734.0 287.2,733.7 288.4,734.4 289.6,734.6 290.8,733.7 292.0,733.5 293.2,733.9 294.4,733.5 295.6,734.6 296.8,733.9 298.0,734.4 299.2,734.7 300.4,737.1 301.6,737.9 302.8,736.7 304.0,737.8 305.2,736.9 306.4,734.6 307.6,734.3 308.8,735.5 310.0,737.6 311.2,738.8 312.4,737.4 313.6,737.2 314.8,737.2 316.0,736.4 317.2,736.8 318.4,736.4 319.6,737.7 320.8,737.3 322.0,736.0 323.2,735.0 324.4,735.6 325.6,736.8 326.8,736.7 328.0,736.4 329.2,735.6 330.4,736.3 331.6,737.3 332.8,737.9 334.0,737.1 335.2,736.9 336.4,737.0 337.6,736.2 338.8,735.1 340.0,735.4 341.2,735.4 342.4,735.5 343.6,735.7 344.8,735.8 346.0,734.9 347.2,735.9 348.4,734.8 349.6,733.6 350.8,734.2 352.0,733.3 353.2,732.3 354.4,730.5 355.6,729.6 356.8,729.3 358.0,728.7 359.2,728.5 360.4,727.7 361.6,728.0 362.8,727.5 364.0,726.9 365.2,726.8 366.4,724.9 367.6,723.8 368.8,723.9 370.0,723.6 371.2,723.2 372.4,724.3 373.6,725.0 374.8,725.0 376.0,724.8 377.2,725.1 378.4,725.2 379.6,726.1 380.8,726.6 382.0,726.7 383.2,726.5 384.4,727.7 385.6,727.9 386.8,727.8 388.0,727.8 389.2,729.1 390.4,728.9 391.6,729.1 392.8,727.5 394.0,728.0 395.2,728.8 396.4,729.1 397.6,728.3 398.8,727.6 400.0,726.8 401.2,726.1 402.4,726.5 403.6,726.5 404.8,726.2 406.0,726.2 407.2,726.4 408.4,725.6 409.6,725.7 410.8,725.3 412.0,726.2 413.2,726.0 414.4,725.8 415.6,725.3 416.8,725.5 418.0,725.0 419.2,725.7 420.4,725.7 421.6,725.1 422.8,725.3 424.0,726.4 425.2,726.8 426.4,725.7 427.6,725.7 428.8,725.8 430.0,725.4 431.2,724.1 432.4,724.8 433.6,724.7 434.8,724.9 436.0,725.8 437.2,725.8 438.4,726.1 439.6,726.0 440.8,725.6 442.0,724.9 443.2,725.1 444.4,724.5 445.6,724.6 446.8,724.8 448.0,725.0 449.2,726.9 450.4,726.7 451.6,726.1 452.8,726.3 454.0,726.0 455.2,726.2 456.4,725.3 457.6,725.7 458.8,725.6 460.0,726.1" fill="none" stroke="#7a7a7a" stroke-opacity="0.25" stroke-width="0.7"/><polyline points="64.0,823.4 65.5,823.3 66.8,823.1 68.5,879.8 68.9,890.3 70.0,885.0 70.7,882.5 71.5,881.7 73.0,880.0 74.3,878.6 76.0,876.2 77.5,874.6 79.0,872.7 79.1,872.5 80.5,870.7 82.0,868.5 83.5,866.2 83.9,865.8 85.0,864.2 86.5,862.8 88.0,861.8 89.5,860.1 90.0,859.7 91.0,858.6 92.5,857.3 94.0,856.7 94.8,856.1 95.5,854.9 97.0,853.6 98.5,852.1 99.6,850.7 100.0,849.6 101.5,845.1 102.0,843.6 103.0,841.8 104.4,838.9 106.0,835.7 107.5,832.7 108.1,831.8 109.0,829.6 110.5,826.0 112.0,823.9 113.5,821.9 115.0,820.0 115.3,819.6 116.5,818.2 118.0,816.3 119.5,814.2 120.1,813.6 121.0,812.2 122.5,810.1 124.0,807.7 125.5,805.4 125.8,805.3 127.0,804.2 128.5,802.9 130.0,801.7 131.5,800.6 132.4,799.9 133.0,799.3 134.5,798.3 136.0,797.7 137.5,796.7 139.0,795.3 139.1,795.5 140.5,795.0 142.0,794.0 143.5,793.3 145.0,792.5 146.5,791.7 147.9,790.9 149.5,790.2 151.0,789.7 152.5,789.0 154.0,788.6 155.5,788.3 156.8,787.8 158.5,787.1 160.0,786.6 161.5,786.1 163.0,785.6 164.5,785.3 166.0,785.0 167.5,784.5 167.8,784.3 169.0,784.1 170.5,784.1 172.0,784.1 173.5,783.5 175.0,783.1 176.5,783.0 178.0,782.7 179.5,782.2 181.0,781.8 181.1,781.9 182.5,781.6 184.0,781.0 185.5,780.3 187.0,779.8 188.5,779.5 190.0,779.1 191.5,778.7 193.0,778.0 194.4,777.7 196.0,777.5 197.5,776.7 199.0,776.0 200.5,775.7 202.0,775.1 203.5,774.7 205.0,774.3 206.5,773.5 207.6,772.9 208.0,773.3 209.5,772.8 211.0,771.9 212.5,771.3 214.0,770.5 215.5,769.9 217.0,769.4 218.5,768.8 220.0,768.2 220.9,768.3 221.5,767.8 223.0,766.6 224.5,765.9 226.0,765.4 227.5,764.7 229.0,764.0 230.5,763.7 232.0,763.3 233.5,762.6 234.2,762.1 235.0,761.6 236.5,760.8 238.0,759.9 239.5,759.4 241.0,758.6 242.5,757.8 244.0,757.4 245.5,756.5 247.0,755.7 247.4,755.5 248.5,755.1 250.0,754.6 251.5,753.9 253.0,753.3 254.5,752.6 256.0,752.0 257.5,751.6 259.0,751.4 260.5,750.9 262.0,750.2 263.5,749.4 264.0,749.3 265.0,749.1 266.5,748.7 268.0,748.3 269.5,748.1 271.0,747.7 272.5,747.1 274.0,746.9 275.1,746.8 275.5,746.7 277.0,746.7 278.5,746.6 280.0,746.1 281.5,745.7 283.0,745.6 284.5,745.6 286.0,745.1 286.1,744.9 287.5,745.1 289.0,745.2 290.5,745.0 292.0,744.8 293.5,744.7 295.0,744.9 296.5,744.7 297.2,744.4 298.0,744.4 299.5,744.3 301.0,744.1 302.5,743.7 304.0,743.3 305.5,743.4 307.0,743.4 308.2,743.2 308.5,743.0 310.0,742.6 311.5,742.5 313.0,742.1 314.5,741.8 316.0,741.7 317.5,741.5 319.0,741.4 319.3,741.3 320.5,741.0 322.0,740.8 323.5,740.3 325.0,739.8 326.5,739.4 328.0,738.9 328.1,739.1 329.5,738.7 331.0,738.1 332.5,737.9 334.0,737.6 335.5,737.0 337.0,736.6 338.5,736.1 339.2,736.3 340.0,736.5 341.5,736.0 343.0,735.6 344.5,735.2 346.0,734.5 347.5,734.4 349.0,734.4 350.5,734.2 352.0,734.0 352.4,733.8 353.5,733.6 355.0,733.5 356.5,733.2 358.0,732.9 359.5,732.9 361.0,732.7 362.5,732.5 364.0,732.4 365.5,732.2 365.7,732.5 367.0,732.1 368.5,731.8 370.0,731.9 371.5,731.7 373.0,731.7 374.5,731.3 376.0,731.1 377.5,731.3 379.0,731.2 380.5,731.0 382.0,731.1 383.5,731.2 385.0,731.0 386.5,730.7 388.0,730.6 389.5,730.2 391.0,729.9 392.2,730.0 392.5,730.1 394.0,730.1 395.5,730.1 397.0,730.2 398.5,730.2 400.0,730.1 401.5,729.8 403.0,729.7 404.5,729.8 405.5,729.8 406.0,729.7 407.5,729.4 409.0,729.3 410.5,729.5 412.0,729.4 413.5,729.1 415.0,728.9 416.5,729.2 418.0,729.1 418.8,728.9 419.5,729.1 421.0,728.9 422.5,728.6 424.0,728.5 425.5,728.7 427.0,728.6 428.5,728.4 428.7,728.1 430.0,728.2 431.5,728.2 433.0,728.3 434.5,728.6 436.0,728.8 437.5,728.8 439.0,728.7 440.5,729.0 440.9,729.1 442.0,729.3 443.5,729.4 445.0,729.1 446.5,728.9 448.0,729.6 449.5,729.6 451.0,729.2 451.9,729.2 452.5,729.5 454.0,729.9 455.5,730.1 457.0,729.7 458.5,729.6 460.0,729.6 460.3,729.8" fill="none" stroke="#0074b6" stroke-width="1.9" stroke-linejoin="round"/></g><rect x="44.7" y="697.6" width="435.0" height="220.10000000000002" fill="none" stroke="#4a4a4a" stroke-width="0.9"/><text x="64.40" y="928.70" font-size="7.89" text-anchor="middle" fill="#262626" font-family="Liberation Sans" font-weight="normal" textLength="11.85" lengthAdjust="spacingAndGlyphs" stroke="#262626" stroke-width="0.1">0.0</text><text x="130.40" y="928.70" font-size="7.89" text-anchor="middle" fill="#262626" font-family="Liberation Sans" font-weight="normal" textLength="11.85" lengthAdjust="spacingAndGlyphs" stroke="#262626" stroke-width="0.1">0.2</text><text x="196.40" y="928.70" font-size="7.89" text-anchor="middle" fill="#262626" font-family="Liberation Sans" font-weight="normal" textLength="11.85" lengthAdjust="spacingAndGlyphs" stroke="#262626" stroke-width="0.1">0.4</text><text x="262.40" y="928.70" font-size="7.89" text-anchor="middle" fill="#262626" font-family="Liberation Sans" font-weight="normal" textLength="11.85" lengthAdjust="spacingAndGlyphs" stroke="#262626" stroke-width="0.1">0.6</text><text x="328.40" y="928.70" font-size="7.89" text-anchor="middle" fill="#262626" font-family="Liberation Sans" font-weight="normal" textLength="11.85" lengthAdjust="spacingAndGlyphs" stroke="#262626" stroke-width="0.1">0.8</text><text x="394.40" y="928.70" font-size="7.89" text-anchor="middle" fill="#262626" font-family="Liberation Sans" font-weight="normal" textLength="11.85" lengthAdjust="spacingAndGlyphs" stroke="#262626" stroke-width="0.1">1.0</text><text x="460.40" y="928.70" font-size="7.89" text-anchor="middle" fill="#262626" font-family="Liberation Sans" font-weight="normal" textLength="11.85" lengthAdjust="spacingAndGlyphs" stroke="#262626" stroke-width="0.1">1.2</text><text x="39.10" y="712.52" font-size="7.89" text-anchor="end" fill="#262626" font-family="Liberation Sans" font-weight="normal" textLength="14.22" lengthAdjust="spacingAndGlyphs" stroke="#262626" stroke-width="0.1">300</text><text x="39.10" y="750.38" font-size="7.89" text-anchor="end" fill="#262626" font-family="Liberation Sans" font-weight="normal" textLength="14.22" lengthAdjust="spacingAndGlyphs" stroke="#262626" stroke-width="0.1">200</text><text x="39.10" y="788.24" font-size="7.89" text-anchor="end" fill="#262626" font-family="Liberation Sans" font-weight="normal" textLength="14.22" lengthAdjust="spacingAndGlyphs" stroke="#262626" stroke-width="0.1">100</text><text x="39.10" y="826.10" font-size="7.89" text-anchor="end" fill="#262626" font-family="Liberation Sans" font-weight="normal" textLength="4.74" lengthAdjust="spacingAndGlyphs" stroke="#262626" stroke-width="0.1">0</text><text x="39.10" y="863.96" font-size="7.89" text-anchor="end" fill="#262626" font-family="Liberation Sans" font-weight="normal" textLength="20.46" lengthAdjust="spacingAndGlyphs" stroke="#262626" stroke-width="0.1">−100</text><text x="39.10" y="901.82" font-size="7.89" text-anchor="end" fill="#262626" font-family="Liberation Sans" font-weight="normal" textLength="20.46" lengthAdjust="spacingAndGlyphs" stroke="#262626" stroke-width="0.1">−200</text><path d="M64.40 917.7v2.7M130.40 917.7v2.7M196.40 917.7v2.7M262.40 917.7v2.7M328.40 917.7v2.7M394.40 917.7v2.7M460.40 917.7v2.7M44.7 709.82h-2.7M44.7 747.68h-2.7M44.7 785.54h-2.7M44.7 823.40h-2.7M44.7 861.26h-2.7M44.7 899.12h-2.7" stroke="#4a4a4a" stroke-width="0.9"/><text x="262.20" y="693.10" font-size="9.46" text-anchor="middle" fill="#262626" font-family="Liberation Sans" font-weight="normal" textLength="79.66" lengthAdjust="spacingAndGlyphs" stroke="#262626" stroke-width="0.1">LunarLander Beta</text><text x="262.20" y="938.90" font-size="7.89" text-anchor="middle" fill="#262626" font-family="Liberation Sans" font-weight="normal" textLength="69.93" lengthAdjust="spacingAndGlyphs" stroke="#262626" stroke-width="0.1">Environment steps</text><text x="479.70" y="937.90" font-size="7.89" text-anchor="end" fill="#262626" font-family="Liberation Sans" font-weight="normal" textLength="14.06" lengthAdjust="spacingAndGlyphs" stroke="#262626" stroke-width="0.1">1e6</text><text x="0.00" y="0.00" font-size="7.89" text-anchor="middle" fill="#262626" font-family="Liberation Sans" font-weight="normal" textLength="61.70" lengthAdjust="spacingAndGlyphs" stroke="#262626" stroke-width="0.1" transform="translate(13.64,807.65) rotate(-90)">Evaluation score</text><rect x="48.20" y="701.00" width="104.4" height="24.5" rx="1.5" fill="#fff" fill-opacity="0.8" stroke="#dcdcdc" stroke-width="0.8"/><path d="M50.90 707.60h16.4" stroke="#0074b6" stroke-width="1.9"/><rect x="50.90" y="715.60" width="15.8" height="5.9" fill="#bcdaeb" stroke="#a8cde3" stroke-width="0.6"/><text x="72.90" y="710.20" font-size="7.89" text-anchor="start" fill="#262626" font-family="Liberation Sans" font-weight="normal" textLength="76.39" lengthAdjust="spacingAndGlyphs" stroke="#262626" stroke-width="0.1">Mean (across seeds)</text><text x="72.90" y="721.10" font-size="7.89" text-anchor="start" fill="#262626" font-family="Liberation Sans" font-weight="normal" textLength="42.81" lengthAdjust="spacingAndGlyphs" stroke="#262626" stroke-width="0.1">Mean ± std</text><text x="244.00" y="994.30" font-size="25.00" text-anchor="middle" fill="#000" font-family="Liberation Serif" font-weight="bold">e</text><clipPath id="clipf"><rect x="588.6" y="697.6" width="441.9" height="220.60000000000002"/></clipPath><path d="M608.50 697.6V918.2M675.50 697.6V918.2M742.50 697.6V918.2M809.50 697.6V918.2M876.50 697.6V918.2M943.50 697.6V918.2M1010.50 697.6V918.2M588.6 908.50H1030.5M588.6 874.50H1030.5M588.6 841.50H1030.5M588.6 808.50H1030.5M588.6 775.50H1030.5M588.6 741.50H1030.5M588.6 708.50H1030.5" stroke="#c9c9c9" stroke-width="0.9" fill="none"/><g clip-path="url(#clipf)"><polyline points="680.2,798.3 681.4,797.6 682.6,795.9 683.8,793.2 685.0,792.1 686.2,791.7 687.4,789.1 688.6,786.9 689.8,785.8 691.0,783.6 692.2,783.0 693.4,783.3 693.7,781.9 694.6,781.0 695.8,780.8 697.0,782.2 698.2,781.2 699.4,780.4 700.6,781.2 701.8,781.0 703.0,782.2 704.2,782.4 704.5,780.8 705.4,779.2 706.6,779.4 707.8,779.0 709.0,775.7 710.2,774.9 711.3,776.3 712.6,773.9 713.8,771.2 715.0,769.5 716.2,768.5 717.4,768.8 718.0,766.8 718.6,763.4 719.8,761.1 721.0,760.8 722.2,761.0 723.4,758.0 724.6,757.1 724.7,756.4 725.8,754.8 727.0,754.1 728.2,753.3 729.4,752.8 730.6,751.0 731.8,749.0 732.8,746.4 734.2,746.1 735.4,746.8 736.6,744.4 737.8,741.6 739.0,741.5 740.2,741.4 740.9,740.6 741.4,739.7 742.6,739.7 743.8,738.9 745.0,738.6 746.2,738.7 747.4,737.0 748.6,736.4 749.0,734.8" fill="none" stroke="#9a9a9a" stroke-opacity="0.3" stroke-width="0.7"/><polyline points="670.8,762.3 672.0,759.8 673.2,759.0 674.4,758.4 675.6,756.9 676.8,755.1 678.0,754.3 679.2,753.8 680.2,752.1 681.6,748.9 682.8,746.9 684.0,746.9 685.2,744.8 686.4,741.7 687.0,742.2 687.6,742.9 688.8,741.6 690.0,740.1 691.2,739.5 692.4,738.0 693.6,736.0 694.8,736.4 696.0,736.7 697.2,735.2 697.8,733.2 698.4,732.2 699.6,732.5 700.8,731.4 702.0,730.7 703.2,731.8 704.4,730.2 705.6,727.8 705.9,728.2 706.8,727.3 708.0,726.5 709.2,725.7 710.4,724.8 711.6,724.2 712.8,724.0 714.0,723.8 715.2,721.8 716.4,720.3 716.6,720.8 717.6,721.0 718.8,718.0 720.0,716.5 721.2,717.2 722.4,716.9 723.6,716.5 724.7,715.2 726.0,714.4 727.2,715.6 728.4,717.6 729.6,717.2 730.8,716.9 732.0,716.8 733.2,716.4 734.4,717.6 735.5,718.4 736.8,716.7 738.0,716.7 739.2,717.9 740.4,717.2 741.6,716.2 742.8,715.9 743.6,715.7 744.0,715.3 745.2,716.3 746.4,718.5 747.6,718.0 748.8,717.0 750.0,716.7 751.2,717.8 752.4,719.4 753.6,719.8 754.4,721.3 754.8,720.9 756.0,717.0 757.2,716.7 758.4,718.1 759.6,715.9 760.8,715.5 762.0,716.9 763.2,716.8 764.4,716.3 765.6,716.5 766.8,715.0 767.9,712.6 769.2,712.6 770.4,713.2 771.6,711.1 772.8,711.2 774.0,711.5 775.2,711.4 776.4,712.9 777.6,711.9 778.8,711.8 780.0,710.6 781.2,708.8 781.4,710.4 782.4,711.9 783.6,711.6 784.8,710.9 786.0,710.5 787.2,711.2 788.4,712.2 789.6,711.2 790.8,710.6 792.0,711.8 793.2,711.0 794.4,709.8 794.9,711.0 795.6,711.7 796.8,711.9 798.0,712.2 799.2,711.6 800.3,711.0 801.6,713.3 802.8,714.5 804.0,713.1 805.2,713.7 806.4,716.6 807.6,718.3 808.0,717.9 808.8,718.5 810.0,718.5 811.2,718.2 812.4,717.8 813.6,717.3 814.8,718.2 816.0,717.3 817.2,715.7 818.4,715.3 819.6,715.9 820.8,717.6 822.0,718.2 823.2,717.8 824.4,717.6 825.6,717.5 825.7,718.1 826.8,717.7 828.0,717.2 829.2,717.4 830.4,717.1 831.6,716.9 832.8,717.4 834.0,715.7 835.2,716.4 836.4,719.6 837.6,718.5 838.8,716.3 840.0,716.1 841.2,717.1 842.4,717.4 843.6,715.3 844.8,714.6 846.0,715.4 847.2,715.9 848.4,715.0 849.6,714.0 850.8,713.7 852.0,712.6 852.2,712.9 853.2,714.2 854.4,715.4 855.6,714.3 856.8,713.0 858.0,713.6 859.2,715.6 860.4,716.0 861.6,716.8 862.8,716.1 863.3,715.1 864.0,716.6 865.2,716.1 866.4,715.8 867.6,716.6 868.8,715.7 870.0,714.2 871.2,714.1 872.4,713.1 873.6,713.9 874.3,715.2 874.8,714.0 876.0,713.1 877.2,714.0 878.4,713.1 879.6,712.0 880.8,712.9 882.0,711.7 883.2,710.6 884.4,710.9 885.4,710.1 886.8,710.0 888.0,710.6 889.2,709.9 890.4,710.4 891.6,710.9 892.8,710.3 894.0,710.0 895.2,710.3 896.4,709.6 897.6,708.1 898.7,706.7 900.0,707.9 901.2,709.4 902.4,709.4 903.6,710.2 904.8,710.5 906.0,711.8 907.2,712.0 908.4,710.8 909.6,711.4 909.7,711.6 910.8,711.8 912.0,712.9 913.2,713.5 914.4,714.2 915.6,715.8 916.8,714.5 918.0,712.9 919.2,714.4 920.4,714.5 921.6,714.5 922.8,713.9 923.0,713.7 924.0,716.5 925.2,716.3 926.4,714.6 927.6,715.6 928.8,716.7 930.0,717.4 931.2,718.0 932.4,717.1 933.6,717.6 934.0,716.2 934.8,714.8 936.0,717.1 937.2,717.4 938.4,716.9 939.6,717.7 940.8,717.8 942.0,717.5 943.2,717.8 944.4,717.4 945.6,717.1 946.8,718.8 947.3,718.3 948.0,717.3 949.2,717.9 950.4,718.5 951.6,718.8 952.8,719.0 954.0,718.8 955.2,718.6 956.4,718.4 957.6,717.7 958.8,718.9 960.0,720.2 961.2,721.4 962.4,720.5 962.8,719.3 963.6,719.3 964.8,718.4 966.0,717.5 967.2,717.2 968.4,717.4 969.6,717.8 970.8,718.0 972.0,717.6 973.2,716.4 974.4,715.8 975.6,716.3 976.0,716.1 976.8,716.8 978.0,717.2 979.2,716.1 980.4,714.2 981.6,714.5 982.8,715.0 984.0,714.3 985.2,714.6 986.4,714.9 987.6,714.1 988.8,713.5 989.3,715.0 990.0,715.1 991.2,714.7 992.4,716.1 993.6,715.1 994.8,714.5 996.0,714.2 997.2,713.6 998.4,714.2 999.6,713.9 1000.8,713.5 1002.0,713.4 1002.6,713.1 1003.2,712.8 1004.4,714.8 1005.6,715.2 1006.8,715.5 1008.0,715.8 1009.2,715.2 1010.3,716.7" fill="none" stroke="#9a9a9a" stroke-opacity="0.3" stroke-width="0.7"/><polyline points="808.0,740.7 809.2,740.4 810.4,739.9 811.6,740.4 812.8,742.5 814.0,743.7 815.2,743.4 816.4,743.1 817.6,744.1 818.8,744.8 820.0,745.2 821.2,746.1 821.3,746.0 822.4,747.6 823.6,747.1 824.8,746.2 826.0,746.2 827.2,747.6 828.4,749.1 829.6,748.2 830.8,746.8 832.0,746.5 832.3,747.5 833.2,748.0 834.4,748.2 835.6,750.1 836.8,752.4 838.0,751.7 839.2,749.0 840.4,749.8 841.6,750.2 842.8,750.0 843.4,751.5 844.0,751.9 845.2,751.9 846.4,752.3 847.6,751.9 848.8,749.7 850.0,749.2 851.2,749.8 852.4,748.5 853.6,749.0 854.8,749.1 856.0,747.2 856.6,746.8 857.2,747.2 858.4,747.8 859.6,747.3 860.8,747.6 862.0,748.7 863.2,748.4 864.4,748.3 865.6,749.1 866.8,749.4 868.0,748.4 869.2,748.2 869.9,749.5 870.4,750.1 871.6,748.8 872.8,747.1 874.0,747.4 875.2,747.6 876.4,747.2 877.6,747.2 878.8,747.0 880.0,746.8 881.0,746.9 882.4,748.4 883.6,746.6 884.8,743.5 886.0,744.3 887.2,745.1 888.4,746.1 889.6,743.9 890.8,742.6 892.0,744.0 892.0,744.0 893.2,742.6 894.4,742.5 895.6,744.3 896.8,743.1 898.0,743.4 899.2,743.7 900.4,742.3 901.6,742.8 902.8,743.0 904.0,741.6 905.2,741.6 905.3,743.4 906.4,743.6 907.6,742.3 908.8,741.7 910.0,740.9 911.2,740.2 912.4,740.8 913.6,741.5 914.8,740.3 916.0,738.2 917.2,736.9 918.4,735.7 918.6,737.1 919.6,738.3 920.8,736.6 922.0,735.7 923.2,736.3 924.4,736.3 925.6,736.9 926.8,736.5 927.4,735.0 928.0,734.9 929.2,736.3 930.4,736.3 931.6,735.6 932.8,735.0 934.0,734.4 935.2,735.2 936.4,735.5 937.6,734.8 938.8,734.3 940.0,735.3 941.2,735.8 942.4,734.3 943.6,734.9 944.8,734.8 945.1,735.6 946.0,737.6 947.2,736.7 948.4,735.8 949.6,735.8 950.8,736.7 952.0,738.4 953.2,738.7 954.4,738.6 955.6,738.8 956.8,739.6 958.0,740.0 958.4,739.8 959.2,739.8 960.4,739.4 961.6,740.5 962.8,741.6 964.0,741.1 965.2,742.1 966.4,742.1 967.6,740.3 968.8,741.1 970.0,740.8 971.2,739.2 972.4,740.0 973.6,740.3 974.8,740.8 976.0,741.6 976.0,740.9 977.2,740.7 978.4,739.7 979.6,738.2 980.8,738.0 982.0,738.3 983.2,737.3 984.4,736.9 985.6,737.4 986.8,736.9 988.0,736.6 989.2,736.8 990.4,738.2 991.5,739.1 992.8,739.8 994.0,742.2 995.2,743.1 996.4,742.4 997.6,743.5 998.8,743.4 1000.0,743.6 1000.4,743.6 1001.2,743.0 1002.4,740.5 1003.6,739.4 1004.8,740.4 1006.0,736.7 1007.2,736.4 1008.4,738.6 1009.6,735.9 1010.3,733.3" fill="none" stroke="#9a9a9a" stroke-opacity="0.3" stroke-width="0.7"/><polygon points="608.4,907.9 609.6,907.6 610.8,906.8 612.0,892.7 613.2,889.9 614.4,888.2 615.6,885.5 616.8,879.9 618.0,875.6 619.2,871.7 620.4,868.8 621.6,867.5 622.8,865.8 624.0,862.4 625.2,859.9 626.4,857.8 627.6,855.0 628.8,853.4 630.0,848.9 631.2,845.1 632.4,843.1 633.6,838.8 634.8,837.5 636.0,839.1 637.2,836.9 638.4,835.7 639.6,834.3 640.8,832.6 642.0,830.7 643.2,828.0 644.4,826.8 645.6,823.6 646.8,821.0 648.0,818.8 649.2,815.7 650.4,812.8 651.6,810.0 652.8,807.0 654.0,804.9 655.2,804.2 656.4,803.5 657.6,798.9 658.8,793.3 660.0,787.5 661.2,784.4 662.4,783.1 663.6,782.4 664.8,779.0 666.0,777.6 667.2,775.2 668.4,773.4 669.6,772.1 670.8,769.5 672.0,767.2 673.2,766.3 674.4,766.4 675.6,763.1 676.8,760.4 678.0,759.2 679.2,759.0 680.4,758.2 681.6,755.5 682.8,754.8 684.0,753.1 685.2,751.6 686.4,751.6 687.6,749.0 688.8,745.5 690.0,745.1 691.2,745.2 692.4,744.2 693.6,744.0 694.8,740.4 696.0,739.5 697.2,740.9 698.4,741.7 699.6,740.1 700.8,735.9 702.0,734.6 703.2,736.9 704.4,736.9 705.6,738.7 706.8,737.6 708.0,732.5 709.2,731.8 710.4,730.1 711.6,730.8 712.8,730.1 714.0,729.1 715.2,730.5 716.4,728.9 717.6,726.8 718.8,726.7 720.0,725.9 721.2,726.2 722.4,725.0 723.6,723.2 724.8,722.2 726.0,721.6 727.2,722.2 728.4,721.1 729.6,720.6 730.8,721.7 732.0,722.2 733.2,723.8 734.4,723.4 735.6,720.4 736.8,720.7 738.0,722.1 739.2,721.3 740.4,720.7 741.6,720.2 742.8,719.2 744.0,720.6 745.2,721.2 746.4,720.3 747.6,720.5 748.8,721.5 750.0,724.1 751.2,724.7 752.4,723.7 753.6,723.2 754.8,722.9 756.0,723.3 757.2,723.0 758.4,723.3 759.6,723.8 760.8,722.3 762.0,721.0 763.2,721.0 764.4,721.3 765.6,720.4 766.8,718.9 768.0,718.0 769.2,717.6 770.4,717.8 771.6,718.2 772.8,716.5 774.0,715.1 775.2,716.1 776.4,716.2 777.6,716.6 778.8,717.4 780.0,716.7 781.2,715.7 782.4,716.0 783.6,714.6 784.8,714.4 786.0,716.6 787.2,717.4 788.4,717.5 789.6,717.5 790.8,718.5 792.0,719.3 793.2,718.8 794.4,719.4 795.6,719.2 796.8,719.9 798.0,721.3 799.2,720.7 800.4,720.7 801.6,720.4 802.8,721.0 804.0,720.3 805.2,719.5 806.4,719.8 807.6,720.1 808.8,720.5 810.0,721.6 811.2,720.5 812.4,720.4 813.6,720.4 814.8,718.6 816.0,719.3 817.2,719.2 818.4,718.6 819.6,719.8 820.8,719.7 822.0,720.0 823.2,721.4 824.4,721.3 825.6,719.7 826.8,721.2 828.0,722.7 829.2,722.4 830.4,722.5 831.6,720.8 832.8,723.3 834.0,723.2 835.2,722.1 836.4,722.5 837.6,720.9 838.8,720.4 840.0,720.5 841.2,719.8 842.4,720.3 843.6,719.1 844.8,717.7 846.0,719.9 847.2,721.5 848.4,722.2 849.6,720.9 850.8,720.0 852.0,720.7 853.2,720.5 854.4,719.6 855.6,721.4 856.8,723.0 858.0,720.2 859.2,719.0 860.4,719.9 861.6,719.1 862.8,718.4 864.0,720.6 865.2,722.5 866.4,721.9 867.6,721.5 868.8,720.5 870.0,721.5 871.2,721.2 872.4,719.5 873.6,720.7 874.8,721.4 876.0,721.4 877.2,721.5 878.4,720.4 879.6,719.7 880.8,720.8 882.0,721.6 883.2,722.0 884.4,721.8 885.6,720.9 886.8,720.1 888.0,720.1 889.2,721.1 890.4,721.7 891.6,720.0 892.8,719.8 894.0,720.2 895.2,719.8 896.4,720.2 897.6,720.9 898.8,720.6 900.0,720.4 901.2,720.9 902.4,719.1 903.6,718.5 904.8,720.0 906.0,719.8 907.2,719.2 908.4,720.9 909.6,721.4 910.8,719.7 912.0,721.2 913.2,721.4 914.4,719.3 915.6,718.4 916.8,718.4 918.0,717.9 919.2,717.7 920.4,718.3 921.6,717.6 922.8,718.1 924.0,719.6 925.2,718.5 926.4,717.5 927.6,718.7 928.8,719.5 930.0,718.7 931.2,718.4 932.4,719.7 933.6,719.5 934.8,719.6 936.0,719.5 937.2,720.9 938.4,721.3 939.6,720.0 940.8,720.2 942.0,720.3 943.2,720.5 944.4,721.0 945.6,720.6 946.8,721.4 948.0,720.6 949.2,720.0 950.4,721.4 951.6,720.9 952.8,720.4 954.0,720.7 955.2,721.6 956.4,721.5 957.6,721.4 958.8,720.9 960.0,721.2 961.2,722.1 962.4,722.2 963.6,721.8 964.8,721.8 966.0,721.6 967.2,721.7 968.4,722.3 969.6,722.2 970.8,722.1 972.0,722.1 973.2,721.5 974.4,720.3 975.6,719.5 976.8,719.4 978.0,718.9 979.2,718.1 980.4,718.2 981.6,718.4 982.8,717.8 984.0,717.8 985.2,717.5 986.4,716.5 987.6,715.9 988.8,715.3 990.0,716.7 991.2,715.8 992.4,715.0 993.6,715.1 994.8,714.9 996.0,715.3 997.2,714.7 998.4,714.4 999.6,713.1 1000.8,713.7 1002.0,714.5 1003.2,713.2 1004.4,713.6 1005.6,714.2 1006.8,715.2 1008.0,716.5 1009.2,716.2 1009.2,736.4 1008.0,734.8 1006.8,733.6 1005.6,732.4 1004.4,733.0 1003.2,733.1 1002.0,734.3 1000.8,735.0 999.6,733.7 998.4,733.7 997.2,735.2 996.0,734.9 994.8,734.1 993.6,734.0 992.4,733.5 991.2,732.8 990.0,732.1 988.8,733.3 987.6,733.1 986.4,732.8 985.2,733.2 984.0,732.2 982.8,731.3 981.6,731.0 980.4,733.5 979.2,734.3 978.0,733.2 976.8,733.7 975.6,734.7 974.4,736.6 973.2,737.3 972.0,736.0 970.8,734.7 969.6,734.2 968.4,735.2 967.2,736.7 966.0,736.3 964.8,735.8 963.6,736.6 962.4,736.3 961.2,734.9 960.0,734.8 958.8,734.0 957.6,734.1 956.4,735.8 955.2,735.5 954.0,735.0 952.8,735.6 951.6,734.4 950.4,733.8 949.2,733.2 948.0,732.8 946.8,733.2 945.6,733.2 944.4,733.0 943.2,733.4 942.0,734.9 940.8,734.1 939.6,733.9 938.4,736.0 937.2,736.5 936.0,736.1 934.8,738.2 933.6,739.0 932.4,737.7 931.2,739.5 930.0,740.6 928.8,739.7 927.6,740.1 926.4,740.6 925.2,741.1 924.0,742.5 922.8,743.7 921.6,742.0 920.4,742.2 919.2,741.9 918.0,741.9 916.8,742.9 915.6,741.6 914.4,741.0 913.2,742.2 912.0,741.5 910.8,740.5 909.6,740.7 908.4,739.9 907.2,740.2 906.0,739.6 904.8,739.3 903.6,740.0 902.4,740.1 901.2,740.1 900.0,738.5 898.8,738.0 897.6,739.3 896.4,739.3 895.2,739.7 894.0,740.5 892.8,739.8 891.6,739.8 890.4,743.0 889.2,741.7 888.0,739.4 886.8,741.7 885.6,742.1 884.4,740.7 883.2,740.6 882.0,741.7 880.8,743.2 879.6,742.3 878.4,740.6 877.2,740.6 876.0,742.8 874.8,743.4 873.6,741.4 872.4,741.4 871.2,743.0 870.0,743.2 868.8,742.3 867.6,743.2 866.4,743.7 865.2,742.3 864.0,741.4 862.8,740.5 861.6,741.2 860.4,743.6 859.2,743.1 858.0,741.3 856.8,741.3 855.6,741.3 854.4,741.3 853.2,741.5 852.0,740.9 850.8,741.9 849.6,742.7 848.4,743.1 847.2,742.5 846.0,740.4 844.8,740.4 843.6,741.8 842.4,743.2 841.2,743.7 840.0,744.0 838.8,744.1 837.6,744.5 836.4,744.8 835.2,743.6 834.0,743.6 832.8,744.4 831.6,743.2 830.4,742.2 829.2,743.3 828.0,742.7 826.8,740.9 825.6,740.2 824.4,740.5 823.2,740.6 822.0,741.0 820.8,739.8 819.6,739.1 818.4,739.5 817.2,739.8 816.0,740.6 814.8,738.4 813.6,737.8 812.4,738.7 811.2,737.3 810.0,737.6 808.8,739.1 807.6,739.1 806.4,737.8 805.2,739.8 804.0,741.4 802.8,741.2 801.6,743.0 800.4,742.5 799.2,742.3 798.0,742.1 796.8,741.8 795.6,743.7 794.4,743.9 793.2,743.2 792.0,743.1 790.8,742.5 789.6,743.2 788.4,742.5 787.2,741.5 786.0,740.7 784.8,739.7 783.6,738.8 782.4,738.6 781.2,740.8 780.0,741.4 778.8,739.9 777.6,741.8 776.4,742.7 775.2,742.1 774.0,739.9 772.8,738.1 771.6,737.4 770.4,735.1 769.2,735.4 768.0,734.5 766.8,734.6 765.6,734.7 764.4,732.6 763.2,730.9 762.0,729.9 760.8,731.1 759.6,731.7 758.4,731.5 757.2,732.4 756.0,732.6 754.8,732.3 753.6,732.4 752.4,732.4 751.2,733.2 750.0,735.1 748.8,736.2 747.6,736.7 746.4,737.6 745.2,738.0 744.0,739.3 742.8,738.8 741.6,738.2 740.4,739.4 739.2,739.7 738.0,740.3 736.8,742.6 735.6,743.6 734.4,743.5 733.2,744.4 732.0,744.5 730.8,746.2 729.6,747.4 728.4,748.0 727.2,749.7 726.0,752.0 724.8,752.6 723.6,752.0 722.4,752.8 721.2,753.4 720.0,755.3 718.8,756.7 717.6,758.7 716.4,758.6 715.2,760.0 714.0,764.2 712.8,766.1 711.6,769.5 710.4,768.8 709.2,766.5 708.0,766.1 706.8,766.3 705.6,769.0 704.4,768.4 703.2,769.1 702.0,769.5 700.8,768.7 699.6,770.8 698.4,771.8 697.2,772.4 696.0,774.2 694.8,776.8 693.6,778.8 692.4,779.0 691.2,780.0 690.0,782.1 688.8,781.3 687.6,783.3 686.4,784.9 685.2,785.1 684.0,785.9 682.8,787.0 681.6,788.2 680.4,788.0 679.2,788.6 678.0,791.0 676.8,790.4 675.6,788.3 674.4,788.8 673.2,790.6 672.0,794.0 670.8,795.0 669.6,796.4 668.4,798.0 667.2,799.3 666.0,800.6 664.8,803.0 663.6,804.6 662.4,803.8 661.2,804.8 660.0,806.3 658.8,808.7 657.6,812.4 656.4,814.8 655.2,815.9 654.0,818.4 652.8,820.4 651.6,821.3 650.4,824.2 649.2,827.0 648.0,830.0 646.8,838.1 645.6,845.1 644.4,847.2 643.2,847.3 642.0,846.8 640.8,846.7 639.6,849.0 638.4,851.6 637.2,852.6 636.0,855.5 634.8,858.3 633.6,859.3 632.4,862.4 631.2,863.7 630.0,864.5 628.8,867.7 627.6,870.3 626.4,872.9 625.2,874.5 624.0,875.0 622.8,875.4 621.6,877.1 620.4,881.5 619.2,886.3 618.0,892.6 616.8,894.1 615.6,895.6 614.4,897.6 613.2,899.4 612.0,904.2 610.8,908.4 609.6,909.0 608.4,908.7" fill="#bcdaeb" stroke="#9fc6de" stroke-width="0.5"/><polyline points="608.4,907.3 609.6,906.2 610.8,906.7 612.0,894.0 613.2,888.4 614.4,886.0 615.6,883.3 616.8,880.4 618.0,877.0 619.2,869.8 620.4,868.1 621.6,866.6 622.8,863.5 624.0,862.5 625.2,858.9 626.4,858.2 627.6,855.6 628.8,851.9 630.0,850.0 631.2,847.0 632.4,844.0 633.6,843.4 634.8,840.1 636.0,838.9 637.2,837.2 638.4,834.9 639.6,834.3 640.8,833.3 642.0,830.9 643.2,830.3 644.4,826.8 645.6,819.7 646.8,815.9 648.0,818.3 649.2,812.6 650.4,811.0 651.6,807.9 652.8,805.6 654.0,802.9 655.2,802.1 656.4,801.3 657.6,798.5 658.8,792.5 660.0,789.1 661.2,787.6 662.4,784.0 663.6,782.2 664.8,779.5 666.0,778.8 667.2,778.1 668.4,776.0 669.6,774.3 670.8,772.3 672.0,769.8 673.2,768.1 674.4,765.4 675.6,764.3 676.8,761.1 678.0,762.5 679.2,759.8 680.4,758.5 681.6,759.0 682.8,758.3 684.0,756.3 685.2,755.7 686.4,753.5 687.6,754.4 688.8,751.6 690.0,751.7 691.2,751.4 692.4,749.6 693.6,747.9 694.8,745.6 696.0,745.3 697.2,743.8 698.4,741.4 699.6,740.7 700.8,741.1 702.0,738.4 703.2,738.5 704.4,738.1 705.6,736.5 706.8,736.4 708.0,732.5 709.2,730.7 710.4,730.3 711.6,728.9 712.8,729.5 714.0,725.4 715.2,725.7 716.4,727.1 717.6,725.2 718.8,724.2 720.0,721.8 721.2,723.7 722.4,722.4 723.6,721.1 724.8,721.6 726.0,719.4 727.2,720.9 728.4,720.9 729.6,719.4 730.8,720.5 732.0,721.0 733.2,722.4 734.4,720.2 735.6,720.2 736.8,720.5 738.0,720.5 739.2,719.3 740.4,720.1 741.6,720.0 742.8,721.1 744.0,721.4 745.2,721.7 746.4,721.0 747.6,722.3 748.8,722.7 750.0,723.8 751.2,722.8 752.4,722.5 753.6,723.4 754.8,721.6 756.0,722.8 757.2,723.0 758.4,722.3 759.6,721.3 760.8,721.4 762.0,721.4 763.2,719.7 764.4,721.4 765.6,717.6 766.8,718.2 768.0,717.9 769.2,719.3 770.4,719.6 771.6,716.9 772.8,716.9 774.0,715.9 775.2,714.8 776.4,714.8 777.6,715.3 778.8,716.8 780.0,716.5 781.2,716.6 782.4,717.0 783.6,716.6 784.8,715.2 786.0,716.8 787.2,717.0 788.4,717.8 789.6,717.3 790.8,718.0 792.0,718.2 793.2,720.3 794.4,719.5 795.6,721.1 796.8,719.0 798.0,719.8 799.2,720.3 800.4,719.5 801.6,721.6 802.8,719.5 804.0,719.7 805.2,719.1 806.4,720.0 807.6,718.5 808.8,719.3 810.0,720.0 811.2,718.7 812.4,717.9 813.6,717.3 814.8,718.4 816.0,717.9 817.2,717.5 818.4,719.8 819.6,718.5 820.8,718.9 822.0,719.9 823.2,720.3 824.4,721.8 825.6,721.3 826.8,722.0 828.0,722.1 829.2,721.9 830.4,722.6 831.6,720.4 832.8,722.4 834.0,722.0 835.2,722.2 836.4,721.1 837.6,721.4 838.8,721.3 840.0,720.8 841.2,722.1 842.4,721.6 843.6,721.1 844.8,721.6 846.0,722.4 847.2,721.4 848.4,722.1 849.6,722.1 850.8,722.0 852.0,722.6 853.2,722.4 854.4,722.3 855.6,721.7 856.8,721.7 858.0,723.2 859.2,721.9 860.4,721.4 861.6,722.5 862.8,720.8 864.0,720.0 865.2,721.3 866.4,723.6 867.6,722.7 868.8,725.0 870.0,723.9 871.2,723.6 872.4,726.0 873.6,726.2 874.8,726.2 876.0,725.1 877.2,725.8 878.4,726.2 879.6,724.1 880.8,723.6 882.0,722.6 883.2,722.9 884.4,721.9 885.6,722.9 886.8,721.2 888.0,719.4 889.2,718.0 890.4,717.9 891.6,717.6 892.8,717.4 894.0,717.2 895.2,717.8 896.4,717.9 897.6,718.5 898.8,719.6 900.0,718.2 901.2,718.7 902.4,720.5 903.6,720.8 904.8,721.2 906.0,720.6 907.2,720.6 908.4,719.4 909.6,718.9 910.8,719.1 912.0,719.2 913.2,720.3 914.4,721.6 915.6,720.1 916.8,721.5 918.0,720.1 919.2,720.5 920.4,719.7 921.6,716.5 922.8,716.4 924.0,718.0 925.2,719.8 926.4,719.4 927.6,720.5 928.8,720.1 930.0,719.6 931.2,719.5 932.4,720.3 933.6,720.5 934.8,718.6 936.0,719.2 937.2,718.5 938.4,717.2 939.6,718.9 940.8,719.1 942.0,719.3 943.2,721.2 944.4,720.8 945.6,720.7 946.8,722.7 948.0,721.5 949.2,721.7 950.4,722.4 951.6,722.6 952.8,722.1 954.0,721.9 955.2,722.3 956.4,722.2 957.6,722.6 958.8,722.0 960.0,722.2 961.2,722.6 962.4,722.2 963.6,723.1 964.8,721.3 966.0,720.4 967.2,719.7 968.4,720.5 969.6,719.3 970.8,719.5 972.0,721.1 973.2,719.3 974.4,719.6 975.6,719.6 976.8,719.6 978.0,719.2 979.2,718.7 980.4,718.1 981.6,717.5 982.8,716.6 984.0,715.9 985.2,717.5 986.4,716.4 987.6,716.0 988.8,715.1 990.0,714.5 991.2,715.8 992.4,715.0 993.6,716.2 994.8,716.1 996.0,715.9 997.2,717.2 998.4,716.6 999.6,717.1 1000.8,717.6 1002.0,718.3 1003.2,719.0 1004.4,719.6 1005.6,721.4 1006.8,720.6 1008.0,723.4 1009.2,723.9" fill="none" stroke="#7a7a7a" stroke-opacity="0.3" stroke-width="0.7"/><polyline points="608.4,907.5 609.6,907.4 610.8,906.8 612.0,896.1 613.2,890.0 614.4,887.0 615.6,883.8 616.8,882.4 618.0,879.9 619.2,871.9 620.4,869.6 621.6,868.0 622.8,865.9 624.0,864.1 625.2,862.8 626.4,860.0 627.6,857.1 628.8,854.7 630.0,852.6 631.2,849.7 632.4,846.0 633.6,844.1 634.8,841.8 636.0,842.3 637.2,840.1 638.4,839.3 639.6,838.3 640.8,837.1 642.0,835.5 643.2,834.9 644.4,833.5 645.6,827.5 646.8,822.3 648.0,820.0 649.2,817.6 650.4,814.4 651.6,811.2 652.8,809.6 654.0,808.3 655.2,806.5 656.4,804.9 657.6,802.4 658.8,799.0 660.0,794.1 661.2,792.1 662.4,793.7 663.6,790.2 664.8,786.9 666.0,784.7 667.2,784.6 668.4,783.5 669.6,782.5 670.8,780.6 672.0,778.8 673.2,777.3 674.4,775.1 675.6,774.3 676.8,772.9 678.0,769.0 679.2,767.8 680.4,767.7 681.6,765.8 682.8,764.9 684.0,764.2 685.2,764.9 686.4,762.4 687.6,759.7 688.8,759.1 690.0,759.1 691.2,756.5 692.4,756.7 693.6,755.6 694.8,753.6 696.0,752.7 697.2,754.0 698.4,752.2 699.6,751.3 700.8,750.0 702.0,746.3 703.2,746.3 704.4,747.3 705.6,745.5 706.8,744.8 708.0,743.6 709.2,741.1 710.4,739.6 711.6,739.9 712.8,738.2 714.0,737.4 715.2,736.8 716.4,736.1 717.6,734.7 718.8,731.9 720.0,733.1 721.2,732.0 722.4,729.9 723.6,731.3 724.8,731.4 726.0,730.3 727.2,727.2 728.4,727.3 729.6,728.0 730.8,726.7 732.0,726.0 733.2,725.2 734.4,725.0 735.6,724.6 736.8,723.9 738.0,724.4 739.2,724.2 740.4,723.3 741.6,723.8 742.8,724.2 744.0,724.3 745.2,724.0 746.4,724.5 747.6,724.1 748.8,725.0 750.0,725.2 751.2,724.3 752.4,725.8 753.6,726.0 754.8,725.8 756.0,724.6 757.2,725.2 758.4,725.1 759.6,725.6 760.8,725.8 762.0,725.3 763.2,723.9 764.4,723.9 765.6,723.6 766.8,723.7 768.0,723.5 769.2,723.3 770.4,723.0 771.6,723.8 772.8,722.1 774.0,722.9 775.2,722.4 776.4,721.2 777.6,723.4 778.8,722.4 780.0,722.8 781.2,723.7 782.4,722.4 783.6,721.4 784.8,721.5 786.0,723.3 787.2,722.7 788.4,724.1 789.6,724.4 790.8,723.9 792.0,724.1 793.2,723.8 794.4,723.5 795.6,720.9 796.8,722.2 798.0,722.4 799.2,722.1 800.4,724.0 801.6,721.9 802.8,723.9 804.0,721.9 805.2,723.5 806.4,723.9 807.6,723.2 808.8,723.3 810.0,723.0 811.2,725.6 812.4,725.4 813.6,725.3 814.8,727.2 816.0,728.0 817.2,726.0 818.4,725.3 819.6,724.8 820.8,725.2 822.0,724.8 823.2,725.7 824.4,726.6 825.6,725.8 826.8,724.9 828.0,726.1 829.2,727.7 830.4,727.5 831.6,731.1 832.8,729.4 834.0,728.5 835.2,729.3 836.4,730.8 837.6,730.7 838.8,730.0 840.0,729.3 841.2,730.2 842.4,729.2 843.6,729.4 844.8,729.7 846.0,729.3 847.2,729.1 848.4,729.3 849.6,729.3 850.8,728.4 852.0,730.0 853.2,727.3 854.4,727.8 855.6,728.3 856.8,727.5 858.0,729.7 859.2,729.1 860.4,727.1 861.6,726.1 862.8,725.5 864.0,726.5 865.2,727.4 866.4,726.5 867.6,726.7 868.8,726.0 870.0,723.7 871.2,725.1 872.4,727.3 873.6,726.2 874.8,728.6 876.0,729.0 877.2,728.7 878.4,728.7 879.6,726.5 880.8,725.1 882.0,725.9 883.2,726.1 884.4,725.9 885.6,725.3 886.8,725.6 888.0,724.9 889.2,723.8 890.4,722.5 891.6,724.8 892.8,723.7 894.0,724.8 895.2,726.8 896.4,726.0 897.6,725.8 898.8,724.6 900.0,726.2 901.2,723.8 902.4,725.2 903.6,726.9 904.8,727.2 906.0,727.6 907.2,726.6 908.4,726.1 909.6,726.4 910.8,727.9 912.0,727.6 913.2,725.6 914.4,725.2 915.6,725.4 916.8,726.1 918.0,725.6 919.2,725.4 920.4,726.8 921.6,726.4 922.8,726.2 924.0,727.3 925.2,725.0 926.4,724.1 927.6,724.3 928.8,724.3 930.0,725.3 931.2,726.2 932.4,724.5 933.6,724.8 934.8,725.3 936.0,726.3 937.2,725.3 938.4,724.1 939.6,725.4 940.8,724.2 942.0,724.1 943.2,723.3 944.4,721.4 945.6,723.6 946.8,724.7 948.0,723.0 949.2,723.1 950.4,723.2 951.6,724.4 952.8,724.0 954.0,723.0 955.2,722.4 956.4,723.2 957.6,724.0 958.8,723.7 960.0,725.2 961.2,723.6 962.4,724.3 963.6,723.7 964.8,723.5 966.0,723.3 967.2,723.9 968.4,722.8 969.6,724.0 970.8,724.3 972.0,723.8 973.2,724.9 974.4,725.2 975.6,724.2 976.8,724.1 978.0,723.2 979.2,724.5 980.4,724.7 981.6,722.3 982.8,722.4 984.0,721.4 985.2,722.2 986.4,723.1 987.6,720.5 988.8,720.8 990.0,720.7 991.2,721.0 992.4,723.5 993.6,722.0 994.8,722.4 996.0,722.1 997.2,722.2 998.4,721.9 999.6,721.9 1000.8,722.9 1002.0,724.6 1003.2,725.8 1004.4,725.7 1005.6,727.9 1006.8,727.0 1008.0,727.6 1009.2,728.3" fill="none" stroke="#7a7a7a" stroke-opacity="0.3" stroke-width="0.7"/><polyline points="608.4,907.4 609.6,907.2 610.8,908.6 612.0,899.2 613.2,893.2 614.4,890.4 615.6,887.5 616.8,887.0 618.0,885.1 619.2,875.4 620.4,872.2 621.6,868.2 622.8,866.7 624.0,866.8 625.2,864.8 626.4,862.9 627.6,859.5 628.8,857.4 630.0,854.9 631.2,853.6 632.4,850.6 633.6,848.9 634.8,846.7 636.0,843.5 637.2,842.7 638.4,841.0 639.6,840.9 640.8,839.8 642.0,840.0 643.2,837.7 644.4,835.6 645.6,830.9 646.8,825.4 648.0,822.7 649.2,819.5 650.4,815.5 651.6,812.7 652.8,809.0 654.0,808.4 655.2,808.3 656.4,805.6 657.6,804.7 658.8,801.3 660.0,796.9 661.2,794.5 662.4,792.0 663.6,793.4 664.8,790.9 666.0,790.1 667.2,788.3 668.4,786.3 669.6,784.3 670.8,781.6 672.0,779.7 673.2,778.4 674.4,775.2 675.6,775.2 676.8,770.8 678.0,770.7 679.2,768.9 680.4,767.5 681.6,766.8 682.8,764.8 684.0,763.9 685.2,762.4 686.4,762.8 687.6,762.0 688.8,761.9 690.0,762.8 691.2,760.4 692.4,760.3 693.6,761.2 694.8,757.7 696.0,755.5 697.2,755.5 698.4,756.2 699.6,753.9 700.8,752.7 702.0,751.4 703.2,753.9 704.4,753.2 705.6,748.7 706.8,748.5 708.0,745.5 709.2,742.3 710.4,743.9 711.6,744.9 712.8,742.0 714.0,742.5 715.2,741.4 716.4,740.7 717.6,737.8 718.8,737.4 720.0,735.9 721.2,736.7 722.4,735.2 723.6,732.9 724.8,732.0 726.0,730.9 727.2,728.7 728.4,730.9 729.6,731.3 730.8,730.0 732.0,728.7 733.2,729.7 734.4,730.4 735.6,728.8 736.8,728.3 738.0,727.9 739.2,729.0 740.4,725.9 741.6,727.4 742.8,726.0 744.0,725.8 745.2,724.2 746.4,724.0 747.6,723.1 748.8,726.9 750.0,725.9 751.2,725.7 752.4,724.4 753.6,726.1 754.8,725.7 756.0,725.9 757.2,725.4 758.4,724.2 759.6,725.2 760.8,724.3 762.0,724.2 763.2,724.6 764.4,725.6 765.6,725.1 766.8,725.0 768.0,725.9 769.2,726.0 770.4,725.9 771.6,724.1 772.8,725.0 774.0,726.3 775.2,728.4 776.4,725.0 777.6,726.8 778.8,725.8 780.0,726.5 781.2,725.7 782.4,725.5 783.6,723.0 784.8,724.3 786.0,724.5 787.2,725.1 788.4,726.8 789.6,725.9 790.8,725.8 792.0,727.6 793.2,725.2 794.4,725.1 795.6,725.9 796.8,723.3 798.0,725.0 799.2,724.7 800.4,723.7 801.6,724.2 802.8,725.7 804.0,723.6 805.2,724.9 806.4,725.9 807.6,726.1 808.8,727.1 810.0,727.7 811.2,729.2 812.4,728.0 813.6,726.9 814.8,726.0 816.0,726.0 817.2,725.1 818.4,726.0 819.6,726.8 820.8,725.5 822.0,726.3 823.2,728.1 824.4,725.8 825.6,726.7 826.8,727.4 828.0,727.8 829.2,729.8 830.4,732.2 831.6,731.7 832.8,730.7 834.0,731.5 835.2,733.0 836.4,734.6 837.6,731.7 838.8,733.7 840.0,733.2 841.2,732.4 842.4,731.7 843.6,730.4 844.8,729.2 846.0,727.5 847.2,728.9 848.4,728.9 849.6,729.7 850.8,729.7 852.0,728.3 853.2,726.6 854.4,728.6 855.6,730.6 856.8,730.6 858.0,732.0 859.2,733.4 860.4,733.0 861.6,732.1 862.8,731.0 864.0,731.0 865.2,729.0 866.4,730.7 867.6,730.7 868.8,732.2 870.0,728.8 871.2,731.3 872.4,731.8 873.6,728.6 874.8,728.4 876.0,728.8 877.2,728.2 878.4,728.8 879.6,728.8 880.8,729.0 882.0,728.6 883.2,728.3 884.4,729.4 885.6,728.4 886.8,727.9 888.0,728.1 889.2,728.1 890.4,728.4 891.6,728.5 892.8,726.8 894.0,727.6 895.2,729.5 896.4,727.6 897.6,727.6 898.8,727.0 900.0,726.1 901.2,726.6 902.4,725.3 903.6,724.9 904.8,723.5 906.0,726.7 907.2,727.2 908.4,726.5 909.6,729.6 910.8,730.8 912.0,731.2 913.2,730.9 914.4,731.3 915.6,733.6 916.8,732.4 918.0,733.7 919.2,731.9 920.4,730.9 921.6,727.8 922.8,727.2 924.0,727.9 925.2,728.0 926.4,729.0 927.6,728.6 928.8,724.9 930.0,725.9 931.2,723.9 932.4,724.1 933.6,724.2 934.8,726.2 936.0,726.9 937.2,725.4 938.4,723.8 939.6,724.1 940.8,723.7 942.0,724.5 943.2,724.4 944.4,724.4 945.6,725.4 946.8,725.7 948.0,725.8 949.2,726.2 950.4,725.2 951.6,726.0 952.8,724.6 954.0,726.5 955.2,725.5 956.4,726.9 957.6,726.0 958.8,726.1 960.0,727.4 961.2,725.7 962.4,726.1 963.6,726.4 964.8,725.9 966.0,727.4 967.2,726.9 968.4,726.9 969.6,727.4 970.8,726.6 972.0,725.8 973.2,727.1 974.4,726.9 975.6,727.0 976.8,726.3 978.0,726.1 979.2,726.2 980.4,724.3 981.6,723.8 982.8,722.7 984.0,725.0 985.2,724.7 986.4,722.7 987.6,721.5 988.8,720.1 990.0,719.9 991.2,718.9 992.4,718.5 993.6,718.5 994.8,719.1 996.0,718.8 997.2,718.9 998.4,715.8 999.6,715.6 1000.8,716.5 1002.0,717.1 1003.2,717.0 1004.4,715.8 1005.6,716.4 1006.8,717.7 1008.0,716.4 1009.2,715.7" fill="none" stroke="#7a7a7a" stroke-opacity="0.3" stroke-width="0.7"/><polyline points="608.4,908.1 609.6,907.4 610.8,907.9 612.0,900.9 613.2,894.2 614.4,891.8 615.6,889.8 616.8,889.0 618.0,886.2 619.2,878.3 620.4,874.5 621.6,871.4 622.8,869.4 624.0,869.5 625.2,866.5 626.4,865.0 627.6,862.6 628.8,860.3 630.0,857.7 631.2,855.8 632.4,853.4 633.6,850.7 634.8,848.8 636.0,846.9 637.2,845.6 638.4,845.2 639.6,842.9 640.8,840.4 642.0,839.6 643.2,839.8 644.4,835.9 645.6,832.5 646.8,827.8 648.0,823.6 649.2,821.2 650.4,817.8 651.6,817.1 652.8,813.0 654.0,811.8 655.2,810.7 656.4,808.7 657.6,807.2 658.8,804.6 660.0,800.7 661.2,798.5 662.4,797.5 663.6,796.8 664.8,794.6 666.0,794.5 667.2,793.8 668.4,790.4 669.6,788.7 670.8,788.1 672.0,785.3 673.2,782.5 674.4,781.8 675.6,779.7 676.8,779.9 678.0,778.6 679.2,775.8 680.4,776.7 681.6,775.4 682.8,775.3 684.0,772.5 685.2,771.4 686.4,769.9 687.6,768.3 688.8,767.9 690.0,767.0 691.2,767.7 692.4,764.3 693.6,763.9 694.8,760.6 696.0,760.6 697.2,759.9 698.4,757.8 699.6,755.1 700.8,755.0 702.0,753.9 703.2,754.4 704.4,754.7 705.6,754.6 706.8,753.1 708.0,753.5 709.2,752.2 710.4,750.5 711.6,749.9 712.8,747.8 714.0,746.2 715.2,745.0 716.4,744.0 717.6,745.1 718.8,743.8 720.0,742.1 721.2,741.5 722.4,740.7 723.6,736.8 724.8,737.8 726.0,735.9 727.2,734.6 728.4,734.3 729.6,733.9 730.8,734.0 732.0,732.6 733.2,732.3 734.4,731.6 735.6,732.2 736.8,731.9 738.0,731.5 739.2,730.4 740.4,731.2 741.6,731.0 742.8,729.2 744.0,729.3 745.2,730.5 746.4,730.3 747.6,729.4 748.8,727.9 750.0,728.3 751.2,727.9 752.4,729.1 753.6,727.4 754.8,727.6 756.0,728.6 757.2,729.3 758.4,727.1 759.6,726.5 760.8,727.8 762.0,727.3 763.2,726.9 764.4,728.5 765.6,728.0 766.8,727.4 768.0,727.2 769.2,728.5 770.4,727.9 771.6,726.4 772.8,728.3 774.0,728.5 775.2,728.1 776.4,728.9 777.6,729.4 778.8,728.8 780.0,728.5 781.2,727.6 782.4,728.8 783.6,730.1 784.8,730.8 786.0,729.5 787.2,730.8 788.4,730.9 789.6,732.3 790.8,733.8 792.0,732.5 793.2,733.5 794.4,732.8 795.6,733.2 796.8,732.8 798.0,732.8 799.2,732.9 800.4,732.3 801.6,731.1 802.8,730.3 804.0,730.3 805.2,729.6 806.4,729.3 807.6,728.0 808.8,728.2 810.0,728.9 811.2,729.7 812.4,729.3 813.6,730.1 814.8,730.8 816.0,731.4 817.2,729.8 818.4,729.6 819.6,727.7 820.8,729.4 822.0,728.1 823.2,728.1 824.4,728.7 825.6,729.3 826.8,731.8 828.0,730.6 829.2,731.4 830.4,732.5 831.6,733.2 832.8,734.6 834.0,733.8 835.2,735.7 836.4,736.5 837.6,737.1 838.8,736.8 840.0,735.6 841.2,737.8 842.4,735.7 843.6,736.3 844.8,735.8 846.0,736.0 847.2,736.2 848.4,735.4 849.6,733.0 850.8,734.1 852.0,734.1 853.2,733.8 854.4,732.9 855.6,734.9 856.8,734.6 858.0,734.4 859.2,733.8 860.4,733.6 861.6,731.5 862.8,731.7 864.0,731.3 865.2,732.3 866.4,731.4 867.6,730.3 868.8,730.2 870.0,732.2 871.2,732.3 872.4,733.0 873.6,732.6 874.8,732.9 876.0,732.3 877.2,734.7 878.4,734.0 879.6,733.5 880.8,733.2 882.0,732.3 883.2,732.3 884.4,733.7 885.6,732.4 886.8,732.5 888.0,731.7 889.2,731.8 890.4,732.1 891.6,732.0 892.8,731.9 894.0,731.3 895.2,730.9 896.4,730.4 897.6,730.6 898.8,730.7 900.0,730.3 901.2,730.2 902.4,730.9 903.6,731.3 904.8,730.4 906.0,731.3 907.2,731.9 908.4,732.1 909.6,731.8 910.8,732.8 912.0,731.8 913.2,731.8 914.4,731.5 915.6,732.1 916.8,733.3 918.0,731.5 919.2,732.2 920.4,732.0 921.6,732.1 922.8,732.2 924.0,731.0 925.2,730.1 926.4,731.7 927.6,729.6 928.8,730.8 930.0,730.5 931.2,729.4 932.4,730.1 933.6,729.7 934.8,729.4 936.0,728.2 937.2,727.8 938.4,728.5 939.6,729.2 940.8,728.6 942.0,728.4 943.2,728.1 944.4,728.7 945.6,728.4 946.8,727.5 948.0,728.0 949.2,728.9 950.4,728.9 951.6,728.7 952.8,728.1 954.0,728.6 955.2,728.6 956.4,727.4 957.6,726.9 958.8,728.5 960.0,727.7 961.2,728.7 962.4,728.9 963.6,728.7 964.8,728.6 966.0,729.7 967.2,729.3 968.4,728.5 969.6,729.1 970.8,727.6 972.0,728.6 973.2,728.3 974.4,728.0 975.6,727.6 976.8,727.8 978.0,726.7 979.2,726.6 980.4,725.8 981.6,726.8 982.8,726.4 984.0,725.0 985.2,725.7 986.4,725.4 987.6,724.2 988.8,723.2 990.0,723.9 991.2,722.9 992.4,724.3 993.6,722.9 994.8,721.5 996.0,721.9 997.2,721.3 998.4,721.5 999.6,720.4 1000.8,719.6 1002.0,721.0 1003.2,719.5 1004.4,718.8 1005.6,718.7 1006.8,719.2 1008.0,720.1 1009.2,719.6" fill="none" stroke="#7a7a7a" stroke-opacity="0.3" stroke-width="0.7"/><polyline points="608.4,908.9 609.6,908.6 610.8,909.3 612.0,903.7 613.2,894.8 614.4,893.5 615.6,890.9 616.8,892.2 618.0,890.4 619.2,882.1 620.4,877.8 621.6,872.3 622.8,871.6 624.0,871.7 625.2,870.9 626.4,869.3 627.6,867.1 628.8,864.9 630.0,863.0 631.2,860.0 632.4,858.2 633.6,853.5 634.8,852.5 636.0,851.4 637.2,849.1 638.4,847.5 639.6,846.2 640.8,845.3 642.0,842.7 643.2,841.1 644.4,839.3 645.6,835.2 646.8,829.1 648.0,825.2 649.2,822.1 650.4,818.8 651.6,817.5 652.8,815.2 654.0,813.8 655.2,812.1 656.4,811.0 657.6,809.3 658.8,808.0 660.0,804.4 661.2,803.3 662.4,801.5 663.6,800.3 664.8,800.0 666.0,799.3 667.2,798.2 668.4,796.0 669.6,794.2 670.8,791.1 672.0,791.4 673.2,788.8 674.4,788.7 675.6,787.5 676.8,785.9 678.0,783.9 679.2,783.2 680.4,781.3 681.6,780.4 682.8,779.6 684.0,777.8 685.2,777.5 686.4,776.2 687.6,775.8 688.8,774.5 690.0,774.5 691.2,773.3 692.4,771.8 693.6,769.8 694.8,766.4 696.0,765.9 697.2,766.3 698.4,765.4 699.6,763.7 700.8,764.7 702.0,765.6 703.2,764.1 704.4,762.2 705.6,759.5 706.8,757.9 708.0,757.2 709.2,755.0 710.4,753.9 711.6,752.2 712.8,752.0 714.0,751.7 715.2,749.3 716.4,748.2 717.6,748.0 718.8,746.6 720.0,745.7 721.2,745.8 722.4,745.4 723.6,744.8 724.8,744.2 726.0,744.4 727.2,744.2 728.4,741.7 729.6,740.0 730.8,739.0 732.0,739.0 733.2,737.8 734.4,736.5 735.6,736.0 736.8,736.7 738.0,735.4 739.2,735.4 740.4,734.3 741.6,734.4 742.8,733.8 744.0,733.2 745.2,732.1 746.4,730.2 747.6,731.7 748.8,730.2 750.0,730.8 751.2,730.6 752.4,730.0 753.6,731.0 754.8,729.2 756.0,729.2 757.2,728.9 758.4,729.6 759.6,729.2 760.8,729.5 762.0,731.4 763.2,729.7 764.4,730.3 765.6,729.6 766.8,730.1 768.0,731.1 769.2,731.0 770.4,732.2 771.6,732.1 772.8,731.7 774.0,732.7 775.2,732.2 776.4,732.6 777.6,732.0 778.8,731.3 780.0,730.3 781.2,732.3 782.4,731.6 783.6,731.9 784.8,730.5 786.0,731.8 787.2,734.2 788.4,735.1 789.6,737.4 790.8,736.7 792.0,737.5 793.2,738.2 794.4,737.2 795.6,738.0 796.8,738.0 798.0,738.4 799.2,738.1 800.4,736.6 801.6,736.1 802.8,735.9 804.0,735.9 805.2,732.5 806.4,733.6 807.6,733.8 808.8,733.2 810.0,733.0 811.2,731.8 812.4,733.6 813.6,732.9 814.8,735.2 816.0,735.5 817.2,734.7 818.4,735.0 819.6,736.0 820.8,734.8 822.0,735.5 823.2,733.1 824.4,734.9 825.6,733.7 826.8,734.7 828.0,736.0 829.2,738.5 830.4,739.2 831.6,738.2 832.8,739.3 834.0,738.6 835.2,738.8 836.4,739.2 837.6,740.4 838.8,742.4 840.0,741.7 841.2,741.0 842.4,740.0 843.6,741.0 844.8,739.1 846.0,739.2 847.2,738.3 848.4,738.7 849.6,737.9 850.8,736.7 852.0,737.0 853.2,736.4 854.4,735.5 855.6,736.2 856.8,738.1 858.0,737.9 859.2,738.2 860.4,736.6 861.6,737.7 862.8,736.3 864.0,736.7 865.2,737.4 866.4,735.6 867.6,736.2 868.8,737.3 870.0,736.2 871.2,735.7 872.4,734.9 873.6,735.5 874.8,736.7 876.0,735.6 877.2,736.8 878.4,736.9 879.6,737.5 880.8,737.2 882.0,736.2 883.2,735.6 884.4,737.1 885.6,736.0 886.8,736.1 888.0,736.1 889.2,737.3 890.4,735.1 891.6,735.9 892.8,736.5 894.0,737.0 895.2,735.1 896.4,734.7 897.6,733.9 898.8,733.6 900.0,734.8 901.2,735.6 902.4,736.8 903.6,736.4 904.8,736.6 906.0,735.8 907.2,736.9 908.4,736.6 909.6,736.3 910.8,736.5 912.0,737.8 913.2,736.2 914.4,736.0 915.6,736.5 916.8,736.7 918.0,736.3 919.2,735.7 920.4,735.3 921.6,735.0 922.8,735.8 924.0,735.8 925.2,734.2 926.4,733.7 927.6,735.5 928.8,734.9 930.0,734.9 931.2,733.6 932.4,734.9 933.6,732.9 934.8,733.3 936.0,732.7 937.2,730.8 938.4,729.5 939.6,728.7 940.8,730.0 942.0,729.2 943.2,730.1 944.4,730.6 945.6,729.7 946.8,730.0 948.0,730.4 949.2,730.7 950.4,731.3 951.6,729.9 952.8,730.6 954.0,730.7 955.2,731.3 956.4,730.6 957.6,731.6 958.8,731.9 960.0,731.9 961.2,731.8 962.4,732.4 963.6,732.5 964.8,731.6 966.0,731.0 967.2,731.6 968.4,730.9 969.6,732.2 970.8,731.6 972.0,733.1 973.2,733.6 974.4,733.9 975.6,731.8 976.8,731.1 978.0,730.9 979.2,731.6 980.4,730.4 981.6,729.7 982.8,727.8 984.0,728.4 985.2,728.1 986.4,727.7 987.6,726.1 988.8,726.7 990.0,724.9 991.2,723.4 992.4,724.1 993.6,723.9 994.8,725.2 996.0,723.9 997.2,723.7 998.4,723.2 999.6,724.9 1000.8,724.4 1002.0,724.3 1003.2,723.5 1004.4,722.5 1005.6,723.8 1006.8,722.7 1008.0,722.7 1009.2,723.7" fill="none" stroke="#7a7a7a" stroke-opacity="0.3" stroke-width="0.7"/><polyline points="608.4,909.0 609.6,909.7 610.8,910.2 612.0,906.6 613.2,898.3 614.4,896.7 615.6,895.7 616.8,894.5 618.0,894.8 619.2,886.1 620.4,881.1 621.6,875.6 622.8,874.4 624.0,875.0 625.2,873.9 626.4,872.8 627.6,869.7 628.8,868.3 630.0,864.6 631.2,863.6 632.4,864.2 633.6,860.2 634.8,855.9 636.0,852.4 637.2,852.5 638.4,852.0 639.6,848.5 640.8,849.1 642.0,849.5 643.2,847.2 644.4,848.7 645.6,843.5 646.8,836.0 648.0,828.6 649.2,825.8 650.4,822.2 651.6,820.5 652.8,818.6 654.0,816.6 655.2,815.7 656.4,813.4 657.6,811.7 658.8,809.7 660.0,805.5 661.2,805.2 662.4,804.6 663.6,805.3 664.8,803.8 666.0,800.4 667.2,799.4 668.4,796.7 669.6,796.0 670.8,793.8 672.0,792.9 673.2,792.9 674.4,793.3 675.6,793.3 676.8,791.9 678.0,792.2 679.2,786.7 680.4,786.9 681.6,782.7 682.8,778.6 684.0,781.1 685.2,781.8 686.4,781.3 687.6,782.9 688.8,781.5 690.0,780.0 691.2,782.8 692.4,779.9 693.6,777.4 694.8,774.9 696.0,773.5 697.2,773.7 698.4,773.2 699.6,769.9 700.8,771.3 702.0,768.6 703.2,769.5 704.4,766.0 705.6,765.1 706.8,768.2 708.0,765.7 709.2,762.6 710.4,765.9 711.6,763.9 712.8,764.2 714.0,756.0 715.2,753.2 716.4,752.7 717.6,751.0 718.8,753.5 720.0,750.9 721.2,748.7 722.4,747.9 723.6,749.5 724.8,750.0 726.0,747.8 727.2,750.5 728.4,749.4 729.6,748.4 730.8,748.8 732.0,746.4 733.2,744.1 734.4,743.8 735.6,743.9 736.8,740.1 738.0,739.8 739.2,739.8 740.4,739.0 741.6,738.0 742.8,736.2 744.0,737.7 745.2,736.0 746.4,735.1 747.6,736.0 748.8,734.2 750.0,734.8 751.2,732.2 752.4,732.3 753.6,731.5 754.8,731.7 756.0,732.3 757.2,732.9 758.4,731.4 759.6,732.2 760.8,731.0 762.0,732.4 763.2,732.9 764.4,733.4 765.6,734.3 766.8,733.3 768.0,733.5 769.2,735.1 770.4,735.1 771.6,735.5 772.8,736.1 774.0,736.2 775.2,739.5 776.4,739.6 777.6,737.7 778.8,737.8 780.0,736.4 781.2,736.9 782.4,736.7 783.6,736.9 784.8,739.0 786.0,738.7 787.2,740.1 788.4,740.7 789.6,741.5 790.8,741.1 792.0,741.9 793.2,742.7 794.4,745.5 795.6,744.2 796.8,744.0 798.0,743.9 799.2,744.4 800.4,741.2 801.6,741.1 802.8,740.8 804.0,738.7 805.2,739.7 806.4,738.0 807.6,736.0 808.8,736.3 810.0,736.2 811.2,736.2 812.4,735.7 813.6,735.9 814.8,737.1 816.0,734.3 817.2,736.7 818.4,734.8 819.6,736.0 820.8,734.2 822.0,734.2 823.2,735.3 824.4,737.2 825.6,739.2 826.8,739.1 828.0,742.1 829.2,741.8 830.4,741.3 831.6,742.6 832.8,741.8 834.0,742.1 835.2,742.9 836.4,744.9 837.6,746.6 838.8,743.4 840.0,743.8 841.2,743.8 842.4,742.3 843.6,742.9 844.8,744.4 846.0,743.8 847.2,742.8 848.4,743.6 849.6,743.7 850.8,743.8 852.0,742.0 853.2,743.3 854.4,743.1 855.6,745.1 856.8,745.5 858.0,745.3 859.2,743.3 860.4,742.4 861.6,742.9 862.8,742.9 864.0,741.8 865.2,743.3 866.4,741.9 867.6,740.1 868.8,737.3 870.0,737.6 871.2,738.1 872.4,740.3 873.6,739.4 874.8,740.7 876.0,741.0 877.2,741.6 878.4,740.7 879.6,740.9 880.8,738.8 882.0,739.3 883.2,738.4 884.4,739.3 885.6,738.9 886.8,741.0 888.0,740.8 889.2,743.0 890.4,741.2 891.6,739.0 892.8,740.6 894.0,740.0 895.2,737.9 896.4,737.7 897.6,739.4 898.8,739.0 900.0,742.4 901.2,741.4 902.4,741.1 903.6,740.1 904.8,739.9 906.0,739.2 907.2,739.1 908.4,739.1 909.6,740.2 910.8,739.2 912.0,741.1 913.2,740.8 914.4,739.6 915.6,737.7 916.8,737.4 918.0,737.6 919.2,738.2 920.4,738.5 921.6,739.3 922.8,737.9 924.0,738.5 925.2,738.8 926.4,736.8 927.6,737.8 928.8,737.7 930.0,738.1 931.2,739.4 932.4,738.5 933.6,736.9 934.8,736.2 936.0,736.6 937.2,738.2 938.4,734.6 939.6,735.9 940.8,734.9 942.0,736.3 943.2,736.1 944.4,734.9 945.6,735.8 946.8,735.4 948.0,735.4 949.2,735.5 950.4,736.2 951.6,736.8 952.8,735.5 954.0,734.1 955.2,735.9 956.4,734.1 957.6,734.0 958.8,735.2 960.0,735.1 961.2,735.4 962.4,735.8 963.6,735.4 964.8,734.2 966.0,734.2 967.2,732.8 968.4,733.3 969.6,735.8 970.8,734.6 972.0,734.2 973.2,734.5 974.4,734.5 975.6,734.1 976.8,733.8 978.0,732.1 979.2,730.4 980.4,730.1 981.6,730.0 982.8,730.3 984.0,729.4 985.2,728.0 986.4,728.7 987.6,729.0 988.8,729.7 990.0,729.2 991.2,730.2 992.4,730.4 993.6,728.1 994.8,728.9 996.0,727.3 997.2,726.4 998.4,727.5 999.6,727.9 1000.8,728.3 1002.0,729.4 1003.2,729.3 1004.4,728.3 1005.6,727.2 1006.8,728.1 1008.0,727.6 1009.2,726.0" fill="none" stroke="#7a7a7a" stroke-opacity="0.3" stroke-width="0.7"/><polyline points="608.4,907.9 609.9,907.5 611.1,907.6 611.4,905.0 612.7,894.1 614.4,890.6 615.1,889.4 615.9,888.4 617.4,886.8 618.1,886.5 618.9,880.1 619.3,877.2 620.4,873.9 621.7,869.9 623.4,867.8 624.7,867.3 626.4,864.2 627.9,861.3 628.9,859.1 629.4,857.9 630.9,855.0 632.0,852.9 632.4,852.4 633.9,850.1 635.0,848.1 635.4,847.5 636.9,845.4 638.4,843.2 638.6,843.4 639.9,842.1 641.4,840.5 642.9,838.5 644.4,836.1 644.6,836.1 645.9,829.4 646.4,826.7 647.4,824.3 648.9,820.5 649.4,818.8 650.4,817.0 651.9,814.6 653.1,811.9 653.4,810.9 654.9,809.4 656.4,808.3 657.9,806.6 659.4,801.5 660.0,800.0 660.9,798.8 662.4,796.9 663.9,795.1 665.4,793.3 666.7,791.3 668.4,788.7 669.9,786.7 671.4,784.2 672.9,782.0 673.5,781.4 674.4,780.4 675.9,779.1 677.4,777.5 678.9,775.8 680.2,774.1 681.9,772.0 683.4,770.9 684.9,769.7 686.4,767.9 687.0,767.4 687.9,767.1 689.4,766.2 690.9,763.8 692.4,761.9 693.9,760.6 695.1,759.2 695.4,759.2 696.9,758.2 698.4,757.2 699.9,756.0 701.4,754.9 702.9,754.2 703.2,754.2 704.4,753.3 705.9,752.3 707.4,751.3 708.9,750.6 710.4,750.0 711.3,749.6 711.9,748.9 713.4,746.4 713.9,745.2 714.9,744.2 716.4,742.6 717.9,741.3 719.4,740.5 720.7,739.3 722.4,737.5 723.9,736.0 725.4,734.7 726.9,733.7 727.4,733.6 728.4,733.1 729.9,732.4 731.4,732.4 732.9,731.7 734.4,731.3 735.5,731.4 735.9,731.1 737.4,730.5 738.9,730.1 740.4,729.2 741.9,728.9 743.4,729.1 743.6,728.8 744.9,728.5 746.4,727.9 747.9,727.9 749.4,728.4 750.9,727.9 752.4,727.5 753.9,727.3 754.4,727.3 755.4,727.6 756.9,727.1 758.4,726.5 759.9,726.5 761.4,727.1 762.9,727.3 764.4,726.8 765.9,726.9 767.4,726.4 767.9,726.2 768.9,726.6 770.4,727.0 771.9,727.4 773.4,728.1 774.9,728.7 776.0,729.0 776.4,728.8 777.9,728.1 779.4,728.1 780.9,727.7 782.4,727.3 783.9,727.3 784.1,726.9 785.4,727.2 786.9,728.0 788.4,729.7 789.5,730.7 789.9,730.2 791.4,730.3 792.9,730.6 794.4,731.0 795.9,731.3 797.4,731.2 798.9,730.8 800.0,730.6 800.4,730.6 801.9,729.5 803.4,728.8 803.6,728.9 804.9,728.7 806.4,728.5 807.9,728.2 808.0,728.2 809.4,728.7 810.9,728.9 812.4,729.2 813.9,729.8 814.6,730.4 815.4,730.7 816.9,730.0 818.4,729.6 819.9,729.6 821.4,729.2 822.9,729.3 823.5,729.1 824.4,729.2 825.9,729.7 827.4,730.5 828.9,731.8 830.1,732.3 830.4,732.0 831.9,732.1 833.4,732.9 834.9,733.7 836.4,734.1 837.9,734.2 839.0,734.3 839.4,734.1 840.9,733.8 842.4,734.3 843.9,734.3 845.4,733.9 846.9,733.6 847.8,733.4 848.4,733.5 849.9,733.2 851.4,732.9 852.9,732.3 854.4,731.6 855.9,732.5 857.4,733.5 857.7,733.4 858.9,733.0 860.4,732.3 861.1,732.0 861.9,731.8 863.4,731.4 864.9,731.3 866.4,731.4 867.9,731.6 869.4,731.7 869.9,731.7 870.9,731.5 872.4,731.6 873.9,731.7 875.4,732.1 876.9,732.5 878.4,732.6 878.8,732.5 879.9,732.3 881.4,732.1 882.9,731.9 884.4,731.8 885.9,731.4 887.4,730.7 887.6,730.9 888.9,730.6 890.4,730.1 891.9,730.0 892.0,729.8 893.4,730.2 894.9,730.3 896.4,729.9 897.9,730.0 899.4,730.0 900.9,730.0 902.4,730.4 903.9,730.5 905.4,730.7 906.9,730.9 908.4,730.5 909.9,731.1 911.4,731.9 911.9,731.5 912.9,730.6 914.4,730.6 915.9,730.5 917.4,730.0 918.9,730.1 920.4,729.7 921.9,729.8 923.0,730.3 923.4,730.6 924.9,730.6 926.4,730.0 927.9,729.8 929.4,729.2 930.9,728.9 931.8,729.4 932.4,729.1 933.9,728.7 935.4,728.3 936.9,727.7 938.4,727.6 939.9,727.0 940.7,726.8 941.4,726.9 942.9,726.9 944.4,726.7 945.9,727.3 947.4,727.6 948.9,727.6 950.4,727.6 951.7,727.6 953.4,727.6 954.9,727.3 956.4,727.7 957.9,728.0 959.4,728.0 960.9,727.9 962.4,728.1 962.8,728.1 963.9,727.9 965.4,727.8 966.9,728.0 968.4,728.0 969.9,727.8 971.4,728.0 972.9,728.0 973.8,728.1 974.4,727.9 975.9,727.5 977.4,726.8 978.9,726.0 980.4,725.5 980.5,725.8 981.9,725.5 983.4,725.1 984.9,724.4 986.4,723.8 987.9,723.5 989.3,723.3 990.9,723.3 992.4,723.3 993.9,723.8 995.4,724.1 996.9,723.7 998.2,723.7 999.9,723.9 1001.4,724.1 1002.9,724.6 1004.4,724.8 1005.9,724.7 1007.4,725.3 1008.9,726.0 1010.3,726.2" fill="none" stroke="#0074b6" stroke-width="1.9" stroke-linejoin="round"/></g><rect x="588.6" y="697.6" width="441.9" height="220.60000000000002" fill="none" stroke="#4a4a4a" stroke-width="0.9"/><text x="608.80" y="929.20" font-size="7.89" text-anchor="middle" fill="#262626" font-family="Liberation Sans" font-weight="normal" textLength="11.85" lengthAdjust="spacingAndGlyphs" stroke="#262626" stroke-width="0.1">0.0</text><text x="675.67" y="929.20" font-size="7.89" text-anchor="middle" fill="#262626" font-family="Liberation Sans" font-weight="normal" textLength="11.85" lengthAdjust="spacingAndGlyphs" stroke="#262626" stroke-width="0.1">0.2</text><text x="742.54" y="929.20" font-size="7.89" text-anchor="middle" fill="#262626" font-family="Liberation Sans" font-weight="normal" textLength="11.85" lengthAdjust="spacingAndGlyphs" stroke="#262626" stroke-width="0.1">0.4</text><text x="809.41" y="929.20" font-size="7.89" text-anchor="middle" fill="#262626" font-family="Liberation Sans" font-weight="normal" textLength="11.85" lengthAdjust="spacingAndGlyphs" stroke="#262626" stroke-width="0.1">0.6</text><text x="876.28" y="929.20" font-size="7.89" text-anchor="middle" fill="#262626" font-family="Liberation Sans" font-weight="normal" textLength="11.85" lengthAdjust="spacingAndGlyphs" stroke="#262626" stroke-width="0.1">0.8</text><text x="943.15" y="929.20" font-size="7.89" text-anchor="middle" fill="#262626" font-family="Liberation Sans" font-weight="normal" textLength="11.85" lengthAdjust="spacingAndGlyphs" stroke="#262626" stroke-width="0.1">1.0</text><text x="1010.02" y="929.20" font-size="7.89" text-anchor="middle" fill="#262626" font-family="Liberation Sans" font-weight="normal" textLength="11.85" lengthAdjust="spacingAndGlyphs" stroke="#262626" stroke-width="0.1">1.2</text><text x="583.00" y="910.70" font-size="7.89" text-anchor="end" fill="#262626" font-family="Liberation Sans" font-weight="normal" textLength="4.74" lengthAdjust="spacingAndGlyphs" stroke="#262626" stroke-width="0.1">0</text><text x="583.00" y="877.45" font-size="7.89" text-anchor="end" fill="#262626" font-family="Liberation Sans" font-weight="normal" textLength="9.48" lengthAdjust="spacingAndGlyphs" stroke="#262626" stroke-width="0.1">20</text><text x="583.00" y="844.20" font-size="7.89" text-anchor="end" fill="#262626" font-family="Liberation Sans" font-weight="normal" textLength="9.48" lengthAdjust="spacingAndGlyphs" stroke="#262626" stroke-width="0.1">40</text><text x="583.00" y="810.95" font-size="7.89" text-anchor="end" fill="#262626" font-family="Liberation Sans" font-weight="normal" textLength="9.48" lengthAdjust="spacingAndGlyphs" stroke="#262626" stroke-width="0.1">60</text><text x="583.00" y="777.70" font-size="7.89" text-anchor="end" fill="#262626" font-family="Liberation Sans" font-weight="normal" textLength="9.48" lengthAdjust="spacingAndGlyphs" stroke="#262626" stroke-width="0.1">80</text><text x="583.00" y="744.45" font-size="7.89" text-anchor="end" fill="#262626" font-family="Liberation Sans" font-weight="normal" textLength="14.22" lengthAdjust="spacingAndGlyphs" stroke="#262626" stroke-width="0.1">100</text><text x="583.00" y="711.20" font-size="7.89" text-anchor="end" fill="#262626" font-family="Liberation Sans" font-weight="normal" textLength="14.22" lengthAdjust="spacingAndGlyphs" stroke="#262626" stroke-width="0.1">120</text><path d="M608.80 918.2v2.7M675.67 918.2v2.7M742.54 918.2v2.7M809.41 918.2v2.7M876.28 918.2v2.7M943.15 918.2v2.7M1010.02 918.2v2.7M588.6 908.00h-2.7M588.6 874.75h-2.7M588.6 841.50h-2.7M588.6 808.25h-2.7M588.6 775.00h-2.7M588.6 741.75h-2.7M588.6 708.50h-2.7" stroke="#4a4a4a" stroke-width="0.9"/><text x="809.55" y="693.10" font-size="9.46" text-anchor="middle" fill="#262626" font-family="Liberation Sans" font-weight="normal" textLength="70.19" lengthAdjust="spacingAndGlyphs" stroke="#262626" stroke-width="0.1">Mini-crane Beta</text><text x="809.55" y="939.40" font-size="7.89" text-anchor="middle" fill="#262626" font-family="Liberation Sans" font-weight="normal" textLength="69.93" lengthAdjust="spacingAndGlyphs" stroke="#262626" stroke-width="0.1">Environment steps</text><text x="1030.50" y="938.40" font-size="7.89" text-anchor="end" fill="#262626" font-family="Liberation Sans" font-weight="normal" textLength="14.06" lengthAdjust="spacingAndGlyphs" stroke="#262626" stroke-width="0.1">1e6</text><text x="0.00" y="0.00" font-size="7.89" text-anchor="middle" fill="#262626" font-family="Liberation Sans" font-weight="normal" textLength="61.70" lengthAdjust="spacingAndGlyphs" stroke="#262626" stroke-width="0.1" transform="translate(563.78,807.90) rotate(-90)">Evaluation score</text><rect x="592.10" y="701.00" width="104.4" height="24.5" rx="1.5" fill="#fff" fill-opacity="0.8" stroke="#dcdcdc" stroke-width="0.8"/><path d="M594.80 707.60h16.4" stroke="#0074b6" stroke-width="1.9"/><rect x="594.80" y="715.60" width="15.8" height="5.9" fill="#bcdaeb" stroke="#a8cde3" stroke-width="0.6"/><text x="616.80" y="710.20" font-size="7.89" text-anchor="start" fill="#262626" font-family="Liberation Sans" font-weight="normal" textLength="76.39" lengthAdjust="spacingAndGlyphs" stroke="#262626" stroke-width="0.1">Mean (across seeds)</text><text x="616.80" y="721.10" font-size="7.89" text-anchor="start" fill="#262626" font-family="Liberation Sans" font-weight="normal" textLength="42.81" lengthAdjust="spacingAndGlyphs" stroke="#262626" stroke-width="0.1">Mean ± std</text><text x="794.00" y="994.30" font-size="25.00" text-anchor="middle" fill="#000" font-family="Liberation Serif" font-weight="bold">f</text></svg>
</body></html>
